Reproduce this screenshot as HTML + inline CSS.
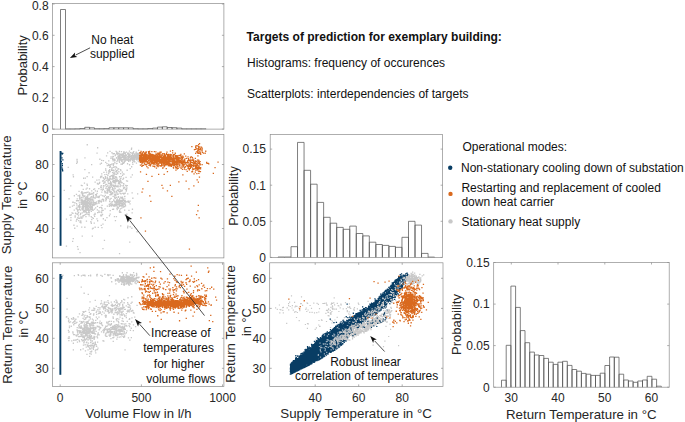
<!DOCTYPE html><html><head><meta charset="utf-8"><style>html,body{margin:0;padding:0;background:#fff;}svg{display:block;}</style></head><body><svg width="685" height="422" viewBox="0 0 685 422">
<rect width="685" height="422" fill="#fff"/>
<path d="M60.50 129.1V9.50H65.50V129.1M65.50 129.1V128.90H70.20V129.1M70.20 129.1V128.90H75.05V129.1M75.05 129.1V128.80H79.90V129.1M79.90 129.1V128.50H84.75V129.1M84.75 129.1V127.30H89.60V129.1M89.60 129.1V127.80H94.45V129.1M94.45 129.1V128.70H99.30V129.1M99.30 129.1V128.70H104.15V129.1M104.15 129.1V128.60H109.00V129.1M109.00 129.1V127.80H113.85V129.1M113.85 129.1V127.80H118.70V129.1M118.70 129.1V127.80H123.55V129.1M123.55 129.1V127.80H128.40V129.1M128.40 129.1V127.90H133.25V129.1M133.25 129.1V128.70H138.10V129.1M138.10 129.1V128.80H142.95V129.1M142.95 129.1V128.80H147.80V129.1M147.80 129.1V128.50H152.65V129.1M152.65 129.1V128.10H157.50V129.1M157.50 129.1V127.10H162.35V129.1M162.35 129.1V126.80H167.20V129.1M167.20 129.1V127.50H172.05V129.1M172.05 129.1V127.70H176.90V129.1M176.90 129.1V128.10H181.75V129.1M181.75 129.1V128.80H186.60V129.1M186.60 129.1V128.80H191.45V129.1M191.45 129.1V128.80H196.30V129.1M196.30 129.1V128.80H201.15V129.1M201.15 129.1V128.80H206.00V129.1" fill="#fff" stroke="#555555" stroke-width="0.75"/>
<rect x="52.6" y="3.6" width="171.30" height="125.50" fill="none" stroke="#8c8c8c" stroke-width="0.7"/>
<line x1="52.6" y1="129.1" x2="54.6" y2="129.1" stroke="#8c8c8c" stroke-width="0.7"/>
<line x1="223.9" y1="129.1" x2="221.9" y2="129.1" stroke="#8c8c8c" stroke-width="0.7"/>
<text x="48.6" y="133.40" text-anchor="end" font-size="12" font-family="Liberation Sans, sans-serif" fill="#262626">0</text>
<line x1="52.6" y1="97.8" x2="54.6" y2="97.8" stroke="#8c8c8c" stroke-width="0.7"/>
<line x1="223.9" y1="97.8" x2="221.9" y2="97.8" stroke="#8c8c8c" stroke-width="0.7"/>
<text x="48.6" y="102.10" text-anchor="end" font-size="12" font-family="Liberation Sans, sans-serif" fill="#262626">0.2</text>
<line x1="52.6" y1="66.6" x2="54.6" y2="66.6" stroke="#8c8c8c" stroke-width="0.7"/>
<line x1="223.9" y1="66.6" x2="221.9" y2="66.6" stroke="#8c8c8c" stroke-width="0.7"/>
<text x="48.6" y="70.90" text-anchor="end" font-size="12" font-family="Liberation Sans, sans-serif" fill="#262626">0.4</text>
<line x1="52.6" y1="35.3" x2="54.6" y2="35.3" stroke="#8c8c8c" stroke-width="0.7"/>
<line x1="223.9" y1="35.3" x2="221.9" y2="35.3" stroke="#8c8c8c" stroke-width="0.7"/>
<text x="48.6" y="39.60" text-anchor="end" font-size="12" font-family="Liberation Sans, sans-serif" fill="#262626">0.6</text>
<line x1="52.6" y1="4.0" x2="54.6" y2="4.0" stroke="#8c8c8c" stroke-width="0.7"/>
<line x1="223.9" y1="4.0" x2="221.9" y2="4.0" stroke="#8c8c8c" stroke-width="0.7"/>
<text x="48.6" y="9.60" text-anchor="end" font-size="12" font-family="Liberation Sans, sans-serif" fill="#262626">0.8</text>
<text transform="translate(27.4,65.4) rotate(-90)" text-anchor="middle" font-size="13" font-family="Liberation Sans, sans-serif" fill="#262626" textLength="60.2" lengthAdjust="spacingAndGlyphs">Probability</text>
<text x="112.3" y="43.9" text-anchor="middle" font-size="12" font-family="Liberation Sans, sans-serif" fill="#111">No heat</text>
<text x="112.3" y="58.0" text-anchor="middle" font-size="12" font-family="Liberation Sans, sans-serif" fill="#111">supplied</text>
<line x1="90.1" y1="47.8" x2="75.71" y2="54.99" stroke="#222" stroke-width="0.8"/>
<path d="M69.90 57.90L75.04 52.53L74.82 55.44L77.28 57.01Z" fill="#111"/>
<path d="M101.4 204.7h1.3v1.3h-1.3zM97.2 183.3h1.3v1.3h-1.3zM94.5 181.5h1.3v1.3h-1.3zM102.3 223.5h1.3v1.3h-1.3zM94.0 188.2h1.3v1.3h-1.3zM108.7 205.8h1.3v1.3h-1.3zM102.9 182.6h1.3v1.3h-1.3zM100.9 211.9h1.3v1.3h-1.3zM81.2 191.1h1.3v1.3h-1.3zM72.8 176.1h1.3v1.3h-1.3zM73.7 195.1h1.3v1.3h-1.3zM82.3 204.2h1.3v1.3h-1.3zM103.7 196.0h1.3v1.3h-1.3zM63.6 189.7h1.3v1.3h-1.3zM100.6 201.4h1.3v1.3h-1.3zM78.4 190.8h1.3v1.3h-1.3zM86.7 184.8h1.3v1.3h-1.3zM117.3 184.8h1.3v1.3h-1.3zM100.9 215.3h1.3v1.3h-1.3zM92.6 197.3h1.3v1.3h-1.3zM103.0 200.5h1.3v1.3h-1.3zM83.0 200.7h1.3v1.3h-1.3zM121.7 171.5h1.3v1.3h-1.3zM114.2 201.5h1.3v1.3h-1.3zM91.7 235.4h1.3v1.3h-1.3zM112.8 177.8h1.3v1.3h-1.3zM102.5 209.7h1.3v1.3h-1.3zM98.5 211.6h1.3v1.3h-1.3zM100.4 211.4h1.3v1.3h-1.3zM122.9 187.2h1.3v1.3h-1.3zM104.4 191.0h1.3v1.3h-1.3zM103.3 178.0h1.3v1.3h-1.3zM92.7 195.8h1.3v1.3h-1.3zM114.8 220.0h1.3v1.3h-1.3zM81.5 185.0h1.3v1.3h-1.3zM111.1 163.5h1.3v1.3h-1.3zM94.4 197.6h1.3v1.3h-1.3zM120.2 211.8h1.3v1.3h-1.3zM96.4 192.7h1.3v1.3h-1.3zM97.6 226.8h1.3v1.3h-1.3zM94.9 193.9h1.3v1.3h-1.3zM106.6 197.2h1.3v1.3h-1.3zM98.4 179.3h1.3v1.3h-1.3zM101.2 191.4h1.3v1.3h-1.3zM118.8 211.1h1.3v1.3h-1.3zM101.0 211.4h1.3v1.3h-1.3zM96.3 218.3h1.3v1.3h-1.3zM101.3 209.9h1.3v1.3h-1.3zM82.0 205.6h1.3v1.3h-1.3zM76.0 162.7h1.3v1.3h-1.3zM96.8 183.2h1.3v1.3h-1.3zM103.8 239.8h1.3v1.3h-1.3zM88.9 188.1h1.3v1.3h-1.3zM104.4 208.2h1.3v1.3h-1.3zM98.7 195.6h1.3v1.3h-1.3zM111.9 208.7h1.3v1.3h-1.3zM85.8 197.9h1.3v1.3h-1.3zM101.9 180.4h1.3v1.3h-1.3zM105.2 183.9h1.3v1.3h-1.3zM115.9 202.8h1.3v1.3h-1.3zM102.7 188.7h1.3v1.3h-1.3zM99.6 163.4h1.3v1.3h-1.3zM84.4 205.9h1.3v1.3h-1.3zM69.4 214.6h1.3v1.3h-1.3zM75.2 213.0h1.3v1.3h-1.3zM88.7 213.4h1.3v1.3h-1.3zM103.3 171.7h1.3v1.3h-1.3zM120.1 225.3h1.3v1.3h-1.3zM100.4 194.4h1.3v1.3h-1.3zM99.0 181.8h1.3v1.3h-1.3zM117.8 189.6h1.3v1.3h-1.3zM100.6 185.1h1.3v1.3h-1.3zM92.0 176.4h1.3v1.3h-1.3zM120.2 196.6h1.3v1.3h-1.3zM115.8 199.6h1.3v1.3h-1.3zM90.9 193.5h1.3v1.3h-1.3zM92.9 199.5h1.3v1.3h-1.3zM95.7 194.0h1.3v1.3h-1.3zM80.7 184.8h1.3v1.3h-1.3zM126.2 187.3h1.3v1.3h-1.3zM85.5 205.4h1.3v1.3h-1.3zM122.5 173.2h1.3v1.3h-1.3zM98.2 188.0h1.3v1.3h-1.3zM74.9 212.6h1.3v1.3h-1.3zM101.0 200.6h1.3v1.3h-1.3zM90.1 207.5h1.3v1.3h-1.3zM93.3 196.8h1.3v1.3h-1.3zM84.7 177.5h1.3v1.3h-1.3zM121.4 190.2h1.3v1.3h-1.3zM105.7 198.7h1.3v1.3h-1.3zM94.7 190.2h1.3v1.3h-1.3zM110.8 193.9h1.3v1.3h-1.3zM99.1 199.7h1.3v1.3h-1.3zM119.0 211.6h1.3v1.3h-1.3zM107.1 189.2h1.3v1.3h-1.3zM80.6 216.4h1.3v1.3h-1.3zM115.8 196.8h1.3v1.3h-1.3zM109.5 213.4h1.3v1.3h-1.3zM113.8 215.9h1.3v1.3h-1.3zM94.5 226.6h1.3v1.3h-1.3zM82.7 214.9h1.3v1.3h-1.3zM108.8 215.1h1.3v1.3h-1.3zM129.5 226.1h1.3v1.3h-1.3zM84.2 169.0h1.3v1.3h-1.3zM113.6 181.1h1.3v1.3h-1.3zM101.2 214.5h1.3v1.3h-1.3zM76.7 161.4h1.3v1.3h-1.3zM105.2 200.1h1.3v1.3h-1.3zM97.7 200.0h1.3v1.3h-1.3zM88.4 172.1h1.3v1.3h-1.3zM98.9 181.9h1.3v1.3h-1.3zM76.7 208.5h1.3v1.3h-1.3zM100.4 206.7h1.3v1.3h-1.3zM86.5 187.5h1.3v1.3h-1.3zM86.4 183.4h1.3v1.3h-1.3zM104.3 185.3h1.3v1.3h-1.3zM106.7 205.5h1.3v1.3h-1.3zM131.7 174.3h1.3v1.3h-1.3zM114.7 197.7h1.3v1.3h-1.3zM101.1 173.3h1.3v1.3h-1.3zM94.4 212.7h1.3v1.3h-1.3zM100.1 200.8h1.3v1.3h-1.3zM97.0 220.1h1.3v1.3h-1.3zM101.0 159.7h1.3v1.3h-1.3zM91.0 163.9h1.3v1.3h-1.3zM121.4 200.2h1.3v1.3h-1.3zM83.8 182.4h1.3v1.3h-1.3zM118.3 202.2h1.3v1.3h-1.3zM102.1 198.4h1.3v1.3h-1.3zM101.9 213.8h1.3v1.3h-1.3zM109.6 203.2h1.3v1.3h-1.3zM85.7 208.5h1.3v1.3h-1.3zM91.1 219.0h1.3v1.3h-1.3zM82.3 196.9h1.3v1.3h-1.3zM101.2 175.5h1.3v1.3h-1.3zM127.2 225.6h1.3v1.3h-1.3zM94.4 213.2h1.3v1.3h-1.3zM107.0 152.3h1.3v1.3h-1.3zM105.1 198.2h1.3v1.3h-1.3zM102.6 180.0h1.3v1.3h-1.3zM97.3 196.1h1.3v1.3h-1.3zM119.2 205.4h1.3v1.3h-1.3zM101.3 226.9h1.3v1.3h-1.3zM93.0 192.3h1.3v1.3h-1.3zM74.1 227.6h1.3v1.3h-1.3zM115.8 215.9h1.3v1.3h-1.3zM111.4 201.3h1.3v1.3h-1.3zM104.6 194.8h1.3v1.3h-1.3zM98.3 200.3h1.3v1.3h-1.3zM124.0 209.4h1.3v1.3h-1.3zM100.5 188.9h1.3v1.3h-1.3zM91.8 228.2h1.3v1.3h-1.3zM109.0 200.6h1.3v1.3h-1.3zM96.2 179.4h1.3v1.3h-1.3zM100.3 215.1h1.3v1.3h-1.3zM95.5 195.3h1.3v1.3h-1.3zM98.0 201.3h1.3v1.3h-1.3zM77.5 195.1h1.3v1.3h-1.3zM88.5 215.3h1.3v1.3h-1.3zM131.5 212.3h1.3v1.3h-1.3zM72.5 201.6h1.3v1.3h-1.3zM70.1 185.2h1.3v1.3h-1.3zM136.5 231.1h1.3v1.3h-1.3zM72.0 240.7h1.3v1.3h-1.3zM76.4 160.2h1.3v1.3h-1.3zM105.9 155.2h1.3v1.3h-1.3zM96.4 152.5h1.3v1.3h-1.3zM118.9 253.0h1.3v1.3h-1.3zM77.5 248.6h1.3v1.3h-1.3zM131.0 166.1h1.3v1.3h-1.3zM79.4 251.9h1.3v1.3h-1.3zM120.3 163.5h1.3v1.3h-1.3zM68.4 198.1h1.3v1.3h-1.3zM98.4 197.0h1.3v1.3h-1.3zM65.8 245.5h1.3v1.3h-1.3zM86.6 144.1h1.3v1.3h-1.3zM86.5 175.9h1.3v1.3h-1.3zM116.6 208.9h1.3v1.3h-1.3zM97.0 147.1h1.3v1.3h-1.3zM67.6 166.8h1.3v1.3h-1.3zM137.0 193.3h1.3v1.3h-1.3zM129.1 241.5h1.3v1.3h-1.3zM131.2 227.6h1.3v1.3h-1.3zM81.6 235.5h1.3v1.3h-1.3zM92.5 227.6h1.3v1.3h-1.3zM80.2 221.4h1.3v1.3h-1.3zM72.6 237.9h1.3v1.3h-1.3zM65.8 218.4h1.3v1.3h-1.3zM100.6 224.7h1.3v1.3h-1.3zM72.5 174.3h1.3v1.3h-1.3zM76.4 158.8h1.3v1.3h-1.3zM127.0 227.1h1.3v1.3h-1.3zM99.2 158.6h1.3v1.3h-1.3zM76.9 246.0h1.3v1.3h-1.3zM112.9 208.6h1.3v1.3h-1.3zM83.0 177.6h1.3v1.3h-1.3zM102.3 248.0h1.3v1.3h-1.3zM84.3 157.3h1.3v1.3h-1.3zM101.5 199.0h1.3v1.3h-1.3zM92.9 192.0h1.3v1.3h-1.3zM83.0 203.4h1.3v1.3h-1.3zM89.5 200.1h1.3v1.3h-1.3zM93.0 203.6h1.3v1.3h-1.3zM80.7 196.8h1.3v1.3h-1.3zM91.8 205.1h1.3v1.3h-1.3zM76.9 210.4h1.3v1.3h-1.3zM90.6 210.4h1.3v1.3h-1.3zM85.2 200.6h1.3v1.3h-1.3zM81.2 217.6h1.3v1.3h-1.3zM86.4 211.9h1.3v1.3h-1.3zM83.8 203.3h1.3v1.3h-1.3zM78.2 200.1h1.3v1.3h-1.3zM92.8 194.8h1.3v1.3h-1.3zM93.2 204.4h1.3v1.3h-1.3zM81.6 199.3h1.3v1.3h-1.3zM84.8 202.1h1.3v1.3h-1.3zM84.4 197.4h1.3v1.3h-1.3zM85.7 196.2h1.3v1.3h-1.3zM80.3 202.1h1.3v1.3h-1.3zM92.2 193.2h1.3v1.3h-1.3zM87.4 198.5h1.3v1.3h-1.3zM82.0 207.5h1.3v1.3h-1.3zM84.5 211.3h1.3v1.3h-1.3zM83.1 204.7h1.3v1.3h-1.3zM86.1 197.8h1.3v1.3h-1.3zM90.6 201.4h1.3v1.3h-1.3zM90.7 202.1h1.3v1.3h-1.3zM81.4 201.7h1.3v1.3h-1.3zM87.6 208.1h1.3v1.3h-1.3zM82.4 202.1h1.3v1.3h-1.3zM77.9 206.3h1.3v1.3h-1.3zM81.4 191.5h1.3v1.3h-1.3zM87.0 209.0h1.3v1.3h-1.3zM79.0 195.8h1.3v1.3h-1.3zM83.3 195.6h1.3v1.3h-1.3zM89.4 197.5h1.3v1.3h-1.3zM83.4 205.8h1.3v1.3h-1.3zM83.2 204.9h1.3v1.3h-1.3zM82.0 195.1h1.3v1.3h-1.3zM77.3 213.5h1.3v1.3h-1.3zM85.6 203.8h1.3v1.3h-1.3zM87.2 203.3h1.3v1.3h-1.3zM87.6 213.8h1.3v1.3h-1.3zM81.6 193.0h1.3v1.3h-1.3zM81.8 194.3h1.3v1.3h-1.3zM91.5 207.3h1.3v1.3h-1.3zM82.1 194.0h1.3v1.3h-1.3zM85.4 210.7h1.3v1.3h-1.3zM71.8 205.5h1.3v1.3h-1.3zM81.4 208.6h1.3v1.3h-1.3zM81.4 200.6h1.3v1.3h-1.3zM79.1 196.5h1.3v1.3h-1.3zM95.0 207.3h1.3v1.3h-1.3zM85.1 197.1h1.3v1.3h-1.3zM76.9 200.0h1.3v1.3h-1.3zM87.2 201.8h1.3v1.3h-1.3zM86.8 195.6h1.3v1.3h-1.3zM87.0 202.1h1.3v1.3h-1.3zM94.4 213.6h1.3v1.3h-1.3zM86.6 197.8h1.3v1.3h-1.3zM87.0 198.7h1.3v1.3h-1.3zM83.3 202.0h1.3v1.3h-1.3zM81.6 206.0h1.3v1.3h-1.3zM86.8 203.9h1.3v1.3h-1.3zM86.3 198.0h1.3v1.3h-1.3zM82.1 200.9h1.3v1.3h-1.3zM84.3 203.8h1.3v1.3h-1.3zM87.3 194.2h1.3v1.3h-1.3zM87.7 194.3h1.3v1.3h-1.3zM84.0 200.6h1.3v1.3h-1.3zM75.9 202.9h1.3v1.3h-1.3zM88.2 201.4h1.3v1.3h-1.3zM85.0 200.1h1.3v1.3h-1.3zM82.0 200.7h1.3v1.3h-1.3zM84.3 202.9h1.3v1.3h-1.3zM80.7 203.8h1.3v1.3h-1.3zM88.1 201.5h1.3v1.3h-1.3zM84.9 205.7h1.3v1.3h-1.3zM78.2 205.1h1.3v1.3h-1.3zM88.7 204.1h1.3v1.3h-1.3zM89.5 198.4h1.3v1.3h-1.3zM85.9 206.2h1.3v1.3h-1.3zM89.7 203.6h1.3v1.3h-1.3zM79.0 205.6h1.3v1.3h-1.3zM93.8 208.4h1.3v1.3h-1.3zM88.6 193.0h1.3v1.3h-1.3zM92.5 201.5h1.3v1.3h-1.3zM73.4 204.6h1.3v1.3h-1.3zM79.1 194.6h1.3v1.3h-1.3zM83.9 210.0h1.3v1.3h-1.3zM85.3 204.0h1.3v1.3h-1.3zM97.0 211.9h1.3v1.3h-1.3zM86.8 200.9h1.3v1.3h-1.3zM80.4 198.2h1.3v1.3h-1.3zM89.7 204.7h1.3v1.3h-1.3zM88.0 208.3h1.3v1.3h-1.3zM83.1 202.0h1.3v1.3h-1.3zM91.4 205.9h1.3v1.3h-1.3zM93.2 204.7h1.3v1.3h-1.3zM85.6 204.5h1.3v1.3h-1.3zM81.8 192.5h1.3v1.3h-1.3zM90.5 202.0h1.3v1.3h-1.3zM89.0 192.2h1.3v1.3h-1.3zM85.3 198.8h1.3v1.3h-1.3zM82.6 188.8h1.3v1.3h-1.3zM85.5 207.7h1.3v1.3h-1.3zM89.4 198.7h1.3v1.3h-1.3zM87.3 206.9h1.3v1.3h-1.3zM72.2 201.6h1.3v1.3h-1.3zM90.3 206.4h1.3v1.3h-1.3zM96.7 209.2h1.3v1.3h-1.3zM89.1 204.2h1.3v1.3h-1.3zM91.7 199.1h1.3v1.3h-1.3zM87.1 207.8h1.3v1.3h-1.3zM98.1 201.4h1.3v1.3h-1.3zM87.1 203.5h1.3v1.3h-1.3zM94.7 202.2h1.3v1.3h-1.3zM95.4 196.6h1.3v1.3h-1.3zM86.3 201.2h1.3v1.3h-1.3zM91.7 208.6h1.3v1.3h-1.3zM79.0 196.9h1.3v1.3h-1.3zM89.2 198.4h1.3v1.3h-1.3zM79.0 208.6h1.3v1.3h-1.3zM90.1 205.3h1.3v1.3h-1.3zM84.7 208.5h1.3v1.3h-1.3zM86.0 208.9h1.3v1.3h-1.3zM82.3 197.2h1.3v1.3h-1.3zM88.5 198.1h1.3v1.3h-1.3zM91.1 203.9h1.3v1.3h-1.3zM82.3 202.8h1.3v1.3h-1.3zM85.4 207.8h1.3v1.3h-1.3zM83.9 199.7h1.3v1.3h-1.3zM94.0 215.8h1.3v1.3h-1.3zM98.3 202.7h1.3v1.3h-1.3zM88.6 211.6h1.3v1.3h-1.3zM86.7 196.5h1.3v1.3h-1.3zM88.0 205.1h1.3v1.3h-1.3zM82.8 192.5h1.3v1.3h-1.3zM79.4 206.3h1.3v1.3h-1.3zM83.2 201.5h1.3v1.3h-1.3zM88.5 206.1h1.3v1.3h-1.3zM85.5 205.3h1.3v1.3h-1.3zM82.5 200.2h1.3v1.3h-1.3zM81.7 209.1h1.3v1.3h-1.3zM87.2 197.9h1.3v1.3h-1.3zM85.4 201.0h1.3v1.3h-1.3zM91.2 192.8h1.3v1.3h-1.3zM81.6 200.1h1.3v1.3h-1.3zM101.3 208.1h1.3v1.3h-1.3zM86.7 206.6h1.3v1.3h-1.3zM98.7 200.9h1.3v1.3h-1.3zM85.3 209.6h1.3v1.3h-1.3zM90.1 206.4h1.3v1.3h-1.3zM84.6 213.9h1.3v1.3h-1.3zM96.8 205.7h1.3v1.3h-1.3zM91.1 190.2h1.3v1.3h-1.3zM90.9 201.2h1.3v1.3h-1.3zM89.7 206.4h1.3v1.3h-1.3zM85.5 192.2h1.3v1.3h-1.3zM89.4 197.9h1.3v1.3h-1.3zM85.5 198.7h1.3v1.3h-1.3zM85.5 188.5h1.3v1.3h-1.3zM94.0 203.9h1.3v1.3h-1.3zM93.5 214.2h1.3v1.3h-1.3zM87.5 191.5h1.3v1.3h-1.3zM82.4 195.1h1.3v1.3h-1.3zM84.6 202.8h1.3v1.3h-1.3zM76.3 204.4h1.3v1.3h-1.3zM79.0 204.1h1.3v1.3h-1.3zM86.7 200.5h1.3v1.3h-1.3zM86.9 199.1h1.3v1.3h-1.3zM84.0 192.3h1.3v1.3h-1.3zM87.2 213.4h1.3v1.3h-1.3zM98.2 210.3h1.3v1.3h-1.3zM91.2 198.3h1.3v1.3h-1.3zM95.3 202.0h1.3v1.3h-1.3zM87.0 200.6h1.3v1.3h-1.3zM87.9 199.7h1.3v1.3h-1.3zM86.9 195.8h1.3v1.3h-1.3zM85.3 216.0h1.3v1.3h-1.3zM87.0 200.9h1.3v1.3h-1.3zM90.3 206.6h1.3v1.3h-1.3zM81.2 201.1h1.3v1.3h-1.3zM92.4 204.0h1.3v1.3h-1.3zM88.0 211.7h1.3v1.3h-1.3zM83.6 202.8h1.3v1.3h-1.3zM84.5 211.3h1.3v1.3h-1.3zM76.6 198.3h1.3v1.3h-1.3zM84.4 206.3h1.3v1.3h-1.3zM90.7 210.7h1.3v1.3h-1.3zM78.7 206.9h1.3v1.3h-1.3zM85.7 198.4h1.3v1.3h-1.3zM90.3 196.8h1.3v1.3h-1.3zM75.9 200.1h1.3v1.3h-1.3zM79.1 198.5h1.3v1.3h-1.3zM89.4 204.2h1.3v1.3h-1.3zM96.1 201.2h1.3v1.3h-1.3zM78.9 197.8h1.3v1.3h-1.3zM82.3 195.0h1.3v1.3h-1.3zM89.7 198.5h1.3v1.3h-1.3zM76.5 206.5h1.3v1.3h-1.3zM86.7 204.5h1.3v1.3h-1.3zM87.9 206.1h1.3v1.3h-1.3zM87.6 209.8h1.3v1.3h-1.3zM89.7 204.7h1.3v1.3h-1.3zM89.6 193.6h1.3v1.3h-1.3zM86.4 200.8h1.3v1.3h-1.3zM88.5 194.2h1.3v1.3h-1.3zM96.3 203.0h1.3v1.3h-1.3zM80.7 192.1h1.3v1.3h-1.3zM85.8 201.8h1.3v1.3h-1.3zM83.4 202.9h1.3v1.3h-1.3zM83.8 205.7h1.3v1.3h-1.3zM83.4 202.1h1.3v1.3h-1.3zM92.7 217.8h1.3v1.3h-1.3zM81.8 199.6h1.3v1.3h-1.3zM82.7 207.1h1.3v1.3h-1.3zM81.0 199.4h1.3v1.3h-1.3zM87.2 196.5h1.3v1.3h-1.3zM82.1 199.5h1.3v1.3h-1.3zM75.8 193.7h1.3v1.3h-1.3zM85.1 203.2h1.3v1.3h-1.3zM86.3 191.7h1.3v1.3h-1.3zM84.8 207.1h1.3v1.3h-1.3zM90.4 201.9h1.3v1.3h-1.3zM82.5 206.1h1.3v1.3h-1.3zM84.2 195.3h1.3v1.3h-1.3zM82.9 211.0h1.3v1.3h-1.3zM88.6 209.3h1.3v1.3h-1.3zM84.7 208.0h1.3v1.3h-1.3zM84.0 201.4h1.3v1.3h-1.3zM101.0 207.0h1.3v1.3h-1.3zM84.6 201.8h1.3v1.3h-1.3zM89.1 209.6h1.3v1.3h-1.3zM84.7 191.9h1.3v1.3h-1.3zM85.8 202.4h1.3v1.3h-1.3zM88.0 210.3h1.3v1.3h-1.3zM89.1 207.2h1.3v1.3h-1.3zM81.3 207.6h1.3v1.3h-1.3zM98.9 207.0h1.3v1.3h-1.3zM88.7 203.3h1.3v1.3h-1.3zM97.2 196.8h1.3v1.3h-1.3zM86.7 205.1h1.3v1.3h-1.3zM91.4 199.7h1.3v1.3h-1.3zM89.0 200.7h1.3v1.3h-1.3zM88.0 201.6h1.3v1.3h-1.3zM81.1 202.2h1.3v1.3h-1.3zM92.2 196.5h1.3v1.3h-1.3zM86.0 206.3h1.3v1.3h-1.3zM81.5 203.4h1.3v1.3h-1.3zM81.5 209.2h1.3v1.3h-1.3zM100.1 214.5h1.3v1.3h-1.3zM86.1 206.8h1.3v1.3h-1.3zM88.0 203.0h1.3v1.3h-1.3zM95.9 194.4h1.3v1.3h-1.3zM93.2 202.1h1.3v1.3h-1.3zM95.1 203.5h1.3v1.3h-1.3zM83.7 204.0h1.3v1.3h-1.3zM91.4 202.6h1.3v1.3h-1.3zM90.0 199.2h1.3v1.3h-1.3zM75.6 207.8h1.3v1.3h-1.3zM91.2 203.2h1.3v1.3h-1.3zM87.7 208.6h1.3v1.3h-1.3zM84.8 198.1h1.3v1.3h-1.3zM86.3 209.5h1.3v1.3h-1.3zM79.7 209.5h1.3v1.3h-1.3zM83.8 195.7h1.3v1.3h-1.3zM94.3 201.8h1.3v1.3h-1.3zM80.2 200.2h1.3v1.3h-1.3zM92.5 209.5h1.3v1.3h-1.3zM85.0 204.8h1.3v1.3h-1.3zM91.3 198.5h1.3v1.3h-1.3zM89.3 202.2h1.3v1.3h-1.3zM84.4 199.4h1.3v1.3h-1.3zM87.7 202.5h1.3v1.3h-1.3zM84.2 199.8h1.3v1.3h-1.3zM93.5 203.6h1.3v1.3h-1.3zM92.2 209.6h1.3v1.3h-1.3zM90.6 216.0h1.3v1.3h-1.3zM82.8 207.2h1.3v1.3h-1.3zM85.6 213.5h1.3v1.3h-1.3zM96.7 190.6h1.3v1.3h-1.3zM82.0 206.3h1.3v1.3h-1.3zM91.7 206.8h1.3v1.3h-1.3zM87.0 205.1h1.3v1.3h-1.3zM90.9 201.9h1.3v1.3h-1.3zM93.0 188.8h1.3v1.3h-1.3zM90.8 196.1h1.3v1.3h-1.3zM92.6 201.0h1.3v1.3h-1.3zM82.5 204.6h1.3v1.3h-1.3zM82.3 196.9h1.3v1.3h-1.3zM78.7 202.2h1.3v1.3h-1.3zM90.1 208.5h1.3v1.3h-1.3zM86.6 208.6h1.3v1.3h-1.3zM87.4 201.8h1.3v1.3h-1.3zM90.5 208.7h1.3v1.3h-1.3zM85.5 200.9h1.3v1.3h-1.3zM86.5 202.8h1.3v1.3h-1.3zM82.4 208.5h1.3v1.3h-1.3zM79.3 217.6h1.3v1.3h-1.3zM77.2 216.9h1.3v1.3h-1.3zM83.3 211.4h1.3v1.3h-1.3zM91.5 216.9h1.3v1.3h-1.3zM90.2 221.1h1.3v1.3h-1.3zM78.0 211.7h1.3v1.3h-1.3zM83.5 214.8h1.3v1.3h-1.3zM81.6 212.3h1.3v1.3h-1.3zM72.3 212.8h1.3v1.3h-1.3zM70.3 217.0h1.3v1.3h-1.3zM77.7 209.3h1.3v1.3h-1.3zM80.3 216.3h1.3v1.3h-1.3zM74.2 202.1h1.3v1.3h-1.3zM76.0 200.1h1.3v1.3h-1.3zM76.5 225.5h1.3v1.3h-1.3zM76.1 218.9h1.3v1.3h-1.3zM74.5 216.4h1.3v1.3h-1.3zM79.8 213.9h1.3v1.3h-1.3zM84.2 226.6h1.3v1.3h-1.3zM82.3 215.2h1.3v1.3h-1.3zM76.5 218.4h1.3v1.3h-1.3zM80.1 220.2h1.3v1.3h-1.3zM81.1 226.5h1.3v1.3h-1.3zM71.4 212.3h1.3v1.3h-1.3zM85.8 211.9h1.3v1.3h-1.3zM77.4 212.5h1.3v1.3h-1.3zM74.5 215.2h1.3v1.3h-1.3zM93.6 222.4h1.3v1.3h-1.3zM75.8 208.2h1.3v1.3h-1.3zM79.3 221.4h1.3v1.3h-1.3zM77.2 209.5h1.3v1.3h-1.3zM85.8 220.4h1.3v1.3h-1.3zM79.5 206.5h1.3v1.3h-1.3zM73.6 209.5h1.3v1.3h-1.3zM70.2 219.6h1.3v1.3h-1.3zM78.2 217.7h1.3v1.3h-1.3zM90.7 222.6h1.3v1.3h-1.3zM75.6 220.4h1.3v1.3h-1.3zM87.1 209.1h1.3v1.3h-1.3zM76.6 213.6h1.3v1.3h-1.3zM73.3 224.6h1.3v1.3h-1.3zM69.3 206.6h1.3v1.3h-1.3zM80.0 212.8h1.3v1.3h-1.3zM82.2 216.3h1.3v1.3h-1.3zM80.3 222.3h1.3v1.3h-1.3zM70.7 214.3h1.3v1.3h-1.3zM77.8 215.3h1.3v1.3h-1.3zM82.5 208.0h1.3v1.3h-1.3zM78.1 219.9h1.3v1.3h-1.3zM83.1 209.6h1.3v1.3h-1.3zM131.8 208.6h1.3v1.3h-1.3zM105.9 192.3h1.3v1.3h-1.3zM131.5 192.3h1.3v1.3h-1.3zM115.3 184.9h1.3v1.3h-1.3zM110.6 185.8h1.3v1.3h-1.3zM112.5 195.7h1.3v1.3h-1.3zM111.0 183.3h1.3v1.3h-1.3zM106.8 188.3h1.3v1.3h-1.3zM108.5 186.6h1.3v1.3h-1.3zM121.5 189.8h1.3v1.3h-1.3zM118.2 190.4h1.3v1.3h-1.3zM114.4 186.0h1.3v1.3h-1.3zM114.0 195.5h1.3v1.3h-1.3zM110.5 202.5h1.3v1.3h-1.3zM113.0 179.6h1.3v1.3h-1.3zM109.9 181.0h1.3v1.3h-1.3zM113.8 179.8h1.3v1.3h-1.3zM119.8 177.9h1.3v1.3h-1.3zM98.8 182.7h1.3v1.3h-1.3zM101.9 189.5h1.3v1.3h-1.3zM122.2 192.7h1.3v1.3h-1.3zM104.5 181.2h1.3v1.3h-1.3zM126.0 188.4h1.3v1.3h-1.3zM116.6 198.2h1.3v1.3h-1.3zM132.2 197.6h1.3v1.3h-1.3zM116.0 190.8h1.3v1.3h-1.3zM116.9 180.3h1.3v1.3h-1.3zM107.9 189.2h1.3v1.3h-1.3zM108.4 187.9h1.3v1.3h-1.3zM119.8 211.3h1.3v1.3h-1.3zM108.8 187.2h1.3v1.3h-1.3zM114.2 192.1h1.3v1.3h-1.3zM119.8 181.0h1.3v1.3h-1.3zM105.9 171.5h1.3v1.3h-1.3zM109.8 194.0h1.3v1.3h-1.3zM112.5 176.8h1.3v1.3h-1.3zM112.1 188.1h1.3v1.3h-1.3zM116.2 180.6h1.3v1.3h-1.3zM109.0 169.0h1.3v1.3h-1.3zM110.6 205.4h1.3v1.3h-1.3zM100.1 186.6h1.3v1.3h-1.3zM114.9 183.2h1.3v1.3h-1.3zM109.2 187.7h1.3v1.3h-1.3zM114.1 186.5h1.3v1.3h-1.3zM102.4 188.2h1.3v1.3h-1.3zM107.9 182.8h1.3v1.3h-1.3zM117.1 193.7h1.3v1.3h-1.3zM118.9 181.1h1.3v1.3h-1.3zM122.5 198.3h1.3v1.3h-1.3zM124.3 200.2h1.3v1.3h-1.3zM113.1 185.7h1.3v1.3h-1.3zM116.6 172.3h1.3v1.3h-1.3zM114.5 181.6h1.3v1.3h-1.3zM108.4 169.9h1.3v1.3h-1.3zM108.8 188.3h1.3v1.3h-1.3zM121.9 196.4h1.3v1.3h-1.3zM113.5 185.5h1.3v1.3h-1.3zM110.1 192.5h1.3v1.3h-1.3zM114.1 193.9h1.3v1.3h-1.3zM125.1 184.8h1.3v1.3h-1.3zM103.3 180.4h1.3v1.3h-1.3zM102.8 176.9h1.3v1.3h-1.3zM122.9 188.0h1.3v1.3h-1.3zM106.3 196.0h1.3v1.3h-1.3zM121.4 182.1h1.3v1.3h-1.3zM109.5 184.7h1.3v1.3h-1.3zM117.4 193.6h1.3v1.3h-1.3zM124.2 198.3h1.3v1.3h-1.3zM124.5 199.9h1.3v1.3h-1.3zM115.2 170.8h1.3v1.3h-1.3zM114.2 190.7h1.3v1.3h-1.3zM113.9 197.2h1.3v1.3h-1.3zM110.2 178.3h1.3v1.3h-1.3zM124.7 192.4h1.3v1.3h-1.3zM117.6 196.6h1.3v1.3h-1.3zM121.6 189.5h1.3v1.3h-1.3zM97.8 183.5h1.3v1.3h-1.3zM109.5 177.8h1.3v1.3h-1.3zM118.1 199.4h1.3v1.3h-1.3zM109.0 176.3h1.3v1.3h-1.3zM125.9 180.2h1.3v1.3h-1.3zM107.2 191.3h1.3v1.3h-1.3zM115.5 179.6h1.3v1.3h-1.3zM118.2 181.3h1.3v1.3h-1.3zM109.0 190.3h1.3v1.3h-1.3zM117.8 179.9h1.3v1.3h-1.3zM116.2 186.0h1.3v1.3h-1.3zM130.3 176.5h1.3v1.3h-1.3zM122.8 185.1h1.3v1.3h-1.3zM115.1 194.9h1.3v1.3h-1.3zM122.5 199.3h1.3v1.3h-1.3zM115.1 180.8h1.3v1.3h-1.3zM112.1 193.3h1.3v1.3h-1.3zM120.9 201.0h1.3v1.3h-1.3zM119.1 197.7h1.3v1.3h-1.3zM124.1 187.1h1.3v1.3h-1.3zM102.7 177.1h1.3v1.3h-1.3zM108.8 205.5h1.3v1.3h-1.3zM111.7 201.1h1.3v1.3h-1.3zM121.5 204.3h1.3v1.3h-1.3zM120.3 185.0h1.3v1.3h-1.3zM113.3 188.5h1.3v1.3h-1.3zM114.3 181.7h1.3v1.3h-1.3zM117.5 204.0h1.3v1.3h-1.3zM104.4 192.1h1.3v1.3h-1.3zM109.1 190.4h1.3v1.3h-1.3zM119.4 185.7h1.3v1.3h-1.3zM115.8 170.0h1.3v1.3h-1.3zM119.9 179.8h1.3v1.3h-1.3zM118.6 188.4h1.3v1.3h-1.3zM96.8 182.8h1.3v1.3h-1.3zM119.0 203.1h1.3v1.3h-1.3zM116.7 189.6h1.3v1.3h-1.3zM108.6 203.8h1.3v1.3h-1.3zM125.6 185.4h1.3v1.3h-1.3zM109.6 171.0h1.3v1.3h-1.3zM125.4 214.1h1.3v1.3h-1.3zM121.4 199.5h1.3v1.3h-1.3zM115.6 176.5h1.3v1.3h-1.3zM120.0 173.0h1.3v1.3h-1.3zM113.6 190.5h1.3v1.3h-1.3zM120.7 190.5h1.3v1.3h-1.3zM115.1 179.0h1.3v1.3h-1.3zM106.5 189.6h1.3v1.3h-1.3zM107.2 174.8h1.3v1.3h-1.3zM105.5 183.9h1.3v1.3h-1.3zM100.1 175.8h1.3v1.3h-1.3zM104.6 191.3h1.3v1.3h-1.3zM121.1 207.5h1.3v1.3h-1.3zM103.7 182.2h1.3v1.3h-1.3zM119.5 184.0h1.3v1.3h-1.3zM115.9 205.3h1.3v1.3h-1.3zM109.8 175.9h1.3v1.3h-1.3zM106.9 192.5h1.3v1.3h-1.3zM113.4 172.9h1.3v1.3h-1.3zM109.4 194.1h1.3v1.3h-1.3zM116.6 180.0h1.3v1.3h-1.3zM119.4 192.5h1.3v1.3h-1.3zM102.7 186.4h1.3v1.3h-1.3zM115.7 180.9h1.3v1.3h-1.3zM100.6 187.1h1.3v1.3h-1.3zM122.3 202.7h1.3v1.3h-1.3zM106.3 217.0h1.3v1.3h-1.3zM109.4 198.6h1.3v1.3h-1.3zM124.0 195.9h1.3v1.3h-1.3zM112.9 175.2h1.3v1.3h-1.3zM116.7 179.2h1.3v1.3h-1.3zM104.7 219.6h1.3v1.3h-1.3zM122.5 205.2h1.3v1.3h-1.3zM111.8 203.6h1.3v1.3h-1.3zM127.4 201.4h1.3v1.3h-1.3zM111.7 175.0h1.3v1.3h-1.3zM108.7 164.9h1.3v1.3h-1.3zM104.0 190.4h1.3v1.3h-1.3zM107.9 186.9h1.3v1.3h-1.3zM117.7 207.4h1.3v1.3h-1.3zM122.3 185.3h1.3v1.3h-1.3zM120.2 177.8h1.3v1.3h-1.3zM114.2 197.1h1.3v1.3h-1.3zM106.1 186.0h1.3v1.3h-1.3zM106.4 190.2h1.3v1.3h-1.3zM122.9 177.6h1.3v1.3h-1.3zM113.9 177.8h1.3v1.3h-1.3zM104.7 176.1h1.3v1.3h-1.3zM128.3 209.8h1.3v1.3h-1.3zM115.8 179.4h1.3v1.3h-1.3zM118.0 183.0h1.3v1.3h-1.3zM119.9 189.3h1.3v1.3h-1.3zM117.3 193.2h1.3v1.3h-1.3zM109.9 183.9h1.3v1.3h-1.3zM102.8 185.0h1.3v1.3h-1.3zM105.3 187.6h1.3v1.3h-1.3zM108.6 189.6h1.3v1.3h-1.3zM114.2 172.2h1.3v1.3h-1.3zM107.4 178.7h1.3v1.3h-1.3zM122.5 204.0h1.3v1.3h-1.3zM118.9 182.7h1.3v1.3h-1.3zM120.2 169.9h1.3v1.3h-1.3zM122.2 178.7h1.3v1.3h-1.3zM102.7 218.1h1.3v1.3h-1.3zM121.9 174.8h1.3v1.3h-1.3zM114.9 184.9h1.3v1.3h-1.3zM111.9 172.0h1.3v1.3h-1.3zM111.1 193.0h1.3v1.3h-1.3zM118.2 199.4h1.3v1.3h-1.3zM119.7 211.4h1.3v1.3h-1.3zM110.5 190.9h1.3v1.3h-1.3zM99.9 176.9h1.3v1.3h-1.3zM120.6 176.0h1.3v1.3h-1.3zM117.5 186.1h1.3v1.3h-1.3zM107.2 185.1h1.3v1.3h-1.3zM110.2 183.0h1.3v1.3h-1.3zM120.4 193.1h1.3v1.3h-1.3zM108.9 178.7h1.3v1.3h-1.3zM115.9 186.0h1.3v1.3h-1.3zM126.2 213.4h1.3v1.3h-1.3zM119.5 185.9h1.3v1.3h-1.3zM111.5 178.7h1.3v1.3h-1.3zM106.7 178.2h1.3v1.3h-1.3zM111.0 183.4h1.3v1.3h-1.3zM118.1 182.3h1.3v1.3h-1.3zM110.6 175.1h1.3v1.3h-1.3zM125.6 190.5h1.3v1.3h-1.3zM127.1 193.3h1.3v1.3h-1.3zM123.0 182.9h1.3v1.3h-1.3zM124.4 214.3h1.3v1.3h-1.3zM109.2 201.0h1.3v1.3h-1.3zM125.7 189.6h1.3v1.3h-1.3zM121.7 199.6h1.3v1.3h-1.3zM111.1 192.5h1.3v1.3h-1.3zM107.4 181.3h1.3v1.3h-1.3zM110.1 186.6h1.3v1.3h-1.3zM116.2 191.9h1.3v1.3h-1.3zM109.6 210.0h1.3v1.3h-1.3zM123.2 193.5h1.3v1.3h-1.3zM111.9 186.9h1.3v1.3h-1.3zM118.7 191.0h1.3v1.3h-1.3zM105.3 197.3h1.3v1.3h-1.3zM128.9 164.1h1.3v1.3h-1.3zM121.4 190.0h1.3v1.3h-1.3zM116.6 202.0h1.3v1.3h-1.3zM107.2 190.6h1.3v1.3h-1.3zM123.2 183.4h1.3v1.3h-1.3zM111.9 189.1h1.3v1.3h-1.3zM114.8 204.3h1.3v1.3h-1.3zM110.5 197.7h1.3v1.3h-1.3zM107.8 196.0h1.3v1.3h-1.3zM108.1 160.2h1.3v1.3h-1.3zM112.0 176.1h1.3v1.3h-1.3zM114.8 204.2h1.3v1.3h-1.3zM105.0 177.6h1.3v1.3h-1.3zM123.7 186.7h1.3v1.3h-1.3zM124.8 188.8h1.3v1.3h-1.3zM108.6 187.8h1.3v1.3h-1.3zM124.2 195.7h1.3v1.3h-1.3zM114.5 187.9h1.3v1.3h-1.3zM112.4 181.4h1.3v1.3h-1.3zM126.6 184.9h1.3v1.3h-1.3zM106.1 183.8h1.3v1.3h-1.3zM120.3 193.2h1.3v1.3h-1.3zM112.0 180.5h1.3v1.3h-1.3zM110.9 169.6h1.3v1.3h-1.3zM107.8 197.5h1.3v1.3h-1.3zM112.1 191.9h1.3v1.3h-1.3zM123.5 192.7h1.3v1.3h-1.3zM119.0 209.8h1.3v1.3h-1.3zM117.8 182.7h1.3v1.3h-1.3zM119.9 190.7h1.3v1.3h-1.3zM109.1 189.2h1.3v1.3h-1.3zM109.1 166.8h1.3v1.3h-1.3zM112.6 184.6h1.3v1.3h-1.3zM108.0 170.5h1.3v1.3h-1.3zM112.0 187.4h1.3v1.3h-1.3zM112.6 175.2h1.3v1.3h-1.3zM115.8 173.7h1.3v1.3h-1.3zM115.7 201.4h1.3v1.3h-1.3zM108.9 182.8h1.3v1.3h-1.3zM120.3 181.9h1.3v1.3h-1.3zM112.9 190.1h1.3v1.3h-1.3zM116.3 162.7h1.3v1.3h-1.3zM106.9 177.8h1.3v1.3h-1.3zM105.6 179.7h1.3v1.3h-1.3zM109.7 191.6h1.3v1.3h-1.3zM109.0 189.8h1.3v1.3h-1.3zM115.3 179.1h1.3v1.3h-1.3zM118.7 204.4h1.3v1.3h-1.3zM115.0 180.2h1.3v1.3h-1.3zM112.0 177.8h1.3v1.3h-1.3zM117.9 196.1h1.3v1.3h-1.3zM108.7 186.2h1.3v1.3h-1.3zM120.3 180.7h1.3v1.3h-1.3zM113.4 176.3h1.3v1.3h-1.3zM108.1 183.0h1.3v1.3h-1.3zM126.9 180.4h1.3v1.3h-1.3zM109.9 182.2h1.3v1.3h-1.3zM114.7 194.3h1.3v1.3h-1.3zM119.8 208.3h1.3v1.3h-1.3zM118.7 202.0h1.3v1.3h-1.3zM117.3 193.2h1.3v1.3h-1.3zM105.2 187.8h1.3v1.3h-1.3zM113.4 184.9h1.3v1.3h-1.3zM102.9 199.1h1.3v1.3h-1.3zM111.0 183.3h1.3v1.3h-1.3zM112.3 185.3h1.3v1.3h-1.3zM114.2 173.8h1.3v1.3h-1.3zM109.2 191.5h1.3v1.3h-1.3zM114.5 183.3h1.3v1.3h-1.3zM109.1 179.5h1.3v1.3h-1.3zM116.5 199.6h1.3v1.3h-1.3zM111.0 204.4h1.3v1.3h-1.3zM118.6 181.6h1.3v1.3h-1.3zM116.1 171.3h1.3v1.3h-1.3zM101.0 176.2h1.3v1.3h-1.3zM111.1 184.5h1.3v1.3h-1.3zM111.4 189.0h1.3v1.3h-1.3zM102.2 195.1h1.3v1.3h-1.3zM104.2 182.3h1.3v1.3h-1.3zM109.4 176.0h1.3v1.3h-1.3zM103.8 178.7h1.3v1.3h-1.3zM115.5 193.4h1.3v1.3h-1.3zM121.9 200.1h1.3v1.3h-1.3zM115.8 200.2h1.3v1.3h-1.3zM121.4 197.7h1.3v1.3h-1.3zM124.9 201.2h1.3v1.3h-1.3zM115.8 203.1h1.3v1.3h-1.3zM124.0 203.1h1.3v1.3h-1.3zM124.1 202.7h1.3v1.3h-1.3zM124.9 205.2h1.3v1.3h-1.3zM118.9 205.7h1.3v1.3h-1.3zM120.1 202.5h1.3v1.3h-1.3zM115.2 201.7h1.3v1.3h-1.3zM122.8 199.3h1.3v1.3h-1.3zM122.3 203.2h1.3v1.3h-1.3zM120.6 197.3h1.3v1.3h-1.3zM118.9 203.8h1.3v1.3h-1.3zM115.9 202.6h1.3v1.3h-1.3zM108.6 203.9h1.3v1.3h-1.3zM116.4 204.4h1.3v1.3h-1.3zM111.1 203.9h1.3v1.3h-1.3zM118.3 204.2h1.3v1.3h-1.3zM115.2 200.9h1.3v1.3h-1.3zM129.4 200.4h1.3v1.3h-1.3zM116.2 201.7h1.3v1.3h-1.3zM114.7 205.1h1.3v1.3h-1.3zM127.1 200.7h1.3v1.3h-1.3zM111.6 205.0h1.3v1.3h-1.3zM124.3 204.2h1.3v1.3h-1.3zM124.6 200.4h1.3v1.3h-1.3zM118.6 199.2h1.3v1.3h-1.3zM113.0 204.6h1.3v1.3h-1.3zM116.3 207.6h1.3v1.3h-1.3zM119.7 200.9h1.3v1.3h-1.3zM122.9 206.5h1.3v1.3h-1.3zM121.5 199.6h1.3v1.3h-1.3zM121.0 205.5h1.3v1.3h-1.3zM117.1 200.6h1.3v1.3h-1.3zM123.9 202.7h1.3v1.3h-1.3zM114.4 201.5h1.3v1.3h-1.3zM115.9 203.0h1.3v1.3h-1.3zM119.8 205.0h1.3v1.3h-1.3zM122.5 198.8h1.3v1.3h-1.3zM121.2 204.4h1.3v1.3h-1.3zM121.4 204.7h1.3v1.3h-1.3zM116.9 200.2h1.3v1.3h-1.3zM123.5 199.9h1.3v1.3h-1.3zM109.6 204.7h1.3v1.3h-1.3zM116.1 201.6h1.3v1.3h-1.3zM113.1 199.3h1.3v1.3h-1.3zM114.1 201.5h1.3v1.3h-1.3zM121.0 197.1h1.3v1.3h-1.3zM122.7 199.6h1.3v1.3h-1.3zM114.6 203.9h1.3v1.3h-1.3zM119.0 198.8h1.3v1.3h-1.3zM127.7 200.4h1.3v1.3h-1.3zM120.5 202.8h1.3v1.3h-1.3zM125.7 201.3h1.3v1.3h-1.3zM123.9 200.6h1.3v1.3h-1.3zM124.4 200.6h1.3v1.3h-1.3zM117.7 206.7h1.3v1.3h-1.3zM120.8 202.6h1.3v1.3h-1.3zM129.4 203.2h1.3v1.3h-1.3zM115.7 204.0h1.3v1.3h-1.3zM114.0 204.9h1.3v1.3h-1.3zM124.8 201.0h1.3v1.3h-1.3zM116.5 202.8h1.3v1.3h-1.3zM119.4 200.1h1.3v1.3h-1.3zM121.9 197.7h1.3v1.3h-1.3zM117.4 201.4h1.3v1.3h-1.3zM118.1 203.1h1.3v1.3h-1.3zM113.8 203.7h1.3v1.3h-1.3zM118.5 200.9h1.3v1.3h-1.3zM113.2 199.6h1.3v1.3h-1.3zM121.0 200.1h1.3v1.3h-1.3zM119.6 204.8h1.3v1.3h-1.3zM124.0 205.9h1.3v1.3h-1.3zM118.0 199.9h1.3v1.3h-1.3zM123.9 203.1h1.3v1.3h-1.3zM124.4 202.4h1.3v1.3h-1.3zM124.7 204.3h1.3v1.3h-1.3zM122.6 203.5h1.3v1.3h-1.3zM121.1 202.9h1.3v1.3h-1.3zM120.4 204.6h1.3v1.3h-1.3zM117.0 206.3h1.3v1.3h-1.3zM118.9 204.6h1.3v1.3h-1.3zM118.9 201.8h1.3v1.3h-1.3zM128.5 201.6h1.3v1.3h-1.3zM113.6 200.7h1.3v1.3h-1.3zM117.9 207.3h1.3v1.3h-1.3zM120.3 204.5h1.3v1.3h-1.3zM114.8 203.2h1.3v1.3h-1.3zM122.4 206.5h1.3v1.3h-1.3zM116.2 203.7h1.3v1.3h-1.3zM120.7 200.0h1.3v1.3h-1.3zM119.3 201.7h1.3v1.3h-1.3zM108.9 203.7h1.3v1.3h-1.3zM121.8 201.3h1.3v1.3h-1.3zM113.3 205.8h1.3v1.3h-1.3zM120.5 204.7h1.3v1.3h-1.3zM125.7 201.2h1.3v1.3h-1.3zM123.0 201.8h1.3v1.3h-1.3zM113.0 166.8h1.3v1.3h-1.3zM113.3 175.1h1.3v1.3h-1.3zM114.1 166.3h1.3v1.3h-1.3zM111.7 169.7h1.3v1.3h-1.3zM108.0 163.8h1.3v1.3h-1.3zM113.0 163.4h1.3v1.3h-1.3zM112.6 163.1h1.3v1.3h-1.3zM125.4 176.7h1.3v1.3h-1.3zM116.0 167.0h1.3v1.3h-1.3zM126.5 169.6h1.3v1.3h-1.3zM112.8 169.5h1.3v1.3h-1.3zM115.2 177.2h1.3v1.3h-1.3zM113.2 182.0h1.3v1.3h-1.3zM108.1 172.2h1.3v1.3h-1.3zM107.3 180.1h1.3v1.3h-1.3zM111.4 166.9h1.3v1.3h-1.3zM118.9 176.1h1.3v1.3h-1.3zM106.7 164.9h1.3v1.3h-1.3zM105.0 168.3h1.3v1.3h-1.3zM112.7 164.9h1.3v1.3h-1.3zM109.2 164.6h1.3v1.3h-1.3zM108.9 171.1h1.3v1.3h-1.3zM122.4 153.8h1.3v1.3h-1.3zM112.7 164.4h1.3v1.3h-1.3zM116.3 160.7h1.3v1.3h-1.3zM112.5 160.1h1.3v1.3h-1.3zM117.5 168.0h1.3v1.3h-1.3zM112.4 169.9h1.3v1.3h-1.3zM111.9 156.5h1.3v1.3h-1.3zM116.9 169.4h1.3v1.3h-1.3zM112.4 174.2h1.3v1.3h-1.3zM120.7 159.7h1.3v1.3h-1.3zM108.7 178.2h1.3v1.3h-1.3zM121.9 162.2h1.3v1.3h-1.3zM106.3 162.9h1.3v1.3h-1.3zM110.4 156.3h1.3v1.3h-1.3zM113.5 158.4h1.3v1.3h-1.3zM106.1 173.8h1.3v1.3h-1.3zM109.3 166.8h1.3v1.3h-1.3zM117.1 173.0h1.3v1.3h-1.3zM111.3 167.7h1.3v1.3h-1.3zM108.4 179.6h1.3v1.3h-1.3zM117.2 159.6h1.3v1.3h-1.3zM113.4 172.3h1.3v1.3h-1.3zM116.2 180.2h1.3v1.3h-1.3zM121.6 163.6h1.3v1.3h-1.3zM112.8 158.4h1.3v1.3h-1.3zM114.8 168.4h1.3v1.3h-1.3zM129.6 168.0h1.3v1.3h-1.3zM100.8 162.6h1.3v1.3h-1.3zM114.0 158.6h1.3v1.3h-1.3zM108.1 164.8h1.3v1.3h-1.3zM115.4 166.2h1.3v1.3h-1.3zM108.0 172.9h1.3v1.3h-1.3zM110.1 163.9h1.3v1.3h-1.3zM105.1 161.8h1.3v1.3h-1.3zM117.3 156.0h1.3v1.3h-1.3zM112.9 172.4h1.3v1.3h-1.3zM111.1 169.0h1.3v1.3h-1.3zM106.6 176.5h1.3v1.3h-1.3zM120.0 169.0h1.3v1.3h-1.3zM102.8 160.0h1.3v1.3h-1.3zM119.2 179.3h1.3v1.3h-1.3zM115.1 176.1h1.3v1.3h-1.3zM109.7 166.0h1.3v1.3h-1.3zM113.4 170.3h1.3v1.3h-1.3zM104.2 173.9h1.3v1.3h-1.3zM121.3 159.3h1.3v1.3h-1.3zM105.2 169.8h1.3v1.3h-1.3zM109.4 150.8h1.3v1.3h-1.3zM118.2 168.4h1.3v1.3h-1.3zM110.5 182.1h1.3v1.3h-1.3zM114.2 162.1h1.3v1.3h-1.3zM114.0 160.1h1.3v1.3h-1.3zM108.8 170.1h1.3v1.3h-1.3zM110.0 164.2h1.3v1.3h-1.3zM123.4 173.4h1.3v1.3h-1.3zM118.2 171.1h1.3v1.3h-1.3zM116.3 177.5h1.3v1.3h-1.3zM113.2 180.3h1.3v1.3h-1.3zM127.7 157.4h1.3v1.3h-1.3zM117.8 157.4h1.3v1.3h-1.3zM135.5 155.7h1.3v1.3h-1.3zM134.1 153.3h1.3v1.3h-1.3zM118.3 152.6h1.3v1.3h-1.3zM133.4 155.5h1.3v1.3h-1.3zM132.2 152.6h1.3v1.3h-1.3zM120.1 158.7h1.3v1.3h-1.3zM128.6 159.3h1.3v1.3h-1.3zM132.2 163.7h1.3v1.3h-1.3zM124.6 158.6h1.3v1.3h-1.3zM128.2 154.8h1.3v1.3h-1.3zM138.3 154.1h1.3v1.3h-1.3zM131.0 147.4h1.3v1.3h-1.3zM128.1 154.8h1.3v1.3h-1.3zM118.8 155.9h1.3v1.3h-1.3zM120.0 158.9h1.3v1.3h-1.3zM135.6 157.9h1.3v1.3h-1.3zM133.3 157.9h1.3v1.3h-1.3zM135.3 156.9h1.3v1.3h-1.3zM129.8 158.1h1.3v1.3h-1.3zM129.7 160.1h1.3v1.3h-1.3zM128.8 153.6h1.3v1.3h-1.3zM133.2 155.2h1.3v1.3h-1.3zM124.4 152.7h1.3v1.3h-1.3zM128.0 160.6h1.3v1.3h-1.3zM127.5 159.7h1.3v1.3h-1.3zM131.6 158.3h1.3v1.3h-1.3zM122.0 153.2h1.3v1.3h-1.3zM117.9 156.8h1.3v1.3h-1.3zM119.3 155.7h1.3v1.3h-1.3zM121.2 156.6h1.3v1.3h-1.3zM135.8 155.9h1.3v1.3h-1.3zM132.8 157.7h1.3v1.3h-1.3zM133.5 155.3h1.3v1.3h-1.3zM126.9 158.6h1.3v1.3h-1.3zM119.6 157.0h1.3v1.3h-1.3zM127.4 155.6h1.3v1.3h-1.3zM135.9 156.1h1.3v1.3h-1.3zM128.3 155.2h1.3v1.3h-1.3zM130.9 158.5h1.3v1.3h-1.3zM125.4 155.6h1.3v1.3h-1.3zM120.6 157.1h1.3v1.3h-1.3zM130.8 155.3h1.3v1.3h-1.3zM127.8 152.5h1.3v1.3h-1.3zM124.8 158.7h1.3v1.3h-1.3zM122.9 153.6h1.3v1.3h-1.3zM132.3 158.1h1.3v1.3h-1.3zM124.2 157.4h1.3v1.3h-1.3zM129.7 152.0h1.3v1.3h-1.3zM122.9 153.9h1.3v1.3h-1.3zM133.5 155.0h1.3v1.3h-1.3zM125.4 154.2h1.3v1.3h-1.3zM127.6 153.3h1.3v1.3h-1.3zM137.3 158.3h1.3v1.3h-1.3zM132.8 155.7h1.3v1.3h-1.3zM133.2 157.4h1.3v1.3h-1.3zM124.6 155.2h1.3v1.3h-1.3zM135.4 157.1h1.3v1.3h-1.3zM125.6 154.4h1.3v1.3h-1.3zM138.6 156.3h1.3v1.3h-1.3zM136.6 157.9h1.3v1.3h-1.3zM131.5 156.5h1.3v1.3h-1.3zM135.2 155.2h1.3v1.3h-1.3zM129.0 153.5h1.3v1.3h-1.3zM133.1 156.8h1.3v1.3h-1.3zM120.0 157.2h1.3v1.3h-1.3zM138.6 155.7h1.3v1.3h-1.3zM134.6 154.3h1.3v1.3h-1.3zM120.4 157.8h1.3v1.3h-1.3zM122.6 162.8h1.3v1.3h-1.3zM129.7 155.6h1.3v1.3h-1.3zM133.7 157.2h1.3v1.3h-1.3zM120.6 157.3h1.3v1.3h-1.3zM138.0 149.7h1.3v1.3h-1.3zM124.8 156.7h1.3v1.3h-1.3zM138.7 154.5h1.3v1.3h-1.3zM133.5 160.0h1.3v1.3h-1.3zM127.8 155.7h1.3v1.3h-1.3zM125.1 154.3h1.3v1.3h-1.3zM119.4 155.8h1.3v1.3h-1.3zM119.2 156.8h1.3v1.3h-1.3zM130.9 154.9h1.3v1.3h-1.3zM134.0 156.2h1.3v1.3h-1.3zM136.9 152.8h1.3v1.3h-1.3zM125.2 155.8h1.3v1.3h-1.3zM137.5 158.4h1.3v1.3h-1.3zM123.7 161.5h1.3v1.3h-1.3zM137.6 158.2h1.3v1.3h-1.3zM137.1 157.1h1.3v1.3h-1.3zM120.7 159.4h1.3v1.3h-1.3zM135.9 159.0h1.3v1.3h-1.3zM132.5 160.7h1.3v1.3h-1.3zM132.5 159.2h1.3v1.3h-1.3zM135.4 156.0h1.3v1.3h-1.3zM128.9 157.0h1.3v1.3h-1.3zM128.2 156.8h1.3v1.3h-1.3zM125.2 157.1h1.3v1.3h-1.3zM136.0 156.9h1.3v1.3h-1.3zM136.7 154.3h1.3v1.3h-1.3zM120.8 150.9h1.3v1.3h-1.3zM134.0 154.6h1.3v1.3h-1.3zM123.3 151.1h1.3v1.3h-1.3zM121.3 156.5h1.3v1.3h-1.3zM121.6 156.4h1.3v1.3h-1.3zM129.7 152.0h1.3v1.3h-1.3zM123.4 158.1h1.3v1.3h-1.3zM122.6 158.6h1.3v1.3h-1.3zM119.5 156.6h1.3v1.3h-1.3zM124.3 160.7h1.3v1.3h-1.3zM134.0 161.2h1.3v1.3h-1.3zM117.8 153.2h1.3v1.3h-1.3zM127.7 159.0h1.3v1.3h-1.3zM130.3 157.5h1.3v1.3h-1.3zM118.4 157.4h1.3v1.3h-1.3zM123.7 158.8h1.3v1.3h-1.3zM136.8 154.5h1.3v1.3h-1.3zM138.7 154.8h1.3v1.3h-1.3zM135.6 154.2h1.3v1.3h-1.3zM121.0 154.4h1.3v1.3h-1.3zM133.8 156.1h1.3v1.3h-1.3zM127.0 152.6h1.3v1.3h-1.3zM121.0 153.6h1.3v1.3h-1.3zM127.7 157.9h1.3v1.3h-1.3zM137.2 156.2h1.3v1.3h-1.3zM136.2 157.3h1.3v1.3h-1.3zM125.8 151.4h1.3v1.3h-1.3zM118.7 154.3h1.3v1.3h-1.3zM136.7 154.9h1.3v1.3h-1.3zM138.6 156.4h1.3v1.3h-1.3zM128.3 154.8h1.3v1.3h-1.3zM122.2 158.8h1.3v1.3h-1.3zM129.0 156.2h1.3v1.3h-1.3zM132.3 156.4h1.3v1.3h-1.3zM127.7 156.4h1.3v1.3h-1.3zM124.9 158.2h1.3v1.3h-1.3zM122.7 155.1h1.3v1.3h-1.3zM123.7 159.3h1.3v1.3h-1.3zM118.4 157.5h1.3v1.3h-1.3zM122.8 156.8h1.3v1.3h-1.3zM137.8 156.5h1.3v1.3h-1.3zM117.5 157.7h1.3v1.3h-1.3zM133.0 159.0h1.3v1.3h-1.3zM134.3 158.8h1.3v1.3h-1.3zM126.1 157.3h1.3v1.3h-1.3zM130.1 158.6h1.3v1.3h-1.3zM122.1 156.7h1.3v1.3h-1.3zM131.7 159.6h1.3v1.3h-1.3zM132.6 156.3h1.3v1.3h-1.3zM133.1 151.0h1.3v1.3h-1.3zM127.9 159.8h1.3v1.3h-1.3zM138.2 156.6h1.3v1.3h-1.3zM136.0 153.3h1.3v1.3h-1.3zM129.7 155.8h1.3v1.3h-1.3zM132.0 154.1h1.3v1.3h-1.3zM123.3 161.8h1.3v1.3h-1.3zM137.6 157.6h1.3v1.3h-1.3zM131.2 152.3h1.3v1.3h-1.3zM136.6 157.8h1.3v1.3h-1.3zM123.6 155.3h1.3v1.3h-1.3zM138.5 161.3h1.3v1.3h-1.3zM119.6 153.6h1.3v1.3h-1.3zM128.8 150.5h1.3v1.3h-1.3zM119.7 156.5h1.3v1.3h-1.3zM121.4 155.4h1.3v1.3h-1.3zM133.8 155.3h1.3v1.3h-1.3zM118.8 150.8h1.3v1.3h-1.3zM125.6 157.5h1.3v1.3h-1.3zM121.5 160.7h1.3v1.3h-1.3zM135.6 151.4h1.3v1.3h-1.3zM119.1 159.4h1.3v1.3h-1.3zM124.6 154.9h1.3v1.3h-1.3zM135.8 162.5h1.3v1.3h-1.3zM132.1 157.5h1.3v1.3h-1.3zM132.5 155.9h1.3v1.3h-1.3zM138.7 159.2h1.3v1.3h-1.3zM117.9 157.7h1.3v1.3h-1.3zM131.6 154.8h1.3v1.3h-1.3zM133.4 158.2h1.3v1.3h-1.3zM133.4 155.0h1.3v1.3h-1.3zM132.7 151.7h1.3v1.3h-1.3zM118.9 161.6h1.3v1.3h-1.3zM119.2 155.4h1.3v1.3h-1.3zM134.0 154.8h1.3v1.3h-1.3zM130.5 157.2h1.3v1.3h-1.3zM123.0 152.3h1.3v1.3h-1.3zM117.5 152.8h1.3v1.3h-1.3zM128.8 155.1h1.3v1.3h-1.3zM119.3 155.0h1.3v1.3h-1.3zM133.4 156.5h1.3v1.3h-1.3zM124.7 159.3h1.3v1.3h-1.3zM134.7 155.1h1.3v1.3h-1.3zM119.4 157.6h1.3v1.3h-1.3zM128.0 157.9h1.3v1.3h-1.3zM119.5 153.5h1.3v1.3h-1.3zM134.1 156.9h1.3v1.3h-1.3zM129.4 153.9h1.3v1.3h-1.3zM122.4 159.1h1.3v1.3h-1.3zM138.1 157.5h1.3v1.3h-1.3zM132.0 156.4h1.3v1.3h-1.3zM124.6 152.9h1.3v1.3h-1.3zM135.7 156.7h1.3v1.3h-1.3zM125.5 154.4h1.3v1.3h-1.3zM137.6 158.2h1.3v1.3h-1.3zM123.7 156.0h1.3v1.3h-1.3zM138.5 154.2h1.3v1.3h-1.3zM118.7 158.8h1.3v1.3h-1.3zM133.1 158.2h1.3v1.3h-1.3zM123.6 154.8h1.3v1.3h-1.3zM126.5 159.4h1.3v1.3h-1.3zM131.0 155.6h1.3v1.3h-1.3zM118.3 155.5h1.3v1.3h-1.3zM122.2 156.7h1.3v1.3h-1.3zM119.6 154.4h1.3v1.3h-1.3zM133.3 155.2h1.3v1.3h-1.3zM122.1 155.9h1.3v1.3h-1.3zM128.1 160.3h1.3v1.3h-1.3zM124.4 160.2h1.3v1.3h-1.3zM122.4 155.7h1.3v1.3h-1.3zM137.5 160.5h1.3v1.3h-1.3zM128.3 156.2h1.3v1.3h-1.3zM131.3 157.3h1.3v1.3h-1.3zM132.5 158.6h1.3v1.3h-1.3zM135.0 157.1h1.3v1.3h-1.3zM123.0 162.6h1.3v1.3h-1.3zM119.0 157.0h1.3v1.3h-1.3zM127.4 153.2h1.3v1.3h-1.3zM121.0 159.7h1.3v1.3h-1.3zM117.8 155.3h1.3v1.3h-1.3zM137.1 155.6h1.3v1.3h-1.3zM130.8 148.6h1.3v1.3h-1.3zM126.3 159.0h1.3v1.3h-1.3zM120.3 158.5h1.3v1.3h-1.3zM133.7 158.4h1.3v1.3h-1.3zM128.8 158.9h1.3v1.3h-1.3zM121.1 160.7h1.3v1.3h-1.3zM138.5 156.2h1.3v1.3h-1.3zM137.8 158.8h1.3v1.3h-1.3zM137.3 154.4h1.3v1.3h-1.3zM135.1 155.4h1.3v1.3h-1.3zM128.8 159.1h1.3v1.3h-1.3zM123.8 157.4h1.3v1.3h-1.3zM131.4 152.9h1.3v1.3h-1.3zM120.6 157.3h1.3v1.3h-1.3zM130.6 155.9h1.3v1.3h-1.3zM118.8 154.2h1.3v1.3h-1.3zM117.6 157.5h1.3v1.3h-1.3zM132.7 155.3h1.3v1.3h-1.3zM124.7 152.3h1.3v1.3h-1.3zM132.3 153.5h1.3v1.3h-1.3zM134.1 160.9h1.3v1.3h-1.3zM135.3 152.4h1.3v1.3h-1.3zM130.6 156.9h1.3v1.3h-1.3zM135.6 157.9h1.3v1.3h-1.3zM131.5 158.0h1.3v1.3h-1.3zM137.3 153.2h1.3v1.3h-1.3zM136.6 155.5h1.3v1.3h-1.3zM118.3 156.7h1.3v1.3h-1.3zM123.1 158.4h1.3v1.3h-1.3zM125.7 154.7h1.3v1.3h-1.3zM122.8 153.3h1.3v1.3h-1.3zM121.2 159.0h1.3v1.3h-1.3zM136.1 159.2h1.3v1.3h-1.3zM117.9 157.3h1.3v1.3h-1.3zM121.3 154.8h1.3v1.3h-1.3zM133.7 157.4h1.3v1.3h-1.3zM122.2 156.6h1.3v1.3h-1.3zM122.9 158.5h1.3v1.3h-1.3zM138.2 153.1h1.3v1.3h-1.3zM133.7 156.7h1.3v1.3h-1.3zM127.0 155.9h1.3v1.3h-1.3zM120.3 153.5h1.3v1.3h-1.3zM123.1 156.9h1.3v1.3h-1.3zM138.4 156.4h1.3v1.3h-1.3zM134.4 155.3h1.3v1.3h-1.3zM118.9 157.4h1.3v1.3h-1.3zM132.5 152.7h1.3v1.3h-1.3zM125.4 156.2h1.3v1.3h-1.3zM132.8 157.5h1.3v1.3h-1.3zM123.7 157.1h1.3v1.3h-1.3zM120.1 159.1h1.3v1.3h-1.3zM117.8 153.2h1.3v1.3h-1.3zM123.7 152.4h1.3v1.3h-1.3zM135.8 157.0h1.3v1.3h-1.3zM136.5 157.5h1.3v1.3h-1.3zM132.0 161.9h1.3v1.3h-1.3zM133.4 158.0h1.3v1.3h-1.3zM121.5 154.1h1.3v1.3h-1.3zM125.0 158.4h1.3v1.3h-1.3zM136.7 154.2h1.3v1.3h-1.3zM138.6 152.5h1.3v1.3h-1.3zM126.9 163.1h1.3v1.3h-1.3zM134.0 157.2h1.3v1.3h-1.3zM137.4 158.2h1.3v1.3h-1.3zM138.8 157.8h1.3v1.3h-1.3zM123.7 161.1h1.3v1.3h-1.3zM131.4 157.1h1.3v1.3h-1.3zM125.7 159.5h1.3v1.3h-1.3zM127.3 153.7h1.3v1.3h-1.3zM127.3 152.7h1.3v1.3h-1.3zM118.6 160.8h1.3v1.3h-1.3zM115.9 157.0h1.3v1.3h-1.3zM114.8 154.3h1.3v1.3h-1.3zM119.0 158.3h1.3v1.3h-1.3zM115.9 157.5h1.3v1.3h-1.3zM117.5 157.9h1.3v1.3h-1.3zM116.6 152.8h1.3v1.3h-1.3zM115.9 162.9h1.3v1.3h-1.3zM112.8 156.0h1.3v1.3h-1.3zM117.0 159.2h1.3v1.3h-1.3zM116.2 151.5h1.3v1.3h-1.3zM115.9 152.8h1.3v1.3h-1.3zM111.9 158.0h1.3v1.3h-1.3zM113.5 158.8h1.3v1.3h-1.3zM123.8 158.7h1.3v1.3h-1.3zM116.5 153.7h1.3v1.3h-1.3zM112.4 153.2h1.3v1.3h-1.3zM112.8 153.1h1.3v1.3h-1.3zM112.4 155.7h1.3v1.3h-1.3zM111.3 152.1h1.3v1.3h-1.3zM110.3 157.7h1.3v1.3h-1.3zM114.5 159.4h1.3v1.3h-1.3zM117.5 155.3h1.3v1.3h-1.3zM116.4 152.0h1.3v1.3h-1.3zM121.2 159.9h1.3v1.3h-1.3zM113.7 152.9h1.3v1.3h-1.3zM115.5 150.7h1.3v1.3h-1.3zM112.0 158.6h1.3v1.3h-1.3zM114.6 154.9h1.3v1.3h-1.3zM117.2 153.2h1.3v1.3h-1.3z" fill="#c8c8c8"/>
<rect x="59.6" y="151.0" width="1.9" height="94.8" fill="#083d64"/>
<path d="M62.2 159.3h1.3v1.3h-1.3zM61.4 168.2h1.3v1.3h-1.3zM62.0 170.1h1.3v1.3h-1.3zM61.6 162.9h1.3v1.3h-1.3zM61.5 153.4h1.3v1.3h-1.3zM61.3 166.5h1.3v1.3h-1.3zM61.7 164.7h1.3v1.3h-1.3zM61.3 157.2h1.3v1.3h-1.3zM61.8 168.6h1.3v1.3h-1.3zM60.7 161.0h1.3v1.3h-1.3zM61.0 152.5h1.3v1.3h-1.3zM62.1 152.7h1.3v1.3h-1.3z" fill="#083d64"/>
<path d="M152.9 159.2h1.3v1.3h-1.3zM176.4 161.3h1.3v1.3h-1.3zM144.9 154.5h1.3v1.3h-1.3zM140.2 155.1h1.3v1.3h-1.3zM177.1 158.2h1.3v1.3h-1.3zM164.0 162.3h1.3v1.3h-1.3zM166.0 160.8h1.3v1.3h-1.3zM189.3 164.4h1.3v1.3h-1.3zM198.3 167.3h1.3v1.3h-1.3zM186.8 161.3h1.3v1.3h-1.3zM139.1 159.1h1.3v1.3h-1.3zM148.1 156.3h1.3v1.3h-1.3zM175.0 155.9h1.3v1.3h-1.3zM143.9 155.8h1.3v1.3h-1.3zM170.5 160.2h1.3v1.3h-1.3zM163.2 159.4h1.3v1.3h-1.3zM163.9 162.6h1.3v1.3h-1.3zM155.4 153.3h1.3v1.3h-1.3zM155.5 157.9h1.3v1.3h-1.3zM153.5 159.8h1.3v1.3h-1.3zM145.2 155.1h1.3v1.3h-1.3zM172.9 160.8h1.3v1.3h-1.3zM166.3 157.9h1.3v1.3h-1.3zM178.2 157.3h1.3v1.3h-1.3zM159.7 162.5h1.3v1.3h-1.3zM193.1 159.5h1.3v1.3h-1.3zM162.5 162.3h1.3v1.3h-1.3zM179.5 160.0h1.3v1.3h-1.3zM188.4 160.1h1.3v1.3h-1.3zM163.3 156.2h1.3v1.3h-1.3zM166.3 156.9h1.3v1.3h-1.3zM145.7 155.5h1.3v1.3h-1.3zM171.6 160.5h1.3v1.3h-1.3zM144.7 152.3h1.3v1.3h-1.3zM152.7 162.4h1.3v1.3h-1.3zM177.2 163.7h1.3v1.3h-1.3zM198.6 170.6h1.3v1.3h-1.3zM154.9 155.5h1.3v1.3h-1.3zM147.8 151.0h1.3v1.3h-1.3zM170.7 157.5h1.3v1.3h-1.3zM166.0 158.7h1.3v1.3h-1.3zM162.2 160.0h1.3v1.3h-1.3zM182.5 160.3h1.3v1.3h-1.3zM173.4 159.8h1.3v1.3h-1.3zM177.1 161.4h1.3v1.3h-1.3zM174.6 155.1h1.3v1.3h-1.3zM180.5 167.8h1.3v1.3h-1.3zM195.9 161.0h1.3v1.3h-1.3zM145.3 158.8h1.3v1.3h-1.3zM166.6 162.8h1.3v1.3h-1.3zM186.9 160.3h1.3v1.3h-1.3zM157.0 158.7h1.3v1.3h-1.3zM176.2 166.2h1.3v1.3h-1.3zM142.2 157.0h1.3v1.3h-1.3zM151.4 161.7h1.3v1.3h-1.3zM163.5 160.1h1.3v1.3h-1.3zM143.2 158.6h1.3v1.3h-1.3zM164.9 161.6h1.3v1.3h-1.3zM153.0 157.8h1.3v1.3h-1.3zM158.5 158.2h1.3v1.3h-1.3zM162.3 162.2h1.3v1.3h-1.3zM188.2 164.2h1.3v1.3h-1.3zM173.3 161.7h1.3v1.3h-1.3zM141.9 154.2h1.3v1.3h-1.3zM152.2 158.5h1.3v1.3h-1.3zM176.4 164.8h1.3v1.3h-1.3zM151.1 161.2h1.3v1.3h-1.3zM154.1 159.7h1.3v1.3h-1.3zM177.2 159.1h1.3v1.3h-1.3zM169.3 157.5h1.3v1.3h-1.3zM155.4 160.0h1.3v1.3h-1.3zM173.2 164.8h1.3v1.3h-1.3zM141.3 157.9h1.3v1.3h-1.3zM155.7 162.8h1.3v1.3h-1.3zM157.8 157.8h1.3v1.3h-1.3zM192.9 168.6h1.3v1.3h-1.3zM142.0 154.8h1.3v1.3h-1.3zM160.2 159.5h1.3v1.3h-1.3zM150.8 155.1h1.3v1.3h-1.3zM142.4 159.9h1.3v1.3h-1.3zM181.7 163.8h1.3v1.3h-1.3zM152.2 155.5h1.3v1.3h-1.3zM156.9 156.4h1.3v1.3h-1.3zM143.5 156.6h1.3v1.3h-1.3zM166.9 154.5h1.3v1.3h-1.3zM170.0 156.5h1.3v1.3h-1.3zM194.0 161.5h1.3v1.3h-1.3zM172.5 162.5h1.3v1.3h-1.3zM142.0 162.0h1.3v1.3h-1.3zM165.3 157.8h1.3v1.3h-1.3zM161.9 158.1h1.3v1.3h-1.3zM163.8 159.9h1.3v1.3h-1.3zM161.3 157.3h1.3v1.3h-1.3zM186.1 161.9h1.3v1.3h-1.3zM144.7 160.6h1.3v1.3h-1.3zM180.1 162.3h1.3v1.3h-1.3zM165.6 159.0h1.3v1.3h-1.3zM163.3 157.3h1.3v1.3h-1.3zM147.7 162.7h1.3v1.3h-1.3zM164.5 157.2h1.3v1.3h-1.3zM142.0 158.2h1.3v1.3h-1.3zM144.2 154.8h1.3v1.3h-1.3zM165.8 157.4h1.3v1.3h-1.3zM151.4 158.7h1.3v1.3h-1.3zM169.7 158.2h1.3v1.3h-1.3zM199.1 167.6h1.3v1.3h-1.3zM189.7 163.9h1.3v1.3h-1.3zM180.4 156.9h1.3v1.3h-1.3zM174.6 152.6h1.3v1.3h-1.3zM175.8 164.0h1.3v1.3h-1.3zM167.4 157.5h1.3v1.3h-1.3zM161.0 163.8h1.3v1.3h-1.3zM153.5 158.6h1.3v1.3h-1.3zM142.9 155.6h1.3v1.3h-1.3zM161.6 160.8h1.3v1.3h-1.3zM186.2 161.9h1.3v1.3h-1.3zM172.8 160.0h1.3v1.3h-1.3zM148.9 155.4h1.3v1.3h-1.3zM141.4 159.7h1.3v1.3h-1.3zM178.9 165.0h1.3v1.3h-1.3zM173.1 158.2h1.3v1.3h-1.3zM164.2 165.0h1.3v1.3h-1.3zM139.3 156.0h1.3v1.3h-1.3zM139.8 158.5h1.3v1.3h-1.3zM170.8 154.2h1.3v1.3h-1.3zM157.1 152.7h1.3v1.3h-1.3zM163.5 166.0h1.3v1.3h-1.3zM171.9 164.5h1.3v1.3h-1.3zM141.5 161.3h1.3v1.3h-1.3zM144.9 152.8h1.3v1.3h-1.3zM184.3 163.2h1.3v1.3h-1.3zM171.6 161.1h1.3v1.3h-1.3zM181.1 162.0h1.3v1.3h-1.3zM184.2 163.5h1.3v1.3h-1.3zM146.1 155.3h1.3v1.3h-1.3zM168.2 158.9h1.3v1.3h-1.3zM151.2 154.9h1.3v1.3h-1.3zM161.8 157.9h1.3v1.3h-1.3zM161.3 160.2h1.3v1.3h-1.3zM171.1 157.0h1.3v1.3h-1.3zM143.0 157.1h1.3v1.3h-1.3zM169.5 158.1h1.3v1.3h-1.3zM141.7 157.9h1.3v1.3h-1.3zM192.0 167.4h1.3v1.3h-1.3zM139.4 158.4h1.3v1.3h-1.3zM168.2 160.7h1.3v1.3h-1.3zM146.3 153.7h1.3v1.3h-1.3zM171.4 158.4h1.3v1.3h-1.3zM144.3 160.5h1.3v1.3h-1.3zM150.1 155.7h1.3v1.3h-1.3zM179.0 159.8h1.3v1.3h-1.3zM158.6 155.7h1.3v1.3h-1.3zM152.0 162.6h1.3v1.3h-1.3zM195.1 163.2h1.3v1.3h-1.3zM141.3 155.6h1.3v1.3h-1.3zM154.5 160.5h1.3v1.3h-1.3zM158.9 162.4h1.3v1.3h-1.3zM174.8 162.0h1.3v1.3h-1.3zM161.6 162.2h1.3v1.3h-1.3zM145.7 158.7h1.3v1.3h-1.3zM173.9 159.7h1.3v1.3h-1.3zM183.4 160.7h1.3v1.3h-1.3zM169.0 157.8h1.3v1.3h-1.3zM157.7 156.9h1.3v1.3h-1.3zM139.5 158.8h1.3v1.3h-1.3zM171.6 159.3h1.3v1.3h-1.3zM177.5 161.2h1.3v1.3h-1.3zM166.0 161.3h1.3v1.3h-1.3zM197.8 165.2h1.3v1.3h-1.3zM151.3 154.1h1.3v1.3h-1.3zM194.2 161.8h1.3v1.3h-1.3zM153.4 155.0h1.3v1.3h-1.3zM163.6 153.0h1.3v1.3h-1.3zM180.6 162.0h1.3v1.3h-1.3zM175.5 156.5h1.3v1.3h-1.3zM174.7 156.0h1.3v1.3h-1.3zM143.2 154.6h1.3v1.3h-1.3zM175.5 163.4h1.3v1.3h-1.3zM153.7 157.6h1.3v1.3h-1.3zM162.7 162.3h1.3v1.3h-1.3zM162.1 158.7h1.3v1.3h-1.3zM178.1 159.6h1.3v1.3h-1.3zM183.4 164.2h1.3v1.3h-1.3zM149.5 160.1h1.3v1.3h-1.3zM157.6 159.1h1.3v1.3h-1.3zM192.8 160.7h1.3v1.3h-1.3zM146.2 156.7h1.3v1.3h-1.3zM197.5 161.1h1.3v1.3h-1.3zM165.1 158.4h1.3v1.3h-1.3zM162.8 159.4h1.3v1.3h-1.3zM170.5 164.4h1.3v1.3h-1.3zM166.1 163.9h1.3v1.3h-1.3zM167.8 161.6h1.3v1.3h-1.3zM164.9 162.3h1.3v1.3h-1.3zM182.0 162.7h1.3v1.3h-1.3zM155.8 167.4h1.3v1.3h-1.3zM149.1 163.0h1.3v1.3h-1.3zM165.6 167.9h1.3v1.3h-1.3zM144.3 159.1h1.3v1.3h-1.3zM166.4 160.6h1.3v1.3h-1.3zM169.3 162.9h1.3v1.3h-1.3zM145.6 158.6h1.3v1.3h-1.3zM163.3 160.1h1.3v1.3h-1.3zM159.7 155.7h1.3v1.3h-1.3zM183.0 165.4h1.3v1.3h-1.3zM141.4 158.2h1.3v1.3h-1.3zM162.5 161.7h1.3v1.3h-1.3zM171.2 158.8h1.3v1.3h-1.3zM180.2 155.5h1.3v1.3h-1.3zM199.7 167.6h1.3v1.3h-1.3zM172.4 163.7h1.3v1.3h-1.3zM190.9 159.4h1.3v1.3h-1.3zM165.3 156.1h1.3v1.3h-1.3zM139.5 156.8h1.3v1.3h-1.3zM155.6 157.8h1.3v1.3h-1.3zM176.2 154.9h1.3v1.3h-1.3zM156.3 164.2h1.3v1.3h-1.3zM163.5 162.4h1.3v1.3h-1.3zM152.9 156.5h1.3v1.3h-1.3zM172.9 153.9h1.3v1.3h-1.3zM160.0 160.1h1.3v1.3h-1.3zM145.7 164.1h1.3v1.3h-1.3zM182.7 164.9h1.3v1.3h-1.3zM147.3 161.7h1.3v1.3h-1.3zM187.9 159.9h1.3v1.3h-1.3zM154.4 159.3h1.3v1.3h-1.3zM168.3 154.5h1.3v1.3h-1.3zM177.6 167.6h1.3v1.3h-1.3zM158.2 160.6h1.3v1.3h-1.3zM145.5 151.6h1.3v1.3h-1.3zM149.0 152.5h1.3v1.3h-1.3zM169.0 161.0h1.3v1.3h-1.3zM165.8 159.7h1.3v1.3h-1.3zM173.2 158.9h1.3v1.3h-1.3zM165.0 161.2h1.3v1.3h-1.3zM160.5 165.4h1.3v1.3h-1.3zM153.2 159.6h1.3v1.3h-1.3zM189.8 157.3h1.3v1.3h-1.3zM168.7 158.9h1.3v1.3h-1.3zM152.5 154.3h1.3v1.3h-1.3zM177.7 158.2h1.3v1.3h-1.3zM157.9 159.8h1.3v1.3h-1.3zM140.1 157.2h1.3v1.3h-1.3zM150.2 155.0h1.3v1.3h-1.3zM196.2 164.9h1.3v1.3h-1.3zM139.2 155.2h1.3v1.3h-1.3zM142.2 159.4h1.3v1.3h-1.3zM144.9 157.2h1.3v1.3h-1.3zM162.4 160.3h1.3v1.3h-1.3zM181.4 160.8h1.3v1.3h-1.3zM165.5 161.6h1.3v1.3h-1.3zM183.9 161.8h1.3v1.3h-1.3zM167.2 159.3h1.3v1.3h-1.3zM172.2 157.8h1.3v1.3h-1.3zM157.7 159.2h1.3v1.3h-1.3zM139.0 152.3h1.3v1.3h-1.3zM175.3 169.4h1.3v1.3h-1.3zM155.2 156.4h1.3v1.3h-1.3zM155.8 158.9h1.3v1.3h-1.3zM192.9 162.6h1.3v1.3h-1.3zM161.1 157.4h1.3v1.3h-1.3zM145.1 159.2h1.3v1.3h-1.3zM177.6 159.2h1.3v1.3h-1.3zM172.0 158.2h1.3v1.3h-1.3zM142.4 153.6h1.3v1.3h-1.3zM160.3 155.9h1.3v1.3h-1.3zM176.4 156.7h1.3v1.3h-1.3zM156.1 164.3h1.3v1.3h-1.3zM199.5 160.9h1.3v1.3h-1.3zM169.9 155.9h1.3v1.3h-1.3zM141.0 158.3h1.3v1.3h-1.3zM152.7 162.9h1.3v1.3h-1.3zM170.1 153.9h1.3v1.3h-1.3zM149.3 153.4h1.3v1.3h-1.3zM173.9 160.5h1.3v1.3h-1.3zM183.8 163.4h1.3v1.3h-1.3zM176.0 155.8h1.3v1.3h-1.3zM141.7 152.3h1.3v1.3h-1.3zM141.1 154.8h1.3v1.3h-1.3zM163.9 161.5h1.3v1.3h-1.3zM139.9 157.5h1.3v1.3h-1.3zM144.0 160.2h1.3v1.3h-1.3zM178.4 160.7h1.3v1.3h-1.3zM165.8 159.1h1.3v1.3h-1.3zM144.1 159.8h1.3v1.3h-1.3zM161.5 158.5h1.3v1.3h-1.3zM176.3 161.4h1.3v1.3h-1.3zM164.9 156.2h1.3v1.3h-1.3zM153.8 156.6h1.3v1.3h-1.3zM154.7 160.0h1.3v1.3h-1.3zM192.7 163.3h1.3v1.3h-1.3zM151.4 156.0h1.3v1.3h-1.3zM162.6 161.1h1.3v1.3h-1.3zM159.1 160.5h1.3v1.3h-1.3zM161.4 158.9h1.3v1.3h-1.3zM151.5 156.0h1.3v1.3h-1.3zM153.7 161.3h1.3v1.3h-1.3zM193.4 173.2h1.3v1.3h-1.3zM155.8 156.0h1.3v1.3h-1.3zM159.2 153.8h1.3v1.3h-1.3zM158.6 156.2h1.3v1.3h-1.3zM189.4 160.2h1.3v1.3h-1.3zM190.9 159.4h1.3v1.3h-1.3zM152.7 154.7h1.3v1.3h-1.3zM152.2 161.0h1.3v1.3h-1.3zM189.7 166.5h1.3v1.3h-1.3zM152.7 163.0h1.3v1.3h-1.3zM151.5 160.6h1.3v1.3h-1.3zM153.8 156.9h1.3v1.3h-1.3zM147.3 161.4h1.3v1.3h-1.3zM164.8 157.1h1.3v1.3h-1.3zM169.8 158.3h1.3v1.3h-1.3zM142.3 154.2h1.3v1.3h-1.3zM150.7 162.1h1.3v1.3h-1.3zM146.0 161.1h1.3v1.3h-1.3zM155.5 157.1h1.3v1.3h-1.3zM150.3 157.3h1.3v1.3h-1.3zM196.4 165.1h1.3v1.3h-1.3zM161.8 159.6h1.3v1.3h-1.3zM147.4 160.7h1.3v1.3h-1.3zM179.8 161.6h1.3v1.3h-1.3zM198.7 166.9h1.3v1.3h-1.3zM187.7 157.9h1.3v1.3h-1.3zM178.7 160.1h1.3v1.3h-1.3zM162.1 153.1h1.3v1.3h-1.3zM163.7 164.8h1.3v1.3h-1.3zM157.4 163.1h1.3v1.3h-1.3zM188.4 165.7h1.3v1.3h-1.3zM168.9 163.0h1.3v1.3h-1.3zM191.9 171.0h1.3v1.3h-1.3zM179.0 164.3h1.3v1.3h-1.3zM181.0 156.2h1.3v1.3h-1.3zM155.4 157.9h1.3v1.3h-1.3zM153.7 151.0h1.3v1.3h-1.3zM152.9 155.8h1.3v1.3h-1.3zM195.0 160.2h1.3v1.3h-1.3zM194.2 164.5h1.3v1.3h-1.3zM189.4 164.8h1.3v1.3h-1.3zM188.4 160.0h1.3v1.3h-1.3zM165.7 158.2h1.3v1.3h-1.3zM149.1 159.0h1.3v1.3h-1.3zM179.2 160.7h1.3v1.3h-1.3zM141.5 157.1h1.3v1.3h-1.3zM149.0 150.7h1.3v1.3h-1.3zM141.4 156.3h1.3v1.3h-1.3zM173.7 162.6h1.3v1.3h-1.3zM164.7 159.9h1.3v1.3h-1.3zM176.9 155.7h1.3v1.3h-1.3zM183.3 161.1h1.3v1.3h-1.3zM151.8 159.1h1.3v1.3h-1.3zM173.0 156.6h1.3v1.3h-1.3zM173.4 162.2h1.3v1.3h-1.3zM139.6 155.2h1.3v1.3h-1.3zM147.0 157.0h1.3v1.3h-1.3zM161.0 158.5h1.3v1.3h-1.3zM149.8 165.1h1.3v1.3h-1.3zM153.4 157.4h1.3v1.3h-1.3zM180.4 159.5h1.3v1.3h-1.3zM198.0 167.9h1.3v1.3h-1.3zM167.0 157.6h1.3v1.3h-1.3zM178.6 161.7h1.3v1.3h-1.3zM180.2 153.7h1.3v1.3h-1.3zM179.3 162.2h1.3v1.3h-1.3zM138.9 157.5h1.3v1.3h-1.3zM192.3 159.5h1.3v1.3h-1.3zM148.8 162.3h1.3v1.3h-1.3zM150.0 157.4h1.3v1.3h-1.3zM170.2 158.7h1.3v1.3h-1.3zM156.9 154.4h1.3v1.3h-1.3zM177.5 155.3h1.3v1.3h-1.3zM190.8 161.7h1.3v1.3h-1.3zM168.2 154.3h1.3v1.3h-1.3zM143.2 159.3h1.3v1.3h-1.3zM139.6 160.2h1.3v1.3h-1.3zM165.1 157.0h1.3v1.3h-1.3zM165.9 153.9h1.3v1.3h-1.3zM158.9 157.4h1.3v1.3h-1.3zM149.8 154.9h1.3v1.3h-1.3zM168.0 159.8h1.3v1.3h-1.3zM154.5 159.0h1.3v1.3h-1.3zM149.8 156.8h1.3v1.3h-1.3zM198.4 165.6h1.3v1.3h-1.3zM162.4 162.3h1.3v1.3h-1.3zM174.6 165.9h1.3v1.3h-1.3zM167.5 157.5h1.3v1.3h-1.3zM189.9 166.1h1.3v1.3h-1.3zM151.2 157.5h1.3v1.3h-1.3zM194.6 160.8h1.3v1.3h-1.3zM140.8 161.5h1.3v1.3h-1.3zM139.2 158.7h1.3v1.3h-1.3zM168.6 159.7h1.3v1.3h-1.3zM157.4 159.7h1.3v1.3h-1.3zM164.8 158.5h1.3v1.3h-1.3zM168.3 155.8h1.3v1.3h-1.3zM167.7 165.0h1.3v1.3h-1.3zM160.1 161.7h1.3v1.3h-1.3zM156.5 159.4h1.3v1.3h-1.3zM179.1 164.4h1.3v1.3h-1.3zM151.1 162.2h1.3v1.3h-1.3zM163.5 158.3h1.3v1.3h-1.3zM183.0 164.0h1.3v1.3h-1.3zM139.2 156.5h1.3v1.3h-1.3zM186.3 165.0h1.3v1.3h-1.3zM162.7 158.1h1.3v1.3h-1.3zM154.1 166.1h1.3v1.3h-1.3zM172.1 158.4h1.3v1.3h-1.3zM157.0 160.2h1.3v1.3h-1.3zM175.2 161.8h1.3v1.3h-1.3zM157.7 157.6h1.3v1.3h-1.3zM176.2 163.7h1.3v1.3h-1.3zM147.0 157.7h1.3v1.3h-1.3zM164.3 157.7h1.3v1.3h-1.3zM169.0 159.3h1.3v1.3h-1.3zM197.0 162.4h1.3v1.3h-1.3zM158.6 162.5h1.3v1.3h-1.3zM166.4 161.2h1.3v1.3h-1.3zM165.1 162.3h1.3v1.3h-1.3zM144.8 153.7h1.3v1.3h-1.3zM163.1 159.8h1.3v1.3h-1.3zM150.2 155.8h1.3v1.3h-1.3zM172.8 160.0h1.3v1.3h-1.3zM152.3 162.3h1.3v1.3h-1.3zM144.5 158.6h1.3v1.3h-1.3zM164.7 158.5h1.3v1.3h-1.3zM144.8 161.3h1.3v1.3h-1.3zM168.7 162.6h1.3v1.3h-1.3zM183.7 168.5h1.3v1.3h-1.3zM157.9 152.7h1.3v1.3h-1.3zM149.2 159.1h1.3v1.3h-1.3zM161.1 157.5h1.3v1.3h-1.3zM149.1 155.4h1.3v1.3h-1.3zM144.8 158.2h1.3v1.3h-1.3zM184.4 158.3h1.3v1.3h-1.3zM159.4 151.6h1.3v1.3h-1.3zM183.6 159.0h1.3v1.3h-1.3zM147.2 157.2h1.3v1.3h-1.3zM185.4 169.0h1.3v1.3h-1.3zM173.7 157.5h1.3v1.3h-1.3zM178.5 157.0h1.3v1.3h-1.3zM158.7 152.4h1.3v1.3h-1.3zM149.6 157.0h1.3v1.3h-1.3zM184.6 161.5h1.3v1.3h-1.3zM189.3 163.9h1.3v1.3h-1.3zM151.5 153.7h1.3v1.3h-1.3zM145.8 155.6h1.3v1.3h-1.3zM160.5 151.5h1.3v1.3h-1.3zM177.4 161.3h1.3v1.3h-1.3zM161.3 153.8h1.3v1.3h-1.3zM197.3 155.3h1.3v1.3h-1.3zM141.0 161.1h1.3v1.3h-1.3zM174.2 161.8h1.3v1.3h-1.3zM150.4 159.3h1.3v1.3h-1.3zM187.7 164.3h1.3v1.3h-1.3zM153.2 155.1h1.3v1.3h-1.3zM159.3 162.2h1.3v1.3h-1.3zM178.9 157.5h1.3v1.3h-1.3zM194.7 171.4h1.3v1.3h-1.3zM192.5 164.9h1.3v1.3h-1.3zM165.8 153.1h1.3v1.3h-1.3zM150.1 160.9h1.3v1.3h-1.3zM144.9 163.9h1.3v1.3h-1.3zM182.8 161.1h1.3v1.3h-1.3zM184.8 166.1h1.3v1.3h-1.3zM170.6 158.7h1.3v1.3h-1.3zM177.6 158.7h1.3v1.3h-1.3zM183.7 153.3h1.3v1.3h-1.3zM173.9 164.1h1.3v1.3h-1.3zM161.2 157.4h1.3v1.3h-1.3zM191.2 165.1h1.3v1.3h-1.3zM161.6 155.2h1.3v1.3h-1.3zM188.0 159.9h1.3v1.3h-1.3zM187.6 166.9h1.3v1.3h-1.3zM190.1 162.2h1.3v1.3h-1.3zM199.5 164.2h1.3v1.3h-1.3zM169.7 155.2h1.3v1.3h-1.3zM162.1 159.6h1.3v1.3h-1.3zM198.4 168.2h1.3v1.3h-1.3zM177.6 159.3h1.3v1.3h-1.3zM140.4 157.0h1.3v1.3h-1.3zM141.2 154.0h1.3v1.3h-1.3zM167.4 163.8h1.3v1.3h-1.3zM193.4 162.1h1.3v1.3h-1.3zM161.9 158.4h1.3v1.3h-1.3zM170.7 165.0h1.3v1.3h-1.3zM170.4 158.6h1.3v1.3h-1.3zM144.7 153.1h1.3v1.3h-1.3zM138.9 154.7h1.3v1.3h-1.3zM171.1 158.2h1.3v1.3h-1.3zM169.9 165.3h1.3v1.3h-1.3zM150.0 158.9h1.3v1.3h-1.3zM155.5 157.8h1.3v1.3h-1.3zM172.0 162.4h1.3v1.3h-1.3zM182.3 166.4h1.3v1.3h-1.3zM147.8 155.7h1.3v1.3h-1.3zM197.8 170.4h1.3v1.3h-1.3zM139.0 160.1h1.3v1.3h-1.3zM193.0 165.8h1.3v1.3h-1.3zM151.2 150.9h1.3v1.3h-1.3zM146.5 158.6h1.3v1.3h-1.3zM188.6 168.1h1.3v1.3h-1.3zM154.9 157.6h1.3v1.3h-1.3zM142.9 164.8h1.3v1.3h-1.3zM144.5 158.1h1.3v1.3h-1.3zM178.5 157.6h1.3v1.3h-1.3zM171.8 161.6h1.3v1.3h-1.3zM139.0 158.4h1.3v1.3h-1.3zM196.2 167.9h1.3v1.3h-1.3zM196.2 164.1h1.3v1.3h-1.3zM162.5 163.2h1.3v1.3h-1.3zM154.1 156.7h1.3v1.3h-1.3zM195.0 165.1h1.3v1.3h-1.3zM164.7 155.0h1.3v1.3h-1.3zM168.9 156.7h1.3v1.3h-1.3zM181.5 162.4h1.3v1.3h-1.3zM170.1 157.2h1.3v1.3h-1.3zM163.2 157.5h1.3v1.3h-1.3zM155.0 157.8h1.3v1.3h-1.3zM194.8 165.5h1.3v1.3h-1.3zM190.9 166.5h1.3v1.3h-1.3zM183.0 164.7h1.3v1.3h-1.3zM149.2 161.4h1.3v1.3h-1.3zM141.7 158.3h1.3v1.3h-1.3zM195.6 162.9h1.3v1.3h-1.3zM196.8 159.4h1.3v1.3h-1.3zM155.6 157.4h1.3v1.3h-1.3zM177.6 158.1h1.3v1.3h-1.3zM140.0 152.1h1.3v1.3h-1.3zM163.1 164.4h1.3v1.3h-1.3zM182.1 155.5h1.3v1.3h-1.3zM161.1 160.0h1.3v1.3h-1.3zM195.0 166.7h1.3v1.3h-1.3zM147.3 157.3h1.3v1.3h-1.3zM162.0 167.4h1.3v1.3h-1.3zM149.6 158.3h1.3v1.3h-1.3zM160.3 156.3h1.3v1.3h-1.3zM168.5 165.2h1.3v1.3h-1.3zM139.2 155.1h1.3v1.3h-1.3zM142.3 153.4h1.3v1.3h-1.3zM173.1 156.5h1.3v1.3h-1.3zM176.4 158.4h1.3v1.3h-1.3zM160.5 159.0h1.3v1.3h-1.3zM173.1 161.0h1.3v1.3h-1.3zM175.3 155.2h1.3v1.3h-1.3zM154.2 159.6h1.3v1.3h-1.3zM186.6 170.7h1.3v1.3h-1.3zM152.0 156.1h1.3v1.3h-1.3zM147.3 157.6h1.3v1.3h-1.3zM175.6 162.8h1.3v1.3h-1.3zM156.9 162.5h1.3v1.3h-1.3zM157.4 156.5h1.3v1.3h-1.3zM148.0 155.1h1.3v1.3h-1.3zM175.9 157.1h1.3v1.3h-1.3zM146.6 161.4h1.3v1.3h-1.3zM171.8 162.6h1.3v1.3h-1.3zM172.0 152.3h1.3v1.3h-1.3zM145.4 151.3h1.3v1.3h-1.3zM171.5 155.4h1.3v1.3h-1.3zM155.6 153.7h1.3v1.3h-1.3zM151.1 159.6h1.3v1.3h-1.3zM144.4 158.6h1.3v1.3h-1.3zM160.0 165.2h1.3v1.3h-1.3zM163.7 161.7h1.3v1.3h-1.3zM140.0 158.0h1.3v1.3h-1.3zM153.6 162.2h1.3v1.3h-1.3zM164.2 156.1h1.3v1.3h-1.3zM198.5 160.4h1.3v1.3h-1.3zM164.1 159.2h1.3v1.3h-1.3zM151.0 161.2h1.3v1.3h-1.3zM145.1 152.9h1.3v1.3h-1.3zM179.3 164.3h1.3v1.3h-1.3zM153.6 161.2h1.3v1.3h-1.3zM152.1 156.8h1.3v1.3h-1.3zM147.3 158.6h1.3v1.3h-1.3zM196.8 164.1h1.3v1.3h-1.3zM146.7 158.3h1.3v1.3h-1.3zM195.0 167.6h1.3v1.3h-1.3zM149.0 155.6h1.3v1.3h-1.3zM159.1 162.1h1.3v1.3h-1.3zM151.9 161.1h1.3v1.3h-1.3zM144.6 160.7h1.3v1.3h-1.3zM191.8 156.9h1.3v1.3h-1.3zM157.3 152.6h1.3v1.3h-1.3zM197.4 167.7h1.3v1.3h-1.3zM155.1 156.6h1.3v1.3h-1.3zM170.2 157.1h1.3v1.3h-1.3zM148.8 155.7h1.3v1.3h-1.3zM163.9 154.6h1.3v1.3h-1.3zM140.5 156.8h1.3v1.3h-1.3zM180.8 159.1h1.3v1.3h-1.3zM155.6 156.4h1.3v1.3h-1.3zM139.7 159.1h1.3v1.3h-1.3zM146.5 154.3h1.3v1.3h-1.3zM159.0 162.4h1.3v1.3h-1.3zM140.4 150.8h1.3v1.3h-1.3zM162.4 167.2h1.3v1.3h-1.3zM163.6 154.5h1.3v1.3h-1.3zM171.7 161.5h1.3v1.3h-1.3zM158.8 161.7h1.3v1.3h-1.3zM154.2 158.5h1.3v1.3h-1.3zM187.2 165.6h1.3v1.3h-1.3zM156.0 158.2h1.3v1.3h-1.3zM159.3 153.0h1.3v1.3h-1.3zM169.1 160.5h1.3v1.3h-1.3zM155.7 162.2h1.3v1.3h-1.3zM183.5 160.2h1.3v1.3h-1.3zM144.0 152.6h1.3v1.3h-1.3zM158.7 156.8h1.3v1.3h-1.3zM164.7 160.2h1.3v1.3h-1.3zM154.7 159.5h1.3v1.3h-1.3zM160.6 162.5h1.3v1.3h-1.3zM164.7 160.9h1.3v1.3h-1.3zM167.7 161.0h1.3v1.3h-1.3zM189.9 156.4h1.3v1.3h-1.3zM152.3 165.5h1.3v1.3h-1.3zM189.8 163.7h1.3v1.3h-1.3zM155.2 161.3h1.3v1.3h-1.3zM149.3 157.1h1.3v1.3h-1.3zM187.4 162.5h1.3v1.3h-1.3zM158.1 158.9h1.3v1.3h-1.3zM152.8 163.4h1.3v1.3h-1.3zM143.7 162.5h1.3v1.3h-1.3zM176.6 162.8h1.3v1.3h-1.3zM175.1 167.1h1.3v1.3h-1.3zM165.8 157.9h1.3v1.3h-1.3zM198.9 167.5h1.3v1.3h-1.3zM179.5 159.7h1.3v1.3h-1.3zM181.2 166.2h1.3v1.3h-1.3zM181.7 161.9h1.3v1.3h-1.3zM146.6 161.1h1.3v1.3h-1.3zM154.4 164.0h1.3v1.3h-1.3zM142.9 151.4h1.3v1.3h-1.3zM196.2 172.9h1.3v1.3h-1.3zM200.0 167.0h1.3v1.3h-1.3zM176.1 159.5h1.3v1.3h-1.3zM148.4 152.1h1.3v1.3h-1.3zM146.5 157.1h1.3v1.3h-1.3zM166.3 151.5h1.3v1.3h-1.3zM162.9 159.3h1.3v1.3h-1.3zM150.9 157.8h1.3v1.3h-1.3zM144.3 163.6h1.3v1.3h-1.3zM187.6 161.9h1.3v1.3h-1.3zM142.7 161.1h1.3v1.3h-1.3zM157.9 162.5h1.3v1.3h-1.3zM157.3 165.4h1.3v1.3h-1.3zM172.2 158.9h1.3v1.3h-1.3zM176.0 163.2h1.3v1.3h-1.3zM164.1 154.0h1.3v1.3h-1.3zM162.9 155.4h1.3v1.3h-1.3zM157.5 157.8h1.3v1.3h-1.3zM149.3 158.1h1.3v1.3h-1.3zM151.0 154.4h1.3v1.3h-1.3zM167.3 157.9h1.3v1.3h-1.3zM198.4 168.0h1.3v1.3h-1.3zM177.0 159.2h1.3v1.3h-1.3zM177.2 160.3h1.3v1.3h-1.3zM158.9 155.9h1.3v1.3h-1.3zM199.8 170.9h1.3v1.3h-1.3zM150.1 163.9h1.3v1.3h-1.3zM173.2 160.7h1.3v1.3h-1.3zM180.4 161.1h1.3v1.3h-1.3zM188.7 169.3h1.3v1.3h-1.3zM188.9 165.1h1.3v1.3h-1.3zM162.6 156.8h1.3v1.3h-1.3zM155.5 154.2h1.3v1.3h-1.3zM199.1 163.5h1.3v1.3h-1.3zM172.9 167.4h1.3v1.3h-1.3zM156.2 156.7h1.3v1.3h-1.3zM147.4 167.2h1.3v1.3h-1.3zM191.0 163.9h1.3v1.3h-1.3zM173.9 159.4h1.3v1.3h-1.3zM162.5 163.4h1.3v1.3h-1.3zM179.4 160.5h1.3v1.3h-1.3zM174.4 161.5h1.3v1.3h-1.3zM168.8 155.9h1.3v1.3h-1.3zM149.8 154.3h1.3v1.3h-1.3zM181.7 159.2h1.3v1.3h-1.3zM190.0 164.5h1.3v1.3h-1.3zM198.1 163.0h1.3v1.3h-1.3zM148.2 151.9h1.3v1.3h-1.3zM145.8 159.5h1.3v1.3h-1.3zM189.7 163.0h1.3v1.3h-1.3zM143.5 157.0h1.3v1.3h-1.3zM176.6 158.6h1.3v1.3h-1.3zM155.2 151.3h1.3v1.3h-1.3zM161.1 164.2h1.3v1.3h-1.3zM143.9 156.4h1.3v1.3h-1.3zM157.3 160.4h1.3v1.3h-1.3zM164.6 163.8h1.3v1.3h-1.3zM146.9 161.7h1.3v1.3h-1.3zM159.2 159.5h1.3v1.3h-1.3zM147.0 158.1h1.3v1.3h-1.3zM154.7 159.6h1.3v1.3h-1.3zM174.4 163.4h1.3v1.3h-1.3zM157.2 160.6h1.3v1.3h-1.3zM194.3 163.0h1.3v1.3h-1.3zM174.3 161.8h1.3v1.3h-1.3zM140.6 158.9h1.3v1.3h-1.3zM151.0 160.6h1.3v1.3h-1.3zM160.1 159.6h1.3v1.3h-1.3zM171.2 164.2h1.3v1.3h-1.3zM176.9 161.5h1.3v1.3h-1.3zM159.9 161.8h1.3v1.3h-1.3zM165.9 159.4h1.3v1.3h-1.3zM177.4 158.9h1.3v1.3h-1.3zM167.0 156.1h1.3v1.3h-1.3zM156.3 158.1h1.3v1.3h-1.3zM164.1 160.9h1.3v1.3h-1.3zM162.5 163.2h1.3v1.3h-1.3zM156.8 158.4h1.3v1.3h-1.3zM175.8 158.7h1.3v1.3h-1.3zM170.4 157.8h1.3v1.3h-1.3zM164.2 163.4h1.3v1.3h-1.3zM182.5 162.4h1.3v1.3h-1.3zM178.8 159.5h1.3v1.3h-1.3zM159.8 161.3h1.3v1.3h-1.3zM145.3 153.9h1.3v1.3h-1.3zM164.8 159.6h1.3v1.3h-1.3zM163.2 158.9h1.3v1.3h-1.3zM179.2 160.8h1.3v1.3h-1.3zM192.8 160.1h1.3v1.3h-1.3zM146.0 161.1h1.3v1.3h-1.3zM169.8 165.2h1.3v1.3h-1.3zM143.9 153.8h1.3v1.3h-1.3zM172.2 160.2h1.3v1.3h-1.3zM199.9 168.2h1.3v1.3h-1.3zM153.5 165.8h1.3v1.3h-1.3zM146.0 156.7h1.3v1.3h-1.3zM156.6 155.6h1.3v1.3h-1.3zM160.0 158.9h1.3v1.3h-1.3zM156.4 165.2h1.3v1.3h-1.3zM165.4 159.4h1.3v1.3h-1.3zM190.1 164.6h1.3v1.3h-1.3zM170.7 165.6h1.3v1.3h-1.3zM145.6 151.3h1.3v1.3h-1.3zM142.8 151.1h1.3v1.3h-1.3zM197.3 168.6h1.3v1.3h-1.3zM160.2 161.4h1.3v1.3h-1.3zM159.5 154.3h1.3v1.3h-1.3zM178.2 162.9h1.3v1.3h-1.3zM179.5 161.5h1.3v1.3h-1.3zM144.4 158.6h1.3v1.3h-1.3zM143.2 155.4h1.3v1.3h-1.3zM166.0 157.7h1.3v1.3h-1.3zM146.7 155.3h1.3v1.3h-1.3zM157.0 158.9h1.3v1.3h-1.3zM150.9 157.6h1.3v1.3h-1.3zM158.1 164.3h1.3v1.3h-1.3zM166.9 161.4h1.3v1.3h-1.3zM158.0 153.6h1.3v1.3h-1.3zM159.5 160.2h1.3v1.3h-1.3zM168.7 164.2h1.3v1.3h-1.3zM180.8 162.6h1.3v1.3h-1.3zM141.4 161.1h1.3v1.3h-1.3zM165.3 159.1h1.3v1.3h-1.3zM195.6 167.5h1.3v1.3h-1.3zM139.3 154.8h1.3v1.3h-1.3zM142.4 160.3h1.3v1.3h-1.3zM144.9 153.7h1.3v1.3h-1.3zM195.0 169.5h1.3v1.3h-1.3zM164.2 154.1h1.3v1.3h-1.3zM190.9 156.2h1.3v1.3h-1.3zM144.3 159.6h1.3v1.3h-1.3zM161.1 158.4h1.3v1.3h-1.3zM159.2 159.2h1.3v1.3h-1.3zM166.7 160.7h1.3v1.3h-1.3zM185.2 162.5h1.3v1.3h-1.3zM144.0 155.2h1.3v1.3h-1.3zM195.8 165.7h1.3v1.3h-1.3zM168.2 160.5h1.3v1.3h-1.3zM161.3 160.6h1.3v1.3h-1.3zM181.8 168.8h1.3v1.3h-1.3zM155.9 156.3h1.3v1.3h-1.3zM164.4 159.4h1.3v1.3h-1.3zM168.3 161.3h1.3v1.3h-1.3zM150.5 156.9h1.3v1.3h-1.3zM151.3 154.5h1.3v1.3h-1.3zM191.8 162.0h1.3v1.3h-1.3zM174.3 163.9h1.3v1.3h-1.3zM164.8 158.3h1.3v1.3h-1.3zM186.5 165.1h1.3v1.3h-1.3zM148.6 155.9h1.3v1.3h-1.3zM139.7 159.0h1.3v1.3h-1.3zM155.1 156.4h1.3v1.3h-1.3zM154.4 155.8h1.3v1.3h-1.3zM169.3 159.8h1.3v1.3h-1.3zM176.0 160.8h1.3v1.3h-1.3zM165.7 164.2h1.3v1.3h-1.3zM182.8 156.4h1.3v1.3h-1.3zM197.3 167.1h1.3v1.3h-1.3zM149.2 163.4h1.3v1.3h-1.3zM153.5 162.9h1.3v1.3h-1.3zM176.3 159.3h1.3v1.3h-1.3zM164.1 156.9h1.3v1.3h-1.3zM158.2 157.2h1.3v1.3h-1.3zM169.9 160.5h1.3v1.3h-1.3zM181.7 162.5h1.3v1.3h-1.3zM194.7 166.0h1.3v1.3h-1.3zM196.7 167.3h1.3v1.3h-1.3zM160.2 155.4h1.3v1.3h-1.3zM149.6 154.7h1.3v1.3h-1.3zM154.1 154.6h1.3v1.3h-1.3zM181.6 157.1h1.3v1.3h-1.3zM179.8 161.1h1.3v1.3h-1.3zM142.5 158.8h1.3v1.3h-1.3zM141.2 165.6h1.3v1.3h-1.3zM150.9 160.0h1.3v1.3h-1.3zM174.2 160.3h1.3v1.3h-1.3zM164.9 163.9h1.3v1.3h-1.3zM143.9 155.6h1.3v1.3h-1.3zM151.3 159.5h1.3v1.3h-1.3zM174.5 163.6h1.3v1.3h-1.3zM163.6 161.7h1.3v1.3h-1.3zM185.8 164.2h1.3v1.3h-1.3zM167.6 158.2h1.3v1.3h-1.3zM169.3 155.2h1.3v1.3h-1.3zM160.9 158.4h1.3v1.3h-1.3zM152.0 156.5h1.3v1.3h-1.3zM156.8 160.9h1.3v1.3h-1.3zM160.7 158.5h1.3v1.3h-1.3zM161.1 160.8h1.3v1.3h-1.3zM149.9 153.2h1.3v1.3h-1.3zM168.0 162.6h1.3v1.3h-1.3zM145.7 155.4h1.3v1.3h-1.3zM192.3 158.5h1.3v1.3h-1.3zM172.7 155.2h1.3v1.3h-1.3zM144.7 156.0h1.3v1.3h-1.3zM159.0 162.5h1.3v1.3h-1.3zM154.5 160.9h1.3v1.3h-1.3zM148.5 154.5h1.3v1.3h-1.3zM168.4 159.7h1.3v1.3h-1.3zM150.1 158.0h1.3v1.3h-1.3zM148.2 153.2h1.3v1.3h-1.3zM165.3 155.9h1.3v1.3h-1.3zM180.2 154.4h1.3v1.3h-1.3zM167.8 156.4h1.3v1.3h-1.3zM169.8 150.5h1.3v1.3h-1.3zM158.0 156.2h1.3v1.3h-1.3zM165.1 156.1h1.3v1.3h-1.3zM168.4 156.7h1.3v1.3h-1.3zM159.9 156.2h1.3v1.3h-1.3zM189.7 167.8h1.3v1.3h-1.3zM154.0 157.4h1.3v1.3h-1.3zM152.4 159.2h1.3v1.3h-1.3zM160.0 161.4h1.3v1.3h-1.3zM173.6 163.1h1.3v1.3h-1.3zM161.0 161.2h1.3v1.3h-1.3zM178.8 159.3h1.3v1.3h-1.3zM189.7 159.7h1.3v1.3h-1.3zM153.8 156.0h1.3v1.3h-1.3zM179.9 159.8h1.3v1.3h-1.3zM162.9 159.1h1.3v1.3h-1.3zM147.8 157.9h1.3v1.3h-1.3zM176.2 164.4h1.3v1.3h-1.3zM151.8 158.1h1.3v1.3h-1.3zM161.5 164.9h1.3v1.3h-1.3zM172.3 163.3h1.3v1.3h-1.3zM147.9 156.6h1.3v1.3h-1.3zM143.4 160.6h1.3v1.3h-1.3zM172.0 149.9h1.3v1.3h-1.3zM141.7 162.1h1.3v1.3h-1.3zM178.3 162.5h1.3v1.3h-1.3zM140.5 158.9h1.3v1.3h-1.3zM172.7 154.1h1.3v1.3h-1.3zM146.2 166.0h1.3v1.3h-1.3zM161.1 158.1h1.3v1.3h-1.3zM179.1 160.8h1.3v1.3h-1.3zM154.7 162.2h1.3v1.3h-1.3zM143.5 157.3h1.3v1.3h-1.3zM150.0 155.6h1.3v1.3h-1.3zM155.7 160.8h1.3v1.3h-1.3zM149.0 155.0h1.3v1.3h-1.3zM151.1 160.7h1.3v1.3h-1.3zM172.3 160.3h1.3v1.3h-1.3zM165.8 163.0h1.3v1.3h-1.3zM189.6 159.2h1.3v1.3h-1.3zM169.5 163.7h1.3v1.3h-1.3zM172.0 160.7h1.3v1.3h-1.3zM191.3 171.1h1.3v1.3h-1.3zM174.8 158.1h1.3v1.3h-1.3zM141.1 163.5h1.3v1.3h-1.3zM167.1 161.7h1.3v1.3h-1.3zM140.8 160.2h1.3v1.3h-1.3zM176.1 158.1h1.3v1.3h-1.3zM142.9 159.6h1.3v1.3h-1.3zM172.0 162.0h1.3v1.3h-1.3zM148.1 155.5h1.3v1.3h-1.3zM191.5 159.8h1.3v1.3h-1.3zM144.6 155.6h1.3v1.3h-1.3zM179.4 166.4h1.3v1.3h-1.3zM182.1 162.5h1.3v1.3h-1.3zM155.8 161.7h1.3v1.3h-1.3zM175.3 161.4h1.3v1.3h-1.3zM159.1 159.2h1.3v1.3h-1.3zM154.8 159.3h1.3v1.3h-1.3zM154.8 157.3h1.3v1.3h-1.3zM139.8 161.4h1.3v1.3h-1.3zM180.2 162.1h1.3v1.3h-1.3zM143.3 158.6h1.3v1.3h-1.3zM151.0 153.9h1.3v1.3h-1.3zM144.2 158.9h1.3v1.3h-1.3zM171.4 157.3h1.3v1.3h-1.3zM167.6 157.7h1.3v1.3h-1.3zM174.7 163.9h1.3v1.3h-1.3zM177.2 157.1h1.3v1.3h-1.3zM170.4 158.8h1.3v1.3h-1.3zM158.1 160.8h1.3v1.3h-1.3zM170.6 163.4h1.3v1.3h-1.3zM199.6 163.9h1.3v1.3h-1.3zM173.9 161.2h1.3v1.3h-1.3zM168.2 160.3h1.3v1.3h-1.3zM142.2 154.3h1.3v1.3h-1.3zM142.7 151.2h1.3v1.3h-1.3zM187.4 156.2h1.3v1.3h-1.3zM196.8 167.4h1.3v1.3h-1.3zM142.0 158.1h1.3v1.3h-1.3zM140.3 153.6h1.3v1.3h-1.3zM139.4 155.7h1.3v1.3h-1.3zM147.3 156.9h1.3v1.3h-1.3zM173.4 158.8h1.3v1.3h-1.3zM179.7 161.3h1.3v1.3h-1.3zM139.8 164.5h1.3v1.3h-1.3zM154.4 156.0h1.3v1.3h-1.3zM172.9 160.4h1.3v1.3h-1.3zM160.6 156.4h1.3v1.3h-1.3zM160.0 156.8h1.3v1.3h-1.3zM163.7 156.2h1.3v1.3h-1.3zM139.1 156.9h1.3v1.3h-1.3zM165.2 157.4h1.3v1.3h-1.3zM155.1 159.7h1.3v1.3h-1.3zM160.8 159.6h1.3v1.3h-1.3zM148.9 155.4h1.3v1.3h-1.3zM159.4 165.1h1.3v1.3h-1.3zM181.9 157.8h1.3v1.3h-1.3zM151.0 159.5h1.3v1.3h-1.3zM176.7 168.2h1.3v1.3h-1.3zM145.1 155.8h1.3v1.3h-1.3zM139.8 161.7h1.3v1.3h-1.3zM153.2 163.0h1.3v1.3h-1.3zM145.4 159.1h1.3v1.3h-1.3zM179.2 154.9h1.3v1.3h-1.3zM169.6 164.3h1.3v1.3h-1.3zM158.0 159.1h1.3v1.3h-1.3zM158.4 157.0h1.3v1.3h-1.3zM151.4 162.4h1.3v1.3h-1.3zM177.9 158.5h1.3v1.3h-1.3zM196.8 169.1h1.3v1.3h-1.3zM144.1 156.2h1.3v1.3h-1.3zM162.6 160.8h1.3v1.3h-1.3zM160.5 155.4h1.3v1.3h-1.3zM143.8 156.7h1.3v1.3h-1.3zM175.4 157.3h1.3v1.3h-1.3zM199.3 163.1h1.3v1.3h-1.3zM155.9 159.2h1.3v1.3h-1.3zM183.6 161.7h1.3v1.3h-1.3zM155.5 159.2h1.3v1.3h-1.3zM195.4 169.5h1.3v1.3h-1.3zM184.9 162.1h1.3v1.3h-1.3zM178.6 154.7h1.3v1.3h-1.3zM150.8 157.4h1.3v1.3h-1.3zM155.9 158.9h1.3v1.3h-1.3zM145.1 161.2h1.3v1.3h-1.3zM193.9 168.3h1.3v1.3h-1.3zM144.2 160.9h1.3v1.3h-1.3zM171.5 158.8h1.3v1.3h-1.3zM152.0 160.5h1.3v1.3h-1.3zM185.9 157.7h1.3v1.3h-1.3zM174.1 164.6h1.3v1.3h-1.3zM197.0 166.8h1.3v1.3h-1.3zM145.0 159.6h1.3v1.3h-1.3zM161.8 157.7h1.3v1.3h-1.3zM174.3 160.4h1.3v1.3h-1.3zM194.9 162.3h1.3v1.3h-1.3zM161.7 160.9h1.3v1.3h-1.3zM150.4 154.1h1.3v1.3h-1.3zM156.3 161.8h1.3v1.3h-1.3zM154.1 160.3h1.3v1.3h-1.3zM148.4 164.6h1.3v1.3h-1.3zM160.0 158.8h1.3v1.3h-1.3zM154.2 158.2h1.3v1.3h-1.3zM170.2 160.2h1.3v1.3h-1.3zM148.7 158.3h1.3v1.3h-1.3zM173.9 159.8h1.3v1.3h-1.3zM180.3 157.7h1.3v1.3h-1.3zM148.2 154.7h1.3v1.3h-1.3zM171.6 157.7h1.3v1.3h-1.3zM151.2 157.4h1.3v1.3h-1.3zM161.2 155.1h1.3v1.3h-1.3zM158.8 155.0h1.3v1.3h-1.3zM153.2 157.6h1.3v1.3h-1.3zM172.1 162.2h1.3v1.3h-1.3zM159.1 158.2h1.3v1.3h-1.3zM159.3 161.1h1.3v1.3h-1.3zM158.9 162.0h1.3v1.3h-1.3zM181.4 164.5h1.3v1.3h-1.3zM168.8 158.0h1.3v1.3h-1.3zM148.3 156.9h1.3v1.3h-1.3zM148.0 152.3h1.3v1.3h-1.3zM184.1 160.0h1.3v1.3h-1.3zM162.7 160.6h1.3v1.3h-1.3zM153.2 155.0h1.3v1.3h-1.3zM153.6 162.9h1.3v1.3h-1.3zM191.9 169.3h1.3v1.3h-1.3zM161.1 157.7h1.3v1.3h-1.3zM145.6 160.9h1.3v1.3h-1.3zM152.4 153.9h1.3v1.3h-1.3zM155.2 155.2h1.3v1.3h-1.3zM173.0 158.7h1.3v1.3h-1.3zM176.4 160.7h1.3v1.3h-1.3zM185.1 161.9h1.3v1.3h-1.3zM157.3 155.9h1.3v1.3h-1.3zM172.7 166.6h1.3v1.3h-1.3zM151.2 159.3h1.3v1.3h-1.3zM147.0 159.0h1.3v1.3h-1.3zM159.0 161.1h1.3v1.3h-1.3zM147.3 158.7h1.3v1.3h-1.3zM186.3 162.0h1.3v1.3h-1.3zM173.1 158.1h1.3v1.3h-1.3zM141.6 152.7h1.3v1.3h-1.3zM166.1 164.2h1.3v1.3h-1.3zM147.5 155.2h1.3v1.3h-1.3zM167.7 153.8h1.3v1.3h-1.3zM174.8 157.6h1.3v1.3h-1.3zM167.1 154.0h1.3v1.3h-1.3zM176.2 167.5h1.3v1.3h-1.3zM172.7 161.1h1.3v1.3h-1.3zM177.2 165.7h1.3v1.3h-1.3zM151.1 163.0h1.3v1.3h-1.3zM148.0 160.0h1.3v1.3h-1.3zM139.6 159.4h1.3v1.3h-1.3zM190.0 161.1h1.3v1.3h-1.3zM139.0 157.4h1.3v1.3h-1.3zM154.6 156.6h1.3v1.3h-1.3zM174.8 160.5h1.3v1.3h-1.3zM169.6 157.1h1.3v1.3h-1.3zM152.0 162.4h1.3v1.3h-1.3zM145.9 160.4h1.3v1.3h-1.3zM148.7 157.9h1.3v1.3h-1.3zM169.5 153.8h1.3v1.3h-1.3zM156.8 160.9h1.3v1.3h-1.3zM166.9 162.3h1.3v1.3h-1.3zM181.2 161.5h1.3v1.3h-1.3zM158.6 154.7h1.3v1.3h-1.3zM140.1 159.0h1.3v1.3h-1.3zM172.4 163.4h1.3v1.3h-1.3zM194.7 157.7h1.3v1.3h-1.3zM196.3 167.1h1.3v1.3h-1.3zM174.0 154.0h1.3v1.3h-1.3zM153.3 158.7h1.3v1.3h-1.3zM157.2 164.4h1.3v1.3h-1.3zM166.4 159.6h1.3v1.3h-1.3zM170.1 161.1h1.3v1.3h-1.3zM189.2 162.4h1.3v1.3h-1.3zM166.4 159.2h1.3v1.3h-1.3zM141.8 165.0h1.3v1.3h-1.3zM152.5 162.7h1.3v1.3h-1.3zM151.9 157.4h1.3v1.3h-1.3zM157.0 157.5h1.3v1.3h-1.3zM147.3 158.2h1.3v1.3h-1.3zM157.5 165.9h1.3v1.3h-1.3zM175.8 161.3h1.3v1.3h-1.3zM155.3 162.2h1.3v1.3h-1.3zM141.8 156.7h1.3v1.3h-1.3zM174.9 156.0h1.3v1.3h-1.3zM184.0 167.0h1.3v1.3h-1.3zM145.5 157.8h1.3v1.3h-1.3zM164.9 156.6h1.3v1.3h-1.3zM143.0 155.7h1.3v1.3h-1.3zM139.9 155.6h1.3v1.3h-1.3zM161.9 157.0h1.3v1.3h-1.3zM156.5 153.7h1.3v1.3h-1.3zM192.7 168.6h1.3v1.3h-1.3zM139.7 158.8h1.3v1.3h-1.3zM178.6 164.5h1.3v1.3h-1.3zM164.5 158.0h1.3v1.3h-1.3zM169.6 160.6h1.3v1.3h-1.3zM154.0 159.1h1.3v1.3h-1.3zM154.4 162.3h1.3v1.3h-1.3zM142.1 160.3h1.3v1.3h-1.3zM140.6 158.8h1.3v1.3h-1.3zM147.3 156.1h1.3v1.3h-1.3zM167.0 155.3h1.3v1.3h-1.3zM170.3 156.8h1.3v1.3h-1.3zM157.0 156.7h1.3v1.3h-1.3zM148.8 156.5h1.3v1.3h-1.3zM188.0 158.8h1.3v1.3h-1.3zM146.5 163.3h1.3v1.3h-1.3zM157.0 159.6h1.3v1.3h-1.3zM185.1 155.5h1.3v1.3h-1.3zM157.2 155.2h1.3v1.3h-1.3zM149.6 154.0h1.3v1.3h-1.3zM171.3 160.4h1.3v1.3h-1.3zM171.9 163.3h1.3v1.3h-1.3zM169.6 156.2h1.3v1.3h-1.3zM186.5 165.1h1.3v1.3h-1.3zM141.7 156.9h1.3v1.3h-1.3zM172.4 163.7h1.3v1.3h-1.3zM187.4 167.9h1.3v1.3h-1.3zM142.0 158.8h1.3v1.3h-1.3zM172.4 162.2h1.3v1.3h-1.3zM166.0 159.2h1.3v1.3h-1.3zM197.7 145.8h1.3v1.3h-1.3zM199.8 148.7h1.3v1.3h-1.3zM197.7 148.6h1.3v1.3h-1.3zM198.3 146.1h1.3v1.3h-1.3zM197.2 151.9h1.3v1.3h-1.3zM198.1 152.5h1.3v1.3h-1.3zM195.3 145.3h1.3v1.3h-1.3zM199.2 150.9h1.3v1.3h-1.3zM196.9 150.5h1.3v1.3h-1.3zM201.7 151.7h1.3v1.3h-1.3zM198.5 148.7h1.3v1.3h-1.3zM193.8 148.9h1.3v1.3h-1.3zM199.7 152.6h1.3v1.3h-1.3zM195.0 146.6h1.3v1.3h-1.3zM195.8 151.2h1.3v1.3h-1.3zM191.2 146.0h1.3v1.3h-1.3zM205.1 150.6h1.3v1.3h-1.3zM194.8 148.7h1.3v1.3h-1.3zM201.4 150.3h1.3v1.3h-1.3zM198.2 146.8h1.3v1.3h-1.3zM201.4 148.8h1.3v1.3h-1.3zM201.3 149.9h1.3v1.3h-1.3zM197.4 152.6h1.3v1.3h-1.3zM197.3 150.0h1.3v1.3h-1.3zM196.9 148.2h1.3v1.3h-1.3zM198.1 147.1h1.3v1.3h-1.3zM199.6 152.3h1.3v1.3h-1.3zM204.5 152.6h1.3v1.3h-1.3zM198.3 152.7h1.3v1.3h-1.3zM200.1 153.6h1.3v1.3h-1.3zM195.0 152.7h1.3v1.3h-1.3zM197.0 151.9h1.3v1.3h-1.3zM197.4 151.2h1.3v1.3h-1.3zM198.0 143.9h1.3v1.3h-1.3zM195.9 148.2h1.3v1.3h-1.3zM198.9 143.0h1.3v1.3h-1.3zM195.2 146.9h1.3v1.3h-1.3zM198.2 149.4h1.3v1.3h-1.3zM196.4 144.9h1.3v1.3h-1.3zM199.8 148.0h1.3v1.3h-1.3zM201.5 147.5h1.3v1.3h-1.3zM200.8 146.5h1.3v1.3h-1.3zM199.7 149.1h1.3v1.3h-1.3zM200.2 146.4h1.3v1.3h-1.3zM198.5 146.6h1.3v1.3h-1.3zM201.5 163.9h1.3v1.3h-1.3zM217.4 161.5h1.3v1.3h-1.3zM206.0 161.8h1.3v1.3h-1.3zM208.1 163.2h1.3v1.3h-1.3zM207.6 162.8h1.3v1.3h-1.3zM214.4 166.9h1.3v1.3h-1.3zM193.8 162.6h1.3v1.3h-1.3zM202.8 152.5h1.3v1.3h-1.3zM198.0 159.5h1.3v1.3h-1.3zM198.7 161.9h1.3v1.3h-1.3zM193.3 164.4h1.3v1.3h-1.3zM206.3 162.8h1.3v1.3h-1.3zM139.9 171.3h1.3v1.3h-1.3zM145.8 173.7h1.3v1.3h-1.3zM151.3 175.8h1.3v1.3h-1.3zM158.0 173.7h1.3v1.3h-1.3zM163.5 173.7h1.3v1.3h-1.3zM166.8 170.9h1.3v1.3h-1.3zM182.2 174.2h1.3v1.3h-1.3zM198.2 172.8h1.3v1.3h-1.3zM212.7 172.8h1.3v1.3h-1.3zM147.3 180.8h1.3v1.3h-1.3zM161.3 184.7h1.3v1.3h-1.3zM162.3 187.4h1.3v1.3h-1.3zM169.7 184.8h1.3v1.3h-1.3zM178.2 181.3h1.3v1.3h-1.3zM185.5 180.4h1.3v1.3h-1.3zM193.2 185.2h1.3v1.3h-1.3zM196.5 179.3h1.3v1.3h-1.3zM197.7 181.5h1.3v1.3h-1.3zM198.8 176.4h1.3v1.3h-1.3zM188.3 188.2h1.3v1.3h-1.3zM142.2 188.2h1.3v1.3h-1.3zM141.4 191.4h1.3v1.3h-1.3zM166.8 190.3h1.3v1.3h-1.3zM149.2 195.2h1.3v1.3h-1.3zM171.2 195.8h1.3v1.3h-1.3zM150.2 200.8h1.3v1.3h-1.3zM197.7 204.7h1.3v1.3h-1.3zM197.2 210.2h1.3v1.3h-1.3zM195.9 213.9h1.3v1.3h-1.3zM198.5 217.2h1.3v1.3h-1.3zM140.3 217.2h1.3v1.3h-1.3zM144.8 230.4h1.3v1.3h-1.3zM188.8 248.5h1.3v1.3h-1.3z" fill="#d9691e"/>
<rect x="52.6" y="134.4" width="171.30" height="123.50" fill="none" stroke="#8c8c8c" stroke-width="0.7"/>
<line x1="52.6" y1="228.5" x2="54.6" y2="228.5" stroke="#8c8c8c" stroke-width="0.7"/>
<line x1="223.9" y1="228.5" x2="221.9" y2="228.5" stroke="#8c8c8c" stroke-width="0.7"/>
<text x="48.6" y="232.80" text-anchor="end" font-size="12" font-family="Liberation Sans, sans-serif" fill="#262626">40</text>
<line x1="52.6" y1="196.4" x2="54.6" y2="196.4" stroke="#8c8c8c" stroke-width="0.7"/>
<line x1="223.9" y1="196.4" x2="221.9" y2="196.4" stroke="#8c8c8c" stroke-width="0.7"/>
<text x="48.6" y="200.70" text-anchor="end" font-size="12" font-family="Liberation Sans, sans-serif" fill="#262626">60</text>
<line x1="52.6" y1="164.5" x2="54.6" y2="164.5" stroke="#8c8c8c" stroke-width="0.7"/>
<line x1="223.9" y1="164.5" x2="221.9" y2="164.5" stroke="#8c8c8c" stroke-width="0.7"/>
<text x="48.6" y="168.80" text-anchor="end" font-size="12" font-family="Liberation Sans, sans-serif" fill="#262626">80</text>
<text transform="translate(10.6,194.8) rotate(-90)" text-anchor="middle" font-size="13" font-family="Liberation Sans, sans-serif" fill="#262626" textLength="119" lengthAdjust="spacingAndGlyphs">Supply Temperature</text>
<text transform="translate(26.5,195.0) rotate(-90)" text-anchor="middle" font-size="13" font-family="Liberation Sans, sans-serif" fill="#262626" textLength="27.4" lengthAdjust="spacingAndGlyphs">in °C</text>
<path d="M128.5 323.0h1.3v1.3h-1.3zM73.1 324.1h1.3v1.3h-1.3zM120.7 312.3h1.3v1.3h-1.3zM107.8 307.0h1.3v1.3h-1.3zM87.5 320.7h1.3v1.3h-1.3zM87.4 335.2h1.3v1.3h-1.3zM74.6 339.5h1.3v1.3h-1.3zM95.6 311.7h1.3v1.3h-1.3zM79.2 330.2h1.3v1.3h-1.3zM111.4 305.5h1.3v1.3h-1.3zM130.5 310.7h1.3v1.3h-1.3zM85.2 332.6h1.3v1.3h-1.3zM82.4 317.7h1.3v1.3h-1.3zM100.9 322.1h1.3v1.3h-1.3zM72.4 318.8h1.3v1.3h-1.3zM74.3 320.8h1.3v1.3h-1.3zM76.8 330.8h1.3v1.3h-1.3zM122.4 308.1h1.3v1.3h-1.3zM99.6 311.3h1.3v1.3h-1.3zM119.4 308.5h1.3v1.3h-1.3zM122.7 320.7h1.3v1.3h-1.3zM85.5 321.5h1.3v1.3h-1.3zM76.6 329.7h1.3v1.3h-1.3zM68.6 321.9h1.3v1.3h-1.3zM115.7 318.6h1.3v1.3h-1.3zM102.0 305.3h1.3v1.3h-1.3zM124.0 299.2h1.3v1.3h-1.3zM110.2 308.1h1.3v1.3h-1.3zM76.2 335.5h1.3v1.3h-1.3zM98.3 310.4h1.3v1.3h-1.3zM92.7 319.4h1.3v1.3h-1.3zM72.7 342.6h1.3v1.3h-1.3zM74.2 319.4h1.3v1.3h-1.3zM113.7 304.9h1.3v1.3h-1.3zM110.6 309.7h1.3v1.3h-1.3zM93.8 322.5h1.3v1.3h-1.3zM73.1 339.6h1.3v1.3h-1.3zM82.4 310.9h1.3v1.3h-1.3zM95.1 322.1h1.3v1.3h-1.3zM116.1 300.4h1.3v1.3h-1.3zM93.4 336.4h1.3v1.3h-1.3zM117.2 313.2h1.3v1.3h-1.3zM89.9 328.0h1.3v1.3h-1.3zM106.5 310.4h1.3v1.3h-1.3zM116.7 313.9h1.3v1.3h-1.3zM93.7 331.3h1.3v1.3h-1.3zM97.2 309.0h1.3v1.3h-1.3zM68.1 320.7h1.3v1.3h-1.3zM72.2 322.1h1.3v1.3h-1.3zM112.0 325.7h1.3v1.3h-1.3zM71.1 340.3h1.3v1.3h-1.3zM77.5 333.9h1.3v1.3h-1.3zM98.3 312.5h1.3v1.3h-1.3zM129.3 305.3h1.3v1.3h-1.3zM134.1 316.5h1.3v1.3h-1.3zM118.6 312.4h1.3v1.3h-1.3zM89.7 318.2h1.3v1.3h-1.3zM76.8 341.5h1.3v1.3h-1.3zM92.9 314.5h1.3v1.3h-1.3zM68.8 337.4h1.3v1.3h-1.3zM84.3 314.7h1.3v1.3h-1.3zM113.9 327.8h1.3v1.3h-1.3zM107.7 310.9h1.3v1.3h-1.3zM129.4 323.5h1.3v1.3h-1.3zM86.3 330.1h1.3v1.3h-1.3zM93.6 332.8h1.3v1.3h-1.3zM115.8 319.0h1.3v1.3h-1.3zM82.0 313.2h1.3v1.3h-1.3zM81.1 322.2h1.3v1.3h-1.3zM132.8 324.2h1.3v1.3h-1.3zM88.7 311.8h1.3v1.3h-1.3zM125.7 312.9h1.3v1.3h-1.3zM92.5 322.5h1.3v1.3h-1.3zM127.3 309.6h1.3v1.3h-1.3zM122.4 306.4h1.3v1.3h-1.3zM84.9 318.4h1.3v1.3h-1.3zM67.9 320.4h1.3v1.3h-1.3zM110.9 309.3h1.3v1.3h-1.3zM88.2 309.3h1.3v1.3h-1.3zM87.5 330.9h1.3v1.3h-1.3zM114.4 327.1h1.3v1.3h-1.3zM93.2 313.3h1.3v1.3h-1.3zM83.7 311.3h1.3v1.3h-1.3zM124.6 308.8h1.3v1.3h-1.3zM120.1 301.9h1.3v1.3h-1.3zM120.8 311.2h1.3v1.3h-1.3zM87.2 316.1h1.3v1.3h-1.3zM132.8 312.1h1.3v1.3h-1.3zM100.1 326.9h1.3v1.3h-1.3zM86.4 335.0h1.3v1.3h-1.3zM74.1 333.9h1.3v1.3h-1.3zM121.0 323.2h1.3v1.3h-1.3zM113.7 330.4h1.3v1.3h-1.3zM129.9 307.7h1.3v1.3h-1.3zM70.9 318.1h1.3v1.3h-1.3zM68.2 319.3h1.3v1.3h-1.3zM126.6 310.6h1.3v1.3h-1.3zM82.0 330.9h1.3v1.3h-1.3zM87.5 333.3h1.3v1.3h-1.3zM73.2 317.7h1.3v1.3h-1.3zM99.4 320.5h1.3v1.3h-1.3zM78.8 313.3h1.3v1.3h-1.3zM68.5 331.3h1.3v1.3h-1.3zM131.1 321.3h1.3v1.3h-1.3zM74.0 322.8h1.3v1.3h-1.3zM90.0 328.0h1.3v1.3h-1.3zM78.4 330.1h1.3v1.3h-1.3zM122.0 318.0h1.3v1.3h-1.3zM119.0 304.4h1.3v1.3h-1.3zM128.7 311.3h1.3v1.3h-1.3zM97.6 307.0h1.3v1.3h-1.3zM119.4 311.2h1.3v1.3h-1.3zM121.1 299.9h1.3v1.3h-1.3zM123.1 326.7h1.3v1.3h-1.3zM75.3 322.4h1.3v1.3h-1.3zM98.7 312.5h1.3v1.3h-1.3zM110.2 328.7h1.3v1.3h-1.3zM85.8 321.9h1.3v1.3h-1.3zM119.3 314.2h1.3v1.3h-1.3zM108.9 328.0h1.3v1.3h-1.3zM120.6 314.2h1.3v1.3h-1.3zM116.5 311.5h1.3v1.3h-1.3zM94.9 328.3h1.3v1.3h-1.3zM72.5 321.9h1.3v1.3h-1.3zM81.3 314.8h1.3v1.3h-1.3zM99.0 326.5h1.3v1.3h-1.3zM131.0 310.3h1.3v1.3h-1.3zM78.9 340.9h1.3v1.3h-1.3zM121.5 314.6h1.3v1.3h-1.3zM82.3 336.9h1.3v1.3h-1.3zM105.5 304.3h1.3v1.3h-1.3zM127.4 297.1h1.3v1.3h-1.3zM95.7 316.5h1.3v1.3h-1.3zM79.8 335.8h1.3v1.3h-1.3zM86.0 323.1h1.3v1.3h-1.3zM116.6 318.0h1.3v1.3h-1.3zM111.2 312.2h1.3v1.3h-1.3zM108.2 312.5h1.3v1.3h-1.3zM79.3 320.8h1.3v1.3h-1.3zM117.2 308.0h1.3v1.3h-1.3zM123.0 298.8h1.3v1.3h-1.3zM96.7 325.9h1.3v1.3h-1.3zM83.6 318.8h1.3v1.3h-1.3zM106.9 330.1h1.3v1.3h-1.3zM119.4 316.5h1.3v1.3h-1.3zM96.2 310.5h1.3v1.3h-1.3zM103.6 312.4h1.3v1.3h-1.3zM116.7 305.1h1.3v1.3h-1.3zM128.6 318.7h1.3v1.3h-1.3zM69.9 321.3h1.3v1.3h-1.3zM112.6 317.6h1.3v1.3h-1.3zM68.8 327.0h1.3v1.3h-1.3zM83.2 320.7h1.3v1.3h-1.3zM112.0 327.0h1.3v1.3h-1.3zM76.6 327.0h1.3v1.3h-1.3zM110.9 310.7h1.3v1.3h-1.3zM119.1 304.0h1.3v1.3h-1.3zM112.0 310.0h1.3v1.3h-1.3zM122.0 303.7h1.3v1.3h-1.3zM107.1 322.5h1.3v1.3h-1.3zM99.6 327.1h1.3v1.3h-1.3zM133.4 312.5h1.3v1.3h-1.3zM88.2 329.5h1.3v1.3h-1.3zM76.4 334.2h1.3v1.3h-1.3zM99.0 322.2h1.3v1.3h-1.3zM105.4 308.7h1.3v1.3h-1.3zM89.7 327.0h1.3v1.3h-1.3zM131.1 296.1h1.3v1.3h-1.3zM87.6 322.7h1.3v1.3h-1.3zM77.4 316.3h1.3v1.3h-1.3zM101.9 325.0h1.3v1.3h-1.3zM79.9 330.7h1.3v1.3h-1.3zM108.3 312.1h1.3v1.3h-1.3zM84.8 326.8h1.3v1.3h-1.3zM90.0 329.0h1.3v1.3h-1.3zM112.4 316.3h1.3v1.3h-1.3zM111.9 308.7h1.3v1.3h-1.3zM67.7 317.7h1.3v1.3h-1.3zM103.9 329.6h1.3v1.3h-1.3zM104.0 306.1h1.3v1.3h-1.3zM89.5 313.8h1.3v1.3h-1.3zM90.3 331.0h1.3v1.3h-1.3zM106.8 304.1h1.3v1.3h-1.3zM119.1 303.2h1.3v1.3h-1.3zM119.0 310.1h1.3v1.3h-1.3zM123.5 302.1h1.3v1.3h-1.3zM101.6 305.4h1.3v1.3h-1.3zM82.4 333.2h1.3v1.3h-1.3zM115.6 305.1h1.3v1.3h-1.3zM75.8 339.3h1.3v1.3h-1.3zM65.7 316.4h1.3v1.3h-1.3zM74.1 320.6h1.3v1.3h-1.3zM68.1 331.4h1.3v1.3h-1.3zM93.9 309.5h1.3v1.3h-1.3zM92.1 321.4h1.3v1.3h-1.3zM131.9 309.7h1.3v1.3h-1.3zM124.0 315.4h1.3v1.3h-1.3zM122.2 325.8h1.3v1.3h-1.3zM115.9 312.1h1.3v1.3h-1.3zM77.0 338.8h1.3v1.3h-1.3zM75.2 318.6h1.3v1.3h-1.3zM121.7 317.7h1.3v1.3h-1.3zM117.7 312.2h1.3v1.3h-1.3zM67.7 337.6h1.3v1.3h-1.3zM93.4 322.3h1.3v1.3h-1.3zM83.3 335.3h1.3v1.3h-1.3zM103.1 308.4h1.3v1.3h-1.3zM96.0 313.8h1.3v1.3h-1.3zM97.0 321.9h1.3v1.3h-1.3zM107.8 321.3h1.3v1.3h-1.3zM118.5 310.5h1.3v1.3h-1.3zM126.6 320.8h1.3v1.3h-1.3zM98.3 316.5h1.3v1.3h-1.3zM90.8 335.4h1.3v1.3h-1.3zM124.2 325.3h1.3v1.3h-1.3zM66.1 316.1h1.3v1.3h-1.3zM118.2 318.4h1.3v1.3h-1.3zM68.2 340.0h1.3v1.3h-1.3zM85.0 310.7h1.3v1.3h-1.3zM129.0 318.1h1.3v1.3h-1.3zM86.1 326.3h1.3v1.3h-1.3zM67.8 329.8h1.3v1.3h-1.3zM73.2 320.9h1.3v1.3h-1.3zM131.3 317.3h1.3v1.3h-1.3zM93.1 313.3h1.3v1.3h-1.3zM90.1 313.1h1.3v1.3h-1.3zM127.7 306.8h1.3v1.3h-1.3zM123.7 327.3h1.3v1.3h-1.3zM81.6 322.3h1.3v1.3h-1.3zM72.7 317.1h1.3v1.3h-1.3zM83.7 274.8h1.3v1.3h-1.3zM104.2 273.7h1.3v1.3h-1.3zM96.3 275.2h1.3v1.3h-1.3zM101.6 275.6h1.3v1.3h-1.3zM107.6 275.0h1.3v1.3h-1.3zM77.6 274.0h1.3v1.3h-1.3zM80.8 275.3h1.3v1.3h-1.3zM109.4 274.2h1.3v1.3h-1.3zM82.8 274.8h1.3v1.3h-1.3zM90.0 275.1h1.3v1.3h-1.3zM108.0 274.4h1.3v1.3h-1.3zM96.6 273.8h1.3v1.3h-1.3zM112.5 274.7h1.3v1.3h-1.3zM62.2 274.8h1.3v1.3h-1.3zM96.1 274.3h1.3v1.3h-1.3zM89.9 274.4h1.3v1.3h-1.3zM84.4 275.3h1.3v1.3h-1.3zM77.9 274.8h1.3v1.3h-1.3zM82.4 274.6h1.3v1.3h-1.3zM107.1 274.5h1.3v1.3h-1.3zM88.0 274.9h1.3v1.3h-1.3zM73.7 274.9h1.3v1.3h-1.3zM100.2 274.7h1.3v1.3h-1.3zM107.2 274.0h1.3v1.3h-1.3zM84.1 274.6h1.3v1.3h-1.3zM105.4 335.6h1.3v1.3h-1.3zM91.3 309.7h1.3v1.3h-1.3zM124.4 349.3h1.3v1.3h-1.3zM108.8 294.9h1.3v1.3h-1.3zM68.8 325.4h1.3v1.3h-1.3zM128.8 309.5h1.3v1.3h-1.3zM105.2 316.6h1.3v1.3h-1.3zM83.5 292.6h1.3v1.3h-1.3zM66.4 308.4h1.3v1.3h-1.3zM66.4 297.7h1.3v1.3h-1.3zM72.4 332.4h1.3v1.3h-1.3zM82.4 339.4h1.3v1.3h-1.3zM102.4 340.1h1.3v1.3h-1.3zM80.0 349.1h1.3v1.3h-1.3zM121.7 311.5h1.3v1.3h-1.3zM102.3 329.8h1.3v1.3h-1.3zM95.1 352.2h1.3v1.3h-1.3zM95.1 319.8h1.3v1.3h-1.3zM81.2 321.3h1.3v1.3h-1.3zM103.2 330.9h1.3v1.3h-1.3zM80.6 286.5h1.3v1.3h-1.3zM87.3 344.6h1.3v1.3h-1.3zM101.1 313.9h1.3v1.3h-1.3zM110.3 338.0h1.3v1.3h-1.3zM87.6 293.8h1.3v1.3h-1.3zM83.8 339.0h1.3v1.3h-1.3zM87.8 328.0h1.3v1.3h-1.3zM92.9 326.7h1.3v1.3h-1.3zM86.2 329.5h1.3v1.3h-1.3zM83.1 327.7h1.3v1.3h-1.3zM86.6 321.2h1.3v1.3h-1.3zM84.1 331.7h1.3v1.3h-1.3zM87.6 332.0h1.3v1.3h-1.3zM98.5 334.3h1.3v1.3h-1.3zM85.4 329.4h1.3v1.3h-1.3zM86.1 332.8h1.3v1.3h-1.3zM84.6 339.5h1.3v1.3h-1.3zM80.3 334.0h1.3v1.3h-1.3zM88.8 323.0h1.3v1.3h-1.3zM89.5 333.6h1.3v1.3h-1.3zM82.8 344.5h1.3v1.3h-1.3zM89.9 328.1h1.3v1.3h-1.3zM83.6 325.5h1.3v1.3h-1.3zM87.5 330.5h1.3v1.3h-1.3zM78.8 323.7h1.3v1.3h-1.3zM82.4 327.6h1.3v1.3h-1.3zM84.3 326.0h1.3v1.3h-1.3zM89.5 336.0h1.3v1.3h-1.3zM86.5 316.5h1.3v1.3h-1.3zM85.3 333.6h1.3v1.3h-1.3zM85.7 331.8h1.3v1.3h-1.3zM86.7 320.9h1.3v1.3h-1.3zM72.9 333.9h1.3v1.3h-1.3zM83.4 332.7h1.3v1.3h-1.3zM84.6 329.1h1.3v1.3h-1.3zM93.3 322.7h1.3v1.3h-1.3zM86.1 323.3h1.3v1.3h-1.3zM86.5 333.0h1.3v1.3h-1.3zM89.5 331.0h1.3v1.3h-1.3zM78.9 331.6h1.3v1.3h-1.3zM90.8 336.2h1.3v1.3h-1.3zM97.3 333.6h1.3v1.3h-1.3zM80.8 326.9h1.3v1.3h-1.3zM86.6 336.6h1.3v1.3h-1.3zM80.2 335.7h1.3v1.3h-1.3zM89.5 324.7h1.3v1.3h-1.3zM89.3 325.4h1.3v1.3h-1.3zM86.1 328.2h1.3v1.3h-1.3zM87.4 322.8h1.3v1.3h-1.3zM88.9 316.7h1.3v1.3h-1.3zM84.0 326.6h1.3v1.3h-1.3zM94.4 333.4h1.3v1.3h-1.3zM83.6 324.6h1.3v1.3h-1.3zM86.3 326.2h1.3v1.3h-1.3zM97.8 313.0h1.3v1.3h-1.3zM86.5 314.9h1.3v1.3h-1.3zM91.6 325.1h1.3v1.3h-1.3zM94.5 326.7h1.3v1.3h-1.3zM91.8 331.4h1.3v1.3h-1.3zM92.3 330.2h1.3v1.3h-1.3zM70.6 325.6h1.3v1.3h-1.3zM78.0 335.9h1.3v1.3h-1.3zM88.9 330.1h1.3v1.3h-1.3zM88.5 331.3h1.3v1.3h-1.3zM83.2 342.2h1.3v1.3h-1.3zM87.4 328.9h1.3v1.3h-1.3zM78.5 326.3h1.3v1.3h-1.3zM86.2 329.0h1.3v1.3h-1.3zM83.7 329.8h1.3v1.3h-1.3zM80.3 330.2h1.3v1.3h-1.3zM78.1 324.8h1.3v1.3h-1.3zM82.3 335.5h1.3v1.3h-1.3zM88.7 330.6h1.3v1.3h-1.3zM80.1 327.6h1.3v1.3h-1.3zM90.3 337.8h1.3v1.3h-1.3zM78.4 327.4h1.3v1.3h-1.3zM86.7 332.3h1.3v1.3h-1.3zM86.2 334.2h1.3v1.3h-1.3zM78.6 339.7h1.3v1.3h-1.3zM80.2 330.5h1.3v1.3h-1.3zM88.9 337.3h1.3v1.3h-1.3zM90.9 335.5h1.3v1.3h-1.3zM92.9 329.2h1.3v1.3h-1.3zM90.1 339.7h1.3v1.3h-1.3zM82.2 321.5h1.3v1.3h-1.3zM80.9 338.9h1.3v1.3h-1.3zM92.7 328.0h1.3v1.3h-1.3zM87.5 333.1h1.3v1.3h-1.3zM91.7 318.5h1.3v1.3h-1.3zM83.3 328.6h1.3v1.3h-1.3zM87.9 330.7h1.3v1.3h-1.3zM84.6 332.0h1.3v1.3h-1.3zM72.7 349.3h1.3v1.3h-1.3zM90.5 335.7h1.3v1.3h-1.3zM82.8 332.8h1.3v1.3h-1.3zM97.0 341.5h1.3v1.3h-1.3zM86.6 322.5h1.3v1.3h-1.3zM87.1 328.4h1.3v1.3h-1.3zM90.7 322.3h1.3v1.3h-1.3zM85.3 331.9h1.3v1.3h-1.3zM83.8 336.8h1.3v1.3h-1.3zM80.3 322.6h1.3v1.3h-1.3zM84.4 335.4h1.3v1.3h-1.3zM84.7 326.6h1.3v1.3h-1.3zM90.5 331.6h1.3v1.3h-1.3zM83.5 331.0h1.3v1.3h-1.3zM85.0 334.0h1.3v1.3h-1.3zM87.0 325.3h1.3v1.3h-1.3zM83.7 327.7h1.3v1.3h-1.3zM88.2 332.6h1.3v1.3h-1.3zM81.9 329.1h1.3v1.3h-1.3zM87.9 337.1h1.3v1.3h-1.3zM87.6 342.4h1.3v1.3h-1.3zM86.4 334.8h1.3v1.3h-1.3zM84.5 324.0h1.3v1.3h-1.3zM86.8 333.2h1.3v1.3h-1.3zM88.0 331.1h1.3v1.3h-1.3zM84.5 325.1h1.3v1.3h-1.3zM84.7 333.1h1.3v1.3h-1.3zM91.3 309.8h1.3v1.3h-1.3zM89.5 337.0h1.3v1.3h-1.3zM92.9 332.6h1.3v1.3h-1.3zM89.8 327.5h1.3v1.3h-1.3zM85.8 333.5h1.3v1.3h-1.3zM80.5 325.3h1.3v1.3h-1.3zM87.3 321.9h1.3v1.3h-1.3zM86.5 321.0h1.3v1.3h-1.3zM87.3 330.4h1.3v1.3h-1.3zM83.3 324.4h1.3v1.3h-1.3zM83.6 316.3h1.3v1.3h-1.3zM84.2 331.0h1.3v1.3h-1.3zM92.6 327.1h1.3v1.3h-1.3zM85.3 338.9h1.3v1.3h-1.3zM95.4 327.2h1.3v1.3h-1.3zM91.8 337.6h1.3v1.3h-1.3zM89.0 324.1h1.3v1.3h-1.3zM81.3 333.8h1.3v1.3h-1.3zM98.5 329.1h1.3v1.3h-1.3zM94.5 342.0h1.3v1.3h-1.3zM79.7 326.5h1.3v1.3h-1.3zM94.2 336.3h1.3v1.3h-1.3zM89.1 330.2h1.3v1.3h-1.3zM89.6 326.3h1.3v1.3h-1.3zM99.5 323.0h1.3v1.3h-1.3zM76.8 331.2h1.3v1.3h-1.3zM93.9 327.2h1.3v1.3h-1.3zM86.0 323.9h1.3v1.3h-1.3zM85.9 323.9h1.3v1.3h-1.3zM81.0 321.0h1.3v1.3h-1.3zM83.4 341.8h1.3v1.3h-1.3zM85.9 331.4h1.3v1.3h-1.3zM98.0 326.3h1.3v1.3h-1.3zM81.0 333.5h1.3v1.3h-1.3zM79.7 332.3h1.3v1.3h-1.3zM92.4 323.5h1.3v1.3h-1.3zM83.5 340.8h1.3v1.3h-1.3zM80.6 326.0h1.3v1.3h-1.3zM87.5 328.2h1.3v1.3h-1.3zM81.7 340.2h1.3v1.3h-1.3zM83.2 332.3h1.3v1.3h-1.3zM84.1 328.8h1.3v1.3h-1.3zM79.0 336.0h1.3v1.3h-1.3zM84.0 338.2h1.3v1.3h-1.3zM80.1 327.2h1.3v1.3h-1.3zM88.8 330.9h1.3v1.3h-1.3zM82.8 329.4h1.3v1.3h-1.3zM79.4 330.6h1.3v1.3h-1.3zM72.2 331.3h1.3v1.3h-1.3zM93.4 335.8h1.3v1.3h-1.3zM90.7 327.6h1.3v1.3h-1.3zM88.8 327.7h1.3v1.3h-1.3zM85.8 329.6h1.3v1.3h-1.3zM68.4 336.0h1.3v1.3h-1.3zM88.7 335.5h1.3v1.3h-1.3zM81.2 334.6h1.3v1.3h-1.3zM88.8 316.3h1.3v1.3h-1.3zM76.9 330.5h1.3v1.3h-1.3zM82.7 330.1h1.3v1.3h-1.3zM82.9 339.6h1.3v1.3h-1.3zM76.2 321.7h1.3v1.3h-1.3zM81.1 321.7h1.3v1.3h-1.3zM83.2 330.0h1.3v1.3h-1.3zM79.1 332.5h1.3v1.3h-1.3zM93.2 337.1h1.3v1.3h-1.3zM96.9 337.3h1.3v1.3h-1.3zM86.1 341.4h1.3v1.3h-1.3zM90.0 342.0h1.3v1.3h-1.3zM85.2 317.1h1.3v1.3h-1.3zM80.1 331.4h1.3v1.3h-1.3zM89.2 329.0h1.3v1.3h-1.3zM91.6 323.1h1.3v1.3h-1.3zM82.6 336.5h1.3v1.3h-1.3zM86.6 330.9h1.3v1.3h-1.3zM93.8 337.1h1.3v1.3h-1.3zM82.1 331.6h1.3v1.3h-1.3zM77.3 330.2h1.3v1.3h-1.3zM88.4 319.5h1.3v1.3h-1.3zM94.6 342.8h1.3v1.3h-1.3zM88.9 336.1h1.3v1.3h-1.3zM94.3 329.2h1.3v1.3h-1.3zM91.8 332.7h1.3v1.3h-1.3zM78.2 324.7h1.3v1.3h-1.3zM83.3 337.0h1.3v1.3h-1.3zM86.9 336.5h1.3v1.3h-1.3zM83.8 322.4h1.3v1.3h-1.3zM97.3 347.4h1.3v1.3h-1.3zM88.4 329.1h1.3v1.3h-1.3zM92.6 323.4h1.3v1.3h-1.3zM85.3 321.4h1.3v1.3h-1.3zM88.9 331.9h1.3v1.3h-1.3zM84.2 326.3h1.3v1.3h-1.3zM78.3 325.2h1.3v1.3h-1.3zM92.9 328.2h1.3v1.3h-1.3zM93.0 324.9h1.3v1.3h-1.3zM85.9 327.5h1.3v1.3h-1.3zM85.0 335.2h1.3v1.3h-1.3zM75.5 335.0h1.3v1.3h-1.3zM90.0 330.4h1.3v1.3h-1.3zM86.8 329.0h1.3v1.3h-1.3zM90.0 330.7h1.3v1.3h-1.3zM81.9 331.3h1.3v1.3h-1.3zM91.4 332.7h1.3v1.3h-1.3zM86.5 331.6h1.3v1.3h-1.3zM83.7 327.5h1.3v1.3h-1.3zM76.4 329.2h1.3v1.3h-1.3zM91.6 327.9h1.3v1.3h-1.3zM81.6 336.0h1.3v1.3h-1.3zM87.2 331.3h1.3v1.3h-1.3zM88.9 334.7h1.3v1.3h-1.3zM86.1 325.2h1.3v1.3h-1.3zM95.5 330.7h1.3v1.3h-1.3zM82.3 331.5h1.3v1.3h-1.3zM92.7 321.5h1.3v1.3h-1.3zM93.3 329.5h1.3v1.3h-1.3zM96.9 334.5h1.3v1.3h-1.3zM85.8 338.2h1.3v1.3h-1.3zM93.1 328.2h1.3v1.3h-1.3zM87.6 327.2h1.3v1.3h-1.3zM91.2 321.6h1.3v1.3h-1.3zM85.4 317.1h1.3v1.3h-1.3zM89.5 316.5h1.3v1.3h-1.3zM80.8 332.0h1.3v1.3h-1.3zM84.5 327.6h1.3v1.3h-1.3zM81.3 327.5h1.3v1.3h-1.3zM77.2 332.4h1.3v1.3h-1.3zM90.6 335.1h1.3v1.3h-1.3zM86.2 338.0h1.3v1.3h-1.3zM88.8 336.3h1.3v1.3h-1.3zM88.4 330.6h1.3v1.3h-1.3zM82.4 314.1h1.3v1.3h-1.3zM89.8 329.7h1.3v1.3h-1.3zM96.8 318.1h1.3v1.3h-1.3zM90.8 324.5h1.3v1.3h-1.3zM86.4 324.9h1.3v1.3h-1.3zM88.2 330.2h1.3v1.3h-1.3zM91.0 331.3h1.3v1.3h-1.3zM88.9 338.3h1.3v1.3h-1.3zM89.1 329.6h1.3v1.3h-1.3zM92.9 329.7h1.3v1.3h-1.3zM88.5 328.4h1.3v1.3h-1.3zM82.9 311.8h1.3v1.3h-1.3zM90.0 323.3h1.3v1.3h-1.3zM90.2 341.6h1.3v1.3h-1.3zM79.5 335.8h1.3v1.3h-1.3zM85.9 333.2h1.3v1.3h-1.3zM80.1 330.6h1.3v1.3h-1.3zM87.2 339.2h1.3v1.3h-1.3zM97.6 332.3h1.3v1.3h-1.3zM84.5 344.1h1.3v1.3h-1.3zM85.8 330.1h1.3v1.3h-1.3zM86.9 333.3h1.3v1.3h-1.3zM90.1 326.9h1.3v1.3h-1.3zM85.8 342.0h1.3v1.3h-1.3zM94.8 333.2h1.3v1.3h-1.3zM87.8 329.0h1.3v1.3h-1.3zM91.8 327.2h1.3v1.3h-1.3zM87.1 327.6h1.3v1.3h-1.3zM83.2 330.7h1.3v1.3h-1.3zM86.5 326.9h1.3v1.3h-1.3zM86.1 330.9h1.3v1.3h-1.3zM84.0 326.4h1.3v1.3h-1.3zM85.7 334.8h1.3v1.3h-1.3zM92.2 331.6h1.3v1.3h-1.3zM85.0 330.3h1.3v1.3h-1.3zM96.4 336.1h1.3v1.3h-1.3zM87.7 346.2h1.3v1.3h-1.3zM88.9 345.0h1.3v1.3h-1.3zM85.6 346.5h1.3v1.3h-1.3zM86.5 344.2h1.3v1.3h-1.3zM94.7 350.2h1.3v1.3h-1.3zM87.9 342.5h1.3v1.3h-1.3zM87.8 339.2h1.3v1.3h-1.3zM87.6 345.4h1.3v1.3h-1.3zM87.4 349.3h1.3v1.3h-1.3zM90.3 344.4h1.3v1.3h-1.3zM95.4 349.1h1.3v1.3h-1.3zM90.6 353.5h1.3v1.3h-1.3zM94.2 343.7h1.3v1.3h-1.3zM91.3 344.8h1.3v1.3h-1.3zM86.3 353.7h1.3v1.3h-1.3zM94.7 341.6h1.3v1.3h-1.3zM91.8 340.2h1.3v1.3h-1.3zM93.5 346.2h1.3v1.3h-1.3zM89.6 351.2h1.3v1.3h-1.3zM90.4 345.4h1.3v1.3h-1.3zM93.0 345.3h1.3v1.3h-1.3zM92.9 346.4h1.3v1.3h-1.3zM92.8 348.8h1.3v1.3h-1.3zM92.7 342.6h1.3v1.3h-1.3zM95.8 345.8h1.3v1.3h-1.3zM95.5 344.1h1.3v1.3h-1.3zM89.6 345.4h1.3v1.3h-1.3zM93.7 344.8h1.3v1.3h-1.3zM91.6 340.4h1.3v1.3h-1.3zM89.0 347.3h1.3v1.3h-1.3zM90.1 339.2h1.3v1.3h-1.3zM91.8 342.7h1.3v1.3h-1.3zM96.0 345.7h1.3v1.3h-1.3zM96.9 349.0h1.3v1.3h-1.3zM91.7 344.6h1.3v1.3h-1.3zM90.1 348.2h1.3v1.3h-1.3zM84.8 350.3h1.3v1.3h-1.3zM87.0 345.4h1.3v1.3h-1.3zM82.5 348.2h1.3v1.3h-1.3zM92.6 347.5h1.3v1.3h-1.3zM91.3 345.0h1.3v1.3h-1.3zM90.8 351.1h1.3v1.3h-1.3zM89.2 348.4h1.3v1.3h-1.3zM92.5 345.5h1.3v1.3h-1.3zM91.1 347.3h1.3v1.3h-1.3zM89.0 355.8h1.3v1.3h-1.3zM89.2 353.0h1.3v1.3h-1.3zM93.5 338.6h1.3v1.3h-1.3zM91.1 350.4h1.3v1.3h-1.3zM92.8 342.9h1.3v1.3h-1.3zM117.2 324.2h1.3v1.3h-1.3zM108.4 328.4h1.3v1.3h-1.3zM116.8 336.4h1.3v1.3h-1.3zM117.9 334.0h1.3v1.3h-1.3zM107.3 324.4h1.3v1.3h-1.3zM112.2 337.1h1.3v1.3h-1.3zM106.4 322.5h1.3v1.3h-1.3zM115.0 334.6h1.3v1.3h-1.3zM104.4 328.3h1.3v1.3h-1.3zM106.3 335.7h1.3v1.3h-1.3zM120.2 330.6h1.3v1.3h-1.3zM115.1 328.4h1.3v1.3h-1.3zM116.4 326.6h1.3v1.3h-1.3zM109.5 324.6h1.3v1.3h-1.3zM115.5 325.9h1.3v1.3h-1.3zM121.4 320.2h1.3v1.3h-1.3zM119.3 331.7h1.3v1.3h-1.3zM123.7 328.3h1.3v1.3h-1.3zM105.2 325.4h1.3v1.3h-1.3zM123.1 328.1h1.3v1.3h-1.3zM112.6 326.8h1.3v1.3h-1.3zM115.0 328.4h1.3v1.3h-1.3zM104.8 326.8h1.3v1.3h-1.3zM122.3 335.7h1.3v1.3h-1.3zM114.6 327.1h1.3v1.3h-1.3zM124.7 328.6h1.3v1.3h-1.3zM107.4 328.8h1.3v1.3h-1.3zM120.2 336.2h1.3v1.3h-1.3zM112.1 331.8h1.3v1.3h-1.3zM113.2 334.4h1.3v1.3h-1.3zM117.2 330.5h1.3v1.3h-1.3zM108.7 328.0h1.3v1.3h-1.3zM113.2 313.6h1.3v1.3h-1.3zM121.2 329.3h1.3v1.3h-1.3zM114.0 327.8h1.3v1.3h-1.3zM115.6 330.4h1.3v1.3h-1.3zM106.5 329.9h1.3v1.3h-1.3zM116.2 329.5h1.3v1.3h-1.3zM105.3 328.8h1.3v1.3h-1.3zM106.7 330.9h1.3v1.3h-1.3zM124.4 333.2h1.3v1.3h-1.3zM113.1 327.0h1.3v1.3h-1.3zM111.6 330.9h1.3v1.3h-1.3zM110.9 327.0h1.3v1.3h-1.3zM98.3 325.7h1.3v1.3h-1.3zM110.1 327.0h1.3v1.3h-1.3zM123.7 323.4h1.3v1.3h-1.3zM106.3 332.0h1.3v1.3h-1.3zM108.7 328.7h1.3v1.3h-1.3zM116.6 329.4h1.3v1.3h-1.3zM110.1 333.4h1.3v1.3h-1.3zM125.6 325.0h1.3v1.3h-1.3zM113.5 333.5h1.3v1.3h-1.3zM114.0 325.0h1.3v1.3h-1.3zM112.5 333.0h1.3v1.3h-1.3zM108.6 330.5h1.3v1.3h-1.3zM118.0 326.5h1.3v1.3h-1.3zM119.2 332.3h1.3v1.3h-1.3zM122.2 333.5h1.3v1.3h-1.3zM105.3 333.3h1.3v1.3h-1.3zM119.4 333.7h1.3v1.3h-1.3zM109.6 333.3h1.3v1.3h-1.3zM117.9 324.3h1.3v1.3h-1.3zM124.0 326.0h1.3v1.3h-1.3zM108.5 331.1h1.3v1.3h-1.3zM111.3 331.0h1.3v1.3h-1.3zM113.7 330.6h1.3v1.3h-1.3zM120.9 329.2h1.3v1.3h-1.3zM121.3 333.1h1.3v1.3h-1.3zM109.7 333.1h1.3v1.3h-1.3zM119.6 330.0h1.3v1.3h-1.3zM123.0 336.6h1.3v1.3h-1.3zM120.6 323.0h1.3v1.3h-1.3zM118.4 328.8h1.3v1.3h-1.3zM113.6 330.9h1.3v1.3h-1.3zM113.2 336.5h1.3v1.3h-1.3zM117.3 329.5h1.3v1.3h-1.3zM120.8 332.9h1.3v1.3h-1.3zM123.5 332.2h1.3v1.3h-1.3zM115.2 330.0h1.3v1.3h-1.3zM100.8 323.0h1.3v1.3h-1.3zM122.5 328.0h1.3v1.3h-1.3zM127.8 337.3h1.3v1.3h-1.3zM107.0 330.8h1.3v1.3h-1.3zM135.0 326.0h1.3v1.3h-1.3zM118.1 328.4h1.3v1.3h-1.3zM113.8 328.2h1.3v1.3h-1.3zM115.3 332.7h1.3v1.3h-1.3zM110.0 331.6h1.3v1.3h-1.3zM110.7 331.7h1.3v1.3h-1.3zM117.6 326.0h1.3v1.3h-1.3zM116.4 326.2h1.3v1.3h-1.3zM109.7 334.5h1.3v1.3h-1.3zM103.1 331.9h1.3v1.3h-1.3zM120.3 326.8h1.3v1.3h-1.3zM122.9 333.4h1.3v1.3h-1.3zM106.7 331.7h1.3v1.3h-1.3zM118.6 326.2h1.3v1.3h-1.3zM119.4 332.7h1.3v1.3h-1.3zM110.6 320.7h1.3v1.3h-1.3zM118.2 326.2h1.3v1.3h-1.3zM103.8 327.8h1.3v1.3h-1.3zM99.3 327.9h1.3v1.3h-1.3zM125.7 317.0h1.3v1.3h-1.3zM118.6 325.4h1.3v1.3h-1.3zM112.7 325.4h1.3v1.3h-1.3zM119.8 329.4h1.3v1.3h-1.3zM110.2 323.7h1.3v1.3h-1.3zM112.6 334.5h1.3v1.3h-1.3zM107.2 331.2h1.3v1.3h-1.3zM117.8 320.7h1.3v1.3h-1.3zM123.0 329.3h1.3v1.3h-1.3zM130.7 337.0h1.3v1.3h-1.3zM113.8 328.8h1.3v1.3h-1.3zM108.6 323.4h1.3v1.3h-1.3zM120.9 328.3h1.3v1.3h-1.3zM112.7 328.7h1.3v1.3h-1.3zM120.1 333.6h1.3v1.3h-1.3zM115.5 328.6h1.3v1.3h-1.3zM116.2 338.5h1.3v1.3h-1.3zM101.3 324.3h1.3v1.3h-1.3zM118.7 330.1h1.3v1.3h-1.3zM123.9 335.2h1.3v1.3h-1.3zM129.0 325.9h1.3v1.3h-1.3zM119.7 328.4h1.3v1.3h-1.3zM122.1 330.3h1.3v1.3h-1.3zM121.6 326.2h1.3v1.3h-1.3zM116.6 327.2h1.3v1.3h-1.3zM113.7 327.4h1.3v1.3h-1.3zM108.4 334.4h1.3v1.3h-1.3zM117.5 334.3h1.3v1.3h-1.3zM108.7 320.8h1.3v1.3h-1.3zM111.1 328.8h1.3v1.3h-1.3zM120.9 334.1h1.3v1.3h-1.3zM123.9 336.2h1.3v1.3h-1.3zM120.5 330.0h1.3v1.3h-1.3zM110.3 332.5h1.3v1.3h-1.3zM112.1 325.9h1.3v1.3h-1.3zM119.6 330.4h1.3v1.3h-1.3zM121.4 326.3h1.3v1.3h-1.3zM123.6 331.1h1.3v1.3h-1.3zM114.4 326.1h1.3v1.3h-1.3zM108.1 323.4h1.3v1.3h-1.3zM125.1 323.2h1.3v1.3h-1.3zM119.9 328.4h1.3v1.3h-1.3zM111.6 327.4h1.3v1.3h-1.3zM114.9 333.5h1.3v1.3h-1.3zM119.4 329.5h1.3v1.3h-1.3zM106.1 321.6h1.3v1.3h-1.3zM128.4 325.0h1.3v1.3h-1.3zM104.7 334.4h1.3v1.3h-1.3zM105.2 332.7h1.3v1.3h-1.3zM121.9 330.6h1.3v1.3h-1.3zM122.1 323.3h1.3v1.3h-1.3zM107.1 328.6h1.3v1.3h-1.3zM115.5 329.1h1.3v1.3h-1.3zM118.7 326.2h1.3v1.3h-1.3zM100.9 331.2h1.3v1.3h-1.3zM113.9 333.0h1.3v1.3h-1.3zM129.8 329.8h1.3v1.3h-1.3zM119.5 325.5h1.3v1.3h-1.3zM121.7 331.0h1.3v1.3h-1.3zM117.2 333.5h1.3v1.3h-1.3zM107.7 331.9h1.3v1.3h-1.3zM118.6 336.5h1.3v1.3h-1.3zM103.1 329.1h1.3v1.3h-1.3zM130.6 327.6h1.3v1.3h-1.3zM112.5 337.3h1.3v1.3h-1.3zM132.7 330.0h1.3v1.3h-1.3zM110.6 326.8h1.3v1.3h-1.3zM112.8 325.7h1.3v1.3h-1.3zM109.9 330.2h1.3v1.3h-1.3zM115.8 331.6h1.3v1.3h-1.3zM115.7 324.1h1.3v1.3h-1.3zM120.6 330.5h1.3v1.3h-1.3zM111.5 328.2h1.3v1.3h-1.3zM117.7 329.8h1.3v1.3h-1.3zM114.6 332.8h1.3v1.3h-1.3zM122.8 328.0h1.3v1.3h-1.3zM115.3 324.5h1.3v1.3h-1.3zM114.3 331.5h1.3v1.3h-1.3zM121.4 330.2h1.3v1.3h-1.3zM114.9 326.3h1.3v1.3h-1.3zM117.0 324.6h1.3v1.3h-1.3zM116.4 329.5h1.3v1.3h-1.3zM109.3 330.9h1.3v1.3h-1.3zM114.0 332.1h1.3v1.3h-1.3zM112.2 331.6h1.3v1.3h-1.3zM126.2 330.2h1.3v1.3h-1.3zM120.9 326.6h1.3v1.3h-1.3zM113.1 321.1h1.3v1.3h-1.3zM114.4 324.4h1.3v1.3h-1.3zM116.3 320.3h1.3v1.3h-1.3zM109.6 329.8h1.3v1.3h-1.3zM118.1 322.1h1.3v1.3h-1.3zM112.6 340.7h1.3v1.3h-1.3zM120.9 330.1h1.3v1.3h-1.3zM96.6 325.4h1.3v1.3h-1.3zM119.0 330.5h1.3v1.3h-1.3zM118.6 333.6h1.3v1.3h-1.3zM116.1 333.2h1.3v1.3h-1.3zM103.2 340.4h1.3v1.3h-1.3zM113.4 326.6h1.3v1.3h-1.3zM125.7 332.1h1.3v1.3h-1.3zM122.1 326.7h1.3v1.3h-1.3zM117.4 332.5h1.3v1.3h-1.3zM107.6 328.4h1.3v1.3h-1.3zM113.8 328.1h1.3v1.3h-1.3zM110.6 323.9h1.3v1.3h-1.3zM118.4 330.5h1.3v1.3h-1.3zM123.3 329.1h1.3v1.3h-1.3zM110.8 323.0h1.3v1.3h-1.3zM116.0 328.0h1.3v1.3h-1.3zM129.2 339.5h1.3v1.3h-1.3zM126.2 325.4h1.3v1.3h-1.3zM105.9 328.4h1.3v1.3h-1.3zM109.3 335.7h1.3v1.3h-1.3zM116.2 327.6h1.3v1.3h-1.3zM115.3 334.9h1.3v1.3h-1.3zM109.0 331.5h1.3v1.3h-1.3zM106.4 328.5h1.3v1.3h-1.3zM110.9 330.8h1.3v1.3h-1.3zM116.5 334.7h1.3v1.3h-1.3zM120.1 326.7h1.3v1.3h-1.3zM106.3 325.8h1.3v1.3h-1.3zM112.5 328.4h1.3v1.3h-1.3zM110.2 334.1h1.3v1.3h-1.3zM121.8 328.2h1.3v1.3h-1.3zM112.0 328.3h1.3v1.3h-1.3zM115.1 329.3h1.3v1.3h-1.3zM95.6 305.7h1.3v1.3h-1.3zM93.1 307.5h1.3v1.3h-1.3zM118.0 303.2h1.3v1.3h-1.3zM113.0 305.0h1.3v1.3h-1.3zM104.6 315.1h1.3v1.3h-1.3zM120.1 309.3h1.3v1.3h-1.3zM107.2 309.0h1.3v1.3h-1.3zM109.5 309.2h1.3v1.3h-1.3zM102.6 307.1h1.3v1.3h-1.3zM107.5 301.8h1.3v1.3h-1.3zM128.0 310.6h1.3v1.3h-1.3zM103.7 301.6h1.3v1.3h-1.3zM104.3 304.1h1.3v1.3h-1.3zM105.4 301.4h1.3v1.3h-1.3zM103.3 307.6h1.3v1.3h-1.3zM115.4 299.6h1.3v1.3h-1.3zM111.4 303.5h1.3v1.3h-1.3zM101.2 306.1h1.3v1.3h-1.3zM104.7 310.1h1.3v1.3h-1.3zM118.3 306.2h1.3v1.3h-1.3zM105.1 314.4h1.3v1.3h-1.3zM129.7 308.9h1.3v1.3h-1.3zM109.9 311.3h1.3v1.3h-1.3zM125.6 305.3h1.3v1.3h-1.3zM129.1 306.7h1.3v1.3h-1.3zM122.1 305.3h1.3v1.3h-1.3zM112.0 305.6h1.3v1.3h-1.3zM111.6 311.4h1.3v1.3h-1.3zM102.5 306.2h1.3v1.3h-1.3zM116.7 305.5h1.3v1.3h-1.3zM131.4 301.6h1.3v1.3h-1.3zM136.4 304.8h1.3v1.3h-1.3zM121.0 313.7h1.3v1.3h-1.3zM116.6 301.8h1.3v1.3h-1.3zM108.1 307.6h1.3v1.3h-1.3zM117.0 311.2h1.3v1.3h-1.3zM122.5 313.2h1.3v1.3h-1.3zM102.0 311.3h1.3v1.3h-1.3zM94.1 307.9h1.3v1.3h-1.3zM100.8 300.3h1.3v1.3h-1.3zM120.5 307.2h1.3v1.3h-1.3zM121.2 301.1h1.3v1.3h-1.3zM99.3 307.0h1.3v1.3h-1.3zM104.8 307.6h1.3v1.3h-1.3zM105.2 306.0h1.3v1.3h-1.3zM100.0 312.4h1.3v1.3h-1.3zM108.2 302.7h1.3v1.3h-1.3zM118.1 309.3h1.3v1.3h-1.3zM113.5 308.2h1.3v1.3h-1.3zM107.5 306.8h1.3v1.3h-1.3zM89.4 301.2h1.3v1.3h-1.3zM99.2 308.5h1.3v1.3h-1.3zM123.5 306.7h1.3v1.3h-1.3zM108.7 311.8h1.3v1.3h-1.3zM107.8 310.0h1.3v1.3h-1.3zM115.6 302.1h1.3v1.3h-1.3zM114.5 308.2h1.3v1.3h-1.3zM100.0 303.2h1.3v1.3h-1.3zM98.7 312.8h1.3v1.3h-1.3zM132.3 310.2h1.3v1.3h-1.3zM127.0 302.0h1.3v1.3h-1.3zM125.4 315.2h1.3v1.3h-1.3zM127.4 303.6h1.3v1.3h-1.3zM122.2 306.9h1.3v1.3h-1.3zM122.1 304.8h1.3v1.3h-1.3zM111.5 305.1h1.3v1.3h-1.3zM116.1 307.0h1.3v1.3h-1.3zM122.4 310.6h1.3v1.3h-1.3zM115.5 307.2h1.3v1.3h-1.3zM108.4 307.4h1.3v1.3h-1.3zM118.8 307.9h1.3v1.3h-1.3zM114.3 307.2h1.3v1.3h-1.3zM110.6 304.7h1.3v1.3h-1.3zM92.7 309.6h1.3v1.3h-1.3zM117.0 303.5h1.3v1.3h-1.3zM130.4 302.7h1.3v1.3h-1.3zM121.3 308.4h1.3v1.3h-1.3zM114.5 311.9h1.3v1.3h-1.3zM120.6 307.5h1.3v1.3h-1.3zM100.8 302.5h1.3v1.3h-1.3zM113.3 313.7h1.3v1.3h-1.3zM120.1 307.2h1.3v1.3h-1.3zM114.7 310.1h1.3v1.3h-1.3zM128.5 304.3h1.3v1.3h-1.3zM118.6 308.5h1.3v1.3h-1.3zM103.8 303.3h1.3v1.3h-1.3zM124.0 308.7h1.3v1.3h-1.3zM109.3 307.8h1.3v1.3h-1.3zM121.2 307.7h1.3v1.3h-1.3zM127.4 306.3h1.3v1.3h-1.3zM103.6 306.9h1.3v1.3h-1.3zM102.0 306.0h1.3v1.3h-1.3zM123.6 314.2h1.3v1.3h-1.3zM117.7 308.2h1.3v1.3h-1.3zM102.3 303.4h1.3v1.3h-1.3zM115.1 308.0h1.3v1.3h-1.3zM105.6 305.6h1.3v1.3h-1.3zM127.0 311.3h1.3v1.3h-1.3zM111.9 308.3h1.3v1.3h-1.3zM124.1 308.8h1.3v1.3h-1.3zM113.8 301.1h1.3v1.3h-1.3zM94.6 299.7h1.3v1.3h-1.3zM88.9 307.3h1.3v1.3h-1.3zM114.7 303.9h1.3v1.3h-1.3zM115.8 309.1h1.3v1.3h-1.3zM110.6 301.5h1.3v1.3h-1.3zM125.8 312.9h1.3v1.3h-1.3zM105.6 315.1h1.3v1.3h-1.3zM111.9 304.2h1.3v1.3h-1.3zM107.3 300.0h1.3v1.3h-1.3zM125.5 275.0h1.3v1.3h-1.3zM133.6 279.6h1.3v1.3h-1.3zM119.7 280.2h1.3v1.3h-1.3zM117.9 279.2h1.3v1.3h-1.3zM130.0 279.0h1.3v1.3h-1.3zM121.2 278.6h1.3v1.3h-1.3zM126.4 279.0h1.3v1.3h-1.3zM135.5 282.9h1.3v1.3h-1.3zM136.1 277.3h1.3v1.3h-1.3zM123.3 278.9h1.3v1.3h-1.3zM129.8 273.9h1.3v1.3h-1.3zM124.0 283.2h1.3v1.3h-1.3zM120.5 277.1h1.3v1.3h-1.3zM123.5 280.0h1.3v1.3h-1.3zM127.0 278.1h1.3v1.3h-1.3zM119.0 280.3h1.3v1.3h-1.3zM127.4 277.3h1.3v1.3h-1.3zM127.5 280.7h1.3v1.3h-1.3zM119.2 275.1h1.3v1.3h-1.3zM121.7 276.8h1.3v1.3h-1.3zM110.6 277.4h1.3v1.3h-1.3zM133.5 278.1h1.3v1.3h-1.3zM133.0 271.9h1.3v1.3h-1.3zM126.7 282.2h1.3v1.3h-1.3zM136.0 277.7h1.3v1.3h-1.3zM122.8 279.8h1.3v1.3h-1.3zM120.7 278.0h1.3v1.3h-1.3zM118.2 279.0h1.3v1.3h-1.3zM127.4 282.8h1.3v1.3h-1.3zM129.3 277.3h1.3v1.3h-1.3zM126.8 275.8h1.3v1.3h-1.3zM127.5 278.3h1.3v1.3h-1.3zM129.7 281.1h1.3v1.3h-1.3zM116.3 279.6h1.3v1.3h-1.3zM131.4 276.0h1.3v1.3h-1.3zM137.8 277.1h1.3v1.3h-1.3zM132.7 279.5h1.3v1.3h-1.3zM132.9 276.4h1.3v1.3h-1.3zM122.9 274.1h1.3v1.3h-1.3zM130.3 277.1h1.3v1.3h-1.3zM131.5 280.3h1.3v1.3h-1.3zM120.0 280.5h1.3v1.3h-1.3zM128.8 279.3h1.3v1.3h-1.3zM129.9 278.8h1.3v1.3h-1.3zM127.4 281.4h1.3v1.3h-1.3zM121.9 276.0h1.3v1.3h-1.3zM123.2 281.3h1.3v1.3h-1.3zM125.6 283.5h1.3v1.3h-1.3zM110.4 277.1h1.3v1.3h-1.3zM124.9 279.5h1.3v1.3h-1.3zM134.7 278.4h1.3v1.3h-1.3zM121.7 280.9h1.3v1.3h-1.3zM135.9 272.7h1.3v1.3h-1.3zM130.5 279.6h1.3v1.3h-1.3zM122.8 277.7h1.3v1.3h-1.3zM128.9 278.9h1.3v1.3h-1.3zM126.0 276.0h1.3v1.3h-1.3zM128.9 277.3h1.3v1.3h-1.3zM127.8 277.4h1.3v1.3h-1.3zM128.4 280.6h1.3v1.3h-1.3zM128.6 280.4h1.3v1.3h-1.3zM119.7 280.0h1.3v1.3h-1.3zM128.9 277.3h1.3v1.3h-1.3zM126.4 272.1h1.3v1.3h-1.3zM127.8 277.9h1.3v1.3h-1.3zM114.8 280.1h1.3v1.3h-1.3zM123.8 279.5h1.3v1.3h-1.3zM126.0 280.0h1.3v1.3h-1.3zM127.8 278.1h1.3v1.3h-1.3zM130.0 280.8h1.3v1.3h-1.3zM114.8 278.9h1.3v1.3h-1.3zM124.0 276.2h1.3v1.3h-1.3zM134.5 281.1h1.3v1.3h-1.3zM121.6 276.2h1.3v1.3h-1.3zM131.8 277.3h1.3v1.3h-1.3zM125.5 274.1h1.3v1.3h-1.3zM126.6 281.6h1.3v1.3h-1.3zM124.8 278.6h1.3v1.3h-1.3zM136.9 280.9h1.3v1.3h-1.3zM135.2 280.3h1.3v1.3h-1.3zM133.9 274.8h1.3v1.3h-1.3zM122.8 274.9h1.3v1.3h-1.3zM126.6 277.0h1.3v1.3h-1.3zM121.7 272.1h1.3v1.3h-1.3zM127.7 275.5h1.3v1.3h-1.3zM127.0 279.7h1.3v1.3h-1.3zM126.9 280.3h1.3v1.3h-1.3zM122.7 279.6h1.3v1.3h-1.3zM132.2 280.2h1.3v1.3h-1.3zM129.4 278.6h1.3v1.3h-1.3zM121.9 280.2h1.3v1.3h-1.3zM125.2 276.6h1.3v1.3h-1.3zM131.5 275.0h1.3v1.3h-1.3zM124.2 280.7h1.3v1.3h-1.3zM132.5 277.9h1.3v1.3h-1.3zM127.7 280.1h1.3v1.3h-1.3zM126.9 277.0h1.3v1.3h-1.3zM129.7 279.2h1.3v1.3h-1.3zM127.9 281.5h1.3v1.3h-1.3zM129.0 277.7h1.3v1.3h-1.3zM128.2 283.5h1.3v1.3h-1.3zM123.4 278.2h1.3v1.3h-1.3zM122.9 279.7h1.3v1.3h-1.3zM120.4 279.9h1.3v1.3h-1.3zM131.5 277.0h1.3v1.3h-1.3zM122.6 275.3h1.3v1.3h-1.3zM127.5 276.1h1.3v1.3h-1.3zM123.9 277.8h1.3v1.3h-1.3zM123.5 280.8h1.3v1.3h-1.3zM136.1 273.7h1.3v1.3h-1.3zM122.8 279.4h1.3v1.3h-1.3zM121.5 277.5h1.3v1.3h-1.3zM128.5 282.2h1.3v1.3h-1.3zM133.8 278.1h1.3v1.3h-1.3zM128.0 278.0h1.3v1.3h-1.3zM126.4 276.0h1.3v1.3h-1.3zM117.6 278.0h1.3v1.3h-1.3zM132.7 280.7h1.3v1.3h-1.3zM117.1 278.4h1.3v1.3h-1.3zM123.9 279.5h1.3v1.3h-1.3zM121.3 281.0h1.3v1.3h-1.3zM126.2 280.2h1.3v1.3h-1.3zM132.1 274.2h1.3v1.3h-1.3zM126.1 282.5h1.3v1.3h-1.3zM127.4 281.3h1.3v1.3h-1.3zM129.6 277.6h1.3v1.3h-1.3zM128.9 281.4h1.3v1.3h-1.3zM134.4 282.3h1.3v1.3h-1.3zM121.2 280.8h1.3v1.3h-1.3zM119.8 278.5h1.3v1.3h-1.3zM126.2 280.3h1.3v1.3h-1.3zM129.1 281.8h1.3v1.3h-1.3zM124.0 280.9h1.3v1.3h-1.3zM129.5 278.8h1.3v1.3h-1.3zM120.7 280.2h1.3v1.3h-1.3zM129.1 280.7h1.3v1.3h-1.3zM127.1 278.2h1.3v1.3h-1.3zM129.5 279.9h1.3v1.3h-1.3zM131.1 283.4h1.3v1.3h-1.3zM123.9 283.6h1.3v1.3h-1.3zM111.1 281.1h1.3v1.3h-1.3zM122.8 283.6h1.3v1.3h-1.3zM122.5 281.4h1.3v1.3h-1.3zM121.9 276.1h1.3v1.3h-1.3zM131.7 280.9h1.3v1.3h-1.3zM123.5 284.6h1.3v1.3h-1.3zM125.6 282.6h1.3v1.3h-1.3zM121.8 276.5h1.3v1.3h-1.3zM127.8 276.4h1.3v1.3h-1.3zM129.8 273.7h1.3v1.3h-1.3zM128.3 277.5h1.3v1.3h-1.3zM122.1 279.3h1.3v1.3h-1.3zM126.1 277.8h1.3v1.3h-1.3zM131.8 279.6h1.3v1.3h-1.3zM129.4 282.0h1.3v1.3h-1.3zM126.9 280.8h1.3v1.3h-1.3zM125.0 280.3h1.3v1.3h-1.3zM130.2 277.5h1.3v1.3h-1.3zM119.0 275.8h1.3v1.3h-1.3zM122.2 280.2h1.3v1.3h-1.3zM126.6 278.1h1.3v1.3h-1.3zM129.9 280.6h1.3v1.3h-1.3zM135.0 277.4h1.3v1.3h-1.3zM130.3 280.5h1.3v1.3h-1.3zM122.1 279.1h1.3v1.3h-1.3zM122.3 278.3h1.3v1.3h-1.3zM129.6 274.8h1.3v1.3h-1.3zM122.6 276.9h1.3v1.3h-1.3zM127.8 277.1h1.3v1.3h-1.3zM129.4 276.8h1.3v1.3h-1.3zM124.5 280.3h1.3v1.3h-1.3zM129.1 279.2h1.3v1.3h-1.3zM127.1 281.2h1.3v1.3h-1.3zM134.9 278.0h1.3v1.3h-1.3zM123.4 276.4h1.3v1.3h-1.3zM136.8 276.7h1.3v1.3h-1.3zM120.1 279.5h1.3v1.3h-1.3zM133.1 275.9h1.3v1.3h-1.3zM126.7 275.4h1.3v1.3h-1.3zM123.5 282.7h1.3v1.3h-1.3zM128.3 278.2h1.3v1.3h-1.3zM127.7 279.5h1.3v1.3h-1.3zM126.8 276.0h1.3v1.3h-1.3zM120.9 283.6h1.3v1.3h-1.3zM123.2 281.7h1.3v1.3h-1.3zM123.4 281.9h1.3v1.3h-1.3zM131.1 278.3h1.3v1.3h-1.3zM138.3 276.6h1.3v1.3h-1.3zM126.1 276.8h1.3v1.3h-1.3zM123.1 278.0h1.3v1.3h-1.3zM122.1 278.1h1.3v1.3h-1.3zM136.0 274.7h1.3v1.3h-1.3zM120.5 276.6h1.3v1.3h-1.3zM124.8 281.3h1.3v1.3h-1.3zM131.3 280.0h1.3v1.3h-1.3zM128.5 284.6h1.3v1.3h-1.3zM121.2 276.1h1.3v1.3h-1.3zM127.2 279.3h1.3v1.3h-1.3zM126.0 276.8h1.3v1.3h-1.3zM120.2 278.2h1.3v1.3h-1.3zM123.5 277.7h1.3v1.3h-1.3zM121.4 282.0h1.3v1.3h-1.3zM129.8 283.3h1.3v1.3h-1.3zM124.5 279.0h1.3v1.3h-1.3zM126.0 278.9h1.3v1.3h-1.3zM125.9 278.5h1.3v1.3h-1.3zM116.6 278.2h1.3v1.3h-1.3zM131.1 274.2h1.3v1.3h-1.3zM125.4 280.2h1.3v1.3h-1.3zM134.3 278.6h1.3v1.3h-1.3zM129.8 283.0h1.3v1.3h-1.3zM134.4 277.8h1.3v1.3h-1.3zM124.0 281.3h1.3v1.3h-1.3zM128.6 277.6h1.3v1.3h-1.3zM126.1 279.6h1.3v1.3h-1.3zM126.3 278.2h1.3v1.3h-1.3zM126.1 275.3h1.3v1.3h-1.3zM136.8 281.8h1.3v1.3h-1.3zM135.6 278.5h1.3v1.3h-1.3zM128.0 280.2h1.3v1.3h-1.3zM131.8 274.5h1.3v1.3h-1.3zM129.3 276.5h1.3v1.3h-1.3zM127.0 277.3h1.3v1.3h-1.3zM136.7 280.1h1.3v1.3h-1.3zM127.2 282.2h1.3v1.3h-1.3zM127.0 277.1h1.3v1.3h-1.3zM126.3 278.0h1.3v1.3h-1.3zM127.6 280.9h1.3v1.3h-1.3zM126.7 278.7h1.3v1.3h-1.3zM132.9 279.5h1.3v1.3h-1.3zM132.5 279.2h1.3v1.3h-1.3zM120.2 276.2h1.3v1.3h-1.3zM118.3 281.6h1.3v1.3h-1.3zM129.6 277.7h1.3v1.3h-1.3zM121.9 279.7h1.3v1.3h-1.3zM126.6 279.6h1.3v1.3h-1.3zM122.7 276.2h1.3v1.3h-1.3zM135.9 276.6h1.3v1.3h-1.3zM127.2 282.0h1.3v1.3h-1.3zM117.3 280.5h1.3v1.3h-1.3zM127.7 278.5h1.3v1.3h-1.3zM128.8 276.0h1.3v1.3h-1.3zM115.2 283.3h1.3v1.3h-1.3zM125.8 281.0h1.3v1.3h-1.3zM133.4 279.5h1.3v1.3h-1.3zM129.8 280.5h1.3v1.3h-1.3zM135.9 280.0h1.3v1.3h-1.3zM134.2 278.2h1.3v1.3h-1.3zM125.0 279.1h1.3v1.3h-1.3zM129.5 280.1h1.3v1.3h-1.3zM138.0 280.8h1.3v1.3h-1.3zM127.7 283.6h1.3v1.3h-1.3zM129.1 279.7h1.3v1.3h-1.3zM130.0 278.1h1.3v1.3h-1.3zM121.4 279.2h1.3v1.3h-1.3zM125.7 276.8h1.3v1.3h-1.3zM128.0 278.4h1.3v1.3h-1.3z" fill="#c8c8c8"/>
<rect x="59.4" y="274.0" width="1.9" height="100.8" fill="#083d64"/>
<path d="M60.0 277.1h1.3v1.3h-1.3zM61.1 275.9h1.3v1.3h-1.3zM59.9 277.5h1.3v1.3h-1.3zM60.1 274.2h1.3v1.3h-1.3zM61.0 277.4h1.3v1.3h-1.3z" fill="#083d64"/>
<path d="M170.6 301.4h1.3v1.3h-1.3zM150.4 303.9h1.3v1.3h-1.3zM176.4 303.4h1.3v1.3h-1.3zM152.4 303.1h1.3v1.3h-1.3zM164.3 304.2h1.3v1.3h-1.3zM177.3 301.4h1.3v1.3h-1.3zM177.9 302.2h1.3v1.3h-1.3zM157.1 305.7h1.3v1.3h-1.3zM161.1 301.3h1.3v1.3h-1.3zM204.2 303.4h1.3v1.3h-1.3zM167.3 302.5h1.3v1.3h-1.3zM196.4 302.2h1.3v1.3h-1.3zM185.8 302.9h1.3v1.3h-1.3zM178.9 302.5h1.3v1.3h-1.3zM151.5 303.1h1.3v1.3h-1.3zM157.8 304.6h1.3v1.3h-1.3zM178.2 301.8h1.3v1.3h-1.3zM160.1 301.3h1.3v1.3h-1.3zM194.5 303.2h1.3v1.3h-1.3zM156.4 302.3h1.3v1.3h-1.3zM167.6 302.7h1.3v1.3h-1.3zM196.2 300.4h1.3v1.3h-1.3zM159.7 302.2h1.3v1.3h-1.3zM204.0 294.5h1.3v1.3h-1.3zM168.5 302.8h1.3v1.3h-1.3zM174.2 302.2h1.3v1.3h-1.3zM191.1 298.6h1.3v1.3h-1.3zM147.7 301.7h1.3v1.3h-1.3zM181.8 303.4h1.3v1.3h-1.3zM180.5 305.9h1.3v1.3h-1.3zM152.3 302.0h1.3v1.3h-1.3zM165.3 305.2h1.3v1.3h-1.3zM183.1 302.1h1.3v1.3h-1.3zM146.1 304.1h1.3v1.3h-1.3zM174.9 302.5h1.3v1.3h-1.3zM152.6 304.2h1.3v1.3h-1.3zM194.7 301.4h1.3v1.3h-1.3zM145.9 302.0h1.3v1.3h-1.3zM184.7 299.8h1.3v1.3h-1.3zM164.3 304.6h1.3v1.3h-1.3zM200.5 296.1h1.3v1.3h-1.3zM166.6 301.9h1.3v1.3h-1.3zM172.5 306.0h1.3v1.3h-1.3zM173.2 303.4h1.3v1.3h-1.3zM166.6 303.1h1.3v1.3h-1.3zM186.8 302.5h1.3v1.3h-1.3zM143.5 303.7h1.3v1.3h-1.3zM194.1 300.4h1.3v1.3h-1.3zM184.3 303.3h1.3v1.3h-1.3zM148.1 302.6h1.3v1.3h-1.3zM188.0 301.5h1.3v1.3h-1.3zM174.9 303.8h1.3v1.3h-1.3zM175.5 304.0h1.3v1.3h-1.3zM199.2 301.4h1.3v1.3h-1.3zM178.4 304.6h1.3v1.3h-1.3zM175.1 306.1h1.3v1.3h-1.3zM163.8 305.9h1.3v1.3h-1.3zM153.5 303.1h1.3v1.3h-1.3zM177.0 301.1h1.3v1.3h-1.3zM144.5 306.2h1.3v1.3h-1.3zM160.6 303.2h1.3v1.3h-1.3zM179.1 304.3h1.3v1.3h-1.3zM155.1 302.4h1.3v1.3h-1.3zM187.0 304.0h1.3v1.3h-1.3zM173.4 301.1h1.3v1.3h-1.3zM178.5 303.3h1.3v1.3h-1.3zM152.6 300.7h1.3v1.3h-1.3zM143.3 309.0h1.3v1.3h-1.3zM173.7 302.6h1.3v1.3h-1.3zM158.9 299.5h1.3v1.3h-1.3zM177.6 305.1h1.3v1.3h-1.3zM165.9 304.6h1.3v1.3h-1.3zM158.9 305.3h1.3v1.3h-1.3zM156.8 301.1h1.3v1.3h-1.3zM185.4 303.2h1.3v1.3h-1.3zM176.0 305.2h1.3v1.3h-1.3zM189.8 301.5h1.3v1.3h-1.3zM176.0 303.7h1.3v1.3h-1.3zM190.2 301.4h1.3v1.3h-1.3zM163.1 302.5h1.3v1.3h-1.3zM151.9 305.3h1.3v1.3h-1.3zM173.9 301.7h1.3v1.3h-1.3zM191.0 301.8h1.3v1.3h-1.3zM155.8 304.0h1.3v1.3h-1.3zM199.1 300.7h1.3v1.3h-1.3zM171.7 304.4h1.3v1.3h-1.3zM193.2 296.8h1.3v1.3h-1.3zM183.7 304.8h1.3v1.3h-1.3zM159.4 301.0h1.3v1.3h-1.3zM152.9 302.7h1.3v1.3h-1.3zM178.5 302.4h1.3v1.3h-1.3zM179.8 303.8h1.3v1.3h-1.3zM180.3 302.7h1.3v1.3h-1.3zM167.1 302.3h1.3v1.3h-1.3zM152.8 304.2h1.3v1.3h-1.3zM185.4 306.4h1.3v1.3h-1.3zM175.8 302.0h1.3v1.3h-1.3zM176.0 301.9h1.3v1.3h-1.3zM146.3 301.6h1.3v1.3h-1.3zM155.4 301.0h1.3v1.3h-1.3zM151.6 301.0h1.3v1.3h-1.3zM181.5 302.2h1.3v1.3h-1.3zM198.0 302.6h1.3v1.3h-1.3zM182.4 302.2h1.3v1.3h-1.3zM162.5 301.6h1.3v1.3h-1.3zM196.4 300.7h1.3v1.3h-1.3zM177.1 301.7h1.3v1.3h-1.3zM179.2 307.5h1.3v1.3h-1.3zM151.7 305.6h1.3v1.3h-1.3zM169.2 303.1h1.3v1.3h-1.3zM158.7 300.2h1.3v1.3h-1.3zM161.7 302.1h1.3v1.3h-1.3zM191.5 299.6h1.3v1.3h-1.3zM178.0 301.5h1.3v1.3h-1.3zM162.1 299.4h1.3v1.3h-1.3zM187.8 301.2h1.3v1.3h-1.3zM172.0 302.0h1.3v1.3h-1.3zM177.3 301.9h1.3v1.3h-1.3zM183.4 300.6h1.3v1.3h-1.3zM177.8 303.6h1.3v1.3h-1.3zM160.1 301.6h1.3v1.3h-1.3zM183.5 298.9h1.3v1.3h-1.3zM159.7 301.3h1.3v1.3h-1.3zM189.6 303.6h1.3v1.3h-1.3zM161.4 305.0h1.3v1.3h-1.3zM166.5 301.1h1.3v1.3h-1.3zM200.1 299.9h1.3v1.3h-1.3zM148.6 304.2h1.3v1.3h-1.3zM158.6 304.5h1.3v1.3h-1.3zM186.4 301.5h1.3v1.3h-1.3zM169.1 303.5h1.3v1.3h-1.3zM149.4 302.1h1.3v1.3h-1.3zM193.3 297.1h1.3v1.3h-1.3zM151.5 304.5h1.3v1.3h-1.3zM159.8 302.9h1.3v1.3h-1.3zM154.1 303.7h1.3v1.3h-1.3zM169.6 302.6h1.3v1.3h-1.3zM200.3 297.9h1.3v1.3h-1.3zM172.9 302.1h1.3v1.3h-1.3zM151.5 303.5h1.3v1.3h-1.3zM176.2 300.8h1.3v1.3h-1.3zM155.7 305.5h1.3v1.3h-1.3zM155.6 306.8h1.3v1.3h-1.3zM161.4 299.2h1.3v1.3h-1.3zM166.5 304.5h1.3v1.3h-1.3zM188.0 301.2h1.3v1.3h-1.3zM158.4 304.0h1.3v1.3h-1.3zM164.8 303.3h1.3v1.3h-1.3zM197.9 300.2h1.3v1.3h-1.3zM166.0 304.5h1.3v1.3h-1.3zM187.7 302.4h1.3v1.3h-1.3zM199.3 304.4h1.3v1.3h-1.3zM179.9 303.5h1.3v1.3h-1.3zM156.5 300.6h1.3v1.3h-1.3zM162.2 302.7h1.3v1.3h-1.3zM183.8 302.8h1.3v1.3h-1.3zM182.1 302.0h1.3v1.3h-1.3zM194.7 298.2h1.3v1.3h-1.3zM165.6 306.2h1.3v1.3h-1.3zM182.1 302.9h1.3v1.3h-1.3zM174.1 302.9h1.3v1.3h-1.3zM143.0 298.2h1.3v1.3h-1.3zM169.3 303.9h1.3v1.3h-1.3zM155.5 302.8h1.3v1.3h-1.3zM192.2 304.0h1.3v1.3h-1.3zM164.5 305.8h1.3v1.3h-1.3zM182.2 301.9h1.3v1.3h-1.3zM149.7 301.6h1.3v1.3h-1.3zM190.8 304.2h1.3v1.3h-1.3zM201.0 303.2h1.3v1.3h-1.3zM194.1 302.0h1.3v1.3h-1.3zM157.1 304.2h1.3v1.3h-1.3zM148.3 302.3h1.3v1.3h-1.3zM193.0 301.4h1.3v1.3h-1.3zM154.8 303.0h1.3v1.3h-1.3zM172.2 299.4h1.3v1.3h-1.3zM171.4 304.2h1.3v1.3h-1.3zM151.7 304.3h1.3v1.3h-1.3zM194.9 298.9h1.3v1.3h-1.3zM168.5 302.1h1.3v1.3h-1.3zM182.6 303.5h1.3v1.3h-1.3zM205.0 301.7h1.3v1.3h-1.3zM185.0 302.6h1.3v1.3h-1.3zM160.2 302.2h1.3v1.3h-1.3zM187.3 303.1h1.3v1.3h-1.3zM163.0 303.2h1.3v1.3h-1.3zM164.3 301.3h1.3v1.3h-1.3zM146.6 302.2h1.3v1.3h-1.3zM153.4 302.4h1.3v1.3h-1.3zM175.0 304.1h1.3v1.3h-1.3zM167.2 300.8h1.3v1.3h-1.3zM181.0 301.7h1.3v1.3h-1.3zM162.0 302.3h1.3v1.3h-1.3zM162.7 303.0h1.3v1.3h-1.3zM181.0 306.9h1.3v1.3h-1.3zM177.3 302.7h1.3v1.3h-1.3zM160.6 304.7h1.3v1.3h-1.3zM189.6 303.5h1.3v1.3h-1.3zM178.4 305.1h1.3v1.3h-1.3zM145.9 307.4h1.3v1.3h-1.3zM149.6 304.1h1.3v1.3h-1.3zM185.6 300.7h1.3v1.3h-1.3zM165.4 302.4h1.3v1.3h-1.3zM170.4 305.5h1.3v1.3h-1.3zM192.2 306.3h1.3v1.3h-1.3zM190.5 304.5h1.3v1.3h-1.3zM165.9 307.0h1.3v1.3h-1.3zM164.0 304.1h1.3v1.3h-1.3zM184.2 301.3h1.3v1.3h-1.3zM147.6 303.2h1.3v1.3h-1.3zM185.3 303.1h1.3v1.3h-1.3zM186.1 304.2h1.3v1.3h-1.3zM191.2 303.6h1.3v1.3h-1.3zM157.3 301.5h1.3v1.3h-1.3zM163.6 305.0h1.3v1.3h-1.3zM157.1 302.1h1.3v1.3h-1.3zM170.0 303.5h1.3v1.3h-1.3zM182.8 304.0h1.3v1.3h-1.3zM170.9 304.2h1.3v1.3h-1.3zM179.4 303.9h1.3v1.3h-1.3zM193.0 300.2h1.3v1.3h-1.3zM193.1 301.1h1.3v1.3h-1.3zM155.4 304.5h1.3v1.3h-1.3zM163.5 302.2h1.3v1.3h-1.3zM167.6 301.0h1.3v1.3h-1.3zM170.2 298.8h1.3v1.3h-1.3zM162.4 303.0h1.3v1.3h-1.3zM165.8 301.5h1.3v1.3h-1.3zM154.6 303.0h1.3v1.3h-1.3zM167.0 301.2h1.3v1.3h-1.3zM142.6 301.7h1.3v1.3h-1.3zM170.3 302.4h1.3v1.3h-1.3zM165.2 304.6h1.3v1.3h-1.3zM153.1 301.5h1.3v1.3h-1.3zM186.9 300.0h1.3v1.3h-1.3zM168.3 303.2h1.3v1.3h-1.3zM192.1 303.4h1.3v1.3h-1.3zM181.2 301.5h1.3v1.3h-1.3zM163.3 303.8h1.3v1.3h-1.3zM143.8 303.0h1.3v1.3h-1.3zM153.3 303.8h1.3v1.3h-1.3zM190.5 297.8h1.3v1.3h-1.3zM154.0 303.1h1.3v1.3h-1.3zM179.9 302.5h1.3v1.3h-1.3zM148.7 303.4h1.3v1.3h-1.3zM196.9 299.1h1.3v1.3h-1.3zM166.4 302.8h1.3v1.3h-1.3zM160.3 299.3h1.3v1.3h-1.3zM187.1 302.2h1.3v1.3h-1.3zM180.5 305.2h1.3v1.3h-1.3zM193.8 301.7h1.3v1.3h-1.3zM141.9 303.2h1.3v1.3h-1.3zM154.2 303.5h1.3v1.3h-1.3zM188.6 304.9h1.3v1.3h-1.3zM160.9 301.8h1.3v1.3h-1.3zM160.6 300.5h1.3v1.3h-1.3zM168.9 301.1h1.3v1.3h-1.3zM158.7 301.8h1.3v1.3h-1.3zM182.7 303.1h1.3v1.3h-1.3zM150.7 304.4h1.3v1.3h-1.3zM147.7 301.3h1.3v1.3h-1.3zM173.0 301.3h1.3v1.3h-1.3zM168.4 304.4h1.3v1.3h-1.3zM188.2 304.2h1.3v1.3h-1.3zM169.4 301.7h1.3v1.3h-1.3zM174.3 304.2h1.3v1.3h-1.3zM178.3 302.6h1.3v1.3h-1.3zM150.8 302.1h1.3v1.3h-1.3zM165.7 302.7h1.3v1.3h-1.3zM195.5 298.9h1.3v1.3h-1.3zM205.6 294.6h1.3v1.3h-1.3zM173.0 300.6h1.3v1.3h-1.3zM161.6 301.7h1.3v1.3h-1.3zM196.8 301.5h1.3v1.3h-1.3zM176.9 303.6h1.3v1.3h-1.3zM151.8 304.4h1.3v1.3h-1.3zM183.0 301.5h1.3v1.3h-1.3zM175.7 302.9h1.3v1.3h-1.3zM175.0 300.5h1.3v1.3h-1.3zM170.9 301.3h1.3v1.3h-1.3zM175.4 304.7h1.3v1.3h-1.3zM195.8 300.6h1.3v1.3h-1.3zM142.1 308.8h1.3v1.3h-1.3zM152.1 304.1h1.3v1.3h-1.3zM155.6 302.1h1.3v1.3h-1.3zM178.2 301.8h1.3v1.3h-1.3zM185.8 298.5h1.3v1.3h-1.3zM151.9 305.1h1.3v1.3h-1.3zM172.6 304.6h1.3v1.3h-1.3zM190.2 309.5h1.3v1.3h-1.3zM164.6 306.4h1.3v1.3h-1.3zM164.6 303.5h1.3v1.3h-1.3zM176.1 301.2h1.3v1.3h-1.3zM184.2 299.5h1.3v1.3h-1.3zM163.2 302.3h1.3v1.3h-1.3zM181.6 302.9h1.3v1.3h-1.3zM158.0 300.5h1.3v1.3h-1.3zM187.0 303.6h1.3v1.3h-1.3zM167.6 304.6h1.3v1.3h-1.3zM188.8 299.9h1.3v1.3h-1.3zM146.3 302.3h1.3v1.3h-1.3zM182.9 300.4h1.3v1.3h-1.3zM166.1 304.6h1.3v1.3h-1.3zM162.4 301.4h1.3v1.3h-1.3zM155.0 301.0h1.3v1.3h-1.3zM186.9 298.4h1.3v1.3h-1.3zM196.8 298.1h1.3v1.3h-1.3zM170.3 300.0h1.3v1.3h-1.3zM173.7 304.7h1.3v1.3h-1.3zM163.0 304.0h1.3v1.3h-1.3zM194.1 298.2h1.3v1.3h-1.3zM170.7 301.4h1.3v1.3h-1.3zM170.6 302.8h1.3v1.3h-1.3zM153.7 303.1h1.3v1.3h-1.3zM159.9 301.1h1.3v1.3h-1.3zM166.9 305.2h1.3v1.3h-1.3zM168.3 304.0h1.3v1.3h-1.3zM152.2 306.3h1.3v1.3h-1.3zM164.7 298.2h1.3v1.3h-1.3zM145.3 298.7h1.3v1.3h-1.3zM159.7 304.1h1.3v1.3h-1.3zM184.0 303.1h1.3v1.3h-1.3zM155.5 302.4h1.3v1.3h-1.3zM186.8 300.0h1.3v1.3h-1.3zM156.3 303.8h1.3v1.3h-1.3zM157.5 302.0h1.3v1.3h-1.3zM163.9 305.2h1.3v1.3h-1.3zM154.8 304.8h1.3v1.3h-1.3zM170.9 304.5h1.3v1.3h-1.3zM166.9 299.8h1.3v1.3h-1.3zM171.2 303.5h1.3v1.3h-1.3zM179.8 305.9h1.3v1.3h-1.3zM164.6 306.1h1.3v1.3h-1.3zM146.2 306.1h1.3v1.3h-1.3zM180.0 304.9h1.3v1.3h-1.3zM185.3 301.0h1.3v1.3h-1.3zM151.2 305.5h1.3v1.3h-1.3zM196.3 305.6h1.3v1.3h-1.3zM169.7 303.7h1.3v1.3h-1.3zM163.2 303.8h1.3v1.3h-1.3zM187.8 301.8h1.3v1.3h-1.3zM167.9 303.3h1.3v1.3h-1.3zM151.9 302.4h1.3v1.3h-1.3zM169.3 303.8h1.3v1.3h-1.3zM161.5 302.6h1.3v1.3h-1.3zM179.3 300.3h1.3v1.3h-1.3zM169.7 301.9h1.3v1.3h-1.3zM172.6 303.6h1.3v1.3h-1.3zM155.0 303.3h1.3v1.3h-1.3zM175.2 305.4h1.3v1.3h-1.3zM183.0 304.5h1.3v1.3h-1.3zM141.5 307.2h1.3v1.3h-1.3zM178.3 302.9h1.3v1.3h-1.3zM197.4 303.5h1.3v1.3h-1.3zM144.2 300.9h1.3v1.3h-1.3zM179.9 301.8h1.3v1.3h-1.3zM162.2 304.5h1.3v1.3h-1.3zM150.7 303.4h1.3v1.3h-1.3zM161.6 301.6h1.3v1.3h-1.3zM200.0 302.9h1.3v1.3h-1.3zM157.6 305.4h1.3v1.3h-1.3zM198.8 302.5h1.3v1.3h-1.3zM182.7 305.2h1.3v1.3h-1.3zM175.7 304.5h1.3v1.3h-1.3zM174.9 304.5h1.3v1.3h-1.3zM148.1 301.1h1.3v1.3h-1.3zM163.7 299.8h1.3v1.3h-1.3zM160.7 302.4h1.3v1.3h-1.3zM181.9 297.4h1.3v1.3h-1.3zM158.7 302.0h1.3v1.3h-1.3zM177.6 301.0h1.3v1.3h-1.3zM161.4 303.1h1.3v1.3h-1.3zM171.6 301.7h1.3v1.3h-1.3zM183.0 302.8h1.3v1.3h-1.3zM194.4 298.9h1.3v1.3h-1.3zM144.0 302.2h1.3v1.3h-1.3zM170.7 305.5h1.3v1.3h-1.3zM162.5 301.2h1.3v1.3h-1.3zM182.3 299.9h1.3v1.3h-1.3zM188.1 305.0h1.3v1.3h-1.3zM187.7 303.7h1.3v1.3h-1.3zM151.5 302.9h1.3v1.3h-1.3zM151.0 302.2h1.3v1.3h-1.3zM161.6 303.4h1.3v1.3h-1.3zM186.6 301.6h1.3v1.3h-1.3zM180.2 304.6h1.3v1.3h-1.3zM156.5 302.4h1.3v1.3h-1.3zM184.8 301.4h1.3v1.3h-1.3zM146.7 304.3h1.3v1.3h-1.3zM186.0 300.8h1.3v1.3h-1.3zM181.9 303.9h1.3v1.3h-1.3zM172.1 300.9h1.3v1.3h-1.3zM193.0 300.0h1.3v1.3h-1.3zM169.8 303.2h1.3v1.3h-1.3zM182.9 301.6h1.3v1.3h-1.3zM167.0 304.6h1.3v1.3h-1.3zM171.3 302.8h1.3v1.3h-1.3zM183.0 303.2h1.3v1.3h-1.3zM152.7 299.6h1.3v1.3h-1.3zM182.1 303.9h1.3v1.3h-1.3zM161.2 303.1h1.3v1.3h-1.3zM157.3 299.5h1.3v1.3h-1.3zM198.1 301.2h1.3v1.3h-1.3zM194.7 301.9h1.3v1.3h-1.3zM164.0 301.7h1.3v1.3h-1.3zM193.9 298.5h1.3v1.3h-1.3zM160.2 300.5h1.3v1.3h-1.3zM175.0 303.0h1.3v1.3h-1.3zM150.6 303.0h1.3v1.3h-1.3zM159.4 302.6h1.3v1.3h-1.3zM183.3 306.3h1.3v1.3h-1.3zM185.5 302.4h1.3v1.3h-1.3zM152.4 303.2h1.3v1.3h-1.3zM182.9 300.1h1.3v1.3h-1.3zM204.9 300.4h1.3v1.3h-1.3zM180.7 304.5h1.3v1.3h-1.3zM159.5 301.4h1.3v1.3h-1.3zM185.7 306.4h1.3v1.3h-1.3zM179.4 302.0h1.3v1.3h-1.3zM184.2 302.9h1.3v1.3h-1.3zM151.3 302.3h1.3v1.3h-1.3zM157.3 302.2h1.3v1.3h-1.3zM149.9 297.3h1.3v1.3h-1.3zM190.3 303.6h1.3v1.3h-1.3zM181.9 299.2h1.3v1.3h-1.3zM151.6 305.0h1.3v1.3h-1.3zM161.1 301.0h1.3v1.3h-1.3zM149.9 301.9h1.3v1.3h-1.3zM164.8 307.2h1.3v1.3h-1.3zM142.6 299.9h1.3v1.3h-1.3zM145.1 302.3h1.3v1.3h-1.3zM170.1 300.8h1.3v1.3h-1.3zM151.9 302.6h1.3v1.3h-1.3zM202.7 301.0h1.3v1.3h-1.3zM193.5 304.9h1.3v1.3h-1.3zM183.8 298.0h1.3v1.3h-1.3zM175.8 302.8h1.3v1.3h-1.3zM168.3 303.9h1.3v1.3h-1.3zM163.0 304.4h1.3v1.3h-1.3zM142.4 300.4h1.3v1.3h-1.3zM162.1 303.1h1.3v1.3h-1.3zM192.7 305.7h1.3v1.3h-1.3zM174.3 303.5h1.3v1.3h-1.3zM177.6 306.5h1.3v1.3h-1.3zM156.9 300.9h1.3v1.3h-1.3zM179.6 301.7h1.3v1.3h-1.3zM180.1 303.0h1.3v1.3h-1.3zM180.6 301.2h1.3v1.3h-1.3zM160.2 304.0h1.3v1.3h-1.3zM171.1 301.0h1.3v1.3h-1.3zM174.2 303.5h1.3v1.3h-1.3zM192.9 297.8h1.3v1.3h-1.3zM144.8 300.5h1.3v1.3h-1.3zM193.2 301.9h1.3v1.3h-1.3zM172.9 303.9h1.3v1.3h-1.3zM183.3 301.1h1.3v1.3h-1.3zM176.5 300.3h1.3v1.3h-1.3zM167.8 303.9h1.3v1.3h-1.3zM167.1 301.2h1.3v1.3h-1.3zM177.1 303.6h1.3v1.3h-1.3zM168.8 305.1h1.3v1.3h-1.3zM168.9 304.0h1.3v1.3h-1.3zM174.3 300.3h1.3v1.3h-1.3zM151.8 305.0h1.3v1.3h-1.3zM180.3 304.8h1.3v1.3h-1.3zM181.0 301.9h1.3v1.3h-1.3zM199.2 299.2h1.3v1.3h-1.3zM164.0 305.4h1.3v1.3h-1.3zM181.4 303.5h1.3v1.3h-1.3zM157.8 303.7h1.3v1.3h-1.3zM166.6 304.8h1.3v1.3h-1.3zM146.3 304.3h1.3v1.3h-1.3zM159.5 307.8h1.3v1.3h-1.3zM166.6 305.3h1.3v1.3h-1.3zM160.7 303.2h1.3v1.3h-1.3zM168.2 303.2h1.3v1.3h-1.3zM160.1 302.4h1.3v1.3h-1.3zM157.9 305.0h1.3v1.3h-1.3zM163.6 300.9h1.3v1.3h-1.3zM181.8 304.5h1.3v1.3h-1.3zM205.0 297.8h1.3v1.3h-1.3zM150.3 299.5h1.3v1.3h-1.3zM146.6 305.4h1.3v1.3h-1.3zM156.1 303.7h1.3v1.3h-1.3zM173.8 303.4h1.3v1.3h-1.3zM145.6 302.1h1.3v1.3h-1.3zM183.4 302.8h1.3v1.3h-1.3zM183.5 301.7h1.3v1.3h-1.3zM147.5 306.1h1.3v1.3h-1.3zM181.7 305.3h1.3v1.3h-1.3zM169.1 302.9h1.3v1.3h-1.3zM197.8 300.7h1.3v1.3h-1.3zM178.8 303.5h1.3v1.3h-1.3zM175.5 304.5h1.3v1.3h-1.3zM159.3 303.4h1.3v1.3h-1.3zM170.8 302.2h1.3v1.3h-1.3zM191.6 301.1h1.3v1.3h-1.3zM144.0 303.8h1.3v1.3h-1.3zM159.5 302.7h1.3v1.3h-1.3zM142.7 301.8h1.3v1.3h-1.3zM201.2 303.7h1.3v1.3h-1.3zM150.5 303.8h1.3v1.3h-1.3zM161.9 304.6h1.3v1.3h-1.3zM197.4 298.4h1.3v1.3h-1.3zM167.2 304.4h1.3v1.3h-1.3zM168.4 303.0h1.3v1.3h-1.3zM188.8 301.5h1.3v1.3h-1.3zM151.7 301.8h1.3v1.3h-1.3zM158.6 301.9h1.3v1.3h-1.3zM163.1 302.2h1.3v1.3h-1.3zM186.1 302.7h1.3v1.3h-1.3zM147.4 302.8h1.3v1.3h-1.3zM155.4 306.4h1.3v1.3h-1.3zM170.4 303.8h1.3v1.3h-1.3zM146.8 303.6h1.3v1.3h-1.3zM174.3 302.8h1.3v1.3h-1.3zM152.2 301.6h1.3v1.3h-1.3zM152.9 301.6h1.3v1.3h-1.3zM176.3 303.6h1.3v1.3h-1.3zM152.0 300.4h1.3v1.3h-1.3zM181.4 305.8h1.3v1.3h-1.3zM148.5 306.4h1.3v1.3h-1.3zM159.3 300.5h1.3v1.3h-1.3zM179.1 305.1h1.3v1.3h-1.3zM148.2 305.5h1.3v1.3h-1.3zM206.1 302.8h1.3v1.3h-1.3zM147.2 304.6h1.3v1.3h-1.3zM176.4 305.8h1.3v1.3h-1.3zM173.1 301.6h1.3v1.3h-1.3zM149.7 302.1h1.3v1.3h-1.3zM167.0 304.1h1.3v1.3h-1.3zM164.1 303.1h1.3v1.3h-1.3zM186.6 299.6h1.3v1.3h-1.3zM162.4 304.4h1.3v1.3h-1.3zM143.0 306.2h1.3v1.3h-1.3zM204.1 299.2h1.3v1.3h-1.3zM172.8 303.7h1.3v1.3h-1.3zM168.0 304.6h1.3v1.3h-1.3zM190.7 297.1h1.3v1.3h-1.3zM183.0 301.9h1.3v1.3h-1.3zM176.4 301.5h1.3v1.3h-1.3zM150.5 302.7h1.3v1.3h-1.3zM193.3 298.5h1.3v1.3h-1.3zM157.3 300.8h1.3v1.3h-1.3zM180.8 303.4h1.3v1.3h-1.3zM153.6 306.1h1.3v1.3h-1.3zM156.4 300.9h1.3v1.3h-1.3zM182.0 305.8h1.3v1.3h-1.3zM182.8 304.6h1.3v1.3h-1.3zM180.3 304.7h1.3v1.3h-1.3zM160.2 305.3h1.3v1.3h-1.3zM179.1 302.3h1.3v1.3h-1.3zM172.3 304.9h1.3v1.3h-1.3zM163.5 300.4h1.3v1.3h-1.3zM151.6 301.7h1.3v1.3h-1.3zM186.3 303.1h1.3v1.3h-1.3zM199.7 302.6h1.3v1.3h-1.3zM205.5 295.6h1.3v1.3h-1.3zM153.8 299.8h1.3v1.3h-1.3zM178.4 303.7h1.3v1.3h-1.3zM167.8 303.5h1.3v1.3h-1.3zM188.6 303.6h1.3v1.3h-1.3zM186.2 302.3h1.3v1.3h-1.3zM146.2 299.7h1.3v1.3h-1.3zM159.2 305.0h1.3v1.3h-1.3zM155.6 304.3h1.3v1.3h-1.3zM159.0 303.3h1.3v1.3h-1.3zM172.6 306.7h1.3v1.3h-1.3zM161.5 303.4h1.3v1.3h-1.3zM151.1 305.7h1.3v1.3h-1.3zM157.2 302.8h1.3v1.3h-1.3zM167.7 298.1h1.3v1.3h-1.3zM183.3 300.8h1.3v1.3h-1.3zM146.5 296.2h1.3v1.3h-1.3zM166.9 302.6h1.3v1.3h-1.3zM168.5 305.0h1.3v1.3h-1.3zM143.4 298.0h1.3v1.3h-1.3zM159.4 304.3h1.3v1.3h-1.3zM165.9 302.6h1.3v1.3h-1.3zM172.7 304.6h1.3v1.3h-1.3zM159.9 303.7h1.3v1.3h-1.3zM164.0 301.3h1.3v1.3h-1.3zM171.7 304.0h1.3v1.3h-1.3zM150.5 303.0h1.3v1.3h-1.3zM155.2 304.6h1.3v1.3h-1.3zM176.1 306.4h1.3v1.3h-1.3zM192.3 301.1h1.3v1.3h-1.3zM171.0 305.8h1.3v1.3h-1.3zM201.5 299.9h1.3v1.3h-1.3zM185.3 303.7h1.3v1.3h-1.3zM171.7 303.4h1.3v1.3h-1.3zM154.6 301.9h1.3v1.3h-1.3zM163.0 303.3h1.3v1.3h-1.3zM193.1 300.4h1.3v1.3h-1.3zM158.8 304.0h1.3v1.3h-1.3zM190.8 299.5h1.3v1.3h-1.3zM156.0 301.4h1.3v1.3h-1.3zM194.9 303.3h1.3v1.3h-1.3zM168.7 304.0h1.3v1.3h-1.3zM150.8 304.1h1.3v1.3h-1.3zM177.9 304.0h1.3v1.3h-1.3zM157.8 304.8h1.3v1.3h-1.3zM176.4 303.9h1.3v1.3h-1.3zM154.3 304.6h1.3v1.3h-1.3zM177.2 301.7h1.3v1.3h-1.3zM174.7 303.9h1.3v1.3h-1.3zM152.4 301.8h1.3v1.3h-1.3zM180.9 300.9h1.3v1.3h-1.3zM157.5 302.7h1.3v1.3h-1.3zM200.3 302.2h1.3v1.3h-1.3zM175.8 303.1h1.3v1.3h-1.3zM157.3 306.1h1.3v1.3h-1.3zM150.7 304.3h1.3v1.3h-1.3zM156.3 303.8h1.3v1.3h-1.3zM175.6 303.2h1.3v1.3h-1.3zM179.4 300.8h1.3v1.3h-1.3zM150.2 303.2h1.3v1.3h-1.3zM173.0 303.1h1.3v1.3h-1.3zM204.7 304.9h1.3v1.3h-1.3zM167.1 301.7h1.3v1.3h-1.3zM171.4 302.8h1.3v1.3h-1.3zM192.8 299.8h1.3v1.3h-1.3zM168.1 303.3h1.3v1.3h-1.3zM176.4 300.1h1.3v1.3h-1.3zM149.0 303.7h1.3v1.3h-1.3zM200.1 300.5h1.3v1.3h-1.3zM199.8 301.0h1.3v1.3h-1.3zM149.6 308.3h1.3v1.3h-1.3zM162.8 302.9h1.3v1.3h-1.3zM178.2 303.9h1.3v1.3h-1.3zM148.2 303.0h1.3v1.3h-1.3zM167.6 304.9h1.3v1.3h-1.3zM145.6 309.0h1.3v1.3h-1.3zM175.9 306.0h1.3v1.3h-1.3zM172.7 303.6h1.3v1.3h-1.3zM201.7 296.6h1.3v1.3h-1.3zM158.9 303.8h1.3v1.3h-1.3zM185.6 299.4h1.3v1.3h-1.3zM149.7 301.3h1.3v1.3h-1.3zM175.9 302.0h1.3v1.3h-1.3zM150.7 301.1h1.3v1.3h-1.3zM157.8 303.1h1.3v1.3h-1.3zM173.5 302.4h1.3v1.3h-1.3zM142.0 300.8h1.3v1.3h-1.3zM172.6 303.7h1.3v1.3h-1.3zM160.6 301.8h1.3v1.3h-1.3zM145.4 306.5h1.3v1.3h-1.3zM175.9 304.1h1.3v1.3h-1.3zM154.4 302.3h1.3v1.3h-1.3zM154.4 303.8h1.3v1.3h-1.3zM169.7 301.9h1.3v1.3h-1.3zM176.9 302.0h1.3v1.3h-1.3zM179.5 304.8h1.3v1.3h-1.3zM160.5 300.3h1.3v1.3h-1.3zM184.4 303.6h1.3v1.3h-1.3zM183.2 306.3h1.3v1.3h-1.3zM172.9 299.2h1.3v1.3h-1.3zM169.1 307.2h1.3v1.3h-1.3zM147.5 298.6h1.3v1.3h-1.3zM182.0 299.2h1.3v1.3h-1.3zM198.1 295.1h1.3v1.3h-1.3zM155.7 301.0h1.3v1.3h-1.3zM194.3 299.8h1.3v1.3h-1.3zM153.2 299.8h1.3v1.3h-1.3zM153.8 302.7h1.3v1.3h-1.3zM171.4 304.4h1.3v1.3h-1.3zM178.7 301.7h1.3v1.3h-1.3zM175.9 303.2h1.3v1.3h-1.3zM173.7 304.1h1.3v1.3h-1.3zM164.9 306.0h1.3v1.3h-1.3zM171.4 302.9h1.3v1.3h-1.3zM153.4 304.3h1.3v1.3h-1.3zM188.2 303.2h1.3v1.3h-1.3zM152.8 303.1h1.3v1.3h-1.3zM172.7 302.4h1.3v1.3h-1.3zM147.3 303.9h1.3v1.3h-1.3zM188.2 303.6h1.3v1.3h-1.3zM164.9 300.7h1.3v1.3h-1.3zM192.4 300.7h1.3v1.3h-1.3zM152.2 303.6h1.3v1.3h-1.3zM173.1 303.5h1.3v1.3h-1.3zM154.8 303.6h1.3v1.3h-1.3zM147.7 306.8h1.3v1.3h-1.3zM180.1 304.8h1.3v1.3h-1.3zM205.0 296.0h1.3v1.3h-1.3zM167.7 305.8h1.3v1.3h-1.3zM185.7 301.2h1.3v1.3h-1.3zM167.8 301.6h1.3v1.3h-1.3zM147.2 305.6h1.3v1.3h-1.3zM147.8 302.3h1.3v1.3h-1.3zM200.5 295.5h1.3v1.3h-1.3zM155.3 304.1h1.3v1.3h-1.3zM179.3 303.8h1.3v1.3h-1.3zM182.8 303.9h1.3v1.3h-1.3zM199.9 296.5h1.3v1.3h-1.3zM169.0 304.4h1.3v1.3h-1.3zM157.7 301.9h1.3v1.3h-1.3zM181.2 304.6h1.3v1.3h-1.3zM191.9 298.7h1.3v1.3h-1.3zM184.5 300.9h1.3v1.3h-1.3zM172.1 299.6h1.3v1.3h-1.3zM164.6 301.7h1.3v1.3h-1.3zM145.1 306.0h1.3v1.3h-1.3zM152.7 303.4h1.3v1.3h-1.3zM163.7 302.0h1.3v1.3h-1.3zM163.5 305.4h1.3v1.3h-1.3zM161.1 303.4h1.3v1.3h-1.3zM185.7 304.0h1.3v1.3h-1.3zM188.3 302.8h1.3v1.3h-1.3zM159.5 302.8h1.3v1.3h-1.3zM166.8 303.2h1.3v1.3h-1.3zM162.2 303.8h1.3v1.3h-1.3zM158.1 305.0h1.3v1.3h-1.3zM184.0 303.9h1.3v1.3h-1.3zM187.8 304.0h1.3v1.3h-1.3zM165.4 301.1h1.3v1.3h-1.3zM159.2 299.7h1.3v1.3h-1.3zM164.2 303.5h1.3v1.3h-1.3zM149.3 303.3h1.3v1.3h-1.3zM170.3 303.8h1.3v1.3h-1.3zM160.2 301.2h1.3v1.3h-1.3zM164.0 303.2h1.3v1.3h-1.3zM169.8 301.1h1.3v1.3h-1.3zM161.6 303.1h1.3v1.3h-1.3zM178.8 302.9h1.3v1.3h-1.3zM189.7 301.5h1.3v1.3h-1.3zM187.3 302.9h1.3v1.3h-1.3zM163.9 302.1h1.3v1.3h-1.3zM195.2 301.0h1.3v1.3h-1.3zM152.7 304.2h1.3v1.3h-1.3zM170.6 305.6h1.3v1.3h-1.3zM192.6 302.4h1.3v1.3h-1.3zM154.7 304.4h1.3v1.3h-1.3zM173.1 304.0h1.3v1.3h-1.3zM203.2 304.8h1.3v1.3h-1.3zM147.7 307.9h1.3v1.3h-1.3zM159.9 301.9h1.3v1.3h-1.3zM175.8 304.2h1.3v1.3h-1.3zM181.4 303.5h1.3v1.3h-1.3zM158.3 305.7h1.3v1.3h-1.3zM187.2 297.3h1.3v1.3h-1.3zM150.8 301.8h1.3v1.3h-1.3zM154.4 300.0h1.3v1.3h-1.3zM145.4 306.7h1.3v1.3h-1.3zM162.7 303.5h1.3v1.3h-1.3zM160.2 304.1h1.3v1.3h-1.3zM168.8 303.7h1.3v1.3h-1.3zM156.5 303.5h1.3v1.3h-1.3zM200.6 301.5h1.3v1.3h-1.3zM159.6 302.3h1.3v1.3h-1.3zM196.0 295.7h1.3v1.3h-1.3zM188.6 302.7h1.3v1.3h-1.3zM153.2 302.9h1.3v1.3h-1.3zM165.8 302.0h1.3v1.3h-1.3zM151.7 301.9h1.3v1.3h-1.3zM199.8 304.1h1.3v1.3h-1.3zM155.5 301.7h1.3v1.3h-1.3zM168.1 301.1h1.3v1.3h-1.3zM181.6 304.1h1.3v1.3h-1.3zM202.0 304.4h1.3v1.3h-1.3zM178.7 300.7h1.3v1.3h-1.3zM189.6 299.7h1.3v1.3h-1.3zM189.5 299.6h1.3v1.3h-1.3zM171.5 303.6h1.3v1.3h-1.3zM195.2 302.5h1.3v1.3h-1.3zM182.2 305.4h1.3v1.3h-1.3zM160.0 302.9h1.3v1.3h-1.3zM191.0 301.1h1.3v1.3h-1.3zM153.8 301.9h1.3v1.3h-1.3zM177.6 304.9h1.3v1.3h-1.3zM156.6 301.9h1.3v1.3h-1.3zM175.6 301.5h1.3v1.3h-1.3zM150.8 302.6h1.3v1.3h-1.3zM174.6 302.9h1.3v1.3h-1.3zM164.0 303.7h1.3v1.3h-1.3zM166.4 301.9h1.3v1.3h-1.3zM148.5 306.8h1.3v1.3h-1.3zM180.8 306.3h1.3v1.3h-1.3zM195.2 298.2h1.3v1.3h-1.3zM166.4 303.2h1.3v1.3h-1.3zM161.9 301.2h1.3v1.3h-1.3zM182.4 302.5h1.3v1.3h-1.3zM204.8 296.0h1.3v1.3h-1.3zM155.1 302.5h1.3v1.3h-1.3zM186.9 302.8h1.3v1.3h-1.3zM151.5 303.3h1.3v1.3h-1.3zM152.0 300.6h1.3v1.3h-1.3zM182.8 299.4h1.3v1.3h-1.3zM143.3 297.3h1.3v1.3h-1.3zM156.3 305.1h1.3v1.3h-1.3zM160.5 302.7h1.3v1.3h-1.3zM188.0 302.3h1.3v1.3h-1.3zM187.4 305.2h1.3v1.3h-1.3zM176.5 301.2h1.3v1.3h-1.3zM196.0 302.0h1.3v1.3h-1.3zM154.5 301.8h1.3v1.3h-1.3zM163.8 303.3h1.3v1.3h-1.3zM154.4 299.7h1.3v1.3h-1.3zM175.0 302.3h1.3v1.3h-1.3zM175.5 302.8h1.3v1.3h-1.3zM163.9 303.2h1.3v1.3h-1.3zM193.4 297.8h1.3v1.3h-1.3zM201.1 299.5h1.3v1.3h-1.3zM179.2 304.5h1.3v1.3h-1.3zM185.1 302.4h1.3v1.3h-1.3zM178.5 304.4h1.3v1.3h-1.3zM160.8 304.1h1.3v1.3h-1.3zM157.5 303.4h1.3v1.3h-1.3zM188.3 301.3h1.3v1.3h-1.3zM150.8 303.1h1.3v1.3h-1.3zM167.7 301.3h1.3v1.3h-1.3zM165.6 304.1h1.3v1.3h-1.3zM176.2 303.5h1.3v1.3h-1.3zM158.7 305.0h1.3v1.3h-1.3zM169.8 306.9h1.3v1.3h-1.3zM159.4 304.4h1.3v1.3h-1.3zM185.7 303.6h1.3v1.3h-1.3zM157.3 303.3h1.3v1.3h-1.3zM160.8 304.4h1.3v1.3h-1.3zM159.0 305.4h1.3v1.3h-1.3zM178.7 302.5h1.3v1.3h-1.3zM205.8 295.7h1.3v1.3h-1.3zM167.9 300.6h1.3v1.3h-1.3zM191.2 303.9h1.3v1.3h-1.3zM181.7 303.8h1.3v1.3h-1.3zM187.6 303.3h1.3v1.3h-1.3zM150.7 299.9h1.3v1.3h-1.3zM149.4 301.8h1.3v1.3h-1.3zM199.8 296.0h1.3v1.3h-1.3zM152.9 301.0h1.3v1.3h-1.3zM186.3 301.2h1.3v1.3h-1.3zM199.1 298.6h1.3v1.3h-1.3zM183.5 305.7h1.3v1.3h-1.3zM147.3 299.9h1.3v1.3h-1.3zM189.7 300.5h1.3v1.3h-1.3zM179.4 301.7h1.3v1.3h-1.3zM157.3 303.1h1.3v1.3h-1.3zM185.3 303.9h1.3v1.3h-1.3zM184.2 301.2h1.3v1.3h-1.3zM163.5 300.1h1.3v1.3h-1.3zM176.6 302.2h1.3v1.3h-1.3zM198.3 301.7h1.3v1.3h-1.3zM165.6 301.1h1.3v1.3h-1.3zM193.0 303.7h1.3v1.3h-1.3zM186.9 300.2h1.3v1.3h-1.3zM158.8 301.8h1.3v1.3h-1.3zM167.0 302.2h1.3v1.3h-1.3zM169.8 306.3h1.3v1.3h-1.3zM192.3 303.3h1.3v1.3h-1.3zM169.5 303.6h1.3v1.3h-1.3zM187.1 300.2h1.3v1.3h-1.3zM163.0 301.0h1.3v1.3h-1.3zM143.9 300.9h1.3v1.3h-1.3zM163.5 305.7h1.3v1.3h-1.3zM152.8 305.2h1.3v1.3h-1.3zM173.0 303.2h1.3v1.3h-1.3zM162.8 301.7h1.3v1.3h-1.3zM145.2 298.1h1.3v1.3h-1.3zM151.7 302.2h1.3v1.3h-1.3zM168.0 303.9h1.3v1.3h-1.3zM180.4 303.9h1.3v1.3h-1.3zM158.6 303.6h1.3v1.3h-1.3zM167.4 301.7h1.3v1.3h-1.3zM168.0 303.8h1.3v1.3h-1.3zM172.7 302.7h1.3v1.3h-1.3zM173.7 304.5h1.3v1.3h-1.3zM201.5 300.8h1.3v1.3h-1.3zM152.2 304.3h1.3v1.3h-1.3zM171.7 303.5h1.3v1.3h-1.3zM175.9 302.1h1.3v1.3h-1.3zM163.1 305.0h1.3v1.3h-1.3zM165.8 301.2h1.3v1.3h-1.3zM154.1 304.1h1.3v1.3h-1.3zM196.2 299.7h1.3v1.3h-1.3zM188.7 301.2h1.3v1.3h-1.3zM144.6 303.7h1.3v1.3h-1.3zM166.0 302.1h1.3v1.3h-1.3zM159.8 301.2h1.3v1.3h-1.3zM203.8 297.0h1.3v1.3h-1.3zM150.4 300.8h1.3v1.3h-1.3zM158.9 303.0h1.3v1.3h-1.3zM176.7 303.5h1.3v1.3h-1.3zM160.6 302.8h1.3v1.3h-1.3zM175.9 300.3h1.3v1.3h-1.3zM141.9 303.4h1.3v1.3h-1.3zM191.3 303.8h1.3v1.3h-1.3zM151.0 300.9h1.3v1.3h-1.3zM197.7 298.3h1.3v1.3h-1.3zM181.7 304.5h1.3v1.3h-1.3zM181.0 302.7h1.3v1.3h-1.3zM204.6 302.8h1.3v1.3h-1.3zM194.5 300.3h1.3v1.3h-1.3zM164.1 300.5h1.3v1.3h-1.3zM175.2 302.9h1.3v1.3h-1.3zM196.1 300.8h1.3v1.3h-1.3zM179.2 303.5h1.3v1.3h-1.3zM145.0 300.6h1.3v1.3h-1.3zM169.3 302.2h1.3v1.3h-1.3zM177.7 306.5h1.3v1.3h-1.3zM167.8 302.0h1.3v1.3h-1.3zM176.5 305.7h1.3v1.3h-1.3zM194.5 298.4h1.3v1.3h-1.3zM180.0 303.4h1.3v1.3h-1.3zM196.6 301.8h1.3v1.3h-1.3zM155.0 304.5h1.3v1.3h-1.3zM153.9 303.0h1.3v1.3h-1.3zM189.5 300.5h1.3v1.3h-1.3zM185.3 302.7h1.3v1.3h-1.3zM164.7 300.4h1.3v1.3h-1.3zM153.1 298.6h1.3v1.3h-1.3zM168.5 300.3h1.3v1.3h-1.3zM176.9 305.7h1.3v1.3h-1.3zM161.7 304.4h1.3v1.3h-1.3zM173.9 306.2h1.3v1.3h-1.3zM148.2 304.1h1.3v1.3h-1.3zM186.9 299.3h1.3v1.3h-1.3zM169.7 301.2h1.3v1.3h-1.3zM191.3 302.3h1.3v1.3h-1.3zM144.5 300.6h1.3v1.3h-1.3zM176.1 301.3h1.3v1.3h-1.3zM164.4 301.1h1.3v1.3h-1.3zM152.5 301.6h1.3v1.3h-1.3zM173.2 299.7h1.3v1.3h-1.3zM155.3 303.7h1.3v1.3h-1.3zM161.9 301.7h1.3v1.3h-1.3zM190.2 304.6h1.3v1.3h-1.3zM191.7 305.4h1.3v1.3h-1.3zM188.9 301.8h1.3v1.3h-1.3zM164.4 304.8h1.3v1.3h-1.3zM145.3 305.9h1.3v1.3h-1.3zM179.0 303.3h1.3v1.3h-1.3zM174.6 302.7h1.3v1.3h-1.3zM171.6 305.2h1.3v1.3h-1.3zM165.6 304.1h1.3v1.3h-1.3zM155.9 302.6h1.3v1.3h-1.3zM176.0 302.1h1.3v1.3h-1.3zM152.8 303.0h1.3v1.3h-1.3zM157.5 304.6h1.3v1.3h-1.3zM202.5 302.0h1.3v1.3h-1.3zM185.1 301.4h1.3v1.3h-1.3zM177.0 302.7h1.3v1.3h-1.3zM148.3 303.3h1.3v1.3h-1.3zM169.7 302.3h1.3v1.3h-1.3zM147.9 302.8h1.3v1.3h-1.3zM176.9 301.3h1.3v1.3h-1.3zM146.8 301.0h1.3v1.3h-1.3zM196.7 301.6h1.3v1.3h-1.3zM167.8 303.4h1.3v1.3h-1.3zM160.3 302.4h1.3v1.3h-1.3zM157.8 306.7h1.3v1.3h-1.3zM154.9 302.7h1.3v1.3h-1.3zM153.9 304.2h1.3v1.3h-1.3zM180.5 303.4h1.3v1.3h-1.3zM152.3 302.2h1.3v1.3h-1.3zM176.9 304.1h1.3v1.3h-1.3zM198.3 303.5h1.3v1.3h-1.3zM189.3 301.9h1.3v1.3h-1.3zM176.4 303.8h1.3v1.3h-1.3zM169.3 307.8h1.3v1.3h-1.3zM163.8 301.5h1.3v1.3h-1.3zM157.7 302.6h1.3v1.3h-1.3zM168.5 303.9h1.3v1.3h-1.3zM177.1 303.0h1.3v1.3h-1.3zM160.3 301.6h1.3v1.3h-1.3zM159.0 302.1h1.3v1.3h-1.3zM170.3 302.6h1.3v1.3h-1.3zM170.7 302.5h1.3v1.3h-1.3zM163.9 303.1h1.3v1.3h-1.3zM177.1 305.7h1.3v1.3h-1.3zM186.9 302.7h1.3v1.3h-1.3zM175.4 302.3h1.3v1.3h-1.3zM195.4 302.8h1.3v1.3h-1.3zM179.0 304.1h1.3v1.3h-1.3zM195.5 298.4h1.3v1.3h-1.3zM150.5 301.9h1.3v1.3h-1.3zM184.2 300.7h1.3v1.3h-1.3zM192.6 302.2h1.3v1.3h-1.3zM167.4 304.4h1.3v1.3h-1.3zM157.7 302.6h1.3v1.3h-1.3zM170.2 305.1h1.3v1.3h-1.3zM194.9 299.7h1.3v1.3h-1.3zM155.9 302.4h1.3v1.3h-1.3zM192.4 301.3h1.3v1.3h-1.3zM189.9 302.3h1.3v1.3h-1.3zM177.1 305.8h1.3v1.3h-1.3zM174.9 301.1h1.3v1.3h-1.3zM149.9 304.1h1.3v1.3h-1.3zM175.2 303.1h1.3v1.3h-1.3zM146.8 305.9h1.3v1.3h-1.3zM158.0 300.7h1.3v1.3h-1.3zM149.9 300.8h1.3v1.3h-1.3zM174.3 305.9h1.3v1.3h-1.3zM158.2 305.1h1.3v1.3h-1.3zM162.5 304.8h1.3v1.3h-1.3zM153.4 302.8h1.3v1.3h-1.3zM165.3 304.8h1.3v1.3h-1.3zM153.2 303.0h1.3v1.3h-1.3zM177.7 301.1h1.3v1.3h-1.3zM196.7 300.5h1.3v1.3h-1.3zM170.7 302.5h1.3v1.3h-1.3zM190.6 299.5h1.3v1.3h-1.3zM184.3 301.6h1.3v1.3h-1.3zM174.0 301.8h1.3v1.3h-1.3zM168.3 303.9h1.3v1.3h-1.3zM188.8 304.1h1.3v1.3h-1.3zM173.9 304.9h1.3v1.3h-1.3zM177.0 304.9h1.3v1.3h-1.3zM156.9 301.2h1.3v1.3h-1.3zM187.8 303.3h1.3v1.3h-1.3zM149.5 304.6h1.3v1.3h-1.3zM155.3 303.7h1.3v1.3h-1.3zM148.9 301.0h1.3v1.3h-1.3zM163.2 298.0h1.3v1.3h-1.3zM173.3 303.3h1.3v1.3h-1.3zM179.0 301.6h1.3v1.3h-1.3zM173.6 304.5h1.3v1.3h-1.3zM152.8 300.5h1.3v1.3h-1.3zM190.6 303.0h1.3v1.3h-1.3zM148.4 302.0h1.3v1.3h-1.3zM181.3 300.7h1.3v1.3h-1.3zM178.0 302.2h1.3v1.3h-1.3zM158.0 302.7h1.3v1.3h-1.3zM185.2 304.1h1.3v1.3h-1.3zM163.4 304.3h1.3v1.3h-1.3zM156.6 305.1h1.3v1.3h-1.3zM181.2 304.3h1.3v1.3h-1.3zM146.9 301.9h1.3v1.3h-1.3zM178.3 302.2h1.3v1.3h-1.3zM184.8 302.9h1.3v1.3h-1.3zM151.1 302.4h1.3v1.3h-1.3zM191.4 297.9h1.3v1.3h-1.3zM167.4 299.5h1.3v1.3h-1.3zM182.3 304.3h1.3v1.3h-1.3zM175.0 303.2h1.3v1.3h-1.3zM173.4 306.3h1.3v1.3h-1.3zM175.3 302.1h1.3v1.3h-1.3zM171.9 304.7h1.3v1.3h-1.3zM151.6 303.2h1.3v1.3h-1.3zM182.3 303.8h1.3v1.3h-1.3zM142.9 303.2h1.3v1.3h-1.3zM168.5 304.9h1.3v1.3h-1.3zM196.2 302.2h1.3v1.3h-1.3zM204.3 298.3h1.3v1.3h-1.3zM167.5 302.8h1.3v1.3h-1.3zM185.2 302.1h1.3v1.3h-1.3zM151.5 303.1h1.3v1.3h-1.3zM182.3 303.4h1.3v1.3h-1.3zM162.8 302.2h1.3v1.3h-1.3zM198.2 299.1h1.3v1.3h-1.3zM151.9 303.0h1.3v1.3h-1.3zM149.7 267.3h1.3v1.3h-1.3zM140.8 284.3h1.3v1.3h-1.3zM153.3 287.0h1.3v1.3h-1.3zM153.1 283.8h1.3v1.3h-1.3zM152.5 288.3h1.3v1.3h-1.3zM146.6 284.9h1.3v1.3h-1.3zM153.5 290.1h1.3v1.3h-1.3zM142.5 276.0h1.3v1.3h-1.3zM149.4 294.9h1.3v1.3h-1.3zM155.0 295.6h1.3v1.3h-1.3zM152.4 281.3h1.3v1.3h-1.3zM145.3 290.5h1.3v1.3h-1.3zM138.8 287.5h1.3v1.3h-1.3zM144.9 291.5h1.3v1.3h-1.3zM144.0 280.3h1.3v1.3h-1.3zM153.1 266.6h1.3v1.3h-1.3zM153.8 286.0h1.3v1.3h-1.3zM143.7 288.0h1.3v1.3h-1.3zM144.4 287.8h1.3v1.3h-1.3zM147.9 288.5h1.3v1.3h-1.3zM141.6 280.6h1.3v1.3h-1.3zM158.4 286.0h1.3v1.3h-1.3zM146.3 279.3h1.3v1.3h-1.3zM144.2 285.6h1.3v1.3h-1.3zM140.0 284.1h1.3v1.3h-1.3zM145.8 273.5h1.3v1.3h-1.3zM147.4 291.1h1.3v1.3h-1.3zM144.7 283.1h1.3v1.3h-1.3zM148.9 281.0h1.3v1.3h-1.3zM144.6 280.8h1.3v1.3h-1.3zM155.7 284.9h1.3v1.3h-1.3zM142.8 280.5h1.3v1.3h-1.3zM156.9 288.8h1.3v1.3h-1.3zM144.3 281.1h1.3v1.3h-1.3zM154.1 288.3h1.3v1.3h-1.3zM142.2 284.2h1.3v1.3h-1.3zM151.2 283.7h1.3v1.3h-1.3zM149.8 280.5h1.3v1.3h-1.3zM155.1 292.3h1.3v1.3h-1.3zM143.3 276.5h1.3v1.3h-1.3zM144.5 289.1h1.3v1.3h-1.3zM148.6 284.0h1.3v1.3h-1.3zM148.4 276.2h1.3v1.3h-1.3zM147.1 283.8h1.3v1.3h-1.3zM143.5 288.7h1.3v1.3h-1.3zM143.4 280.8h1.3v1.3h-1.3zM151.5 287.8h1.3v1.3h-1.3zM147.8 285.6h1.3v1.3h-1.3zM149.7 286.2h1.3v1.3h-1.3zM141.4 288.9h1.3v1.3h-1.3zM159.5 286.5h1.3v1.3h-1.3zM145.7 290.8h1.3v1.3h-1.3zM151.1 280.2h1.3v1.3h-1.3zM146.8 281.2h1.3v1.3h-1.3zM153.5 277.1h1.3v1.3h-1.3zM154.9 280.6h1.3v1.3h-1.3zM149.1 281.9h1.3v1.3h-1.3zM149.7 290.8h1.3v1.3h-1.3zM151.1 277.6h1.3v1.3h-1.3zM145.8 285.1h1.3v1.3h-1.3zM158.7 281.5h1.3v1.3h-1.3zM144.9 280.1h1.3v1.3h-1.3zM147.0 288.0h1.3v1.3h-1.3zM141.4 292.1h1.3v1.3h-1.3zM155.0 288.8h1.3v1.3h-1.3zM151.1 297.9h1.3v1.3h-1.3zM141.0 281.3h1.3v1.3h-1.3zM160.3 277.6h1.3v1.3h-1.3zM149.2 283.4h1.3v1.3h-1.3zM141.7 279.1h1.3v1.3h-1.3zM146.1 285.8h1.3v1.3h-1.3zM150.3 287.6h1.3v1.3h-1.3zM147.8 284.5h1.3v1.3h-1.3zM151.0 280.8h1.3v1.3h-1.3zM139.3 289.0h1.3v1.3h-1.3zM155.1 277.4h1.3v1.3h-1.3zM149.2 279.0h1.3v1.3h-1.3zM153.6 287.9h1.3v1.3h-1.3zM141.4 288.6h1.3v1.3h-1.3zM138.6 281.8h1.3v1.3h-1.3zM148.7 291.7h1.3v1.3h-1.3zM152.1 292.6h1.3v1.3h-1.3zM149.4 321.2h1.3v1.3h-1.3zM158.0 297.6h1.3v1.3h-1.3zM195.0 299.5h1.3v1.3h-1.3zM189.6 285.4h1.3v1.3h-1.3zM154.3 291.7h1.3v1.3h-1.3zM162.7 296.2h1.3v1.3h-1.3zM166.4 285.9h1.3v1.3h-1.3zM174.7 284.0h1.3v1.3h-1.3zM160.7 297.9h1.3v1.3h-1.3zM157.7 295.2h1.3v1.3h-1.3zM181.2 307.3h1.3v1.3h-1.3zM189.5 302.5h1.3v1.3h-1.3zM178.8 285.1h1.3v1.3h-1.3zM158.3 288.2h1.3v1.3h-1.3zM163.0 294.2h1.3v1.3h-1.3zM156.8 291.8h1.3v1.3h-1.3zM188.1 291.7h1.3v1.3h-1.3zM141.8 293.0h1.3v1.3h-1.3zM169.0 292.4h1.3v1.3h-1.3zM203.6 302.8h1.3v1.3h-1.3zM196.9 290.3h1.3v1.3h-1.3zM182.7 297.3h1.3v1.3h-1.3zM169.8 288.5h1.3v1.3h-1.3zM174.4 279.6h1.3v1.3h-1.3zM185.6 317.7h1.3v1.3h-1.3zM193.7 278.3h1.3v1.3h-1.3zM174.0 289.1h1.3v1.3h-1.3zM161.8 293.0h1.3v1.3h-1.3zM188.8 301.1h1.3v1.3h-1.3zM158.3 299.7h1.3v1.3h-1.3zM173.4 311.6h1.3v1.3h-1.3zM148.8 294.2h1.3v1.3h-1.3zM156.7 294.9h1.3v1.3h-1.3zM140.4 287.7h1.3v1.3h-1.3zM169.3 290.3h1.3v1.3h-1.3zM157.6 294.1h1.3v1.3h-1.3zM162.4 287.6h1.3v1.3h-1.3zM167.2 295.3h1.3v1.3h-1.3zM175.8 281.1h1.3v1.3h-1.3zM164.7 304.6h1.3v1.3h-1.3zM149.1 296.1h1.3v1.3h-1.3zM163.5 303.8h1.3v1.3h-1.3zM189.3 297.2h1.3v1.3h-1.3zM163.3 282.4h1.3v1.3h-1.3zM162.9 288.3h1.3v1.3h-1.3zM171.4 307.5h1.3v1.3h-1.3zM199.5 297.5h1.3v1.3h-1.3zM172.8 294.0h1.3v1.3h-1.3zM175.4 293.5h1.3v1.3h-1.3zM197.3 289.1h1.3v1.3h-1.3zM172.7 290.2h1.3v1.3h-1.3zM185.1 309.6h1.3v1.3h-1.3zM180.9 296.7h1.3v1.3h-1.3zM171.8 299.8h1.3v1.3h-1.3zM164.1 308.4h1.3v1.3h-1.3zM197.5 303.3h1.3v1.3h-1.3zM183.4 292.1h1.3v1.3h-1.3zM198.5 284.3h1.3v1.3h-1.3zM160.4 312.2h1.3v1.3h-1.3zM165.1 288.9h1.3v1.3h-1.3zM146.7 303.6h1.3v1.3h-1.3zM189.2 297.1h1.3v1.3h-1.3zM147.1 294.7h1.3v1.3h-1.3zM159.8 302.6h1.3v1.3h-1.3zM193.4 299.0h1.3v1.3h-1.3zM177.9 307.8h1.3v1.3h-1.3zM196.9 286.0h1.3v1.3h-1.3zM178.4 286.2h1.3v1.3h-1.3zM160.3 304.6h1.3v1.3h-1.3zM155.1 294.2h1.3v1.3h-1.3zM190.3 299.2h1.3v1.3h-1.3zM147.3 294.8h1.3v1.3h-1.3zM168.4 288.4h1.3v1.3h-1.3zM202.2 296.1h1.3v1.3h-1.3zM172.7 303.8h1.3v1.3h-1.3zM174.4 285.2h1.3v1.3h-1.3zM172.1 299.1h1.3v1.3h-1.3zM174.5 304.1h1.3v1.3h-1.3zM185.1 299.9h1.3v1.3h-1.3zM169.7 296.1h1.3v1.3h-1.3zM200.9 282.8h1.3v1.3h-1.3zM189.0 299.4h1.3v1.3h-1.3zM162.0 295.8h1.3v1.3h-1.3zM181.3 284.8h1.3v1.3h-1.3zM174.8 300.5h1.3v1.3h-1.3zM159.2 297.0h1.3v1.3h-1.3zM193.1 297.5h1.3v1.3h-1.3zM159.7 283.4h1.3v1.3h-1.3zM146.3 303.7h1.3v1.3h-1.3zM169.5 295.2h1.3v1.3h-1.3zM169.3 290.1h1.3v1.3h-1.3zM198.4 301.4h1.3v1.3h-1.3zM194.4 286.5h1.3v1.3h-1.3zM181.3 301.1h1.3v1.3h-1.3zM155.7 289.1h1.3v1.3h-1.3zM160.3 304.0h1.3v1.3h-1.3zM175.8 290.3h1.3v1.3h-1.3zM182.8 290.7h1.3v1.3h-1.3zM174.3 295.4h1.3v1.3h-1.3zM159.8 303.4h1.3v1.3h-1.3zM173.2 277.9h1.3v1.3h-1.3zM169.7 307.8h1.3v1.3h-1.3zM139.4 303.1h1.3v1.3h-1.3zM175.9 286.3h1.3v1.3h-1.3zM172.2 287.0h1.3v1.3h-1.3zM149.8 299.0h1.3v1.3h-1.3zM176.6 281.7h1.3v1.3h-1.3zM164.5 296.2h1.3v1.3h-1.3zM149.2 304.4h1.3v1.3h-1.3zM161.5 299.0h1.3v1.3h-1.3zM183.2 290.4h1.3v1.3h-1.3zM150.6 308.6h1.3v1.3h-1.3zM189.3 280.4h1.3v1.3h-1.3zM210.4 304.7h1.3v1.3h-1.3zM163.8 306.6h1.3v1.3h-1.3zM210.1 314.7h1.3v1.3h-1.3zM178.9 320.1h1.3v1.3h-1.3zM197.9 278.9h1.3v1.3h-1.3zM194.0 280.8h1.3v1.3h-1.3zM201.2 288.1h1.3v1.3h-1.3zM205.1 298.0h1.3v1.3h-1.3zM177.8 312.4h1.3v1.3h-1.3zM157.1 315.1h1.3v1.3h-1.3zM160.6 318.8h1.3v1.3h-1.3zM152.3 284.9h1.3v1.3h-1.3zM141.6 296.6h1.3v1.3h-1.3zM212.1 321.0h1.3v1.3h-1.3zM188.5 298.6h1.3v1.3h-1.3zM160.5 308.9h1.3v1.3h-1.3zM166.5 312.3h1.3v1.3h-1.3zM154.5 282.0h1.3v1.3h-1.3zM210.6 304.2h1.3v1.3h-1.3zM209.4 288.0h1.3v1.3h-1.3zM167.8 296.7h1.3v1.3h-1.3zM208.7 320.0h1.3v1.3h-1.3zM148.1 287.6h1.3v1.3h-1.3zM192.4 315.4h1.3v1.3h-1.3zM158.7 304.3h1.3v1.3h-1.3zM207.8 271.6h1.3v1.3h-1.3zM146.8 278.8h1.3v1.3h-1.3zM183.4 298.5h1.3v1.3h-1.3zM178.3 303.2h1.3v1.3h-1.3zM179.3 300.7h1.3v1.3h-1.3zM188.8 305.8h1.3v1.3h-1.3zM198.3 307.4h1.3v1.3h-1.3zM149.9 300.2h1.3v1.3h-1.3zM179.8 307.1h1.3v1.3h-1.3zM160.9 302.7h1.3v1.3h-1.3zM177.7 302.2h1.3v1.3h-1.3zM189.4 298.3h1.3v1.3h-1.3zM181.1 299.2h1.3v1.3h-1.3zM179.7 298.6h1.3v1.3h-1.3zM167.8 306.8h1.3v1.3h-1.3zM156.6 303.0h1.3v1.3h-1.3zM183.3 302.2h1.3v1.3h-1.3zM168.0 302.7h1.3v1.3h-1.3zM157.8 306.0h1.3v1.3h-1.3zM184.6 310.3h1.3v1.3h-1.3zM177.3 307.5h1.3v1.3h-1.3zM164.3 304.8h1.3v1.3h-1.3zM157.3 303.7h1.3v1.3h-1.3zM167.3 306.9h1.3v1.3h-1.3zM138.8 301.9h1.3v1.3h-1.3zM167.6 305.6h1.3v1.3h-1.3zM160.7 300.8h1.3v1.3h-1.3zM193.5 299.9h1.3v1.3h-1.3zM166.1 307.7h1.3v1.3h-1.3zM178.3 303.8h1.3v1.3h-1.3zM143.0 296.4h1.3v1.3h-1.3zM158.8 298.9h1.3v1.3h-1.3zM183.7 300.7h1.3v1.3h-1.3zM196.1 302.6h1.3v1.3h-1.3zM182.7 299.8h1.3v1.3h-1.3zM162.7 304.6h1.3v1.3h-1.3zM187.1 299.8h1.3v1.3h-1.3zM193.9 301.6h1.3v1.3h-1.3zM198.5 297.3h1.3v1.3h-1.3zM166.8 305.5h1.3v1.3h-1.3zM171.4 300.2h1.3v1.3h-1.3zM183.3 306.8h1.3v1.3h-1.3zM165.9 306.0h1.3v1.3h-1.3zM165.5 299.2h1.3v1.3h-1.3zM193.9 300.2h1.3v1.3h-1.3zM164.5 306.0h1.3v1.3h-1.3zM156.4 298.5h1.3v1.3h-1.3zM168.3 303.1h1.3v1.3h-1.3zM188.0 301.9h1.3v1.3h-1.3zM161.8 297.0h1.3v1.3h-1.3zM167.2 300.6h1.3v1.3h-1.3zM190.9 295.6h1.3v1.3h-1.3zM143.1 294.5h1.3v1.3h-1.3zM168.5 304.6h1.3v1.3h-1.3zM199.2 295.5h1.3v1.3h-1.3zM175.0 299.9h1.3v1.3h-1.3zM199.2 304.1h1.3v1.3h-1.3zM197.6 302.5h1.3v1.3h-1.3zM190.1 304.2h1.3v1.3h-1.3zM161.8 306.8h1.3v1.3h-1.3zM167.3 292.7h1.3v1.3h-1.3zM170.6 297.2h1.3v1.3h-1.3zM181.1 309.4h1.3v1.3h-1.3zM177.3 305.1h1.3v1.3h-1.3zM151.9 299.1h1.3v1.3h-1.3zM162.5 311.2h1.3v1.3h-1.3zM165.3 303.8h1.3v1.3h-1.3zM141.8 300.4h1.3v1.3h-1.3zM174.3 302.0h1.3v1.3h-1.3zM167.4 304.5h1.3v1.3h-1.3zM180.3 297.3h1.3v1.3h-1.3zM150.0 305.0h1.3v1.3h-1.3zM185.7 296.6h1.3v1.3h-1.3zM183.5 296.4h1.3v1.3h-1.3zM169.4 308.2h1.3v1.3h-1.3zM144.9 302.5h1.3v1.3h-1.3zM168.5 297.5h1.3v1.3h-1.3zM184.8 298.4h1.3v1.3h-1.3zM161.0 297.7h1.3v1.3h-1.3zM179.3 305.0h1.3v1.3h-1.3zM194.8 301.5h1.3v1.3h-1.3zM158.2 309.1h1.3v1.3h-1.3zM161.7 305.5h1.3v1.3h-1.3zM199.0 306.0h1.3v1.3h-1.3zM141.5 297.9h1.3v1.3h-1.3zM158.8 306.2h1.3v1.3h-1.3zM158.8 305.9h1.3v1.3h-1.3zM175.5 303.2h1.3v1.3h-1.3zM171.5 299.1h1.3v1.3h-1.3zM194.7 303.0h1.3v1.3h-1.3zM197.0 298.4h1.3v1.3h-1.3zM143.3 308.7h1.3v1.3h-1.3zM152.1 302.9h1.3v1.3h-1.3zM165.3 301.7h1.3v1.3h-1.3zM166.0 297.5h1.3v1.3h-1.3zM151.4 303.3h1.3v1.3h-1.3zM159.5 310.0h1.3v1.3h-1.3zM172.8 308.6h1.3v1.3h-1.3zM163.4 305.9h1.3v1.3h-1.3zM161.4 298.2h1.3v1.3h-1.3zM167.3 301.5h1.3v1.3h-1.3zM215.0 296.4h1.3v1.3h-1.3zM160.3 305.5h1.3v1.3h-1.3zM168.5 303.0h1.3v1.3h-1.3zM184.3 301.7h1.3v1.3h-1.3zM159.2 296.3h1.3v1.3h-1.3zM170.1 304.7h1.3v1.3h-1.3zM174.7 307.5h1.3v1.3h-1.3zM164.2 303.5h1.3v1.3h-1.3zM157.1 293.7h1.3v1.3h-1.3zM180.9 300.2h1.3v1.3h-1.3zM181.9 299.5h1.3v1.3h-1.3zM145.1 298.2h1.3v1.3h-1.3zM166.0 299.2h1.3v1.3h-1.3zM166.3 304.7h1.3v1.3h-1.3zM170.7 304.4h1.3v1.3h-1.3zM168.4 299.2h1.3v1.3h-1.3zM154.4 292.4h1.3v1.3h-1.3zM180.8 307.1h1.3v1.3h-1.3zM154.2 298.0h1.3v1.3h-1.3zM156.5 303.7h1.3v1.3h-1.3zM172.5 301.2h1.3v1.3h-1.3zM170.0 294.8h1.3v1.3h-1.3zM168.7 301.4h1.3v1.3h-1.3zM179.0 299.0h1.3v1.3h-1.3zM161.9 303.1h1.3v1.3h-1.3zM215.9 299.5h1.3v1.3h-1.3zM205.1 298.1h1.3v1.3h-1.3zM171.8 298.1h1.3v1.3h-1.3zM193.9 302.8h1.3v1.3h-1.3zM174.3 306.8h1.3v1.3h-1.3zM192.9 299.3h1.3v1.3h-1.3zM175.2 300.1h1.3v1.3h-1.3zM190.6 292.9h1.3v1.3h-1.3zM207.8 301.3h1.3v1.3h-1.3zM156.9 302.4h1.3v1.3h-1.3zM173.2 307.0h1.3v1.3h-1.3zM140.3 304.0h1.3v1.3h-1.3zM190.6 296.5h1.3v1.3h-1.3zM183.7 305.9h1.3v1.3h-1.3zM162.0 293.7h1.3v1.3h-1.3zM173.7 300.2h1.3v1.3h-1.3zM197.5 301.2h1.3v1.3h-1.3zM183.0 303.9h1.3v1.3h-1.3zM174.4 296.8h1.3v1.3h-1.3zM158.9 302.8h1.3v1.3h-1.3zM169.8 301.8h1.3v1.3h-1.3zM184.1 302.5h1.3v1.3h-1.3zM183.2 302.7h1.3v1.3h-1.3zM177.5 300.0h1.3v1.3h-1.3zM145.9 306.1h1.3v1.3h-1.3zM185.7 305.2h1.3v1.3h-1.3zM157.6 307.2h1.3v1.3h-1.3zM172.8 303.1h1.3v1.3h-1.3zM159.9 300.1h1.3v1.3h-1.3zM160.5 303.9h1.3v1.3h-1.3zM159.6 302.2h1.3v1.3h-1.3zM161.9 296.6h1.3v1.3h-1.3zM172.1 302.9h1.3v1.3h-1.3zM172.4 289.1h1.3v1.3h-1.3zM188.6 302.3h1.3v1.3h-1.3zM155.0 310.8h1.3v1.3h-1.3zM171.6 305.6h1.3v1.3h-1.3zM173.3 292.0h1.3v1.3h-1.3zM191.3 297.2h1.3v1.3h-1.3zM189.4 301.7h1.3v1.3h-1.3zM156.7 291.4h1.3v1.3h-1.3zM163.2 297.8h1.3v1.3h-1.3zM171.7 297.4h1.3v1.3h-1.3zM183.2 299.9h1.3v1.3h-1.3zM163.5 311.1h1.3v1.3h-1.3zM184.3 299.4h1.3v1.3h-1.3zM177.3 295.1h1.3v1.3h-1.3zM158.5 301.5h1.3v1.3h-1.3zM158.6 297.8h1.3v1.3h-1.3zM181.8 299.6h1.3v1.3h-1.3zM157.5 299.6h1.3v1.3h-1.3zM160.0 305.8h1.3v1.3h-1.3zM175.9 295.6h1.3v1.3h-1.3zM193.4 307.1h1.3v1.3h-1.3zM166.2 297.9h1.3v1.3h-1.3zM171.4 299.7h1.3v1.3h-1.3zM179.6 302.1h1.3v1.3h-1.3zM192.2 295.1h1.3v1.3h-1.3zM160.7 303.5h1.3v1.3h-1.3zM162.7 300.4h1.3v1.3h-1.3zM151.7 310.7h1.3v1.3h-1.3zM167.9 305.3h1.3v1.3h-1.3zM158.0 300.2h1.3v1.3h-1.3zM169.7 309.5h1.3v1.3h-1.3zM193.8 311.4h1.3v1.3h-1.3zM196.3 308.8h1.3v1.3h-1.3zM167.4 299.2h1.3v1.3h-1.3zM192.8 299.1h1.3v1.3h-1.3zM179.9 299.5h1.3v1.3h-1.3zM153.5 302.5h1.3v1.3h-1.3zM156.1 300.9h1.3v1.3h-1.3zM185.5 301.4h1.3v1.3h-1.3zM187.6 300.3h1.3v1.3h-1.3zM176.7 297.8h1.3v1.3h-1.3zM207.1 267.2h1.3v1.3h-1.3zM192.9 290.1h1.3v1.3h-1.3zM153.3 270.7h1.3v1.3h-1.3zM168.1 284.4h1.3v1.3h-1.3zM185.4 282.1h1.3v1.3h-1.3zM197.4 305.2h1.3v1.3h-1.3zM175.1 288.3h1.3v1.3h-1.3zM189.6 294.7h1.3v1.3h-1.3zM159.9 270.9h1.3v1.3h-1.3zM174.2 275.6h1.3v1.3h-1.3zM192.3 280.9h1.3v1.3h-1.3zM161.4 278.5h1.3v1.3h-1.3zM166.8 278.3h1.3v1.3h-1.3zM186.2 278.1h1.3v1.3h-1.3zM205.6 304.9h1.3v1.3h-1.3zM195.7 271.4h1.3v1.3h-1.3zM208.5 303.5h1.3v1.3h-1.3zM186.3 288.4h1.3v1.3h-1.3zM203.9 286.8h1.3v1.3h-1.3zM206.1 289.9h1.3v1.3h-1.3zM180.5 280.7h1.3v1.3h-1.3zM185.4 279.0h1.3v1.3h-1.3zM206.8 287.9h1.3v1.3h-1.3zM186.2 292.2h1.3v1.3h-1.3zM189.9 294.2h1.3v1.3h-1.3zM211.0 286.6h1.3v1.3h-1.3zM180.8 274.7h1.3v1.3h-1.3zM213.1 288.4h1.3v1.3h-1.3zM180.7 284.2h1.3v1.3h-1.3zM173.4 296.8h1.3v1.3h-1.3zM193.1 281.8h1.3v1.3h-1.3zM168.7 303.6h1.3v1.3h-1.3zM190.5 265.4h1.3v1.3h-1.3zM181.0 284.8h1.3v1.3h-1.3zM190.9 275.4h1.3v1.3h-1.3zM204.6 290.2h1.3v1.3h-1.3zM189.4 279.2h1.3v1.3h-1.3zM164.5 281.0h1.3v1.3h-1.3zM186.0 274.6h1.3v1.3h-1.3zM192.8 292.0h1.3v1.3h-1.3zM182.3 281.4h1.3v1.3h-1.3zM188.5 299.6h1.3v1.3h-1.3zM208.3 270.4h1.3v1.3h-1.3zM182.0 307.5h1.3v1.3h-1.3zM184.3 300.4h1.3v1.3h-1.3zM195.7 296.1h1.3v1.3h-1.3zM183.9 285.8h1.3v1.3h-1.3zM196.3 284.9h1.3v1.3h-1.3zM188.1 297.6h1.3v1.3h-1.3zM186.6 296.7h1.3v1.3h-1.3zM180.7 282.3h1.3v1.3h-1.3zM198.8 289.6h1.3v1.3h-1.3zM202.2 285.4h1.3v1.3h-1.3zM188.5 280.9h1.3v1.3h-1.3zM167.3 281.4h1.3v1.3h-1.3zM203.1 284.5h1.3v1.3h-1.3zM191.7 296.0h1.3v1.3h-1.3zM176.4 288.2h1.3v1.3h-1.3zM181.3 295.0h1.3v1.3h-1.3zM168.9 282.0h1.3v1.3h-1.3zM182.0 282.1h1.3v1.3h-1.3zM181.3 301.5h1.3v1.3h-1.3zM186.0 283.8h1.3v1.3h-1.3zM169.3 273.5h1.3v1.3h-1.3zM178.6 274.4h1.3v1.3h-1.3zM195.9 280.0h1.3v1.3h-1.3zM182.8 283.9h1.3v1.3h-1.3zM176.5 274.0h1.3v1.3h-1.3zM179.7 286.9h1.3v1.3h-1.3zM187.5 277.6h1.3v1.3h-1.3z" fill="#d9691e"/>
<rect x="52.6" y="262.8" width="171.30" height="123.60" fill="none" stroke="#8c8c8c" stroke-width="0.7"/>
<line x1="52.6" y1="368.3" x2="54.6" y2="368.3" stroke="#8c8c8c" stroke-width="0.7"/>
<line x1="223.9" y1="368.3" x2="221.9" y2="368.3" stroke="#8c8c8c" stroke-width="0.7"/>
<text x="48.6" y="372.60" text-anchor="end" font-size="12" font-family="Liberation Sans, sans-serif" fill="#262626">30</text>
<line x1="52.6" y1="338.3" x2="54.6" y2="338.3" stroke="#8c8c8c" stroke-width="0.7"/>
<line x1="223.9" y1="338.3" x2="221.9" y2="338.3" stroke="#8c8c8c" stroke-width="0.7"/>
<text x="48.6" y="342.60" text-anchor="end" font-size="12" font-family="Liberation Sans, sans-serif" fill="#262626">40</text>
<line x1="52.6" y1="308.4" x2="54.6" y2="308.4" stroke="#8c8c8c" stroke-width="0.7"/>
<line x1="223.9" y1="308.4" x2="221.9" y2="308.4" stroke="#8c8c8c" stroke-width="0.7"/>
<text x="48.6" y="312.70" text-anchor="end" font-size="12" font-family="Liberation Sans, sans-serif" fill="#262626">50</text>
<line x1="52.6" y1="278.3" x2="54.6" y2="278.3" stroke="#8c8c8c" stroke-width="0.7"/>
<line x1="223.9" y1="278.3" x2="221.9" y2="278.3" stroke="#8c8c8c" stroke-width="0.7"/>
<text x="48.6" y="282.60" text-anchor="end" font-size="12" font-family="Liberation Sans, sans-serif" fill="#262626">60</text>
<line x1="60.2" y1="386.4" x2="60.2" y2="384.4" stroke="#8c8c8c" stroke-width="0.7"/>
<line x1="60.2" y1="262.8" x2="60.2" y2="264.8" stroke="#8c8c8c" stroke-width="0.7"/>
<text x="60.2" y="402.3" text-anchor="middle" font-size="12" font-family="Liberation Sans, sans-serif" fill="#262626">0</text>
<line x1="141.4" y1="386.4" x2="141.4" y2="384.4" stroke="#8c8c8c" stroke-width="0.7"/>
<line x1="141.4" y1="262.8" x2="141.4" y2="264.8" stroke="#8c8c8c" stroke-width="0.7"/>
<text x="141.4" y="402.3" text-anchor="middle" font-size="12" font-family="Liberation Sans, sans-serif" fill="#262626">500</text>
<line x1="222.5" y1="386.4" x2="222.5" y2="384.4" stroke="#8c8c8c" stroke-width="0.7"/>
<line x1="222.5" y1="262.8" x2="222.5" y2="264.8" stroke="#8c8c8c" stroke-width="0.7"/>
<text x="222.5" y="402.3" text-anchor="middle" font-size="12" font-family="Liberation Sans, sans-serif" fill="#262626">1000</text>
<text transform="translate(12.0,324.7) rotate(-90)" text-anchor="middle" font-size="13" font-family="Liberation Sans, sans-serif" fill="#262626" textLength="118" lengthAdjust="spacingAndGlyphs">Return Temperature</text>
<text transform="translate(27.8,324.1) rotate(-90)" text-anchor="middle" font-size="13" font-family="Liberation Sans, sans-serif" fill="#262626" textLength="26.8" lengthAdjust="spacingAndGlyphs">in °C</text>
<text x="85.3" y="417.6" text-anchor="start" font-size="13" font-family="Liberation Sans, sans-serif" fill="#262626" textLength="106.2" lengthAdjust="spacingAndGlyphs">Volume Flow in l/h</text>
<path d="M277.95 257.4V257.00H284.47V257.4M284.47 257.4V257.00H291.00V257.4M291.00 257.4V246.70H297.53V257.4M297.53 257.4V142.40H304.05V257.4M304.05 257.4V170.30H310.58V257.4M310.58 257.4V184.20H317.11V257.4M317.11 257.4V202.40H323.63V257.4M323.63 257.4V217.30H330.16V257.4M330.16 257.4V223.20H336.69V257.4M336.69 257.4V227.40H343.22V257.4M343.22 257.4V229.30H349.74V257.4M349.74 257.4V226.10H356.27V257.4M356.27 257.4V233.50H362.80V257.4M362.80 257.4V235.90H369.32V257.4M369.32 257.4V242.20H375.85V257.4M375.85 257.4V244.50H382.38V257.4M382.38 257.4V245.40H388.90V257.4M388.90 257.4V246.40H395.43V257.4M395.43 257.4V247.30H401.96V257.4M401.96 257.4V237.30H408.49V257.4M408.49 257.4V221.30H415.01V257.4M415.01 257.4V225.10H421.54V257.4M421.54 257.4V253.40H428.07V257.4M428.07 257.4V257.10H434.59V257.4" fill="#fff" stroke="#555555" stroke-width="0.75"/>
<rect x="270.2" y="134.6" width="172.40" height="122.80" fill="none" stroke="#8c8c8c" stroke-width="0.7"/>
<line x1="270.2" y1="257.4" x2="272.2" y2="257.4" stroke="#8c8c8c" stroke-width="0.7"/>
<line x1="442.6" y1="257.4" x2="440.6" y2="257.4" stroke="#8c8c8c" stroke-width="0.7"/>
<text x="265.9" y="261.70" text-anchor="end" font-size="12" font-family="Liberation Sans, sans-serif" fill="#262626">0</text>
<line x1="270.2" y1="221.3" x2="272.2" y2="221.3" stroke="#8c8c8c" stroke-width="0.7"/>
<line x1="442.6" y1="221.3" x2="440.6" y2="221.3" stroke="#8c8c8c" stroke-width="0.7"/>
<text x="265.9" y="225.60" text-anchor="end" font-size="12" font-family="Liberation Sans, sans-serif" fill="#262626">0.05</text>
<line x1="270.2" y1="185.2" x2="272.2" y2="185.2" stroke="#8c8c8c" stroke-width="0.7"/>
<line x1="442.6" y1="185.2" x2="440.6" y2="185.2" stroke="#8c8c8c" stroke-width="0.7"/>
<text x="265.9" y="189.50" text-anchor="end" font-size="12" font-family="Liberation Sans, sans-serif" fill="#262626">0.1</text>
<line x1="270.2" y1="149.1" x2="272.2" y2="149.1" stroke="#8c8c8c" stroke-width="0.7"/>
<line x1="442.6" y1="149.1" x2="440.6" y2="149.1" stroke="#8c8c8c" stroke-width="0.7"/>
<text x="265.9" y="153.40" text-anchor="end" font-size="12" font-family="Liberation Sans, sans-serif" fill="#262626">0.15</text>
<text transform="translate(237.6,196.0) rotate(-90)" text-anchor="middle" font-size="13" font-family="Liberation Sans, sans-serif" fill="#262626" textLength="59.6" lengthAdjust="spacingAndGlyphs">Probability</text>
<path d="M316.5 302.7h1.2v1.2h-1.2zM332.2 308.8h1.2v1.2h-1.2zM348.5 306.9h1.2v1.2h-1.2zM307.0 302.9h1.2v1.2h-1.2zM310.9 307.8h1.2v1.2h-1.2zM353.6 309.8h1.2v1.2h-1.2zM282.8 306.7h1.2v1.2h-1.2zM322.3 302.9h1.2v1.2h-1.2zM340.3 303.6h1.2v1.2h-1.2zM299.2 310.0h1.2v1.2h-1.2zM348.8 303.2h1.2v1.2h-1.2zM330.5 312.2h1.2v1.2h-1.2zM294.0 311.5h1.2v1.2h-1.2zM334.0 304.2h1.2v1.2h-1.2zM326.6 304.5h1.2v1.2h-1.2zM279.2 312.2h1.2v1.2h-1.2zM295.3 311.0h1.2v1.2h-1.2zM282.7 312.3h1.2v1.2h-1.2zM288.1 309.3h1.2v1.2h-1.2zM339.6 307.2h1.2v1.2h-1.2zM309.5 304.9h1.2v1.2h-1.2zM288.0 303.1h1.2v1.2h-1.2zM328.0 309.0h1.2v1.2h-1.2zM282.2 309.8h1.2v1.2h-1.2zM292.7 309.5h1.2v1.2h-1.2zM337.6 305.1h1.2v1.2h-1.2zM307.5 309.4h1.2v1.2h-1.2zM280.3 309.3h1.2v1.2h-1.2zM289.6 305.9h1.2v1.2h-1.2zM313.2 302.5h1.2v1.2h-1.2zM313.9 312.3h1.2v1.2h-1.2zM335.8 308.5h1.2v1.2h-1.2zM332.6 308.3h1.2v1.2h-1.2zM306.5 302.2h1.2v1.2h-1.2zM356.8 308.2h1.2v1.2h-1.2zM305.7 307.4h1.2v1.2h-1.2zM296.3 305.8h1.2v1.2h-1.2zM279.5 308.9h1.2v1.2h-1.2zM318.2 311.4h1.2v1.2h-1.2zM327.2 311.5h1.2v1.2h-1.2zM336.7 302.7h1.2v1.2h-1.2zM331.8 302.7h1.2v1.2h-1.2zM338.3 305.4h1.2v1.2h-1.2zM353.4 309.3h1.2v1.2h-1.2zM323.1 302.9h1.2v1.2h-1.2zM358.2 303.7h1.2v1.2h-1.2zM340.4 304.3h1.2v1.2h-1.2zM286.6 307.2h1.2v1.2h-1.2zM309.2 311.7h1.2v1.2h-1.2zM334.2 308.5h1.2v1.2h-1.2zM291.4 307.4h1.2v1.2h-1.2zM349.4 307.3h1.2v1.2h-1.2zM342.6 308.3h1.2v1.2h-1.2zM326.8 309.8h1.2v1.2h-1.2zM294.3 306.4h1.2v1.2h-1.2zM328.0 308.3h1.2v1.2h-1.2zM346.7 310.1h1.2v1.2h-1.2zM331.8 305.3h1.2v1.2h-1.2zM295.0 305.6h1.2v1.2h-1.2zM357.7 302.6h1.2v1.2h-1.2zM317.8 303.8h1.2v1.2h-1.2zM345.8 308.0h1.2v1.2h-1.2zM338.3 310.9h1.2v1.2h-1.2zM349.0 306.1h1.2v1.2h-1.2zM298.3 307.4h1.2v1.2h-1.2zM276.7 308.7h1.2v1.2h-1.2zM347.1 306.5h1.2v1.2h-1.2zM329.7 309.7h1.2v1.2h-1.2zM300.7 303.1h1.2v1.2h-1.2zM300.0 303.1h1.2v1.2h-1.2zM316.2 312.0h1.2v1.2h-1.2zM353.2 308.6h1.2v1.2h-1.2zM289.0 301.6h1.2v1.2h-1.2zM353.9 307.1h1.2v1.2h-1.2zM306.2 310.9h1.2v1.2h-1.2zM346.7 311.0h1.2v1.2h-1.2zM296.8 311.9h1.2v1.2h-1.2zM332.1 306.4h1.2v1.2h-1.2zM325.8 302.5h1.2v1.2h-1.2zM348.6 311.2h1.2v1.2h-1.2zM358.1 312.1h1.2v1.2h-1.2zM331.0 302.6h1.2v1.2h-1.2zM340.6 304.4h1.2v1.2h-1.2zM302.0 304.8h1.2v1.2h-1.2zM291.8 305.1h1.2v1.2h-1.2zM331.3 310.9h1.2v1.2h-1.2zM288.0 305.1h1.2v1.2h-1.2zM294.0 301.8h1.2v1.2h-1.2zM325.9 309.7h1.2v1.2h-1.2zM282.1 307.0h1.2v1.2h-1.2zM356.6 315.1h1.2v1.2h-1.2zM351.4 324.4h1.2v1.2h-1.2zM329.9 326.9h1.2v1.2h-1.2zM336.6 316.8h1.2v1.2h-1.2zM395.1 300.1h1.2v1.2h-1.2zM305.2 308.7h1.2v1.2h-1.2zM320.9 319.2h1.2v1.2h-1.2zM325.2 337.6h1.2v1.2h-1.2zM318.9 308.1h1.2v1.2h-1.2zM330.3 313.8h1.2v1.2h-1.2zM319.4 325.7h1.2v1.2h-1.2zM336.7 327.5h1.2v1.2h-1.2zM306.9 323.0h1.2v1.2h-1.2zM330.2 312.1h1.2v1.2h-1.2zM295.9 316.9h1.2v1.2h-1.2zM304.8 323.9h1.2v1.2h-1.2zM339.7 321.8h1.2v1.2h-1.2zM390.0 328.8h1.2v1.2h-1.2zM286.1 322.8h1.2v1.2h-1.2zM334.3 319.4h1.2v1.2h-1.2zM319.0 325.7h1.2v1.2h-1.2zM343.0 319.2h1.2v1.2h-1.2zM349.5 314.2h1.2v1.2h-1.2zM318.1 324.4h1.2v1.2h-1.2zM333.2 302.2h1.2v1.2h-1.2zM350.1 307.9h1.2v1.2h-1.2zM348.8 319.2h1.2v1.2h-1.2zM342.2 326.5h1.2v1.2h-1.2zM307.7 323.3h1.2v1.2h-1.2zM328.4 315.2h1.2v1.2h-1.2zM329.8 313.0h1.2v1.2h-1.2zM330.5 319.7h1.2v1.2h-1.2zM315.8 327.2h1.2v1.2h-1.2zM331.7 307.7h1.2v1.2h-1.2zM339.5 322.1h1.2v1.2h-1.2zM298.6 320.1h1.2v1.2h-1.2zM321.4 319.8h1.2v1.2h-1.2zM325.9 320.9h1.2v1.2h-1.2zM333.6 297.3h1.2v1.2h-1.2zM331.3 322.4h1.2v1.2h-1.2zM345.2 328.5h1.2v1.2h-1.2zM337.0 329.1h1.2v1.2h-1.2zM348.2 313.3h1.2v1.2h-1.2zM314.6 328.8h1.2v1.2h-1.2zM344.9 302.0h1.2v1.2h-1.2zM306.8 327.8h1.2v1.2h-1.2zM333.1 302.2h1.2v1.2h-1.2zM339.2 326.3h1.2v1.2h-1.2zM343.8 317.1h1.2v1.2h-1.2zM325.3 312.8h1.2v1.2h-1.2zM318.4 319.9h1.2v1.2h-1.2zM384.3 340.5h1.2v1.2h-1.2zM326.0 304.3h1.2v1.2h-1.2zM327.6 315.0h1.2v1.2h-1.2zM324.2 302.7h1.2v1.2h-1.2zM328.0 311.7h1.2v1.2h-1.2zM330.6 303.7h1.2v1.2h-1.2zM330.3 306.7h1.2v1.2h-1.2zM311.5 311.7h1.2v1.2h-1.2zM398.0 345.1h1.2v1.2h-1.2zM316.9 339.6h1.2v1.2h-1.2zM275.0 307.2h1.2v1.2h-1.2zM371.2 308.7h1.2v1.2h-1.2zM372.5 344.6h1.2v1.2h-1.2zM388.1 335.9h1.2v1.2h-1.2zM338.9 335.8h1.2v1.2h-1.2zM380.4 315.9h1.2v1.2h-1.2zM313.0 344.1h1.2v1.2h-1.2zM278.8 304.4h1.2v1.2h-1.2zM300.9 296.2h1.2v1.2h-1.2zM382.9 346.0h1.2v1.2h-1.2zM367.5 300.8h1.2v1.2h-1.2zM290.9 295.2h1.2v1.2h-1.2zM315.3 339.3h1.2v1.2h-1.2zM331.9 320.5h1.2v1.2h-1.2z" fill="#c8c8c8"/>
<path d="M292.0 365.5L293.5 364.0L295.0 362.5L296.5 361.0L298.0 359.6L299.5 358.2L301.0 356.8L302.5 355.4L304.0 354.0L305.5 352.8L307.0 351.6L308.5 350.3L310.0 349.1L311.5 347.9L313.0 346.5L314.5 345.0L316.0 343.5L317.5 342.1L319.0 340.9L320.5 339.8L322.0 338.6L323.5 337.5L325.0 336.5L326.5 335.4L328.0 334.3L329.5 333.3L331.0 332.2L332.5 331.1L334.0 330.1L335.5 329.0L337.0 328.2L338.5 327.4L340.0 326.5L341.5 325.7L341.5 343.2L340.0 344.6L338.5 345.8L337.0 346.8L335.5 347.8L334.0 348.8L332.5 349.8L331.0 350.7L329.5 351.7L328.0 352.6L326.5 353.5L325.0 354.4L323.5 355.3L322.0 356.3L320.5 357.2L319.0 358.0L317.5 358.8L316.0 359.6L314.5 360.4L313.0 361.2L311.5 362.1L310.0 362.9L308.5 363.7L307.0 364.5L305.5 365.2L304.0 366.0L302.5 366.7L301.0 367.4L299.5 368.1L298.0 368.9L296.5 369.6L295.0 370.3L293.5 371.0L292.0 371.8Z" fill="#083d64"/>
<path d="M345.1 329.6h1.3v1.3h-1.3zM342.6 335.9h1.3v1.3h-1.3zM319.7 352.8h1.3v1.3h-1.3zM300.1 366.5h1.3v1.3h-1.3zM346.8 325.8h1.3v1.3h-1.3zM344.9 326.8h1.3v1.3h-1.3zM301.6 358.4h1.3v1.3h-1.3zM321.7 337.7h1.3v1.3h-1.3zM302.0 360.4h1.3v1.3h-1.3zM290.9 367.0h1.3v1.3h-1.3zM320.2 352.1h1.3v1.3h-1.3zM303.2 360.2h1.3v1.3h-1.3zM312.8 359.9h1.3v1.3h-1.3zM352.3 320.6h1.3v1.3h-1.3zM323.0 341.1h1.3v1.3h-1.3zM292.5 368.0h1.3v1.3h-1.3zM399.5 287.6h1.3v1.3h-1.3zM330.0 335.2h1.3v1.3h-1.3zM306.1 356.6h1.3v1.3h-1.3zM312.6 356.8h1.3v1.3h-1.3zM351.1 322.4h1.3v1.3h-1.3zM379.2 310.1h1.3v1.3h-1.3zM323.1 336.3h1.3v1.3h-1.3zM324.0 347.4h1.3v1.3h-1.3zM318.3 359.0h1.3v1.3h-1.3zM305.5 356.3h1.3v1.3h-1.3zM314.4 347.6h1.3v1.3h-1.3zM365.4 314.5h1.3v1.3h-1.3zM294.4 367.3h1.3v1.3h-1.3zM377.1 300.3h1.3v1.3h-1.3zM328.3 346.3h1.3v1.3h-1.3zM389.2 302.9h1.3v1.3h-1.3zM322.9 346.1h1.3v1.3h-1.3zM350.9 328.7h1.3v1.3h-1.3zM323.1 340.1h1.3v1.3h-1.3zM293.2 365.3h1.3v1.3h-1.3zM397.1 285.7h1.3v1.3h-1.3zM321.8 335.0h1.3v1.3h-1.3zM329.5 345.1h1.3v1.3h-1.3zM327.4 353.5h1.3v1.3h-1.3zM321.9 348.9h1.3v1.3h-1.3zM308.4 362.3h1.3v1.3h-1.3zM369.8 309.9h1.3v1.3h-1.3zM346.2 327.3h1.3v1.3h-1.3zM290.8 371.2h1.3v1.3h-1.3zM319.5 346.6h1.3v1.3h-1.3zM290.9 367.4h1.3v1.3h-1.3zM359.7 321.8h1.3v1.3h-1.3zM358.0 322.9h1.3v1.3h-1.3zM336.5 335.2h1.3v1.3h-1.3zM402.4 282.7h1.3v1.3h-1.3zM312.9 359.5h1.3v1.3h-1.3zM329.3 341.2h1.3v1.3h-1.3zM345.8 336.0h1.3v1.3h-1.3zM304.6 352.9h1.3v1.3h-1.3zM319.1 356.4h1.3v1.3h-1.3zM329.1 332.6h1.3v1.3h-1.3zM325.3 333.8h1.3v1.3h-1.3zM292.9 369.6h1.3v1.3h-1.3zM393.2 293.2h1.3v1.3h-1.3zM322.2 334.7h1.3v1.3h-1.3zM291.2 372.8h1.3v1.3h-1.3zM302.8 358.3h1.3v1.3h-1.3zM361.3 311.3h1.3v1.3h-1.3zM302.3 365.2h1.3v1.3h-1.3zM339.1 332.7h1.3v1.3h-1.3zM338.7 344.0h1.3v1.3h-1.3zM386.5 293.2h1.3v1.3h-1.3zM381.2 303.1h1.3v1.3h-1.3zM332.6 342.9h1.3v1.3h-1.3zM336.2 335.3h1.3v1.3h-1.3zM305.3 353.9h1.3v1.3h-1.3zM377.5 297.9h1.3v1.3h-1.3zM298.9 366.2h1.3v1.3h-1.3zM379.0 297.5h1.3v1.3h-1.3zM307.2 349.3h1.3v1.3h-1.3zM373.4 307.5h1.3v1.3h-1.3zM314.8 351.0h1.3v1.3h-1.3zM340.7 324.4h1.3v1.3h-1.3zM335.8 321.7h1.3v1.3h-1.3zM397.2 287.6h1.3v1.3h-1.3zM303.2 363.4h1.3v1.3h-1.3zM305.0 364.5h1.3v1.3h-1.3zM332.6 334.9h1.3v1.3h-1.3zM294.9 362.5h1.3v1.3h-1.3zM298.6 361.0h1.3v1.3h-1.3zM346.1 319.7h1.3v1.3h-1.3zM337.9 330.5h1.3v1.3h-1.3zM369.0 309.4h1.3v1.3h-1.3zM353.9 322.5h1.3v1.3h-1.3zM396.0 294.1h1.3v1.3h-1.3zM290.1 366.1h1.3v1.3h-1.3zM339.7 337.0h1.3v1.3h-1.3zM366.7 314.6h1.3v1.3h-1.3zM296.4 364.8h1.3v1.3h-1.3zM373.2 303.1h1.3v1.3h-1.3zM320.7 343.3h1.3v1.3h-1.3zM346.0 339.0h1.3v1.3h-1.3zM310.1 347.9h1.3v1.3h-1.3zM295.1 370.6h1.3v1.3h-1.3zM313.0 352.6h1.3v1.3h-1.3zM380.1 304.9h1.3v1.3h-1.3zM327.9 349.0h1.3v1.3h-1.3zM395.3 280.4h1.3v1.3h-1.3zM307.4 357.2h1.3v1.3h-1.3zM341.4 331.4h1.3v1.3h-1.3zM364.8 315.8h1.3v1.3h-1.3zM381.9 296.2h1.3v1.3h-1.3zM386.9 296.4h1.3v1.3h-1.3zM308.9 358.7h1.3v1.3h-1.3zM400.4 284.7h1.3v1.3h-1.3zM383.7 291.6h1.3v1.3h-1.3zM377.2 307.2h1.3v1.3h-1.3zM300.7 368.1h1.3v1.3h-1.3zM332.6 336.3h1.3v1.3h-1.3zM302.7 359.7h1.3v1.3h-1.3zM289.9 363.6h1.3v1.3h-1.3zM348.5 324.8h1.3v1.3h-1.3zM338.6 326.1h1.3v1.3h-1.3zM329.8 349.5h1.3v1.3h-1.3zM334.4 346.8h1.3v1.3h-1.3zM317.2 349.1h1.3v1.3h-1.3zM390.8 297.5h1.3v1.3h-1.3zM362.9 318.7h1.3v1.3h-1.3zM360.1 318.4h1.3v1.3h-1.3zM339.2 324.8h1.3v1.3h-1.3zM290.6 370.3h1.3v1.3h-1.3zM314.0 349.4h1.3v1.3h-1.3zM363.9 317.4h1.3v1.3h-1.3zM295.0 369.9h1.3v1.3h-1.3zM354.1 321.4h1.3v1.3h-1.3zM386.1 296.3h1.3v1.3h-1.3zM289.8 373.4h1.3v1.3h-1.3zM351.3 322.5h1.3v1.3h-1.3zM352.4 323.2h1.3v1.3h-1.3zM290.7 369.3h1.3v1.3h-1.3zM332.2 337.4h1.3v1.3h-1.3zM300.5 363.3h1.3v1.3h-1.3zM391.9 288.9h1.3v1.3h-1.3zM326.3 343.4h1.3v1.3h-1.3zM328.0 344.3h1.3v1.3h-1.3zM313.0 344.7h1.3v1.3h-1.3zM403.6 274.7h1.3v1.3h-1.3zM291.4 365.7h1.3v1.3h-1.3zM400.7 277.2h1.3v1.3h-1.3zM319.5 345.4h1.3v1.3h-1.3zM324.1 346.3h1.3v1.3h-1.3zM321.7 349.5h1.3v1.3h-1.3zM297.9 369.5h1.3v1.3h-1.3zM396.0 294.2h1.3v1.3h-1.3zM367.1 315.4h1.3v1.3h-1.3zM298.6 361.2h1.3v1.3h-1.3zM336.7 341.8h1.3v1.3h-1.3zM319.4 355.0h1.3v1.3h-1.3zM298.2 362.7h1.3v1.3h-1.3zM302.6 364.9h1.3v1.3h-1.3zM374.2 311.2h1.3v1.3h-1.3zM293.9 371.5h1.3v1.3h-1.3zM319.7 343.0h1.3v1.3h-1.3zM298.5 359.4h1.3v1.3h-1.3zM370.1 308.2h1.3v1.3h-1.3zM312.6 350.6h1.3v1.3h-1.3zM391.3 287.6h1.3v1.3h-1.3zM389.2 291.4h1.3v1.3h-1.3zM296.5 363.7h1.3v1.3h-1.3zM304.9 349.7h1.3v1.3h-1.3zM323.9 339.1h1.3v1.3h-1.3zM310.0 347.7h1.3v1.3h-1.3zM291.6 366.0h1.3v1.3h-1.3zM325.5 345.9h1.3v1.3h-1.3zM293.1 371.4h1.3v1.3h-1.3zM337.4 329.2h1.3v1.3h-1.3zM346.8 322.4h1.3v1.3h-1.3zM365.3 316.0h1.3v1.3h-1.3zM317.0 345.4h1.3v1.3h-1.3zM298.2 359.4h1.3v1.3h-1.3zM371.1 314.2h1.3v1.3h-1.3zM390.6 295.7h1.3v1.3h-1.3zM362.6 316.7h1.3v1.3h-1.3zM330.2 344.4h1.3v1.3h-1.3zM370.8 312.1h1.3v1.3h-1.3zM291.7 371.5h1.3v1.3h-1.3zM373.5 313.2h1.3v1.3h-1.3zM289.8 370.9h1.3v1.3h-1.3zM300.7 358.8h1.3v1.3h-1.3zM316.0 340.5h1.3v1.3h-1.3zM381.2 299.7h1.3v1.3h-1.3zM337.4 339.8h1.3v1.3h-1.3zM302.0 366.3h1.3v1.3h-1.3zM320.0 356.2h1.3v1.3h-1.3zM298.0 358.7h1.3v1.3h-1.3zM315.8 359.1h1.3v1.3h-1.3zM302.1 360.1h1.3v1.3h-1.3zM292.1 365.5h1.3v1.3h-1.3zM359.6 322.0h1.3v1.3h-1.3zM377.3 304.3h1.3v1.3h-1.3zM291.8 368.3h1.3v1.3h-1.3zM314.7 346.6h1.3v1.3h-1.3zM314.2 350.6h1.3v1.3h-1.3zM306.1 355.5h1.3v1.3h-1.3zM301.5 363.2h1.3v1.3h-1.3zM362.6 311.2h1.3v1.3h-1.3zM305.8 362.6h1.3v1.3h-1.3zM371.1 304.6h1.3v1.3h-1.3zM342.5 326.1h1.3v1.3h-1.3zM305.8 354.7h1.3v1.3h-1.3zM395.2 279.4h1.3v1.3h-1.3zM357.4 316.3h1.3v1.3h-1.3zM305.9 359.1h1.3v1.3h-1.3zM308.4 355.2h1.3v1.3h-1.3zM356.4 319.6h1.3v1.3h-1.3zM393.6 281.8h1.3v1.3h-1.3zM369.3 303.5h1.3v1.3h-1.3zM349.8 323.1h1.3v1.3h-1.3zM359.8 311.7h1.3v1.3h-1.3zM308.1 364.5h1.3v1.3h-1.3zM306.1 349.2h1.3v1.3h-1.3zM290.2 363.9h1.3v1.3h-1.3zM363.4 314.2h1.3v1.3h-1.3zM367.8 306.7h1.3v1.3h-1.3zM330.4 340.3h1.3v1.3h-1.3zM315.5 358.9h1.3v1.3h-1.3zM349.6 322.9h1.3v1.3h-1.3zM363.9 316.9h1.3v1.3h-1.3zM317.2 357.3h1.3v1.3h-1.3zM375.8 302.8h1.3v1.3h-1.3zM353.0 324.5h1.3v1.3h-1.3zM392.1 294.8h1.3v1.3h-1.3zM406.1 274.4h1.3v1.3h-1.3zM305.2 362.1h1.3v1.3h-1.3zM321.5 349.9h1.3v1.3h-1.3zM372.4 313.4h1.3v1.3h-1.3zM355.4 314.1h1.3v1.3h-1.3zM298.8 359.7h1.3v1.3h-1.3zM332.9 347.4h1.3v1.3h-1.3zM330.8 330.6h1.3v1.3h-1.3zM303.2 364.0h1.3v1.3h-1.3zM329.4 332.2h1.3v1.3h-1.3zM354.0 317.0h1.3v1.3h-1.3zM357.4 322.2h1.3v1.3h-1.3zM400.7 284.7h1.3v1.3h-1.3zM320.8 353.8h1.3v1.3h-1.3zM352.4 330.9h1.3v1.3h-1.3zM342.7 331.4h1.3v1.3h-1.3zM311.1 350.0h1.3v1.3h-1.3zM360.9 313.8h1.3v1.3h-1.3zM305.9 354.5h1.3v1.3h-1.3zM307.9 349.9h1.3v1.3h-1.3zM320.7 350.1h1.3v1.3h-1.3zM301.1 363.5h1.3v1.3h-1.3zM321.7 351.1h1.3v1.3h-1.3zM331.0 348.5h1.3v1.3h-1.3zM292.9 370.4h1.3v1.3h-1.3zM369.3 311.7h1.3v1.3h-1.3zM310.2 354.6h1.3v1.3h-1.3zM347.4 328.2h1.3v1.3h-1.3zM294.8 360.4h1.3v1.3h-1.3zM317.2 347.1h1.3v1.3h-1.3zM298.5 366.0h1.3v1.3h-1.3zM384.3 294.3h1.3v1.3h-1.3zM393.1 286.4h1.3v1.3h-1.3zM308.2 359.3h1.3v1.3h-1.3zM300.7 365.0h1.3v1.3h-1.3zM304.0 359.3h1.3v1.3h-1.3zM321.0 345.4h1.3v1.3h-1.3zM338.8 326.2h1.3v1.3h-1.3zM393.5 290.2h1.3v1.3h-1.3zM290.3 371.1h1.3v1.3h-1.3zM309.4 361.5h1.3v1.3h-1.3zM362.5 314.7h1.3v1.3h-1.3zM307.1 360.5h1.3v1.3h-1.3zM307.2 364.0h1.3v1.3h-1.3zM356.9 316.8h1.3v1.3h-1.3zM375.1 302.4h1.3v1.3h-1.3zM403.8 281.1h1.3v1.3h-1.3zM350.0 324.1h1.3v1.3h-1.3zM336.4 347.8h1.3v1.3h-1.3zM304.1 366.0h1.3v1.3h-1.3zM305.5 358.5h1.3v1.3h-1.3zM321.6 346.0h1.3v1.3h-1.3zM347.2 331.9h1.3v1.3h-1.3zM398.0 276.1h1.3v1.3h-1.3zM402.0 282.1h1.3v1.3h-1.3zM369.0 308.1h1.3v1.3h-1.3zM309.0 355.1h1.3v1.3h-1.3zM393.0 296.8h1.3v1.3h-1.3zM363.6 318.0h1.3v1.3h-1.3zM347.4 328.1h1.3v1.3h-1.3zM331.2 333.9h1.3v1.3h-1.3zM340.3 329.0h1.3v1.3h-1.3zM336.4 330.6h1.3v1.3h-1.3zM356.4 323.0h1.3v1.3h-1.3zM335.8 334.2h1.3v1.3h-1.3zM313.9 355.2h1.3v1.3h-1.3zM382.7 295.6h1.3v1.3h-1.3zM292.2 370.1h1.3v1.3h-1.3zM323.5 343.8h1.3v1.3h-1.3zM291.7 372.5h1.3v1.3h-1.3zM328.1 333.8h1.3v1.3h-1.3zM389.6 297.0h1.3v1.3h-1.3zM296.1 367.2h1.3v1.3h-1.3zM305.8 360.6h1.3v1.3h-1.3zM308.6 351.9h1.3v1.3h-1.3zM305.0 360.4h1.3v1.3h-1.3zM352.6 316.6h1.3v1.3h-1.3zM292.9 359.9h1.3v1.3h-1.3zM325.2 342.9h1.3v1.3h-1.3zM347.4 333.4h1.3v1.3h-1.3zM323.3 337.4h1.3v1.3h-1.3zM393.3 284.1h1.3v1.3h-1.3zM336.0 340.8h1.3v1.3h-1.3zM303.7 362.6h1.3v1.3h-1.3zM315.5 350.0h1.3v1.3h-1.3zM385.9 291.4h1.3v1.3h-1.3zM327.3 352.2h1.3v1.3h-1.3zM295.5 356.9h1.3v1.3h-1.3zM315.8 352.8h1.3v1.3h-1.3zM371.5 304.2h1.3v1.3h-1.3zM317.4 356.1h1.3v1.3h-1.3zM322.6 348.6h1.3v1.3h-1.3zM354.8 323.8h1.3v1.3h-1.3zM383.8 293.0h1.3v1.3h-1.3zM367.6 314.6h1.3v1.3h-1.3zM309.5 348.4h1.3v1.3h-1.3zM291.1 368.3h1.3v1.3h-1.3zM374.4 307.8h1.3v1.3h-1.3zM364.9 309.4h1.3v1.3h-1.3zM401.9 278.4h1.3v1.3h-1.3zM314.8 350.3h1.3v1.3h-1.3zM339.5 340.7h1.3v1.3h-1.3zM370.2 307.7h1.3v1.3h-1.3zM291.2 371.1h1.3v1.3h-1.3zM334.4 342.8h1.3v1.3h-1.3zM337.1 339.2h1.3v1.3h-1.3zM389.3 295.6h1.3v1.3h-1.3zM345.0 330.4h1.3v1.3h-1.3zM368.9 308.3h1.3v1.3h-1.3zM347.9 320.3h1.3v1.3h-1.3zM331.3 332.1h1.3v1.3h-1.3zM319.1 353.6h1.3v1.3h-1.3zM298.6 357.3h1.3v1.3h-1.3zM292.6 371.4h1.3v1.3h-1.3zM322.3 342.8h1.3v1.3h-1.3zM295.0 367.7h1.3v1.3h-1.3zM307.9 364.6h1.3v1.3h-1.3zM321.2 355.3h1.3v1.3h-1.3zM327.3 345.9h1.3v1.3h-1.3zM339.3 345.3h1.3v1.3h-1.3zM339.4 326.0h1.3v1.3h-1.3zM314.4 345.4h1.3v1.3h-1.3zM366.0 315.7h1.3v1.3h-1.3zM383.1 301.6h1.3v1.3h-1.3zM329.3 333.6h1.3v1.3h-1.3zM362.8 309.2h1.3v1.3h-1.3zM331.5 337.2h1.3v1.3h-1.3zM294.0 367.5h1.3v1.3h-1.3zM327.4 352.8h1.3v1.3h-1.3zM399.8 279.3h1.3v1.3h-1.3zM398.0 276.7h1.3v1.3h-1.3zM296.3 362.1h1.3v1.3h-1.3zM379.8 298.2h1.3v1.3h-1.3zM304.2 354.1h1.3v1.3h-1.3zM391.3 287.5h1.3v1.3h-1.3zM389.5 298.0h1.3v1.3h-1.3zM307.8 350.6h1.3v1.3h-1.3zM339.2 335.2h1.3v1.3h-1.3zM376.0 310.0h1.3v1.3h-1.3zM364.9 316.3h1.3v1.3h-1.3zM303.0 354.7h1.3v1.3h-1.3zM375.2 305.5h1.3v1.3h-1.3zM384.1 295.7h1.3v1.3h-1.3zM323.6 345.7h1.3v1.3h-1.3zM363.8 309.1h1.3v1.3h-1.3zM358.5 317.1h1.3v1.3h-1.3zM299.3 362.0h1.3v1.3h-1.3zM332.3 332.8h1.3v1.3h-1.3zM306.9 361.3h1.3v1.3h-1.3zM344.7 329.5h1.3v1.3h-1.3zM366.3 312.2h1.3v1.3h-1.3zM317.2 350.6h1.3v1.3h-1.3zM338.1 338.7h1.3v1.3h-1.3zM361.1 314.6h1.3v1.3h-1.3zM380.6 305.7h1.3v1.3h-1.3zM363.9 309.9h1.3v1.3h-1.3zM378.2 302.5h1.3v1.3h-1.3zM328.0 335.6h1.3v1.3h-1.3zM369.8 314.8h1.3v1.3h-1.3zM379.2 302.7h1.3v1.3h-1.3zM339.8 330.9h1.3v1.3h-1.3zM304.4 354.7h1.3v1.3h-1.3zM384.7 304.3h1.3v1.3h-1.3zM356.3 315.4h1.3v1.3h-1.3zM318.2 339.1h1.3v1.3h-1.3zM366.5 317.6h1.3v1.3h-1.3zM314.4 343.1h1.3v1.3h-1.3zM301.4 355.9h1.3v1.3h-1.3zM394.1 285.2h1.3v1.3h-1.3zM290.0 365.5h1.3v1.3h-1.3zM391.8 282.9h1.3v1.3h-1.3zM313.0 359.3h1.3v1.3h-1.3zM301.1 368.0h1.3v1.3h-1.3zM312.0 358.7h1.3v1.3h-1.3zM379.9 304.1h1.3v1.3h-1.3zM302.0 362.2h1.3v1.3h-1.3zM336.2 330.3h1.3v1.3h-1.3zM316.9 357.0h1.3v1.3h-1.3zM398.3 288.4h1.3v1.3h-1.3zM358.0 321.5h1.3v1.3h-1.3zM401.4 286.6h1.3v1.3h-1.3zM315.7 348.9h1.3v1.3h-1.3zM300.4 366.7h1.3v1.3h-1.3zM331.7 340.4h1.3v1.3h-1.3zM368.8 306.0h1.3v1.3h-1.3zM318.0 348.2h1.3v1.3h-1.3zM323.3 354.8h1.3v1.3h-1.3zM304.8 352.1h1.3v1.3h-1.3zM393.3 285.5h1.3v1.3h-1.3zM315.1 342.9h1.3v1.3h-1.3zM308.6 357.9h1.3v1.3h-1.3zM374.5 305.4h1.3v1.3h-1.3zM379.6 308.6h1.3v1.3h-1.3zM332.4 330.7h1.3v1.3h-1.3zM294.5 370.2h1.3v1.3h-1.3zM313.7 356.0h1.3v1.3h-1.3zM338.5 343.6h1.3v1.3h-1.3zM333.5 329.4h1.3v1.3h-1.3zM331.3 350.0h1.3v1.3h-1.3zM319.8 337.1h1.3v1.3h-1.3zM343.2 329.0h1.3v1.3h-1.3zM356.7 321.7h1.3v1.3h-1.3zM386.4 297.0h1.3v1.3h-1.3zM304.1 354.6h1.3v1.3h-1.3zM289.9 368.5h1.3v1.3h-1.3zM349.7 332.7h1.3v1.3h-1.3zM315.0 357.5h1.3v1.3h-1.3zM318.5 341.3h1.3v1.3h-1.3zM334.4 339.1h1.3v1.3h-1.3zM398.6 289.8h1.3v1.3h-1.3zM357.9 314.3h1.3v1.3h-1.3zM358.2 322.8h1.3v1.3h-1.3zM311.9 350.2h1.3v1.3h-1.3zM306.9 357.9h1.3v1.3h-1.3zM367.5 308.0h1.3v1.3h-1.3zM337.5 325.5h1.3v1.3h-1.3zM318.7 354.1h1.3v1.3h-1.3zM309.9 351.8h1.3v1.3h-1.3zM314.8 352.6h1.3v1.3h-1.3zM397.7 278.1h1.3v1.3h-1.3zM336.5 337.0h1.3v1.3h-1.3zM304.6 354.5h1.3v1.3h-1.3zM324.9 340.4h1.3v1.3h-1.3zM309.0 364.0h1.3v1.3h-1.3zM319.9 350.7h1.3v1.3h-1.3zM332.2 332.9h1.3v1.3h-1.3zM336.1 333.3h1.3v1.3h-1.3zM290.1 367.1h1.3v1.3h-1.3zM360.0 314.6h1.3v1.3h-1.3zM327.1 335.2h1.3v1.3h-1.3zM389.6 297.7h1.3v1.3h-1.3zM334.8 336.8h1.3v1.3h-1.3zM326.5 346.9h1.3v1.3h-1.3zM313.5 350.3h1.3v1.3h-1.3zM398.7 283.8h1.3v1.3h-1.3zM346.5 330.7h1.3v1.3h-1.3zM316.1 344.5h1.3v1.3h-1.3zM393.2 289.8h1.3v1.3h-1.3zM358.2 319.7h1.3v1.3h-1.3zM328.1 333.8h1.3v1.3h-1.3zM375.4 313.1h1.3v1.3h-1.3zM355.0 322.2h1.3v1.3h-1.3zM326.8 337.0h1.3v1.3h-1.3zM317.0 341.2h1.3v1.3h-1.3zM362.5 311.1h1.3v1.3h-1.3zM315.9 343.6h1.3v1.3h-1.3zM330.2 345.6h1.3v1.3h-1.3zM336.8 347.5h1.3v1.3h-1.3zM323.4 341.8h1.3v1.3h-1.3zM293.1 371.9h1.3v1.3h-1.3zM324.7 348.6h1.3v1.3h-1.3zM356.6 320.6h1.3v1.3h-1.3zM349.5 318.9h1.3v1.3h-1.3zM336.9 345.5h1.3v1.3h-1.3zM376.1 309.3h1.3v1.3h-1.3zM297.5 367.7h1.3v1.3h-1.3zM331.4 346.1h1.3v1.3h-1.3zM295.0 365.1h1.3v1.3h-1.3zM326.1 335.6h1.3v1.3h-1.3zM382.9 301.9h1.3v1.3h-1.3zM320.5 356.7h1.3v1.3h-1.3zM370.4 308.9h1.3v1.3h-1.3zM294.7 362.3h1.3v1.3h-1.3zM380.5 299.9h1.3v1.3h-1.3zM355.0 323.3h1.3v1.3h-1.3zM307.4 349.6h1.3v1.3h-1.3zM394.7 292.1h1.3v1.3h-1.3zM309.6 362.7h1.3v1.3h-1.3zM338.3 331.3h1.3v1.3h-1.3zM401.7 285.7h1.3v1.3h-1.3zM302.2 363.1h1.3v1.3h-1.3zM304.8 363.6h1.3v1.3h-1.3zM401.9 281.8h1.3v1.3h-1.3zM306.3 350.0h1.3v1.3h-1.3zM306.2 349.5h1.3v1.3h-1.3zM384.1 296.9h1.3v1.3h-1.3zM342.6 336.1h1.3v1.3h-1.3zM294.8 361.4h1.3v1.3h-1.3zM328.4 343.2h1.3v1.3h-1.3zM330.7 332.9h1.3v1.3h-1.3zM372.1 303.1h1.3v1.3h-1.3zM330.2 342.9h1.3v1.3h-1.3zM388.0 291.5h1.3v1.3h-1.3zM315.3 349.3h1.3v1.3h-1.3zM401.6 277.0h1.3v1.3h-1.3zM334.2 332.8h1.3v1.3h-1.3zM303.2 352.6h1.3v1.3h-1.3zM358.6 320.3h1.3v1.3h-1.3zM371.7 304.1h1.3v1.3h-1.3zM324.6 339.3h1.3v1.3h-1.3zM290.0 364.1h1.3v1.3h-1.3zM359.0 321.7h1.3v1.3h-1.3zM309.8 361.6h1.3v1.3h-1.3zM334.2 332.5h1.3v1.3h-1.3zM376.9 307.1h1.3v1.3h-1.3zM305.4 355.9h1.3v1.3h-1.3zM350.7 321.3h1.3v1.3h-1.3zM313.6 344.8h1.3v1.3h-1.3zM341.1 327.6h1.3v1.3h-1.3zM320.2 344.1h1.3v1.3h-1.3zM368.0 305.6h1.3v1.3h-1.3zM303.8 357.2h1.3v1.3h-1.3zM293.8 362.4h1.3v1.3h-1.3zM389.8 300.7h1.3v1.3h-1.3zM345.8 330.2h1.3v1.3h-1.3zM398.5 286.2h1.3v1.3h-1.3zM396.5 286.4h1.3v1.3h-1.3zM333.0 333.1h1.3v1.3h-1.3zM321.6 335.8h1.3v1.3h-1.3zM311.4 348.8h1.3v1.3h-1.3zM296.8 367.3h1.3v1.3h-1.3zM373.3 312.2h1.3v1.3h-1.3zM341.5 333.0h1.3v1.3h-1.3zM292.7 362.2h1.3v1.3h-1.3zM324.2 337.0h1.3v1.3h-1.3zM298.2 357.6h1.3v1.3h-1.3zM406.0 274.7h1.3v1.3h-1.3zM334.2 342.2h1.3v1.3h-1.3zM342.7 338.8h1.3v1.3h-1.3zM347.7 331.7h1.3v1.3h-1.3zM302.6 359.3h1.3v1.3h-1.3zM321.8 339.6h1.3v1.3h-1.3zM311.2 349.9h1.3v1.3h-1.3zM366.3 312.6h1.3v1.3h-1.3zM300.5 358.2h1.3v1.3h-1.3zM293.7 365.5h1.3v1.3h-1.3zM302.0 366.2h1.3v1.3h-1.3zM388.2 286.8h1.3v1.3h-1.3zM370.8 304.6h1.3v1.3h-1.3zM296.5 367.0h1.3v1.3h-1.3zM299.1 368.9h1.3v1.3h-1.3zM293.7 363.8h1.3v1.3h-1.3zM308.2 356.6h1.3v1.3h-1.3zM304.0 352.2h1.3v1.3h-1.3zM317.6 337.9h1.3v1.3h-1.3zM301.7 357.7h1.3v1.3h-1.3zM379.6 296.1h1.3v1.3h-1.3zM393.5 285.9h1.3v1.3h-1.3zM314.9 360.3h1.3v1.3h-1.3zM399.2 278.5h1.3v1.3h-1.3zM336.5 327.2h1.3v1.3h-1.3zM325.6 337.9h1.3v1.3h-1.3zM324.2 335.5h1.3v1.3h-1.3zM328.3 349.2h1.3v1.3h-1.3zM325.3 336.4h1.3v1.3h-1.3zM305.7 359.9h1.3v1.3h-1.3zM340.5 324.7h1.3v1.3h-1.3zM355.4 313.1h1.3v1.3h-1.3zM337.1 332.3h1.3v1.3h-1.3zM387.4 301.5h1.3v1.3h-1.3zM308.7 348.1h1.3v1.3h-1.3zM297.7 359.4h1.3v1.3h-1.3zM313.9 346.7h1.3v1.3h-1.3zM319.2 352.1h1.3v1.3h-1.3zM325.0 337.7h1.3v1.3h-1.3zM390.6 301.2h1.3v1.3h-1.3zM325.2 343.4h1.3v1.3h-1.3zM317.9 346.1h1.3v1.3h-1.3zM347.6 325.8h1.3v1.3h-1.3zM298.7 362.2h1.3v1.3h-1.3zM293.7 369.6h1.3v1.3h-1.3zM367.4 310.1h1.3v1.3h-1.3zM375.6 303.4h1.3v1.3h-1.3zM356.6 314.6h1.3v1.3h-1.3zM380.0 295.9h1.3v1.3h-1.3zM328.5 345.5h1.3v1.3h-1.3zM343.1 329.1h1.3v1.3h-1.3zM343.0 323.5h1.3v1.3h-1.3zM337.8 346.8h1.3v1.3h-1.3zM295.0 357.8h1.3v1.3h-1.3zM384.7 294.7h1.3v1.3h-1.3zM311.4 348.0h1.3v1.3h-1.3zM296.5 365.5h1.3v1.3h-1.3zM360.6 321.7h1.3v1.3h-1.3zM289.9 364.6h1.3v1.3h-1.3zM348.2 320.4h1.3v1.3h-1.3zM342.1 336.5h1.3v1.3h-1.3zM402.7 279.5h1.3v1.3h-1.3zM397.7 293.5h1.3v1.3h-1.3zM297.0 368.0h1.3v1.3h-1.3zM316.8 358.5h1.3v1.3h-1.3zM307.2 348.6h1.3v1.3h-1.3zM332.5 350.4h1.3v1.3h-1.3zM357.8 320.1h1.3v1.3h-1.3zM385.5 298.8h1.3v1.3h-1.3zM339.3 340.2h1.3v1.3h-1.3zM290.0 368.9h1.3v1.3h-1.3zM339.9 324.9h1.3v1.3h-1.3zM304.7 360.1h1.3v1.3h-1.3zM319.4 356.8h1.3v1.3h-1.3zM300.2 359.4h1.3v1.3h-1.3zM321.1 346.3h1.3v1.3h-1.3zM350.3 332.5h1.3v1.3h-1.3zM312.2 348.2h1.3v1.3h-1.3zM324.6 345.6h1.3v1.3h-1.3zM393.4 294.3h1.3v1.3h-1.3zM325.7 333.4h1.3v1.3h-1.3zM314.1 345.8h1.3v1.3h-1.3zM315.0 351.3h1.3v1.3h-1.3zM399.2 280.4h1.3v1.3h-1.3zM310.4 351.6h1.3v1.3h-1.3zM337.2 325.4h1.3v1.3h-1.3zM313.7 350.0h1.3v1.3h-1.3zM380.5 308.4h1.3v1.3h-1.3zM291.3 371.1h1.3v1.3h-1.3zM351.5 322.1h1.3v1.3h-1.3zM293.2 368.9h1.3v1.3h-1.3zM319.7 340.3h1.3v1.3h-1.3zM332.7 329.2h1.3v1.3h-1.3zM370.6 309.1h1.3v1.3h-1.3zM363.0 316.8h1.3v1.3h-1.3zM368.5 316.7h1.3v1.3h-1.3zM348.6 333.3h1.3v1.3h-1.3zM337.1 329.1h1.3v1.3h-1.3zM297.5 369.7h1.3v1.3h-1.3zM378.1 298.2h1.3v1.3h-1.3zM364.9 311.2h1.3v1.3h-1.3zM292.4 366.5h1.3v1.3h-1.3zM317.1 340.6h1.3v1.3h-1.3zM381.0 296.6h1.3v1.3h-1.3zM325.9 349.3h1.3v1.3h-1.3zM317.3 342.0h1.3v1.3h-1.3zM342.5 339.7h1.3v1.3h-1.3zM322.4 337.1h1.3v1.3h-1.3zM346.6 326.5h1.3v1.3h-1.3zM366.3 310.3h1.3v1.3h-1.3zM328.0 349.2h1.3v1.3h-1.3zM297.2 369.3h1.3v1.3h-1.3zM354.8 314.5h1.3v1.3h-1.3zM313.7 343.9h1.3v1.3h-1.3zM314.1 349.7h1.3v1.3h-1.3zM369.1 310.0h1.3v1.3h-1.3zM321.3 351.3h1.3v1.3h-1.3zM327.4 347.9h1.3v1.3h-1.3zM346.3 323.7h1.3v1.3h-1.3zM317.2 347.4h1.3v1.3h-1.3zM339.5 324.0h1.3v1.3h-1.3zM313.9 359.9h1.3v1.3h-1.3zM326.4 347.7h1.3v1.3h-1.3zM389.3 287.9h1.3v1.3h-1.3zM383.0 295.5h1.3v1.3h-1.3zM325.7 341.8h1.3v1.3h-1.3zM376.0 306.5h1.3v1.3h-1.3zM384.9 304.3h1.3v1.3h-1.3zM301.6 362.1h1.3v1.3h-1.3zM313.3 344.8h1.3v1.3h-1.3zM343.0 324.7h1.3v1.3h-1.3zM298.2 365.6h1.3v1.3h-1.3zM369.2 312.5h1.3v1.3h-1.3zM294.1 361.1h1.3v1.3h-1.3zM300.4 353.0h1.3v1.3h-1.3zM360.5 317.1h1.3v1.3h-1.3zM298.0 365.5h1.3v1.3h-1.3zM312.9 357.9h1.3v1.3h-1.3zM363.1 311.3h1.3v1.3h-1.3zM292.1 365.9h1.3v1.3h-1.3zM341.6 330.5h1.3v1.3h-1.3zM323.7 355.6h1.3v1.3h-1.3zM295.8 357.5h1.3v1.3h-1.3zM324.2 355.1h1.3v1.3h-1.3zM323.0 343.7h1.3v1.3h-1.3zM295.1 364.7h1.3v1.3h-1.3zM334.2 343.4h1.3v1.3h-1.3zM313.9 361.4h1.3v1.3h-1.3zM302.7 360.5h1.3v1.3h-1.3zM305.9 363.2h1.3v1.3h-1.3zM334.8 329.0h1.3v1.3h-1.3zM312.3 350.5h1.3v1.3h-1.3zM315.3 353.9h1.3v1.3h-1.3zM307.4 353.4h1.3v1.3h-1.3zM318.0 356.7h1.3v1.3h-1.3zM361.1 314.1h1.3v1.3h-1.3zM298.0 369.3h1.3v1.3h-1.3zM308.8 354.4h1.3v1.3h-1.3zM299.4 356.2h1.3v1.3h-1.3zM290.4 369.4h1.3v1.3h-1.3zM360.1 315.6h1.3v1.3h-1.3zM304.8 363.4h1.3v1.3h-1.3zM400.9 284.3h1.3v1.3h-1.3zM332.5 333.0h1.3v1.3h-1.3zM336.0 338.9h1.3v1.3h-1.3zM306.4 363.0h1.3v1.3h-1.3zM371.2 305.2h1.3v1.3h-1.3zM352.9 324.3h1.3v1.3h-1.3zM336.3 338.1h1.3v1.3h-1.3zM336.4 346.0h1.3v1.3h-1.3zM338.5 346.3h1.3v1.3h-1.3zM356.3 321.8h1.3v1.3h-1.3zM298.9 364.9h1.3v1.3h-1.3zM324.9 343.6h1.3v1.3h-1.3zM374.5 300.2h1.3v1.3h-1.3zM293.3 362.1h1.3v1.3h-1.3zM293.3 370.5h1.3v1.3h-1.3zM340.3 341.4h1.3v1.3h-1.3zM322.1 346.3h1.3v1.3h-1.3zM333.9 330.8h1.3v1.3h-1.3zM402.5 275.2h1.3v1.3h-1.3zM365.8 307.3h1.3v1.3h-1.3zM375.3 300.0h1.3v1.3h-1.3zM294.7 362.9h1.3v1.3h-1.3zM358.4 320.3h1.3v1.3h-1.3zM332.2 346.1h1.3v1.3h-1.3zM325.2 352.2h1.3v1.3h-1.3zM306.3 354.0h1.3v1.3h-1.3zM322.6 339.5h1.3v1.3h-1.3zM303.4 354.8h1.3v1.3h-1.3zM307.2 363.4h1.3v1.3h-1.3zM339.5 327.9h1.3v1.3h-1.3zM355.3 319.4h1.3v1.3h-1.3zM333.3 333.8h1.3v1.3h-1.3zM321.0 355.2h1.3v1.3h-1.3zM315.8 340.5h1.3v1.3h-1.3zM303.4 362.2h1.3v1.3h-1.3zM306.4 358.0h1.3v1.3h-1.3zM368.8 306.7h1.3v1.3h-1.3zM345.6 331.7h1.3v1.3h-1.3zM305.5 361.1h1.3v1.3h-1.3zM290.6 371.8h1.3v1.3h-1.3zM363.5 313.7h1.3v1.3h-1.3zM308.7 350.9h1.3v1.3h-1.3zM303.7 362.4h1.3v1.3h-1.3zM365.9 314.1h1.3v1.3h-1.3zM378.9 309.4h1.3v1.3h-1.3zM380.7 301.6h1.3v1.3h-1.3zM384.2 303.9h1.3v1.3h-1.3zM292.2 369.5h1.3v1.3h-1.3zM321.9 343.1h1.3v1.3h-1.3zM300.6 361.6h1.3v1.3h-1.3zM341.1 324.8h1.3v1.3h-1.3zM308.2 363.2h1.3v1.3h-1.3zM340.5 333.7h1.3v1.3h-1.3zM307.4 352.8h1.3v1.3h-1.3zM295.4 360.7h1.3v1.3h-1.3zM296.9 360.8h1.3v1.3h-1.3zM392.3 290.0h1.3v1.3h-1.3zM391.4 289.2h1.3v1.3h-1.3zM374.4 308.2h1.3v1.3h-1.3zM375.6 307.7h1.3v1.3h-1.3zM342.3 336.9h1.3v1.3h-1.3zM298.5 357.1h1.3v1.3h-1.3zM319.7 356.6h1.3v1.3h-1.3zM381.3 295.1h1.3v1.3h-1.3zM307.3 356.4h1.3v1.3h-1.3zM378.7 304.0h1.3v1.3h-1.3zM347.2 317.0h1.3v1.3h-1.3zM328.3 339.6h1.3v1.3h-1.3zM305.1 365.8h1.3v1.3h-1.3zM307.9 352.1h1.3v1.3h-1.3zM403.2 283.4h1.3v1.3h-1.3zM297.1 359.7h1.3v1.3h-1.3zM301.1 359.6h1.3v1.3h-1.3zM395.7 280.8h1.3v1.3h-1.3zM337.1 336.4h1.3v1.3h-1.3zM344.0 321.8h1.3v1.3h-1.3zM299.3 357.9h1.3v1.3h-1.3zM398.6 282.6h1.3v1.3h-1.3zM336.1 330.7h1.3v1.3h-1.3zM331.2 332.0h1.3v1.3h-1.3zM344.8 328.7h1.3v1.3h-1.3zM355.3 322.9h1.3v1.3h-1.3zM292.5 367.4h1.3v1.3h-1.3zM322.4 349.3h1.3v1.3h-1.3zM373.1 306.9h1.3v1.3h-1.3zM321.5 336.0h1.3v1.3h-1.3zM398.1 282.5h1.3v1.3h-1.3zM308.8 353.9h1.3v1.3h-1.3zM317.2 353.9h1.3v1.3h-1.3zM350.3 329.0h1.3v1.3h-1.3zM334.7 339.9h1.3v1.3h-1.3zM369.7 304.4h1.3v1.3h-1.3zM330.3 340.4h1.3v1.3h-1.3zM364.3 311.2h1.3v1.3h-1.3zM352.2 325.8h1.3v1.3h-1.3zM316.1 350.8h1.3v1.3h-1.3zM338.9 343.3h1.3v1.3h-1.3zM383.9 296.5h1.3v1.3h-1.3zM310.4 355.4h1.3v1.3h-1.3zM322.4 351.2h1.3v1.3h-1.3zM295.2 369.7h1.3v1.3h-1.3zM338.7 323.8h1.3v1.3h-1.3zM310.5 360.6h1.3v1.3h-1.3zM352.6 319.9h1.3v1.3h-1.3zM363.2 310.7h1.3v1.3h-1.3zM371.9 306.9h1.3v1.3h-1.3zM309.7 362.1h1.3v1.3h-1.3zM337.5 335.7h1.3v1.3h-1.3zM339.0 326.0h1.3v1.3h-1.3zM345.1 325.0h1.3v1.3h-1.3zM360.0 316.8h1.3v1.3h-1.3zM341.1 344.0h1.3v1.3h-1.3zM398.0 287.9h1.3v1.3h-1.3zM392.9 286.6h1.3v1.3h-1.3zM323.2 354.6h1.3v1.3h-1.3zM329.8 349.1h1.3v1.3h-1.3zM306.4 350.6h1.3v1.3h-1.3zM361.2 312.5h1.3v1.3h-1.3zM330.8 340.1h1.3v1.3h-1.3zM311.1 362.9h1.3v1.3h-1.3zM388.8 290.3h1.3v1.3h-1.3zM381.6 293.4h1.3v1.3h-1.3zM321.4 353.2h1.3v1.3h-1.3zM290.4 368.3h1.3v1.3h-1.3zM357.0 317.1h1.3v1.3h-1.3zM400.0 275.8h1.3v1.3h-1.3zM352.2 329.0h1.3v1.3h-1.3zM390.8 289.1h1.3v1.3h-1.3zM308.7 349.9h1.3v1.3h-1.3zM404.1 281.3h1.3v1.3h-1.3zM348.7 318.7h1.3v1.3h-1.3zM334.0 344.8h1.3v1.3h-1.3zM300.7 363.8h1.3v1.3h-1.3zM399.4 277.4h1.3v1.3h-1.3zM320.2 354.2h1.3v1.3h-1.3zM368.3 305.9h1.3v1.3h-1.3zM313.8 340.8h1.3v1.3h-1.3zM355.5 317.3h1.3v1.3h-1.3zM322.7 333.7h1.3v1.3h-1.3zM338.2 332.2h1.3v1.3h-1.3zM331.9 336.8h1.3v1.3h-1.3zM299.8 362.2h1.3v1.3h-1.3zM393.1 293.5h1.3v1.3h-1.3zM329.8 329.0h1.3v1.3h-1.3zM383.2 295.4h1.3v1.3h-1.3zM305.9 359.1h1.3v1.3h-1.3zM308.1 351.3h1.3v1.3h-1.3zM371.4 313.0h1.3v1.3h-1.3zM331.2 330.0h1.3v1.3h-1.3zM402.8 277.5h1.3v1.3h-1.3zM371.9 309.2h1.3v1.3h-1.3zM292.0 369.8h1.3v1.3h-1.3zM308.6 351.9h1.3v1.3h-1.3zM319.7 351.2h1.3v1.3h-1.3zM331.5 334.8h1.3v1.3h-1.3zM306.4 360.4h1.3v1.3h-1.3zM329.3 349.6h1.3v1.3h-1.3zM308.2 351.9h1.3v1.3h-1.3zM295.7 362.1h1.3v1.3h-1.3zM305.6 362.8h1.3v1.3h-1.3zM318.4 340.5h1.3v1.3h-1.3zM369.6 313.2h1.3v1.3h-1.3zM323.9 346.2h1.3v1.3h-1.3zM290.8 363.5h1.3v1.3h-1.3zM294.5 363.0h1.3v1.3h-1.3zM355.8 313.1h1.3v1.3h-1.3zM298.6 364.4h1.3v1.3h-1.3zM395.5 289.5h1.3v1.3h-1.3zM312.8 344.2h1.3v1.3h-1.3zM313.8 359.6h1.3v1.3h-1.3zM359.4 319.4h1.3v1.3h-1.3zM379.0 301.0h1.3v1.3h-1.3zM321.7 344.8h1.3v1.3h-1.3zM332.0 346.1h1.3v1.3h-1.3zM371.2 309.0h1.3v1.3h-1.3zM310.7 358.0h1.3v1.3h-1.3zM301.3 365.4h1.3v1.3h-1.3zM323.0 345.5h1.3v1.3h-1.3zM364.5 313.4h1.3v1.3h-1.3zM344.9 325.8h1.3v1.3h-1.3zM402.1 275.5h1.3v1.3h-1.3zM351.6 321.1h1.3v1.3h-1.3zM342.1 343.1h1.3v1.3h-1.3zM321.6 356.7h1.3v1.3h-1.3zM323.0 344.3h1.3v1.3h-1.3zM325.7 340.4h1.3v1.3h-1.3zM303.6 353.8h1.3v1.3h-1.3zM374.6 313.6h1.3v1.3h-1.3zM325.1 339.8h1.3v1.3h-1.3zM291.3 372.8h1.3v1.3h-1.3zM371.1 309.0h1.3v1.3h-1.3zM329.5 340.6h1.3v1.3h-1.3zM386.8 288.4h1.3v1.3h-1.3zM335.7 343.7h1.3v1.3h-1.3zM355.1 319.6h1.3v1.3h-1.3zM329.7 349.3h1.3v1.3h-1.3zM365.6 315.2h1.3v1.3h-1.3zM357.2 321.8h1.3v1.3h-1.3zM304.8 349.8h1.3v1.3h-1.3zM292.7 369.4h1.3v1.3h-1.3zM346.5 321.8h1.3v1.3h-1.3zM334.0 348.5h1.3v1.3h-1.3zM365.0 319.3h1.3v1.3h-1.3zM346.6 319.9h1.3v1.3h-1.3zM373.6 312.1h1.3v1.3h-1.3zM316.2 357.4h1.3v1.3h-1.3zM399.6 282.5h1.3v1.3h-1.3zM388.5 295.1h1.3v1.3h-1.3zM383.9 302.0h1.3v1.3h-1.3zM314.4 346.3h1.3v1.3h-1.3zM325.1 341.3h1.3v1.3h-1.3zM307.9 355.8h1.3v1.3h-1.3zM345.1 328.2h1.3v1.3h-1.3zM323.7 340.3h1.3v1.3h-1.3zM339.1 334.2h1.3v1.3h-1.3zM353.5 324.4h1.3v1.3h-1.3zM354.2 323.5h1.3v1.3h-1.3zM393.0 285.3h1.3v1.3h-1.3zM335.9 330.4h1.3v1.3h-1.3zM319.5 352.3h1.3v1.3h-1.3zM343.6 341.6h1.3v1.3h-1.3zM304.2 360.0h1.3v1.3h-1.3zM290.8 362.4h1.3v1.3h-1.3zM299.8 359.7h1.3v1.3h-1.3zM291.1 369.3h1.3v1.3h-1.3zM364.9 316.4h1.3v1.3h-1.3zM301.9 365.6h1.3v1.3h-1.3zM296.2 358.0h1.3v1.3h-1.3zM327.0 335.2h1.3v1.3h-1.3zM389.0 287.4h1.3v1.3h-1.3zM389.7 286.0h1.3v1.3h-1.3zM306.0 363.3h1.3v1.3h-1.3zM347.1 323.6h1.3v1.3h-1.3zM394.7 285.4h1.3v1.3h-1.3zM333.0 349.6h1.3v1.3h-1.3zM303.9 357.4h1.3v1.3h-1.3zM295.5 368.9h1.3v1.3h-1.3zM394.1 290.8h1.3v1.3h-1.3zM341.9 325.7h1.3v1.3h-1.3zM297.8 361.9h1.3v1.3h-1.3zM316.9 344.8h1.3v1.3h-1.3zM397.6 279.9h1.3v1.3h-1.3zM399.5 284.6h1.3v1.3h-1.3zM373.9 311.5h1.3v1.3h-1.3zM295.3 359.7h1.3v1.3h-1.3zM344.9 335.9h1.3v1.3h-1.3zM318.3 344.2h1.3v1.3h-1.3zM290.3 367.0h1.3v1.3h-1.3zM375.9 305.2h1.3v1.3h-1.3zM345.7 322.9h1.3v1.3h-1.3zM363.0 308.1h1.3v1.3h-1.3zM312.5 355.0h1.3v1.3h-1.3zM340.0 335.0h1.3v1.3h-1.3zM327.0 353.8h1.3v1.3h-1.3zM357.4 320.9h1.3v1.3h-1.3zM393.4 295.1h1.3v1.3h-1.3zM327.7 349.8h1.3v1.3h-1.3zM342.1 325.4h1.3v1.3h-1.3zM334.4 340.5h1.3v1.3h-1.3zM390.8 299.4h1.3v1.3h-1.3zM305.9 348.9h1.3v1.3h-1.3zM322.0 356.8h1.3v1.3h-1.3zM352.3 324.0h1.3v1.3h-1.3zM326.3 346.1h1.3v1.3h-1.3zM306.8 361.2h1.3v1.3h-1.3zM330.4 341.4h1.3v1.3h-1.3zM323.9 354.5h1.3v1.3h-1.3zM312.5 357.0h1.3v1.3h-1.3zM292.4 364.7h1.3v1.3h-1.3zM299.0 361.2h1.3v1.3h-1.3zM347.9 328.1h1.3v1.3h-1.3zM316.9 342.5h1.3v1.3h-1.3zM326.4 336.7h1.3v1.3h-1.3zM361.4 316.8h1.3v1.3h-1.3zM377.9 300.2h1.3v1.3h-1.3zM321.4 349.1h1.3v1.3h-1.3zM351.5 327.2h1.3v1.3h-1.3zM375.6 302.3h1.3v1.3h-1.3zM297.3 360.7h1.3v1.3h-1.3zM350.4 325.0h1.3v1.3h-1.3zM290.8 370.0h1.3v1.3h-1.3zM290.9 373.0h1.3v1.3h-1.3zM317.9 343.9h1.3v1.3h-1.3zM366.3 309.6h1.3v1.3h-1.3zM304.2 364.4h1.3v1.3h-1.3zM404.3 275.9h1.3v1.3h-1.3zM398.3 288.0h1.3v1.3h-1.3zM319.5 347.1h1.3v1.3h-1.3zM318.6 338.4h1.3v1.3h-1.3zM400.7 276.4h1.3v1.3h-1.3zM328.5 336.2h1.3v1.3h-1.3zM330.6 342.1h1.3v1.3h-1.3zM324.2 334.6h1.3v1.3h-1.3zM305.2 353.1h1.3v1.3h-1.3zM299.0 355.7h1.3v1.3h-1.3zM315.3 352.3h1.3v1.3h-1.3zM342.1 337.5h1.3v1.3h-1.3zM303.7 353.4h1.3v1.3h-1.3zM334.2 329.0h1.3v1.3h-1.3zM290.1 371.8h1.3v1.3h-1.3zM396.2 291.7h1.3v1.3h-1.3zM314.1 343.3h1.3v1.3h-1.3zM359.9 312.8h1.3v1.3h-1.3zM335.8 341.3h1.3v1.3h-1.3zM307.8 362.4h1.3v1.3h-1.3zM328.8 343.0h1.3v1.3h-1.3zM305.6 365.8h1.3v1.3h-1.3zM302.3 353.5h1.3v1.3h-1.3zM295.2 362.8h1.3v1.3h-1.3zM402.6 280.1h1.3v1.3h-1.3zM301.2 366.9h1.3v1.3h-1.3zM324.6 347.9h1.3v1.3h-1.3zM355.5 316.3h1.3v1.3h-1.3zM400.8 278.8h1.3v1.3h-1.3zM314.5 356.5h1.3v1.3h-1.3zM310.3 347.7h1.3v1.3h-1.3zM336.2 347.9h1.3v1.3h-1.3zM298.1 365.6h1.3v1.3h-1.3zM391.5 287.1h1.3v1.3h-1.3zM388.9 288.0h1.3v1.3h-1.3zM291.7 368.5h1.3v1.3h-1.3zM309.1 354.7h1.3v1.3h-1.3zM313.6 352.2h1.3v1.3h-1.3zM330.9 345.1h1.3v1.3h-1.3zM369.5 305.6h1.3v1.3h-1.3zM319.9 358.1h1.3v1.3h-1.3zM320.8 346.3h1.3v1.3h-1.3zM386.4 296.6h1.3v1.3h-1.3zM399.5 277.4h1.3v1.3h-1.3zM342.6 327.8h1.3v1.3h-1.3zM382.8 293.8h1.3v1.3h-1.3zM299.4 356.4h1.3v1.3h-1.3zM398.9 276.2h1.3v1.3h-1.3zM328.2 332.2h1.3v1.3h-1.3zM293.6 366.9h1.3v1.3h-1.3zM378.1 301.8h1.3v1.3h-1.3zM290.1 370.3h1.3v1.3h-1.3zM323.6 348.6h1.3v1.3h-1.3zM336.8 325.1h1.3v1.3h-1.3zM314.8 342.3h1.3v1.3h-1.3zM401.8 282.2h1.3v1.3h-1.3zM401.6 277.7h1.3v1.3h-1.3zM346.3 321.9h1.3v1.3h-1.3zM389.1 299.9h1.3v1.3h-1.3zM393.4 288.8h1.3v1.3h-1.3zM362.2 316.5h1.3v1.3h-1.3zM336.6 326.2h1.3v1.3h-1.3zM305.9 365.7h1.3v1.3h-1.3zM344.4 327.4h1.3v1.3h-1.3zM296.2 362.9h1.3v1.3h-1.3zM343.1 337.4h1.3v1.3h-1.3zM344.9 329.0h1.3v1.3h-1.3zM362.1 315.2h1.3v1.3h-1.3zM342.4 340.9h1.3v1.3h-1.3zM290.2 366.2h1.3v1.3h-1.3zM346.2 326.0h1.3v1.3h-1.3zM319.8 358.2h1.3v1.3h-1.3zM299.6 365.4h1.3v1.3h-1.3zM365.5 314.6h1.3v1.3h-1.3zM378.7 297.6h1.3v1.3h-1.3zM323.0 345.7h1.3v1.3h-1.3zM306.9 350.7h1.3v1.3h-1.3zM403.0 281.5h1.3v1.3h-1.3zM334.7 331.7h1.3v1.3h-1.3zM322.0 352.6h1.3v1.3h-1.3zM316.6 340.3h1.3v1.3h-1.3zM312.3 357.4h1.3v1.3h-1.3zM357.6 323.4h1.3v1.3h-1.3zM330.4 335.0h1.3v1.3h-1.3zM308.4 359.8h1.3v1.3h-1.3zM392.2 288.7h1.3v1.3h-1.3zM332.6 344.6h1.3v1.3h-1.3zM343.5 327.8h1.3v1.3h-1.3zM315.3 358.6h1.3v1.3h-1.3zM338.4 337.5h1.3v1.3h-1.3zM353.2 322.6h1.3v1.3h-1.3zM320.5 342.9h1.3v1.3h-1.3zM400.9 273.2h1.3v1.3h-1.3zM302.7 358.3h1.3v1.3h-1.3zM404.9 275.8h1.3v1.3h-1.3zM320.4 356.5h1.3v1.3h-1.3zM297.7 369.3h1.3v1.3h-1.3zM338.3 330.9h1.3v1.3h-1.3zM322.1 355.7h1.3v1.3h-1.3zM311.9 346.8h1.3v1.3h-1.3zM315.7 357.0h1.3v1.3h-1.3zM335.6 342.7h1.3v1.3h-1.3zM328.2 339.9h1.3v1.3h-1.3zM406.6 276.7h1.3v1.3h-1.3zM322.2 344.0h1.3v1.3h-1.3zM309.8 360.5h1.3v1.3h-1.3zM337.9 338.4h1.3v1.3h-1.3zM398.0 279.1h1.3v1.3h-1.3zM311.7 352.0h1.3v1.3h-1.3zM317.3 342.4h1.3v1.3h-1.3zM316.6 341.7h1.3v1.3h-1.3zM315.9 357.0h1.3v1.3h-1.3zM310.7 361.6h1.3v1.3h-1.3zM332.8 342.1h1.3v1.3h-1.3zM318.5 339.8h1.3v1.3h-1.3zM306.8 354.8h1.3v1.3h-1.3zM388.2 296.4h1.3v1.3h-1.3zM336.9 346.8h1.3v1.3h-1.3zM327.3 351.4h1.3v1.3h-1.3zM393.1 289.4h1.3v1.3h-1.3zM298.0 363.0h1.3v1.3h-1.3zM358.5 320.7h1.3v1.3h-1.3zM323.4 344.9h1.3v1.3h-1.3zM355.0 320.0h1.3v1.3h-1.3zM334.0 326.9h1.3v1.3h-1.3zM349.1 321.9h1.3v1.3h-1.3zM346.4 329.6h1.3v1.3h-1.3zM399.6 273.9h1.3v1.3h-1.3zM295.9 370.5h1.3v1.3h-1.3zM323.3 338.6h1.3v1.3h-1.3zM344.0 332.6h1.3v1.3h-1.3zM326.3 351.9h1.3v1.3h-1.3zM325.8 335.9h1.3v1.3h-1.3zM308.1 362.7h1.3v1.3h-1.3zM381.1 305.8h1.3v1.3h-1.3zM306.3 354.1h1.3v1.3h-1.3zM384.8 294.0h1.3v1.3h-1.3zM319.2 353.6h1.3v1.3h-1.3zM349.7 326.1h1.3v1.3h-1.3zM301.9 355.2h1.3v1.3h-1.3zM324.7 334.5h1.3v1.3h-1.3zM385.1 301.4h1.3v1.3h-1.3zM330.0 335.5h1.3v1.3h-1.3zM379.2 298.2h1.3v1.3h-1.3zM382.5 292.3h1.3v1.3h-1.3zM403.6 281.1h1.3v1.3h-1.3zM330.3 351.7h1.3v1.3h-1.3zM402.3 277.7h1.3v1.3h-1.3zM319.4 339.7h1.3v1.3h-1.3zM306.5 358.2h1.3v1.3h-1.3zM301.7 365.2h1.3v1.3h-1.3zM332.3 342.4h1.3v1.3h-1.3zM384.3 290.7h1.3v1.3h-1.3zM361.9 320.6h1.3v1.3h-1.3zM302.3 356.3h1.3v1.3h-1.3zM397.3 290.8h1.3v1.3h-1.3zM294.5 368.5h1.3v1.3h-1.3zM394.5 280.9h1.3v1.3h-1.3zM355.6 316.8h1.3v1.3h-1.3zM322.8 336.8h1.3v1.3h-1.3zM315.1 342.8h1.3v1.3h-1.3zM334.9 341.1h1.3v1.3h-1.3zM362.9 316.2h1.3v1.3h-1.3zM307.2 356.0h1.3v1.3h-1.3zM338.6 335.4h1.3v1.3h-1.3zM311.0 350.2h1.3v1.3h-1.3zM307.2 350.3h1.3v1.3h-1.3zM335.4 337.2h1.3v1.3h-1.3zM292.8 371.6h1.3v1.3h-1.3zM333.0 335.9h1.3v1.3h-1.3zM299.1 365.3h1.3v1.3h-1.3zM303.3 355.2h1.3v1.3h-1.3zM334.8 333.5h1.3v1.3h-1.3zM353.5 327.6h1.3v1.3h-1.3zM301.2 357.6h1.3v1.3h-1.3zM292.2 370.4h1.3v1.3h-1.3zM311.4 357.5h1.3v1.3h-1.3zM349.3 322.5h1.3v1.3h-1.3zM315.0 351.6h1.3v1.3h-1.3zM320.9 343.9h1.3v1.3h-1.3zM370.3 303.8h1.3v1.3h-1.3zM402.4 276.0h1.3v1.3h-1.3zM298.3 358.9h1.3v1.3h-1.3zM324.3 335.9h1.3v1.3h-1.3zM356.6 321.8h1.3v1.3h-1.3zM294.4 366.8h1.3v1.3h-1.3zM396.3 291.5h1.3v1.3h-1.3zM400.0 278.6h1.3v1.3h-1.3zM331.0 334.5h1.3v1.3h-1.3zM334.1 337.6h1.3v1.3h-1.3zM396.5 283.5h1.3v1.3h-1.3zM356.5 319.5h1.3v1.3h-1.3zM358.6 314.0h1.3v1.3h-1.3zM390.0 285.4h1.3v1.3h-1.3zM368.6 314.5h1.3v1.3h-1.3zM394.4 294.1h1.3v1.3h-1.3zM397.1 278.2h1.3v1.3h-1.3zM400.7 276.7h1.3v1.3h-1.3zM313.9 343.3h1.3v1.3h-1.3zM388.4 290.6h1.3v1.3h-1.3zM292.5 366.4h1.3v1.3h-1.3zM290.0 373.4h1.3v1.3h-1.3zM325.3 332.9h1.3v1.3h-1.3zM303.4 356.9h1.3v1.3h-1.3zM311.1 358.9h1.3v1.3h-1.3zM301.4 365.3h1.3v1.3h-1.3zM308.2 354.9h1.3v1.3h-1.3zM291.3 369.6h1.3v1.3h-1.3zM306.7 352.4h1.3v1.3h-1.3zM334.9 326.5h1.3v1.3h-1.3zM299.6 362.5h1.3v1.3h-1.3zM312.7 360.2h1.3v1.3h-1.3zM304.7 360.9h1.3v1.3h-1.3zM318.4 354.4h1.3v1.3h-1.3zM294.3 367.5h1.3v1.3h-1.3zM370.2 308.6h1.3v1.3h-1.3zM331.6 339.2h1.3v1.3h-1.3zM372.4 306.2h1.3v1.3h-1.3zM322.7 338.2h1.3v1.3h-1.3zM386.5 300.6h1.3v1.3h-1.3zM312.1 351.9h1.3v1.3h-1.3zM305.0 358.5h1.3v1.3h-1.3zM359.2 315.1h1.3v1.3h-1.3zM317.9 340.6h1.3v1.3h-1.3zM321.6 337.0h1.3v1.3h-1.3zM295.9 369.7h1.3v1.3h-1.3zM363.1 314.8h1.3v1.3h-1.3zM292.5 370.3h1.3v1.3h-1.3zM328.8 333.8h1.3v1.3h-1.3zM389.4 293.9h1.3v1.3h-1.3zM304.9 361.1h1.3v1.3h-1.3zM401.7 286.2h1.3v1.3h-1.3zM389.8 295.2h1.3v1.3h-1.3zM346.7 328.8h1.3v1.3h-1.3zM290.2 364.1h1.3v1.3h-1.3zM355.6 319.0h1.3v1.3h-1.3zM350.5 319.7h1.3v1.3h-1.3zM294.6 364.2h1.3v1.3h-1.3zM308.1 359.8h1.3v1.3h-1.3zM364.8 310.1h1.3v1.3h-1.3zM353.4 324.5h1.3v1.3h-1.3zM320.5 355.8h1.3v1.3h-1.3zM354.2 319.8h1.3v1.3h-1.3zM353.5 315.0h1.3v1.3h-1.3zM370.5 310.8h1.3v1.3h-1.3zM356.4 313.8h1.3v1.3h-1.3zM290.5 372.0h1.3v1.3h-1.3zM378.6 300.9h1.3v1.3h-1.3zM314.1 343.7h1.3v1.3h-1.3zM404.4 278.8h1.3v1.3h-1.3zM318.1 340.5h1.3v1.3h-1.3zM394.7 288.0h1.3v1.3h-1.3zM303.8 360.8h1.3v1.3h-1.3zM306.3 357.4h1.3v1.3h-1.3zM394.8 296.0h1.3v1.3h-1.3zM364.2 308.6h1.3v1.3h-1.3zM377.0 309.1h1.3v1.3h-1.3zM379.4 297.7h1.3v1.3h-1.3zM395.4 291.1h1.3v1.3h-1.3zM328.2 340.7h1.3v1.3h-1.3zM340.7 333.6h1.3v1.3h-1.3zM388.0 300.7h1.3v1.3h-1.3zM332.3 341.3h1.3v1.3h-1.3zM334.4 343.3h1.3v1.3h-1.3zM385.7 292.8h1.3v1.3h-1.3zM375.2 299.4h1.3v1.3h-1.3zM297.9 360.4h1.3v1.3h-1.3zM338.0 329.3h1.3v1.3h-1.3zM337.9 338.3h1.3v1.3h-1.3zM389.1 292.5h1.3v1.3h-1.3zM330.2 351.8h1.3v1.3h-1.3zM300.8 362.1h1.3v1.3h-1.3zM397.5 280.3h1.3v1.3h-1.3zM322.2 355.7h1.3v1.3h-1.3zM377.0 301.9h1.3v1.3h-1.3zM341.2 337.0h1.3v1.3h-1.3zM324.6 354.0h1.3v1.3h-1.3zM371.3 313.5h1.3v1.3h-1.3zM383.0 294.6h1.3v1.3h-1.3zM386.2 297.2h1.3v1.3h-1.3zM301.6 365.6h1.3v1.3h-1.3zM307.9 352.5h1.3v1.3h-1.3zM310.8 356.6h1.3v1.3h-1.3zM333.5 336.5h1.3v1.3h-1.3zM308.1 348.0h1.3v1.3h-1.3zM320.1 347.8h1.3v1.3h-1.3zM339.7 336.6h1.3v1.3h-1.3zM378.0 307.5h1.3v1.3h-1.3zM380.5 302.6h1.3v1.3h-1.3zM403.4 280.4h1.3v1.3h-1.3zM312.1 358.3h1.3v1.3h-1.3zM321.3 349.0h1.3v1.3h-1.3zM338.1 342.3h1.3v1.3h-1.3zM398.4 285.7h1.3v1.3h-1.3zM343.1 335.3h1.3v1.3h-1.3zM330.9 336.2h1.3v1.3h-1.3zM331.1 348.5h1.3v1.3h-1.3zM344.7 331.9h1.3v1.3h-1.3zM328.5 338.4h1.3v1.3h-1.3zM333.6 348.6h1.3v1.3h-1.3zM348.6 333.4h1.3v1.3h-1.3zM311.8 359.8h1.3v1.3h-1.3zM405.1 273.3h1.3v1.3h-1.3zM312.1 348.2h1.3v1.3h-1.3zM330.4 351.0h1.3v1.3h-1.3zM308.4 348.2h1.3v1.3h-1.3zM387.9 300.6h1.3v1.3h-1.3zM331.3 348.1h1.3v1.3h-1.3zM300.2 362.9h1.3v1.3h-1.3zM316.0 342.5h1.3v1.3h-1.3zM373.9 303.6h1.3v1.3h-1.3zM347.8 330.2h1.3v1.3h-1.3zM337.6 342.5h1.3v1.3h-1.3zM312.5 348.4h1.3v1.3h-1.3zM308.2 352.3h1.3v1.3h-1.3zM341.9 336.1h1.3v1.3h-1.3zM330.2 351.8h1.3v1.3h-1.3zM328.8 348.1h1.3v1.3h-1.3zM304.8 354.9h1.3v1.3h-1.3zM331.8 349.1h1.3v1.3h-1.3zM313.8 352.3h1.3v1.3h-1.3zM296.9 369.7h1.3v1.3h-1.3zM357.5 325.3h1.3v1.3h-1.3zM313.0 349.0h1.3v1.3h-1.3zM376.0 303.0h1.3v1.3h-1.3zM330.1 337.9h1.3v1.3h-1.3zM302.0 361.1h1.3v1.3h-1.3zM391.3 297.8h1.3v1.3h-1.3zM367.6 314.3h1.3v1.3h-1.3zM301.7 359.2h1.3v1.3h-1.3zM330.4 340.6h1.3v1.3h-1.3zM295.0 363.0h1.3v1.3h-1.3zM367.6 313.5h1.3v1.3h-1.3zM316.7 344.7h1.3v1.3h-1.3zM353.4 316.0h1.3v1.3h-1.3zM302.3 364.6h1.3v1.3h-1.3zM325.5 346.8h1.3v1.3h-1.3zM344.8 328.5h1.3v1.3h-1.3zM304.3 353.1h1.3v1.3h-1.3zM324.9 337.3h1.3v1.3h-1.3zM320.6 355.6h1.3v1.3h-1.3zM296.6 369.0h1.3v1.3h-1.3zM339.6 329.3h1.3v1.3h-1.3zM328.9 348.9h1.3v1.3h-1.3zM325.1 344.3h1.3v1.3h-1.3zM383.1 295.9h1.3v1.3h-1.3zM347.7 331.4h1.3v1.3h-1.3zM323.6 354.1h1.3v1.3h-1.3zM329.9 342.8h1.3v1.3h-1.3zM296.8 367.8h1.3v1.3h-1.3zM326.9 346.7h1.3v1.3h-1.3zM308.3 360.9h1.3v1.3h-1.3zM318.0 352.1h1.3v1.3h-1.3zM308.9 357.6h1.3v1.3h-1.3zM329.8 347.2h1.3v1.3h-1.3zM294.7 360.6h1.3v1.3h-1.3zM374.7 306.2h1.3v1.3h-1.3zM364.6 315.8h1.3v1.3h-1.3zM388.1 295.1h1.3v1.3h-1.3zM380.2 302.0h1.3v1.3h-1.3zM356.9 321.0h1.3v1.3h-1.3zM304.1 363.7h1.3v1.3h-1.3zM352.2 318.2h1.3v1.3h-1.3zM375.6 309.7h1.3v1.3h-1.3zM347.1 328.2h1.3v1.3h-1.3zM297.2 362.3h1.3v1.3h-1.3zM323.1 338.6h1.3v1.3h-1.3zM346.3 325.5h1.3v1.3h-1.3zM301.0 363.4h1.3v1.3h-1.3zM346.1 325.3h1.3v1.3h-1.3zM386.1 292.2h1.3v1.3h-1.3zM373.7 304.5h1.3v1.3h-1.3zM294.5 366.1h1.3v1.3h-1.3zM362.1 313.7h1.3v1.3h-1.3zM305.1 366.0h1.3v1.3h-1.3zM333.7 327.2h1.3v1.3h-1.3zM307.1 361.1h1.3v1.3h-1.3zM396.2 287.2h1.3v1.3h-1.3zM303.2 360.8h1.3v1.3h-1.3zM376.6 307.3h1.3v1.3h-1.3zM316.4 354.6h1.3v1.3h-1.3zM298.9 360.9h1.3v1.3h-1.3zM369.0 307.6h1.3v1.3h-1.3zM369.0 311.9h1.3v1.3h-1.3zM393.4 296.2h1.3v1.3h-1.3zM390.1 289.6h1.3v1.3h-1.3zM324.1 346.4h1.3v1.3h-1.3zM360.6 322.4h1.3v1.3h-1.3zM299.6 362.7h1.3v1.3h-1.3zM326.8 343.8h1.3v1.3h-1.3zM292.5 367.3h1.3v1.3h-1.3zM331.4 350.4h1.3v1.3h-1.3zM323.2 346.0h1.3v1.3h-1.3zM381.5 302.1h1.3v1.3h-1.3zM354.0 325.3h1.3v1.3h-1.3zM305.3 348.8h1.3v1.3h-1.3zM344.6 322.5h1.3v1.3h-1.3zM359.9 316.2h1.3v1.3h-1.3zM329.4 346.7h1.3v1.3h-1.3zM323.5 349.9h1.3v1.3h-1.3zM313.9 351.9h1.3v1.3h-1.3zM346.1 336.7h1.3v1.3h-1.3zM357.1 317.2h1.3v1.3h-1.3zM297.1 355.3h1.3v1.3h-1.3zM298.6 366.8h1.3v1.3h-1.3zM342.1 330.3h1.3v1.3h-1.3zM364.9 307.0h1.3v1.3h-1.3zM375.2 312.9h1.3v1.3h-1.3zM301.0 357.2h1.3v1.3h-1.3zM355.0 317.9h1.3v1.3h-1.3zM351.3 321.3h1.3v1.3h-1.3zM333.4 332.4h1.3v1.3h-1.3zM295.2 363.8h1.3v1.3h-1.3zM353.2 322.0h1.3v1.3h-1.3zM400.0 278.1h1.3v1.3h-1.3zM329.5 351.1h1.3v1.3h-1.3zM290.4 370.3h1.3v1.3h-1.3zM317.7 343.8h1.3v1.3h-1.3zM319.1 341.7h1.3v1.3h-1.3zM356.7 313.1h1.3v1.3h-1.3zM323.1 334.4h1.3v1.3h-1.3zM386.0 293.6h1.3v1.3h-1.3zM292.0 367.2h1.3v1.3h-1.3zM329.0 347.4h1.3v1.3h-1.3zM344.9 328.8h1.3v1.3h-1.3zM339.5 327.4h1.3v1.3h-1.3zM297.4 366.9h1.3v1.3h-1.3zM341.6 325.5h1.3v1.3h-1.3zM311.1 350.6h1.3v1.3h-1.3zM303.6 359.4h1.3v1.3h-1.3zM304.9 364.0h1.3v1.3h-1.3zM320.6 355.0h1.3v1.3h-1.3zM321.1 351.0h1.3v1.3h-1.3zM360.7 319.9h1.3v1.3h-1.3zM317.5 359.4h1.3v1.3h-1.3zM319.0 357.9h1.3v1.3h-1.3zM320.9 357.5h1.3v1.3h-1.3zM348.7 327.1h1.3v1.3h-1.3zM390.9 284.6h1.3v1.3h-1.3zM398.5 287.6h1.3v1.3h-1.3zM317.4 349.5h1.3v1.3h-1.3zM310.4 355.2h1.3v1.3h-1.3zM338.0 328.9h1.3v1.3h-1.3zM389.4 297.8h1.3v1.3h-1.3zM331.0 341.7h1.3v1.3h-1.3zM297.2 366.2h1.3v1.3h-1.3zM338.4 324.2h1.3v1.3h-1.3zM340.8 333.2h1.3v1.3h-1.3zM304.8 354.7h1.3v1.3h-1.3zM327.3 334.7h1.3v1.3h-1.3zM336.7 331.1h1.3v1.3h-1.3zM298.4 360.4h1.3v1.3h-1.3zM316.9 343.6h1.3v1.3h-1.3zM312.8 356.5h1.3v1.3h-1.3zM326.1 341.2h1.3v1.3h-1.3zM385.3 292.8h1.3v1.3h-1.3zM341.1 324.1h1.3v1.3h-1.3zM404.7 274.5h1.3v1.3h-1.3zM311.0 352.4h1.3v1.3h-1.3zM360.3 312.7h1.3v1.3h-1.3zM312.5 360.5h1.3v1.3h-1.3zM293.5 367.0h1.3v1.3h-1.3zM389.2 298.2h1.3v1.3h-1.3zM349.2 318.9h1.3v1.3h-1.3zM329.4 341.6h1.3v1.3h-1.3zM294.5 368.4h1.3v1.3h-1.3zM330.1 329.2h1.3v1.3h-1.3zM313.4 345.2h1.3v1.3h-1.3zM295.9 362.7h1.3v1.3h-1.3zM381.4 295.5h1.3v1.3h-1.3zM360.8 317.1h1.3v1.3h-1.3zM363.6 316.3h1.3v1.3h-1.3zM341.8 325.1h1.3v1.3h-1.3zM311.3 356.3h1.3v1.3h-1.3zM301.1 368.0h1.3v1.3h-1.3zM396.1 290.7h1.3v1.3h-1.3zM339.6 329.0h1.3v1.3h-1.3zM297.1 369.9h1.3v1.3h-1.3zM372.1 311.4h1.3v1.3h-1.3zM342.8 332.9h1.3v1.3h-1.3zM381.5 293.7h1.3v1.3h-1.3zM374.9 303.9h1.3v1.3h-1.3zM338.3 330.0h1.3v1.3h-1.3zM330.2 347.8h1.3v1.3h-1.3zM304.7 360.1h1.3v1.3h-1.3zM301.6 361.8h1.3v1.3h-1.3zM376.4 301.7h1.3v1.3h-1.3zM337.9 339.5h1.3v1.3h-1.3zM354.2 321.7h1.3v1.3h-1.3zM295.0 362.7h1.3v1.3h-1.3zM292.3 371.1h1.3v1.3h-1.3zM315.3 350.8h1.3v1.3h-1.3zM348.3 330.2h1.3v1.3h-1.3zM333.9 333.1h1.3v1.3h-1.3zM370.3 311.5h1.3v1.3h-1.3zM332.4 331.9h1.3v1.3h-1.3zM340.3 333.6h1.3v1.3h-1.3zM296.4 361.8h1.3v1.3h-1.3zM371.0 302.6h1.3v1.3h-1.3zM303.9 352.4h1.3v1.3h-1.3zM312.0 353.5h1.3v1.3h-1.3zM315.2 352.4h1.3v1.3h-1.3zM345.1 328.2h1.3v1.3h-1.3zM373.2 305.6h1.3v1.3h-1.3zM344.4 331.4h1.3v1.3h-1.3zM398.0 288.7h1.3v1.3h-1.3zM392.5 293.9h1.3v1.3h-1.3zM299.4 363.7h1.3v1.3h-1.3zM371.7 303.6h1.3v1.3h-1.3zM318.5 350.2h1.3v1.3h-1.3zM325.6 335.5h1.3v1.3h-1.3zM342.2 343.0h1.3v1.3h-1.3zM304.2 351.2h1.3v1.3h-1.3zM339.5 336.1h1.3v1.3h-1.3zM297.4 369.8h1.3v1.3h-1.3zM381.4 307.2h1.3v1.3h-1.3zM332.6 333.2h1.3v1.3h-1.3zM331.0 344.2h1.3v1.3h-1.3zM302.7 354.6h1.3v1.3h-1.3zM335.0 326.0h1.3v1.3h-1.3zM299.1 355.8h1.3v1.3h-1.3zM398.5 277.6h1.3v1.3h-1.3zM314.8 357.5h1.3v1.3h-1.3zM293.4 368.6h1.3v1.3h-1.3zM325.1 345.5h1.3v1.3h-1.3zM368.2 307.6h1.3v1.3h-1.3zM330.8 334.3h1.3v1.3h-1.3zM292.9 367.6h1.3v1.3h-1.3zM351.3 322.2h1.3v1.3h-1.3zM386.2 289.5h1.3v1.3h-1.3zM319.4 349.2h1.3v1.3h-1.3zM323.3 356.0h1.3v1.3h-1.3zM332.5 339.0h1.3v1.3h-1.3zM332.0 344.7h1.3v1.3h-1.3zM324.8 338.3h1.3v1.3h-1.3zM301.3 364.1h1.3v1.3h-1.3zM343.4 333.5h1.3v1.3h-1.3zM289.9 373.4h1.3v1.3h-1.3zM294.3 361.7h1.3v1.3h-1.3zM370.8 311.7h1.3v1.3h-1.3zM359.5 309.8h1.3v1.3h-1.3zM319.4 344.7h1.3v1.3h-1.3zM338.6 330.9h1.3v1.3h-1.3zM320.7 346.5h1.3v1.3h-1.3zM298.4 369.3h1.3v1.3h-1.3zM339.0 324.8h1.3v1.3h-1.3zM329.5 346.0h1.3v1.3h-1.3zM345.5 334.5h1.3v1.3h-1.3zM296.3 359.0h1.3v1.3h-1.3zM292.0 369.9h1.3v1.3h-1.3zM341.7 327.7h1.3v1.3h-1.3zM339.7 326.0h1.3v1.3h-1.3zM393.7 291.7h1.3v1.3h-1.3zM381.7 296.3h1.3v1.3h-1.3zM320.3 353.0h1.3v1.3h-1.3zM386.0 296.8h1.3v1.3h-1.3zM344.1 328.6h1.3v1.3h-1.3zM312.9 360.5h1.3v1.3h-1.3zM324.8 339.0h1.3v1.3h-1.3zM308.7 356.7h1.3v1.3h-1.3zM294.1 364.1h1.3v1.3h-1.3zM298.4 359.7h1.3v1.3h-1.3zM362.8 311.6h1.3v1.3h-1.3zM330.3 334.6h1.3v1.3h-1.3zM302.3 365.7h1.3v1.3h-1.3zM311.7 354.7h1.3v1.3h-1.3zM404.0 279.2h1.3v1.3h-1.3zM300.6 356.0h1.3v1.3h-1.3zM329.1 344.5h1.3v1.3h-1.3zM387.4 291.2h1.3v1.3h-1.3zM375.0 301.8h1.3v1.3h-1.3zM390.0 299.9h1.3v1.3h-1.3zM348.3 327.0h1.3v1.3h-1.3zM310.5 355.5h1.3v1.3h-1.3zM355.0 315.7h1.3v1.3h-1.3zM374.6 304.2h1.3v1.3h-1.3zM382.5 303.8h1.3v1.3h-1.3zM299.6 359.7h1.3v1.3h-1.3zM311.5 357.0h1.3v1.3h-1.3zM325.9 333.3h1.3v1.3h-1.3zM298.5 369.2h1.3v1.3h-1.3zM361.9 317.0h1.3v1.3h-1.3zM299.4 357.6h1.3v1.3h-1.3zM318.9 345.2h1.3v1.3h-1.3zM331.2 334.4h1.3v1.3h-1.3zM297.1 369.9h1.3v1.3h-1.3zM311.3 362.8h1.3v1.3h-1.3zM330.2 349.3h1.3v1.3h-1.3zM316.6 350.6h1.3v1.3h-1.3zM291.1 372.5h1.3v1.3h-1.3zM304.9 350.6h1.3v1.3h-1.3zM333.7 328.3h1.3v1.3h-1.3zM325.0 343.4h1.3v1.3h-1.3zM326.8 349.4h1.3v1.3h-1.3zM340.2 332.9h1.3v1.3h-1.3zM385.0 291.0h1.3v1.3h-1.3zM400.0 285.8h1.3v1.3h-1.3zM315.1 346.0h1.3v1.3h-1.3zM364.9 320.1h1.3v1.3h-1.3zM356.4 316.4h1.3v1.3h-1.3zM293.1 370.2h1.3v1.3h-1.3zM311.5 351.7h1.3v1.3h-1.3zM360.0 320.4h1.3v1.3h-1.3zM298.0 362.3h1.3v1.3h-1.3zM327.5 349.1h1.3v1.3h-1.3zM291.1 362.3h1.3v1.3h-1.3zM333.2 333.5h1.3v1.3h-1.3zM345.9 328.9h1.3v1.3h-1.3zM361.6 313.5h1.3v1.3h-1.3zM317.7 356.8h1.3v1.3h-1.3zM370.1 310.3h1.3v1.3h-1.3zM329.8 345.9h1.3v1.3h-1.3zM345.9 326.0h1.3v1.3h-1.3zM308.7 346.5h1.3v1.3h-1.3zM360.3 310.5h1.3v1.3h-1.3zM371.5 305.3h1.3v1.3h-1.3zM339.6 342.9h1.3v1.3h-1.3zM331.3 346.0h1.3v1.3h-1.3zM328.5 349.3h1.3v1.3h-1.3zM337.8 328.8h1.3v1.3h-1.3zM348.7 333.9h1.3v1.3h-1.3zM400.3 277.3h1.3v1.3h-1.3zM335.3 343.5h1.3v1.3h-1.3zM371.9 305.0h1.3v1.3h-1.3zM297.0 369.9h1.3v1.3h-1.3zM357.7 320.1h1.3v1.3h-1.3zM293.2 371.0h1.3v1.3h-1.3zM302.9 362.7h1.3v1.3h-1.3zM298.8 360.4h1.3v1.3h-1.3zM320.9 338.5h1.3v1.3h-1.3zM394.8 294.2h1.3v1.3h-1.3zM358.3 318.9h1.3v1.3h-1.3zM324.0 334.8h1.3v1.3h-1.3zM312.3 347.7h1.3v1.3h-1.3zM308.4 363.3h1.3v1.3h-1.3zM364.8 313.6h1.3v1.3h-1.3zM307.9 351.1h1.3v1.3h-1.3zM359.5 313.5h1.3v1.3h-1.3zM304.8 362.6h1.3v1.3h-1.3zM322.3 346.7h1.3v1.3h-1.3zM366.6 308.4h1.3v1.3h-1.3zM388.6 299.5h1.3v1.3h-1.3zM332.6 337.3h1.3v1.3h-1.3zM375.4 303.0h1.3v1.3h-1.3zM295.1 358.2h1.3v1.3h-1.3zM341.2 343.9h1.3v1.3h-1.3zM335.3 340.3h1.3v1.3h-1.3zM323.7 339.1h1.3v1.3h-1.3zM302.3 364.8h1.3v1.3h-1.3zM392.0 299.4h1.3v1.3h-1.3zM376.7 307.9h1.3v1.3h-1.3zM307.4 353.9h1.3v1.3h-1.3zM330.4 348.9h1.3v1.3h-1.3zM376.4 312.7h1.3v1.3h-1.3zM313.4 358.0h1.3v1.3h-1.3zM399.9 284.9h1.3v1.3h-1.3zM392.0 288.4h1.3v1.3h-1.3zM389.5 292.9h1.3v1.3h-1.3zM326.6 349.0h1.3v1.3h-1.3zM383.0 298.7h1.3v1.3h-1.3zM352.3 317.1h1.3v1.3h-1.3zM338.2 340.3h1.3v1.3h-1.3zM304.7 357.8h1.3v1.3h-1.3zM318.9 350.7h1.3v1.3h-1.3zM309.6 359.0h1.3v1.3h-1.3zM306.9 348.6h1.3v1.3h-1.3zM387.0 298.6h1.3v1.3h-1.3zM302.5 365.8h1.3v1.3h-1.3zM332.5 331.1h1.3v1.3h-1.3zM342.1 330.6h1.3v1.3h-1.3zM319.6 353.7h1.3v1.3h-1.3zM379.8 305.5h1.3v1.3h-1.3zM376.7 311.2h1.3v1.3h-1.3zM407.3 274.1h1.3v1.3h-1.3zM311.0 362.9h1.3v1.3h-1.3zM308.2 364.1h1.3v1.3h-1.3zM353.7 325.8h1.3v1.3h-1.3zM318.2 358.3h1.3v1.3h-1.3zM294.0 368.8h1.3v1.3h-1.3zM383.6 295.1h1.3v1.3h-1.3zM325.6 340.7h1.3v1.3h-1.3zM290.5 364.5h1.3v1.3h-1.3zM304.2 357.8h1.3v1.3h-1.3zM351.5 322.8h1.3v1.3h-1.3zM373.2 302.3h1.3v1.3h-1.3zM333.7 335.9h1.3v1.3h-1.3zM333.1 333.6h1.3v1.3h-1.3zM313.0 351.2h1.3v1.3h-1.3zM320.6 338.9h1.3v1.3h-1.3zM301.2 366.1h1.3v1.3h-1.3zM304.9 357.9h1.3v1.3h-1.3zM356.8 315.3h1.3v1.3h-1.3zM360.7 314.8h1.3v1.3h-1.3zM384.3 303.1h1.3v1.3h-1.3zM338.4 338.4h1.3v1.3h-1.3zM313.6 347.6h1.3v1.3h-1.3zM331.9 348.4h1.3v1.3h-1.3zM336.4 328.2h1.3v1.3h-1.3zM290.1 365.3h1.3v1.3h-1.3zM402.1 279.6h1.3v1.3h-1.3zM306.8 359.1h1.3v1.3h-1.3zM322.9 339.0h1.3v1.3h-1.3zM355.6 316.1h1.3v1.3h-1.3zM380.4 309.5h1.3v1.3h-1.3zM344.8 326.8h1.3v1.3h-1.3zM317.5 353.0h1.3v1.3h-1.3zM294.4 363.8h1.3v1.3h-1.3zM303.2 355.8h1.3v1.3h-1.3zM308.0 358.2h1.3v1.3h-1.3zM335.2 343.8h1.3v1.3h-1.3zM317.8 348.1h1.3v1.3h-1.3zM307.1 358.4h1.3v1.3h-1.3zM301.5 355.4h1.3v1.3h-1.3zM358.6 313.0h1.3v1.3h-1.3zM343.8 336.1h1.3v1.3h-1.3zM355.4 325.2h1.3v1.3h-1.3zM302.8 367.2h1.3v1.3h-1.3zM292.0 368.0h1.3v1.3h-1.3zM307.1 348.0h1.3v1.3h-1.3zM329.5 335.8h1.3v1.3h-1.3zM400.1 277.6h1.3v1.3h-1.3zM323.8 355.1h1.3v1.3h-1.3zM290.0 367.3h1.3v1.3h-1.3zM313.4 354.8h1.3v1.3h-1.3zM314.5 344.2h1.3v1.3h-1.3zM333.3 335.7h1.3v1.3h-1.3zM322.3 343.1h1.3v1.3h-1.3zM344.2 323.8h1.3v1.3h-1.3zM328.6 340.2h1.3v1.3h-1.3zM344.0 337.1h1.3v1.3h-1.3zM295.6 369.5h1.3v1.3h-1.3zM335.5 331.0h1.3v1.3h-1.3zM317.4 350.1h1.3v1.3h-1.3zM307.0 360.6h1.3v1.3h-1.3zM326.5 346.4h1.3v1.3h-1.3zM315.5 341.3h1.3v1.3h-1.3zM383.0 303.7h1.3v1.3h-1.3zM326.1 344.1h1.3v1.3h-1.3zM355.0 315.7h1.3v1.3h-1.3zM361.8 314.1h1.3v1.3h-1.3zM316.7 337.3h1.3v1.3h-1.3zM299.2 361.2h1.3v1.3h-1.3zM355.0 323.6h1.3v1.3h-1.3zM300.1 364.8h1.3v1.3h-1.3zM309.7 355.1h1.3v1.3h-1.3zM339.7 322.7h1.3v1.3h-1.3zM318.5 338.9h1.3v1.3h-1.3zM313.3 359.8h1.3v1.3h-1.3zM299.6 359.7h1.3v1.3h-1.3zM290.2 366.8h1.3v1.3h-1.3zM302.0 357.2h1.3v1.3h-1.3zM321.0 344.5h1.3v1.3h-1.3zM294.5 362.1h1.3v1.3h-1.3zM366.2 316.1h1.3v1.3h-1.3zM327.3 334.7h1.3v1.3h-1.3zM329.4 335.5h1.3v1.3h-1.3zM356.3 322.0h1.3v1.3h-1.3zM332.8 330.8h1.3v1.3h-1.3zM307.0 353.8h1.3v1.3h-1.3zM345.0 329.2h1.3v1.3h-1.3zM330.5 340.1h1.3v1.3h-1.3zM313.3 347.2h1.3v1.3h-1.3zM315.9 345.0h1.3v1.3h-1.3zM305.5 349.1h1.3v1.3h-1.3zM388.2 297.0h1.3v1.3h-1.3zM307.6 362.4h1.3v1.3h-1.3zM298.8 366.5h1.3v1.3h-1.3zM370.5 306.1h1.3v1.3h-1.3zM352.0 327.3h1.3v1.3h-1.3zM323.0 337.9h1.3v1.3h-1.3zM310.1 352.0h1.3v1.3h-1.3zM385.7 297.0h1.3v1.3h-1.3zM334.6 344.9h1.3v1.3h-1.3zM323.8 345.6h1.3v1.3h-1.3zM326.7 333.1h1.3v1.3h-1.3zM297.9 360.0h1.3v1.3h-1.3zM295.8 370.5h1.3v1.3h-1.3zM320.2 345.8h1.3v1.3h-1.3zM313.2 361.8h1.3v1.3h-1.3zM379.2 308.3h1.3v1.3h-1.3zM292.5 371.0h1.3v1.3h-1.3zM362.2 317.1h1.3v1.3h-1.3zM333.6 342.6h1.3v1.3h-1.3zM323.9 346.2h1.3v1.3h-1.3zM373.4 306.6h1.3v1.3h-1.3zM319.9 343.8h1.3v1.3h-1.3zM293.3 368.7h1.3v1.3h-1.3zM321.3 349.9h1.3v1.3h-1.3zM313.4 349.7h1.3v1.3h-1.3zM327.4 344.7h1.3v1.3h-1.3zM362.4 320.8h1.3v1.3h-1.3zM311.3 361.9h1.3v1.3h-1.3zM351.9 324.5h1.3v1.3h-1.3zM402.3 278.5h1.3v1.3h-1.3zM335.9 342.5h1.3v1.3h-1.3zM340.8 326.1h1.3v1.3h-1.3zM294.7 362.2h1.3v1.3h-1.3zM322.1 337.0h1.3v1.3h-1.3zM346.5 333.4h1.3v1.3h-1.3zM363.7 308.1h1.3v1.3h-1.3zM323.0 344.1h1.3v1.3h-1.3zM389.3 299.5h1.3v1.3h-1.3zM385.7 306.3h1.3v1.3h-1.3zM316.0 351.8h1.3v1.3h-1.3zM404.5 280.5h1.3v1.3h-1.3zM336.4 331.6h1.3v1.3h-1.3zM295.2 355.1h1.3v1.3h-1.3zM319.2 340.2h1.3v1.3h-1.3zM330.1 340.5h1.3v1.3h-1.3zM327.2 340.5h1.3v1.3h-1.3zM341.8 332.2h1.3v1.3h-1.3zM358.0 318.4h1.3v1.3h-1.3zM300.6 363.3h1.3v1.3h-1.3zM305.0 352.7h1.3v1.3h-1.3zM350.9 318.6h1.3v1.3h-1.3zM295.2 362.8h1.3v1.3h-1.3zM296.4 362.1h1.3v1.3h-1.3zM332.2 334.7h1.3v1.3h-1.3zM335.4 348.4h1.3v1.3h-1.3zM308.7 351.0h1.3v1.3h-1.3zM300.7 356.3h1.3v1.3h-1.3zM346.0 330.1h1.3v1.3h-1.3zM398.2 282.2h1.3v1.3h-1.3zM304.3 356.9h1.3v1.3h-1.3zM332.1 330.3h1.3v1.3h-1.3zM289.7 370.7h1.3v1.3h-1.3zM314.4 356.8h1.3v1.3h-1.3zM406.6 275.4h1.3v1.3h-1.3zM312.9 353.8h1.3v1.3h-1.3zM298.0 358.5h1.3v1.3h-1.3zM322.4 344.9h1.3v1.3h-1.3zM337.9 340.4h1.3v1.3h-1.3zM341.5 340.8h1.3v1.3h-1.3zM320.3 342.2h1.3v1.3h-1.3zM291.6 364.6h1.3v1.3h-1.3zM395.3 288.7h1.3v1.3h-1.3zM325.9 340.9h1.3v1.3h-1.3zM384.4 302.6h1.3v1.3h-1.3zM299.5 366.7h1.3v1.3h-1.3zM389.7 288.9h1.3v1.3h-1.3zM323.8 349.7h1.3v1.3h-1.3zM353.0 320.4h1.3v1.3h-1.3zM376.7 302.9h1.3v1.3h-1.3zM338.9 336.5h1.3v1.3h-1.3zM338.6 332.5h1.3v1.3h-1.3zM319.6 355.8h1.3v1.3h-1.3zM337.1 328.6h1.3v1.3h-1.3zM352.2 321.2h1.3v1.3h-1.3zM355.8 319.7h1.3v1.3h-1.3zM325.5 346.7h1.3v1.3h-1.3zM400.3 281.4h1.3v1.3h-1.3zM398.0 286.4h1.3v1.3h-1.3zM315.1 341.8h1.3v1.3h-1.3zM371.0 307.3h1.3v1.3h-1.3zM381.8 294.2h1.3v1.3h-1.3zM399.7 287.6h1.3v1.3h-1.3zM350.4 325.0h1.3v1.3h-1.3zM314.5 350.5h1.3v1.3h-1.3zM321.8 336.2h1.3v1.3h-1.3zM326.4 352.2h1.3v1.3h-1.3zM301.4 360.3h1.3v1.3h-1.3zM360.9 312.1h1.3v1.3h-1.3zM304.5 365.7h1.3v1.3h-1.3zM406.5 273.9h1.3v1.3h-1.3zM381.2 304.9h1.3v1.3h-1.3zM378.4 301.4h1.3v1.3h-1.3zM310.9 360.6h1.3v1.3h-1.3zM296.1 361.6h1.3v1.3h-1.3zM324.3 349.0h1.3v1.3h-1.3zM366.8 317.6h1.3v1.3h-1.3zM366.1 313.3h1.3v1.3h-1.3zM325.1 341.8h1.3v1.3h-1.3zM402.7 279.7h1.3v1.3h-1.3zM339.7 344.2h1.3v1.3h-1.3zM332.2 347.9h1.3v1.3h-1.3zM319.2 358.5h1.3v1.3h-1.3zM349.6 322.6h1.3v1.3h-1.3zM335.5 342.7h1.3v1.3h-1.3zM330.0 343.9h1.3v1.3h-1.3zM397.3 288.6h1.3v1.3h-1.3zM330.0 340.0h1.3v1.3h-1.3zM368.5 309.3h1.3v1.3h-1.3zM303.1 362.2h1.3v1.3h-1.3zM323.3 348.4h1.3v1.3h-1.3zM312.5 357.1h1.3v1.3h-1.3zM303.0 355.5h1.3v1.3h-1.3zM307.2 363.1h1.3v1.3h-1.3zM339.8 343.6h1.3v1.3h-1.3zM314.5 352.1h1.3v1.3h-1.3zM340.2 342.5h1.3v1.3h-1.3zM318.7 349.8h1.3v1.3h-1.3zM291.9 364.1h1.3v1.3h-1.3zM321.4 345.5h1.3v1.3h-1.3zM328.5 346.6h1.3v1.3h-1.3zM323.3 342.2h1.3v1.3h-1.3zM393.4 285.0h1.3v1.3h-1.3zM369.2 306.6h1.3v1.3h-1.3zM321.6 357.0h1.3v1.3h-1.3zM359.9 315.5h1.3v1.3h-1.3zM335.0 325.7h1.3v1.3h-1.3zM314.6 351.9h1.3v1.3h-1.3zM378.7 298.5h1.3v1.3h-1.3zM327.4 349.8h1.3v1.3h-1.3zM293.9 361.7h1.3v1.3h-1.3zM307.5 362.6h1.3v1.3h-1.3zM339.7 332.5h1.3v1.3h-1.3zM305.2 358.2h1.3v1.3h-1.3zM339.2 327.5h1.3v1.3h-1.3zM337.6 337.4h1.3v1.3h-1.3zM291.3 370.5h1.3v1.3h-1.3zM323.0 349.6h1.3v1.3h-1.3zM291.6 366.8h1.3v1.3h-1.3zM310.9 350.1h1.3v1.3h-1.3zM370.4 304.9h1.3v1.3h-1.3zM386.7 294.2h1.3v1.3h-1.3zM339.5 343.0h1.3v1.3h-1.3zM333.3 329.4h1.3v1.3h-1.3zM351.1 318.4h1.3v1.3h-1.3zM316.9 349.5h1.3v1.3h-1.3zM291.4 372.7h1.3v1.3h-1.3zM325.4 344.6h1.3v1.3h-1.3zM320.7 337.7h1.3v1.3h-1.3zM342.1 323.2h1.3v1.3h-1.3zM311.1 349.1h1.3v1.3h-1.3zM313.5 350.3h1.3v1.3h-1.3zM324.5 348.7h1.3v1.3h-1.3zM328.9 341.2h1.3v1.3h-1.3zM300.5 355.1h1.3v1.3h-1.3zM332.0 347.0h1.3v1.3h-1.3zM346.6 331.6h1.3v1.3h-1.3zM312.2 361.4h1.3v1.3h-1.3zM311.7 356.4h1.3v1.3h-1.3zM366.9 308.1h1.3v1.3h-1.3zM322.5 342.4h1.3v1.3h-1.3zM319.0 346.8h1.3v1.3h-1.3zM318.2 349.6h1.3v1.3h-1.3zM295.4 368.6h1.3v1.3h-1.3zM341.7 323.5h1.3v1.3h-1.3zM325.5 346.4h1.3v1.3h-1.3zM336.9 334.4h1.3v1.3h-1.3zM324.8 338.6h1.3v1.3h-1.3zM345.0 337.0h1.3v1.3h-1.3zM306.2 354.3h1.3v1.3h-1.3zM317.2 350.3h1.3v1.3h-1.3zM344.1 326.0h1.3v1.3h-1.3zM292.1 368.7h1.3v1.3h-1.3zM311.3 358.3h1.3v1.3h-1.3zM374.3 298.2h1.3v1.3h-1.3zM308.9 357.7h1.3v1.3h-1.3zM349.5 319.9h1.3v1.3h-1.3zM334.6 331.0h1.3v1.3h-1.3zM324.2 351.3h1.3v1.3h-1.3zM389.8 299.8h1.3v1.3h-1.3zM323.2 335.1h1.3v1.3h-1.3zM291.9 365.5h1.3v1.3h-1.3zM300.6 366.6h1.3v1.3h-1.3zM397.4 283.9h1.3v1.3h-1.3zM296.1 362.7h1.3v1.3h-1.3zM310.2 352.1h1.3v1.3h-1.3zM324.6 352.2h1.3v1.3h-1.3zM397.7 279.4h1.3v1.3h-1.3zM338.8 345.2h1.3v1.3h-1.3zM321.6 349.1h1.3v1.3h-1.3zM380.1 303.3h1.3v1.3h-1.3zM349.9 319.6h1.3v1.3h-1.3zM366.3 312.5h1.3v1.3h-1.3zM376.6 310.1h1.3v1.3h-1.3zM308.9 353.3h1.3v1.3h-1.3zM304.7 354.7h1.3v1.3h-1.3zM302.8 365.3h1.3v1.3h-1.3zM313.1 356.4h1.3v1.3h-1.3zM340.7 339.2h1.3v1.3h-1.3zM391.3 290.7h1.3v1.3h-1.3zM315.6 352.1h1.3v1.3h-1.3zM399.0 279.8h1.3v1.3h-1.3zM324.8 335.7h1.3v1.3h-1.3zM377.9 310.9h1.3v1.3h-1.3zM355.7 320.4h1.3v1.3h-1.3zM393.2 295.3h1.3v1.3h-1.3zM347.3 334.2h1.3v1.3h-1.3zM327.9 344.8h1.3v1.3h-1.3zM372.2 314.2h1.3v1.3h-1.3zM334.5 332.5h1.3v1.3h-1.3zM403.3 278.2h1.3v1.3h-1.3zM301.1 366.8h1.3v1.3h-1.3zM332.1 348.9h1.3v1.3h-1.3zM312.8 349.1h1.3v1.3h-1.3zM340.0 341.4h1.3v1.3h-1.3zM326.3 347.1h1.3v1.3h-1.3zM356.1 321.6h1.3v1.3h-1.3zM318.3 346.0h1.3v1.3h-1.3zM316.0 340.1h1.3v1.3h-1.3zM298.4 365.3h1.3v1.3h-1.3zM322.7 351.1h1.3v1.3h-1.3zM299.3 368.8h1.3v1.3h-1.3zM365.6 311.1h1.3v1.3h-1.3zM359.5 313.9h1.3v1.3h-1.3zM361.5 320.7h1.3v1.3h-1.3zM392.3 295.7h1.3v1.3h-1.3zM308.0 350.5h1.3v1.3h-1.3zM359.8 317.5h1.3v1.3h-1.3zM380.4 305.3h1.3v1.3h-1.3zM373.5 312.3h1.3v1.3h-1.3zM323.5 336.8h1.3v1.3h-1.3zM291.2 370.0h1.3v1.3h-1.3zM296.4 365.4h1.3v1.3h-1.3zM342.3 339.2h1.3v1.3h-1.3zM299.4 368.0h1.3v1.3h-1.3zM399.3 289.2h1.3v1.3h-1.3zM382.7 307.4h1.3v1.3h-1.3zM372.0 309.6h1.3v1.3h-1.3zM337.1 334.1h1.3v1.3h-1.3zM325.4 332.7h1.3v1.3h-1.3zM335.4 347.0h1.3v1.3h-1.3zM297.8 368.2h1.3v1.3h-1.3zM343.8 321.5h1.3v1.3h-1.3zM303.8 362.9h1.3v1.3h-1.3zM388.6 291.7h1.3v1.3h-1.3zM332.0 329.3h1.3v1.3h-1.3zM319.4 350.0h1.3v1.3h-1.3zM320.0 348.7h1.3v1.3h-1.3zM394.2 294.9h1.3v1.3h-1.3zM306.1 361.4h1.3v1.3h-1.3zM320.5 349.4h1.3v1.3h-1.3zM365.1 314.1h1.3v1.3h-1.3zM332.5 339.3h1.3v1.3h-1.3zM388.6 290.9h1.3v1.3h-1.3zM301.1 360.6h1.3v1.3h-1.3zM354.1 324.5h1.3v1.3h-1.3zM291.5 361.8h1.3v1.3h-1.3zM394.5 296.6h1.3v1.3h-1.3zM333.6 328.0h1.3v1.3h-1.3zM297.6 367.1h1.3v1.3h-1.3zM369.3 309.0h1.3v1.3h-1.3zM373.0 302.3h1.3v1.3h-1.3zM316.4 348.7h1.3v1.3h-1.3zM377.9 306.6h1.3v1.3h-1.3zM361.4 323.4h1.3v1.3h-1.3zM325.8 345.8h1.3v1.3h-1.3zM311.5 358.6h1.3v1.3h-1.3zM333.5 329.4h1.3v1.3h-1.3zM321.9 356.9h1.3v1.3h-1.3zM302.1 365.2h1.3v1.3h-1.3zM396.2 280.2h1.3v1.3h-1.3zM306.5 351.0h1.3v1.3h-1.3zM328.7 337.1h1.3v1.3h-1.3zM311.7 345.5h1.3v1.3h-1.3zM391.6 289.3h1.3v1.3h-1.3zM325.8 345.1h1.3v1.3h-1.3zM377.0 300.7h1.3v1.3h-1.3zM303.5 352.1h1.3v1.3h-1.3zM390.3 297.7h1.3v1.3h-1.3zM323.3 352.6h1.3v1.3h-1.3zM326.2 352.8h1.3v1.3h-1.3zM301.5 359.2h1.3v1.3h-1.3zM291.1 366.3h1.3v1.3h-1.3zM290.4 372.2h1.3v1.3h-1.3zM304.1 356.6h1.3v1.3h-1.3zM330.8 346.2h1.3v1.3h-1.3zM387.3 293.0h1.3v1.3h-1.3zM295.5 363.5h1.3v1.3h-1.3zM370.7 308.4h1.3v1.3h-1.3zM294.1 371.3h1.3v1.3h-1.3zM326.3 335.0h1.3v1.3h-1.3zM305.9 360.6h1.3v1.3h-1.3zM365.7 311.1h1.3v1.3h-1.3zM339.0 335.7h1.3v1.3h-1.3zM324.5 337.6h1.3v1.3h-1.3zM396.4 292.8h1.3v1.3h-1.3zM308.0 351.1h1.3v1.3h-1.3zM320.7 357.5h1.3v1.3h-1.3zM297.4 359.8h1.3v1.3h-1.3zM382.0 303.6h1.3v1.3h-1.3zM348.7 324.5h1.3v1.3h-1.3zM368.4 306.4h1.3v1.3h-1.3zM386.3 289.6h1.3v1.3h-1.3zM342.5 338.4h1.3v1.3h-1.3zM388.1 298.7h1.3v1.3h-1.3zM351.4 329.6h1.3v1.3h-1.3zM401.3 279.0h1.3v1.3h-1.3zM295.8 357.2h1.3v1.3h-1.3zM345.7 323.4h1.3v1.3h-1.3zM308.7 351.6h1.3v1.3h-1.3zM301.4 357.2h1.3v1.3h-1.3zM360.7 315.9h1.3v1.3h-1.3zM292.5 363.8h1.3v1.3h-1.3zM398.2 283.5h1.3v1.3h-1.3zM303.2 355.8h1.3v1.3h-1.3zM309.1 363.2h1.3v1.3h-1.3zM391.0 286.2h1.3v1.3h-1.3zM361.6 317.6h1.3v1.3h-1.3zM328.9 334.6h1.3v1.3h-1.3zM376.3 302.5h1.3v1.3h-1.3zM314.3 346.3h1.3v1.3h-1.3zM394.9 280.5h1.3v1.3h-1.3zM335.9 339.0h1.3v1.3h-1.3zM335.7 337.6h1.3v1.3h-1.3zM330.2 342.6h1.3v1.3h-1.3zM292.8 364.8h1.3v1.3h-1.3zM377.7 305.9h1.3v1.3h-1.3zM335.8 331.5h1.3v1.3h-1.3zM318.6 351.3h1.3v1.3h-1.3zM347.9 319.3h1.3v1.3h-1.3zM357.9 318.9h1.3v1.3h-1.3zM351.8 319.2h1.3v1.3h-1.3zM300.9 358.4h1.3v1.3h-1.3zM341.6 333.3h1.3v1.3h-1.3zM365.2 308.7h1.3v1.3h-1.3zM327.3 335.8h1.3v1.3h-1.3zM367.2 315.6h1.3v1.3h-1.3zM330.3 340.0h1.3v1.3h-1.3zM345.5 332.2h1.3v1.3h-1.3zM397.8 280.9h1.3v1.3h-1.3zM328.0 335.5h1.3v1.3h-1.3zM339.0 340.0h1.3v1.3h-1.3zM401.9 278.6h1.3v1.3h-1.3zM392.9 281.7h1.3v1.3h-1.3zM304.1 362.4h1.3v1.3h-1.3zM292.8 372.0h1.3v1.3h-1.3zM301.9 361.0h1.3v1.3h-1.3zM396.4 282.2h1.3v1.3h-1.3zM341.2 326.6h1.3v1.3h-1.3zM338.4 327.3h1.3v1.3h-1.3zM330.4 342.9h1.3v1.3h-1.3zM402.7 274.4h1.3v1.3h-1.3zM324.0 353.1h1.3v1.3h-1.3zM301.9 356.9h1.3v1.3h-1.3zM349.0 319.4h1.3v1.3h-1.3zM357.0 316.1h1.3v1.3h-1.3zM313.2 347.8h1.3v1.3h-1.3zM294.9 362.3h1.3v1.3h-1.3zM305.8 351.4h1.3v1.3h-1.3zM307.1 347.5h1.3v1.3h-1.3zM315.0 355.3h1.3v1.3h-1.3zM319.7 345.4h1.3v1.3h-1.3zM392.0 296.6h1.3v1.3h-1.3zM369.8 310.0h1.3v1.3h-1.3zM305.7 353.3h1.3v1.3h-1.3zM297.3 359.0h1.3v1.3h-1.3zM385.2 290.2h1.3v1.3h-1.3zM306.3 349.4h1.3v1.3h-1.3zM340.3 344.7h1.3v1.3h-1.3zM308.7 362.6h1.3v1.3h-1.3zM375.8 301.9h1.3v1.3h-1.3zM329.3 332.9h1.3v1.3h-1.3zM352.7 320.2h1.3v1.3h-1.3zM380.0 293.5h1.3v1.3h-1.3zM401.3 281.0h1.3v1.3h-1.3zM339.2 334.0h1.3v1.3h-1.3zM398.2 289.8h1.3v1.3h-1.3zM360.0 320.5h1.3v1.3h-1.3zM325.5 349.0h1.3v1.3h-1.3zM393.1 293.4h1.3v1.3h-1.3zM329.7 351.6h1.3v1.3h-1.3zM404.8 277.0h1.3v1.3h-1.3zM309.0 351.8h1.3v1.3h-1.3zM316.1 339.9h1.3v1.3h-1.3zM371.7 306.4h1.3v1.3h-1.3zM292.1 370.6h1.3v1.3h-1.3zM359.6 320.1h1.3v1.3h-1.3zM305.5 360.0h1.3v1.3h-1.3zM337.5 331.0h1.3v1.3h-1.3zM394.0 298.8h1.3v1.3h-1.3zM344.9 337.8h1.3v1.3h-1.3zM327.4 338.9h1.3v1.3h-1.3zM350.4 319.0h1.3v1.3h-1.3zM340.5 331.4h1.3v1.3h-1.3zM338.9 325.9h1.3v1.3h-1.3zM295.2 366.9h1.3v1.3h-1.3zM385.8 296.9h1.3v1.3h-1.3zM308.6 358.1h1.3v1.3h-1.3zM376.6 310.7h1.3v1.3h-1.3zM333.7 346.2h1.3v1.3h-1.3zM316.9 351.9h1.3v1.3h-1.3zM315.6 352.5h1.3v1.3h-1.3zM324.1 354.2h1.3v1.3h-1.3zM299.2 368.7h1.3v1.3h-1.3zM377.0 307.4h1.3v1.3h-1.3zM333.5 333.8h1.3v1.3h-1.3zM334.1 343.4h1.3v1.3h-1.3zM334.1 339.6h1.3v1.3h-1.3zM368.9 314.0h1.3v1.3h-1.3zM381.4 305.0h1.3v1.3h-1.3zM323.8 347.9h1.3v1.3h-1.3zM330.5 341.3h1.3v1.3h-1.3zM336.3 342.0h1.3v1.3h-1.3zM396.9 283.4h1.3v1.3h-1.3zM316.3 359.9h1.3v1.3h-1.3zM337.3 333.1h1.3v1.3h-1.3zM372.2 306.2h1.3v1.3h-1.3zM310.8 363.0h1.3v1.3h-1.3zM296.4 358.6h1.3v1.3h-1.3zM294.4 368.0h1.3v1.3h-1.3zM326.1 350.7h1.3v1.3h-1.3zM377.3 301.1h1.3v1.3h-1.3zM367.9 309.2h1.3v1.3h-1.3zM294.8 371.1h1.3v1.3h-1.3zM373.0 310.5h1.3v1.3h-1.3zM366.6 313.0h1.3v1.3h-1.3zM317.7 338.9h1.3v1.3h-1.3zM326.3 334.2h1.3v1.3h-1.3zM315.8 355.6h1.3v1.3h-1.3zM372.0 308.5h1.3v1.3h-1.3zM293.7 363.1h1.3v1.3h-1.3zM383.0 296.0h1.3v1.3h-1.3zM318.7 347.7h1.3v1.3h-1.3zM315.3 350.3h1.3v1.3h-1.3zM380.8 303.3h1.3v1.3h-1.3zM359.9 318.8h1.3v1.3h-1.3zM362.9 316.3h1.3v1.3h-1.3zM336.5 337.6h1.3v1.3h-1.3zM323.9 346.3h1.3v1.3h-1.3zM308.3 357.1h1.3v1.3h-1.3zM380.7 298.0h1.3v1.3h-1.3zM318.2 359.1h1.3v1.3h-1.3zM392.7 287.7h1.3v1.3h-1.3zM290.5 373.1h1.3v1.3h-1.3zM316.3 351.3h1.3v1.3h-1.3zM339.2 341.6h1.3v1.3h-1.3zM405.1 278.5h1.3v1.3h-1.3zM352.7 320.8h1.3v1.3h-1.3zM386.6 289.6h1.3v1.3h-1.3zM301.9 354.8h1.3v1.3h-1.3zM296.0 364.1h1.3v1.3h-1.3zM311.3 361.1h1.3v1.3h-1.3zM313.2 348.1h1.3v1.3h-1.3zM300.0 354.4h1.3v1.3h-1.3zM301.1 364.0h1.3v1.3h-1.3zM363.2 321.1h1.3v1.3h-1.3zM307.6 352.9h1.3v1.3h-1.3zM376.7 309.5h1.3v1.3h-1.3zM316.3 350.8h1.3v1.3h-1.3zM310.1 347.0h1.3v1.3h-1.3zM361.6 312.3h1.3v1.3h-1.3zM359.0 317.6h1.3v1.3h-1.3zM358.1 320.0h1.3v1.3h-1.3zM381.3 300.8h1.3v1.3h-1.3zM388.7 296.2h1.3v1.3h-1.3zM357.9 320.9h1.3v1.3h-1.3zM292.6 371.7h1.3v1.3h-1.3zM335.0 348.7h1.3v1.3h-1.3zM331.6 350.2h1.3v1.3h-1.3zM349.5 329.5h1.3v1.3h-1.3zM381.4 298.7h1.3v1.3h-1.3zM362.9 308.8h1.3v1.3h-1.3zM303.0 357.7h1.3v1.3h-1.3zM329.8 345.2h1.3v1.3h-1.3zM357.3 315.3h1.3v1.3h-1.3zM368.7 311.6h1.3v1.3h-1.3zM358.4 323.0h1.3v1.3h-1.3zM337.8 343.1h1.3v1.3h-1.3zM340.0 335.1h1.3v1.3h-1.3zM343.9 332.5h1.3v1.3h-1.3zM337.8 342.3h1.3v1.3h-1.3zM405.8 274.2h1.3v1.3h-1.3zM331.2 331.2h1.3v1.3h-1.3zM317.5 349.1h1.3v1.3h-1.3zM340.7 331.1h1.3v1.3h-1.3zM334.7 333.4h1.3v1.3h-1.3zM327.3 349.4h1.3v1.3h-1.3zM329.6 344.6h1.3v1.3h-1.3zM362.1 315.8h1.3v1.3h-1.3zM350.0 330.1h1.3v1.3h-1.3zM376.6 303.0h1.3v1.3h-1.3zM319.8 347.1h1.3v1.3h-1.3zM339.8 332.5h1.3v1.3h-1.3zM373.7 314.1h1.3v1.3h-1.3zM396.3 284.1h1.3v1.3h-1.3zM348.7 332.0h1.3v1.3h-1.3zM323.0 340.5h1.3v1.3h-1.3zM388.2 289.7h1.3v1.3h-1.3zM302.0 360.3h1.3v1.3h-1.3zM399.8 278.5h1.3v1.3h-1.3zM329.6 347.9h1.3v1.3h-1.3zM320.1 358.0h1.3v1.3h-1.3zM302.1 358.7h1.3v1.3h-1.3zM346.7 325.7h1.3v1.3h-1.3zM330.6 339.0h1.3v1.3h-1.3zM326.0 337.0h1.3v1.3h-1.3zM318.2 350.5h1.3v1.3h-1.3zM374.5 314.2h1.3v1.3h-1.3zM357.5 323.6h1.3v1.3h-1.3zM308.3 364.4h1.3v1.3h-1.3zM327.0 342.2h1.3v1.3h-1.3zM316.8 357.6h1.3v1.3h-1.3zM323.7 341.5h1.3v1.3h-1.3zM336.4 327.8h1.3v1.3h-1.3zM336.8 342.7h1.3v1.3h-1.3zM314.4 348.3h1.3v1.3h-1.3zM303.8 363.4h1.3v1.3h-1.3zM356.2 318.3h1.3v1.3h-1.3zM311.0 362.9h1.3v1.3h-1.3zM321.0 357.4h1.3v1.3h-1.3zM378.3 300.1h1.3v1.3h-1.3zM402.8 278.9h1.3v1.3h-1.3zM298.3 358.0h1.3v1.3h-1.3zM362.0 306.3h1.3v1.3h-1.3zM302.4 353.7h1.3v1.3h-1.3zM353.2 320.5h1.3v1.3h-1.3zM328.1 344.0h1.3v1.3h-1.3zM295.4 359.9h1.3v1.3h-1.3zM298.9 366.1h1.3v1.3h-1.3zM338.7 330.6h1.3v1.3h-1.3zM345.3 340.5h1.3v1.3h-1.3zM293.6 369.1h1.3v1.3h-1.3zM335.1 326.9h1.3v1.3h-1.3zM292.3 372.3h1.3v1.3h-1.3zM378.7 306.5h1.3v1.3h-1.3zM307.4 355.9h1.3v1.3h-1.3zM320.6 346.2h1.3v1.3h-1.3zM334.7 339.7h1.3v1.3h-1.3zM354.2 317.1h1.3v1.3h-1.3zM396.4 282.0h1.3v1.3h-1.3zM324.6 338.0h1.3v1.3h-1.3zM307.1 351.3h1.3v1.3h-1.3zM305.0 362.7h1.3v1.3h-1.3zM348.8 324.1h1.3v1.3h-1.3zM305.4 358.5h1.3v1.3h-1.3zM362.4 316.9h1.3v1.3h-1.3zM398.8 277.3h1.3v1.3h-1.3zM304.8 355.0h1.3v1.3h-1.3zM327.1 336.1h1.3v1.3h-1.3zM327.6 347.4h1.3v1.3h-1.3zM334.9 333.5h1.3v1.3h-1.3zM390.6 289.5h1.3v1.3h-1.3zM307.4 361.4h1.3v1.3h-1.3zM402.6 280.1h1.3v1.3h-1.3zM353.4 327.2h1.3v1.3h-1.3zM310.7 351.1h1.3v1.3h-1.3zM374.2 306.5h1.3v1.3h-1.3zM309.4 355.0h1.3v1.3h-1.3zM321.5 357.1h1.3v1.3h-1.3zM362.6 318.6h1.3v1.3h-1.3zM299.8 363.9h1.3v1.3h-1.3zM399.6 276.8h1.3v1.3h-1.3zM368.9 314.3h1.3v1.3h-1.3zM367.9 309.8h1.3v1.3h-1.3zM311.5 351.4h1.3v1.3h-1.3zM339.8 330.0h1.3v1.3h-1.3zM333.6 345.0h1.3v1.3h-1.3zM359.5 320.7h1.3v1.3h-1.3zM361.9 316.8h1.3v1.3h-1.3zM349.8 327.4h1.3v1.3h-1.3zM319.2 352.3h1.3v1.3h-1.3zM406.6 273.9h1.3v1.3h-1.3zM290.4 372.6h1.3v1.3h-1.3zM358.9 312.2h1.3v1.3h-1.3zM328.8 336.1h1.3v1.3h-1.3zM306.7 353.4h1.3v1.3h-1.3zM331.8 340.8h1.3v1.3h-1.3zM293.1 371.8h1.3v1.3h-1.3zM290.7 373.0h1.3v1.3h-1.3zM359.5 314.0h1.3v1.3h-1.3zM332.0 337.7h1.3v1.3h-1.3zM353.1 319.8h1.3v1.3h-1.3zM337.0 328.7h1.3v1.3h-1.3zM350.4 320.4h1.3v1.3h-1.3zM290.2 373.3h1.3v1.3h-1.3zM291.6 363.6h1.3v1.3h-1.3zM337.6 330.1h1.3v1.3h-1.3zM317.9 342.1h1.3v1.3h-1.3zM327.0 345.9h1.3v1.3h-1.3zM357.3 324.7h1.3v1.3h-1.3zM320.6 353.0h1.3v1.3h-1.3zM357.6 316.7h1.3v1.3h-1.3zM332.6 328.6h1.3v1.3h-1.3zM344.2 337.4h1.3v1.3h-1.3zM293.9 363.9h1.3v1.3h-1.3zM296.5 366.6h1.3v1.3h-1.3zM321.8 339.5h1.3v1.3h-1.3zM354.4 321.8h1.3v1.3h-1.3zM336.0 341.9h1.3v1.3h-1.3zM340.7 326.8h1.3v1.3h-1.3zM343.7 325.5h1.3v1.3h-1.3zM329.6 333.2h1.3v1.3h-1.3zM314.1 355.3h1.3v1.3h-1.3zM339.4 333.8h1.3v1.3h-1.3zM329.4 348.7h1.3v1.3h-1.3zM337.0 336.7h1.3v1.3h-1.3zM312.3 348.7h1.3v1.3h-1.3zM379.6 295.4h1.3v1.3h-1.3zM321.8 338.8h1.3v1.3h-1.3zM322.3 340.0h1.3v1.3h-1.3zM299.5 356.6h1.3v1.3h-1.3zM334.5 341.4h1.3v1.3h-1.3zM343.3 320.8h1.3v1.3h-1.3zM302.0 362.6h1.3v1.3h-1.3zM355.4 321.4h1.3v1.3h-1.3zM289.9 370.2h1.3v1.3h-1.3zM295.5 362.1h1.3v1.3h-1.3zM320.9 351.1h1.3v1.3h-1.3zM372.4 310.5h1.3v1.3h-1.3zM356.8 318.8h1.3v1.3h-1.3zM358.1 313.1h1.3v1.3h-1.3zM291.1 372.9h1.3v1.3h-1.3zM400.4 285.9h1.3v1.3h-1.3zM303.0 366.3h1.3v1.3h-1.3zM297.8 358.6h1.3v1.3h-1.3zM375.2 311.3h1.3v1.3h-1.3zM321.0 349.1h1.3v1.3h-1.3zM302.1 362.5h1.3v1.3h-1.3zM336.5 345.3h1.3v1.3h-1.3zM373.8 309.2h1.3v1.3h-1.3zM290.7 367.7h1.3v1.3h-1.3zM327.7 334.5h1.3v1.3h-1.3zM328.3 338.1h1.3v1.3h-1.3zM330.8 333.5h1.3v1.3h-1.3zM402.8 279.8h1.3v1.3h-1.3zM290.6 366.3h1.3v1.3h-1.3zM322.0 343.5h1.3v1.3h-1.3zM325.8 345.6h1.3v1.3h-1.3zM351.0 327.0h1.3v1.3h-1.3zM382.1 301.8h1.3v1.3h-1.3zM333.5 336.0h1.3v1.3h-1.3zM327.3 345.1h1.3v1.3h-1.3zM394.9 289.2h1.3v1.3h-1.3zM381.2 295.2h1.3v1.3h-1.3zM379.9 305.5h1.3v1.3h-1.3zM396.6 278.8h1.3v1.3h-1.3zM322.8 346.7h1.3v1.3h-1.3zM316.6 349.1h1.3v1.3h-1.3zM404.9 280.3h1.3v1.3h-1.3zM321.7 348.3h1.3v1.3h-1.3zM330.5 347.7h1.3v1.3h-1.3zM326.3 346.5h1.3v1.3h-1.3zM290.8 372.2h1.3v1.3h-1.3zM326.2 344.5h1.3v1.3h-1.3zM311.8 351.7h1.3v1.3h-1.3zM331.2 345.2h1.3v1.3h-1.3zM388.8 299.2h1.3v1.3h-1.3zM315.2 350.8h1.3v1.3h-1.3zM318.0 352.4h1.3v1.3h-1.3zM310.1 352.8h1.3v1.3h-1.3zM301.2 362.5h1.3v1.3h-1.3zM399.7 288.2h1.3v1.3h-1.3zM386.7 299.1h1.3v1.3h-1.3zM317.0 342.9h1.3v1.3h-1.3zM293.0 366.2h1.3v1.3h-1.3zM329.1 346.8h1.3v1.3h-1.3zM349.8 330.2h1.3v1.3h-1.3zM314.0 350.3h1.3v1.3h-1.3zM295.4 370.3h1.3v1.3h-1.3zM312.8 353.5h1.3v1.3h-1.3zM318.2 351.4h1.3v1.3h-1.3zM310.1 349.8h1.3v1.3h-1.3zM321.5 357.1h1.3v1.3h-1.3zM399.0 287.8h1.3v1.3h-1.3zM379.2 306.1h1.3v1.3h-1.3zM294.3 371.3h1.3v1.3h-1.3zM331.5 331.0h1.3v1.3h-1.3zM292.5 372.1h1.3v1.3h-1.3zM353.3 319.7h1.3v1.3h-1.3zM323.5 345.1h1.3v1.3h-1.3zM406.1 274.5h1.3v1.3h-1.3zM333.9 345.8h1.3v1.3h-1.3zM392.6 292.0h1.3v1.3h-1.3zM330.5 341.2h1.3v1.3h-1.3zM334.4 328.9h1.3v1.3h-1.3zM328.5 336.9h1.3v1.3h-1.3zM305.1 351.9h1.3v1.3h-1.3zM324.7 348.2h1.3v1.3h-1.3zM291.4 365.6h1.3v1.3h-1.3zM309.1 351.2h1.3v1.3h-1.3zM340.1 325.2h1.3v1.3h-1.3zM404.2 280.3h1.3v1.3h-1.3zM305.9 365.7h1.3v1.3h-1.3zM337.3 343.3h1.3v1.3h-1.3zM328.7 339.8h1.3v1.3h-1.3zM311.9 358.2h1.3v1.3h-1.3zM395.5 283.8h1.3v1.3h-1.3zM307.5 358.4h1.3v1.3h-1.3zM326.7 347.2h1.3v1.3h-1.3zM394.9 283.1h1.3v1.3h-1.3zM342.0 339.0h1.3v1.3h-1.3zM293.9 365.0h1.3v1.3h-1.3zM329.7 348.8h1.3v1.3h-1.3zM398.1 277.4h1.3v1.3h-1.3zM296.8 358.1h1.3v1.3h-1.3zM304.4 354.2h1.3v1.3h-1.3zM314.6 355.9h1.3v1.3h-1.3zM316.9 352.7h1.3v1.3h-1.3zM341.8 343.3h1.3v1.3h-1.3zM370.0 314.6h1.3v1.3h-1.3zM292.0 362.6h1.3v1.3h-1.3zM334.1 338.5h1.3v1.3h-1.3zM325.8 354.3h1.3v1.3h-1.3zM350.3 319.6h1.3v1.3h-1.3zM318.2 343.1h1.3v1.3h-1.3zM292.2 370.9h1.3v1.3h-1.3zM311.0 350.6h1.3v1.3h-1.3zM342.0 340.3h1.3v1.3h-1.3zM315.6 353.1h1.3v1.3h-1.3zM293.0 368.0h1.3v1.3h-1.3zM377.3 309.9h1.3v1.3h-1.3zM319.6 343.3h1.3v1.3h-1.3zM406.5 275.4h1.3v1.3h-1.3zM290.2 370.4h1.3v1.3h-1.3zM364.4 319.4h1.3v1.3h-1.3zM324.7 337.2h1.3v1.3h-1.3zM299.9 360.7h1.3v1.3h-1.3zM325.1 346.1h1.3v1.3h-1.3zM302.1 359.4h1.3v1.3h-1.3zM350.0 321.9h1.3v1.3h-1.3zM347.5 328.1h1.3v1.3h-1.3zM361.9 316.0h1.3v1.3h-1.3zM316.3 354.1h1.3v1.3h-1.3zM317.0 344.2h1.3v1.3h-1.3zM325.7 336.4h1.3v1.3h-1.3zM297.8 360.9h1.3v1.3h-1.3zM317.5 338.8h1.3v1.3h-1.3zM331.9 333.0h1.3v1.3h-1.3zM338.3 332.1h1.3v1.3h-1.3zM345.6 333.7h1.3v1.3h-1.3zM362.0 311.6h1.3v1.3h-1.3zM340.5 344.6h1.3v1.3h-1.3zM402.4 278.6h1.3v1.3h-1.3zM369.6 307.7h1.3v1.3h-1.3zM300.9 365.9h1.3v1.3h-1.3zM314.1 360.5h1.3v1.3h-1.3zM334.0 346.2h1.3v1.3h-1.3zM292.8 360.0h1.3v1.3h-1.3zM327.0 346.7h1.3v1.3h-1.3zM385.5 290.5h1.3v1.3h-1.3zM318.9 357.6h1.3v1.3h-1.3zM311.7 359.6h1.3v1.3h-1.3zM294.1 363.7h1.3v1.3h-1.3zM333.9 349.4h1.3v1.3h-1.3zM298.5 366.2h1.3v1.3h-1.3zM384.7 299.7h1.3v1.3h-1.3zM297.1 365.4h1.3v1.3h-1.3zM311.9 356.9h1.3v1.3h-1.3zM345.2 337.4h1.3v1.3h-1.3zM293.2 367.4h1.3v1.3h-1.3zM324.5 350.2h1.3v1.3h-1.3zM341.3 329.6h1.3v1.3h-1.3zM318.1 344.9h1.3v1.3h-1.3zM341.2 337.8h1.3v1.3h-1.3zM292.9 371.3h1.3v1.3h-1.3zM380.9 303.4h1.3v1.3h-1.3zM377.8 303.1h1.3v1.3h-1.3zM307.2 363.9h1.3v1.3h-1.3zM357.6 320.6h1.3v1.3h-1.3zM328.2 345.0h1.3v1.3h-1.3zM322.2 345.3h1.3v1.3h-1.3zM384.6 294.5h1.3v1.3h-1.3zM295.1 365.0h1.3v1.3h-1.3zM379.3 304.3h1.3v1.3h-1.3zM328.4 344.4h1.3v1.3h-1.3zM322.0 346.9h1.3v1.3h-1.3zM390.7 287.9h1.3v1.3h-1.3zM352.8 319.6h1.3v1.3h-1.3zM327.4 349.4h1.3v1.3h-1.3zM340.3 342.9h1.3v1.3h-1.3zM307.1 357.5h1.3v1.3h-1.3zM307.4 364.8h1.3v1.3h-1.3zM314.6 341.7h1.3v1.3h-1.3zM385.8 293.0h1.3v1.3h-1.3zM328.6 350.1h1.3v1.3h-1.3zM295.0 358.8h1.3v1.3h-1.3zM296.6 361.3h1.3v1.3h-1.3zM303.2 351.6h1.3v1.3h-1.3zM323.5 343.2h1.3v1.3h-1.3zM290.7 365.6h1.3v1.3h-1.3zM345.2 324.3h1.3v1.3h-1.3zM292.0 366.0h1.3v1.3h-1.3zM373.5 304.3h1.3v1.3h-1.3zM289.9 366.8h1.3v1.3h-1.3zM328.4 336.7h1.3v1.3h-1.3zM352.2 321.8h1.3v1.3h-1.3zM387.5 290.5h1.3v1.3h-1.3zM306.7 356.5h1.3v1.3h-1.3zM386.2 302.9h1.3v1.3h-1.3zM331.7 339.2h1.3v1.3h-1.3zM325.8 345.1h1.3v1.3h-1.3zM339.2 335.7h1.3v1.3h-1.3zM396.2 280.9h1.3v1.3h-1.3zM292.9 360.3h1.3v1.3h-1.3zM330.8 334.3h1.3v1.3h-1.3zM324.2 338.3h1.3v1.3h-1.3zM326.5 342.6h1.3v1.3h-1.3zM293.4 371.7h1.3v1.3h-1.3zM367.5 314.6h1.3v1.3h-1.3zM329.6 351.1h1.3v1.3h-1.3zM316.3 344.4h1.3v1.3h-1.3zM295.3 366.2h1.3v1.3h-1.3zM349.9 321.7h1.3v1.3h-1.3zM294.5 361.8h1.3v1.3h-1.3zM318.6 354.6h1.3v1.3h-1.3zM301.3 353.3h1.3v1.3h-1.3zM299.2 368.9h1.3v1.3h-1.3zM326.2 335.2h1.3v1.3h-1.3zM315.2 349.4h1.3v1.3h-1.3zM291.9 372.5h1.3v1.3h-1.3zM352.6 318.2h1.3v1.3h-1.3zM405.7 276.7h1.3v1.3h-1.3zM316.0 340.9h1.3v1.3h-1.3zM317.6 338.7h1.3v1.3h-1.3zM351.5 320.4h1.3v1.3h-1.3zM312.3 348.1h1.3v1.3h-1.3zM340.6 336.6h1.3v1.3h-1.3zM371.6 310.4h1.3v1.3h-1.3zM301.4 355.9h1.3v1.3h-1.3zM339.5 344.0h1.3v1.3h-1.3zM327.6 335.0h1.3v1.3h-1.3zM326.3 332.5h1.3v1.3h-1.3zM322.2 353.1h1.3v1.3h-1.3zM343.6 335.1h1.3v1.3h-1.3zM330.6 334.8h1.3v1.3h-1.3zM383.7 301.3h1.3v1.3h-1.3zM378.9 299.9h1.3v1.3h-1.3zM314.7 353.0h1.3v1.3h-1.3zM318.8 339.9h1.3v1.3h-1.3zM295.6 369.6h1.3v1.3h-1.3zM296.7 370.1h1.3v1.3h-1.3zM378.7 300.3h1.3v1.3h-1.3zM348.2 329.7h1.3v1.3h-1.3zM319.9 358.1h1.3v1.3h-1.3zM305.3 361.7h1.3v1.3h-1.3zM303.4 361.6h1.3v1.3h-1.3zM312.5 349.7h1.3v1.3h-1.3zM325.8 344.9h1.3v1.3h-1.3zM389.9 296.1h1.3v1.3h-1.3zM289.8 364.2h1.3v1.3h-1.3zM299.5 365.0h1.3v1.3h-1.3zM310.3 357.5h1.3v1.3h-1.3zM298.9 356.2h1.3v1.3h-1.3zM335.2 347.5h1.3v1.3h-1.3zM292.2 366.6h1.3v1.3h-1.3zM321.8 341.4h1.3v1.3h-1.3zM312.6 349.2h1.3v1.3h-1.3zM301.5 354.9h1.3v1.3h-1.3zM368.1 312.0h1.3v1.3h-1.3zM360.3 322.3h1.3v1.3h-1.3zM296.2 367.6h1.3v1.3h-1.3zM327.8 335.3h1.3v1.3h-1.3zM316.3 359.1h1.3v1.3h-1.3zM294.9 366.2h1.3v1.3h-1.3zM335.3 326.3h1.3v1.3h-1.3zM348.0 324.1h1.3v1.3h-1.3zM388.5 293.1h1.3v1.3h-1.3zM325.9 342.7h1.3v1.3h-1.3zM400.6 275.3h1.3v1.3h-1.3zM291.4 371.7h1.3v1.3h-1.3zM405.8 274.0h1.3v1.3h-1.3zM325.9 341.7h1.3v1.3h-1.3zM308.6 348.5h1.3v1.3h-1.3zM328.3 344.9h1.3v1.3h-1.3zM290.2 371.7h1.3v1.3h-1.3zM306.0 360.7h1.3v1.3h-1.3zM298.8 363.6h1.3v1.3h-1.3zM333.6 345.5h1.3v1.3h-1.3zM334.9 336.4h1.3v1.3h-1.3zM334.5 347.3h1.3v1.3h-1.3zM302.3 366.1h1.3v1.3h-1.3zM370.5 313.7h1.3v1.3h-1.3zM337.1 336.3h1.3v1.3h-1.3zM292.2 371.4h1.3v1.3h-1.3zM393.9 289.8h1.3v1.3h-1.3zM322.3 352.8h1.3v1.3h-1.3zM298.2 363.4h1.3v1.3h-1.3zM333.4 329.8h1.3v1.3h-1.3zM325.6 339.2h1.3v1.3h-1.3zM331.9 341.4h1.3v1.3h-1.3zM364.9 317.7h1.3v1.3h-1.3zM334.2 342.4h1.3v1.3h-1.3zM391.6 290.4h1.3v1.3h-1.3zM336.5 332.3h1.3v1.3h-1.3zM323.0 345.7h1.3v1.3h-1.3zM327.8 351.7h1.3v1.3h-1.3zM305.6 352.8h1.3v1.3h-1.3zM309.2 359.3h1.3v1.3h-1.3zM293.4 359.9h1.3v1.3h-1.3zM299.7 355.5h1.3v1.3h-1.3zM355.1 322.5h1.3v1.3h-1.3zM297.2 364.2h1.3v1.3h-1.3zM387.1 301.6h1.3v1.3h-1.3zM384.4 304.9h1.3v1.3h-1.3zM304.9 354.6h1.3v1.3h-1.3zM342.5 331.1h1.3v1.3h-1.3zM386.8 291.2h1.3v1.3h-1.3zM299.2 361.2h1.3v1.3h-1.3zM405.8 278.2h1.3v1.3h-1.3zM335.6 345.7h1.3v1.3h-1.3zM308.3 347.2h1.3v1.3h-1.3zM313.7 351.1h1.3v1.3h-1.3zM388.6 290.5h1.3v1.3h-1.3zM374.3 303.0h1.3v1.3h-1.3zM307.4 362.5h1.3v1.3h-1.3zM370.1 314.6h1.3v1.3h-1.3zM327.9 335.8h1.3v1.3h-1.3zM324.3 339.0h1.3v1.3h-1.3zM316.6 344.1h1.3v1.3h-1.3zM385.0 294.4h1.3v1.3h-1.3zM319.1 340.0h1.3v1.3h-1.3zM327.8 334.8h1.3v1.3h-1.3zM338.1 324.0h1.3v1.3h-1.3zM292.4 366.8h1.3v1.3h-1.3zM335.8 334.7h1.3v1.3h-1.3zM329.4 348.4h1.3v1.3h-1.3zM301.7 352.4h1.3v1.3h-1.3zM334.9 342.2h1.3v1.3h-1.3zM314.1 344.0h1.3v1.3h-1.3zM325.5 354.7h1.3v1.3h-1.3zM354.2 324.4h1.3v1.3h-1.3zM328.5 336.9h1.3v1.3h-1.3zM392.3 285.7h1.3v1.3h-1.3zM370.5 305.6h1.3v1.3h-1.3zM382.5 300.5h1.3v1.3h-1.3zM295.8 368.0h1.3v1.3h-1.3zM324.3 333.0h1.3v1.3h-1.3zM305.1 355.1h1.3v1.3h-1.3zM366.8 308.0h1.3v1.3h-1.3zM362.5 316.5h1.3v1.3h-1.3zM402.8 278.1h1.3v1.3h-1.3zM327.8 344.2h1.3v1.3h-1.3zM295.4 369.6h1.3v1.3h-1.3zM304.6 359.1h1.3v1.3h-1.3zM378.3 301.9h1.3v1.3h-1.3zM310.5 348.3h1.3v1.3h-1.3zM299.8 358.8h1.3v1.3h-1.3zM363.1 317.6h1.3v1.3h-1.3zM345.4 321.2h1.3v1.3h-1.3zM315.2 355.9h1.3v1.3h-1.3zM343.1 337.1h1.3v1.3h-1.3zM375.8 305.7h1.3v1.3h-1.3zM309.9 363.4h1.3v1.3h-1.3zM350.1 322.0h1.3v1.3h-1.3zM290.7 366.9h1.3v1.3h-1.3zM406.4 272.5h1.3v1.3h-1.3zM306.1 363.3h1.3v1.3h-1.3zM350.0 317.5h1.3v1.3h-1.3zM310.6 363.1h1.3v1.3h-1.3zM325.7 344.1h1.3v1.3h-1.3zM390.5 296.0h1.3v1.3h-1.3zM303.8 359.6h1.3v1.3h-1.3zM299.3 362.3h1.3v1.3h-1.3zM316.6 357.0h1.3v1.3h-1.3zM310.3 361.7h1.3v1.3h-1.3zM351.1 326.3h1.3v1.3h-1.3zM400.0 287.3h1.3v1.3h-1.3zM368.4 315.7h1.3v1.3h-1.3zM348.6 324.9h1.3v1.3h-1.3zM310.2 349.0h1.3v1.3h-1.3zM394.4 281.7h1.3v1.3h-1.3zM291.0 369.4h1.3v1.3h-1.3zM391.9 284.8h1.3v1.3h-1.3zM317.7 355.0h1.3v1.3h-1.3zM393.7 288.1h1.3v1.3h-1.3zM299.6 355.0h1.3v1.3h-1.3zM332.9 331.1h1.3v1.3h-1.3zM339.6 342.5h1.3v1.3h-1.3zM333.7 335.2h1.3v1.3h-1.3zM294.1 367.1h1.3v1.3h-1.3zM319.6 347.5h1.3v1.3h-1.3zM376.0 304.3h1.3v1.3h-1.3zM299.0 362.6h1.3v1.3h-1.3zM294.6 360.3h1.3v1.3h-1.3zM345.9 321.8h1.3v1.3h-1.3zM311.9 358.8h1.3v1.3h-1.3zM291.9 371.8h1.3v1.3h-1.3zM379.0 301.3h1.3v1.3h-1.3zM372.7 306.8h1.3v1.3h-1.3zM356.7 318.3h1.3v1.3h-1.3zM388.3 294.9h1.3v1.3h-1.3zM369.3 307.0h1.3v1.3h-1.3zM398.5 282.4h1.3v1.3h-1.3zM363.8 311.2h1.3v1.3h-1.3zM326.1 348.2h1.3v1.3h-1.3zM319.5 351.5h1.3v1.3h-1.3zM385.6 298.4h1.3v1.3h-1.3zM304.3 356.3h1.3v1.3h-1.3zM400.7 281.4h1.3v1.3h-1.3zM348.2 333.1h1.3v1.3h-1.3zM309.3 354.3h1.3v1.3h-1.3zM325.3 345.7h1.3v1.3h-1.3zM405.5 278.1h1.3v1.3h-1.3zM366.9 315.1h1.3v1.3h-1.3zM342.6 329.7h1.3v1.3h-1.3zM335.5 336.4h1.3v1.3h-1.3zM313.7 348.8h1.3v1.3h-1.3zM390.4 292.8h1.3v1.3h-1.3zM353.9 316.1h1.3v1.3h-1.3zM301.6 356.3h1.3v1.3h-1.3zM338.7 329.8h1.3v1.3h-1.3zM329.4 344.3h1.3v1.3h-1.3zM397.7 280.1h1.3v1.3h-1.3zM320.6 346.2h1.3v1.3h-1.3zM319.9 348.9h1.3v1.3h-1.3zM312.8 344.0h1.3v1.3h-1.3zM306.9 363.3h1.3v1.3h-1.3zM373.8 313.6h1.3v1.3h-1.3zM372.7 308.2h1.3v1.3h-1.3zM320.1 355.5h1.3v1.3h-1.3zM291.4 366.6h1.3v1.3h-1.3zM374.4 301.9h1.3v1.3h-1.3zM333.7 346.7h1.3v1.3h-1.3zM296.4 368.6h1.3v1.3h-1.3zM318.5 338.7h1.3v1.3h-1.3zM358.7 316.9h1.3v1.3h-1.3zM362.1 317.1h1.3v1.3h-1.3zM406.0 279.7h1.3v1.3h-1.3zM333.7 344.4h1.3v1.3h-1.3zM390.3 286.1h1.3v1.3h-1.3zM374.7 308.3h1.3v1.3h-1.3zM327.0 352.5h1.3v1.3h-1.3zM317.0 349.8h1.3v1.3h-1.3zM336.5 327.7h1.3v1.3h-1.3zM342.4 325.3h1.3v1.3h-1.3zM303.2 354.6h1.3v1.3h-1.3zM298.3 358.9h1.3v1.3h-1.3zM334.5 333.4h1.3v1.3h-1.3zM350.7 328.0h1.3v1.3h-1.3zM383.5 300.5h1.3v1.3h-1.3zM294.6 362.9h1.3v1.3h-1.3zM367.0 310.0h1.3v1.3h-1.3zM380.2 301.4h1.3v1.3h-1.3zM300.0 365.8h1.3v1.3h-1.3zM321.7 347.9h1.3v1.3h-1.3zM373.4 307.7h1.3v1.3h-1.3zM385.8 304.3h1.3v1.3h-1.3zM331.9 333.6h1.3v1.3h-1.3zM304.7 363.4h1.3v1.3h-1.3zM384.8 299.0h1.3v1.3h-1.3zM293.4 363.1h1.3v1.3h-1.3zM387.5 291.2h1.3v1.3h-1.3zM291.8 369.9h1.3v1.3h-1.3zM381.6 300.5h1.3v1.3h-1.3zM336.3 341.1h1.3v1.3h-1.3zM338.0 327.4h1.3v1.3h-1.3zM402.6 278.2h1.3v1.3h-1.3zM331.8 334.8h1.3v1.3h-1.3zM305.2 356.2h1.3v1.3h-1.3zM346.8 321.6h1.3v1.3h-1.3zM301.7 362.1h1.3v1.3h-1.3zM331.8 342.3h1.3v1.3h-1.3zM323.2 335.2h1.3v1.3h-1.3zM388.1 300.1h1.3v1.3h-1.3zM301.7 359.6h1.3v1.3h-1.3zM344.9 331.1h1.3v1.3h-1.3zM363.5 315.1h1.3v1.3h-1.3zM303.2 360.6h1.3v1.3h-1.3zM393.3 288.2h1.3v1.3h-1.3zM335.6 325.6h1.3v1.3h-1.3zM298.8 360.1h1.3v1.3h-1.3zM311.4 354.9h1.3v1.3h-1.3zM301.0 363.5h1.3v1.3h-1.3zM315.1 352.7h1.3v1.3h-1.3zM307.5 357.1h1.3v1.3h-1.3zM347.4 332.9h1.3v1.3h-1.3zM341.8 327.3h1.3v1.3h-1.3zM293.8 362.1h1.3v1.3h-1.3zM295.9 369.2h1.3v1.3h-1.3zM394.9 280.3h1.3v1.3h-1.3zM367.2 316.3h1.3v1.3h-1.3zM395.6 278.9h1.3v1.3h-1.3zM297.6 367.5h1.3v1.3h-1.3zM329.1 349.9h1.3v1.3h-1.3zM334.8 347.5h1.3v1.3h-1.3zM314.8 349.5h1.3v1.3h-1.3zM361.1 319.0h1.3v1.3h-1.3zM362.4 313.9h1.3v1.3h-1.3zM357.5 312.2h1.3v1.3h-1.3zM382.6 292.3h1.3v1.3h-1.3zM337.1 344.3h1.3v1.3h-1.3zM352.7 324.1h1.3v1.3h-1.3zM337.8 346.3h1.3v1.3h-1.3zM299.6 368.0h1.3v1.3h-1.3zM377.8 303.8h1.3v1.3h-1.3zM318.0 345.0h1.3v1.3h-1.3zM333.8 341.3h1.3v1.3h-1.3zM318.5 358.9h1.3v1.3h-1.3zM338.4 346.4h1.3v1.3h-1.3zM339.7 339.0h1.3v1.3h-1.3zM313.6 347.6h1.3v1.3h-1.3zM381.6 298.6h1.3v1.3h-1.3zM342.8 330.1h1.3v1.3h-1.3zM368.0 309.1h1.3v1.3h-1.3zM329.6 345.8h1.3v1.3h-1.3zM360.4 314.2h1.3v1.3h-1.3zM320.7 351.8h1.3v1.3h-1.3zM375.5 302.3h1.3v1.3h-1.3zM290.0 371.3h1.3v1.3h-1.3zM371.4 313.2h1.3v1.3h-1.3zM344.3 328.9h1.3v1.3h-1.3zM316.7 347.8h1.3v1.3h-1.3zM378.8 305.6h1.3v1.3h-1.3zM315.4 358.8h1.3v1.3h-1.3zM324.6 339.2h1.3v1.3h-1.3zM315.2 348.1h1.3v1.3h-1.3zM293.3 363.9h1.3v1.3h-1.3zM335.1 339.9h1.3v1.3h-1.3zM356.6 319.0h1.3v1.3h-1.3zM398.4 284.8h1.3v1.3h-1.3zM306.7 356.1h1.3v1.3h-1.3zM356.4 322.1h1.3v1.3h-1.3zM343.4 336.9h1.3v1.3h-1.3zM293.6 370.4h1.3v1.3h-1.3zM299.8 356.0h1.3v1.3h-1.3zM376.3 305.9h1.3v1.3h-1.3zM376.9 309.3h1.3v1.3h-1.3zM324.2 352.1h1.3v1.3h-1.3zM290.0 367.6h1.3v1.3h-1.3zM392.9 284.3h1.3v1.3h-1.3zM327.7 350.1h1.3v1.3h-1.3zM345.3 324.2h1.3v1.3h-1.3zM304.8 366.2h1.3v1.3h-1.3zM299.7 357.2h1.3v1.3h-1.3zM303.0 365.4h1.3v1.3h-1.3zM330.4 332.8h1.3v1.3h-1.3zM374.4 301.7h1.3v1.3h-1.3zM305.3 348.9h1.3v1.3h-1.3zM299.5 364.1h1.3v1.3h-1.3zM361.2 319.8h1.3v1.3h-1.3zM326.5 342.5h1.3v1.3h-1.3zM342.8 335.1h1.3v1.3h-1.3zM371.5 305.4h1.3v1.3h-1.3zM313.7 344.6h1.3v1.3h-1.3zM383.6 297.3h1.3v1.3h-1.3zM381.0 306.8h1.3v1.3h-1.3zM386.7 296.8h1.3v1.3h-1.3zM350.4 325.5h1.3v1.3h-1.3zM342.8 333.6h1.3v1.3h-1.3zM294.1 369.7h1.3v1.3h-1.3zM401.4 277.6h1.3v1.3h-1.3zM343.8 338.2h1.3v1.3h-1.3zM301.1 354.7h1.3v1.3h-1.3zM314.8 347.8h1.3v1.3h-1.3zM356.1 317.6h1.3v1.3h-1.3zM332.4 337.8h1.3v1.3h-1.3zM336.5 333.7h1.3v1.3h-1.3zM390.6 284.7h1.3v1.3h-1.3zM318.6 356.5h1.3v1.3h-1.3zM355.5 315.7h1.3v1.3h-1.3zM355.4 323.0h1.3v1.3h-1.3zM365.0 316.1h1.3v1.3h-1.3zM332.3 342.9h1.3v1.3h-1.3zM321.7 352.0h1.3v1.3h-1.3zM336.0 342.1h1.3v1.3h-1.3zM380.2 301.6h1.3v1.3h-1.3zM294.7 359.4h1.3v1.3h-1.3zM301.1 366.2h1.3v1.3h-1.3zM366.3 313.8h1.3v1.3h-1.3zM305.7 352.0h1.3v1.3h-1.3zM377.5 303.9h1.3v1.3h-1.3zM338.9 330.9h1.3v1.3h-1.3zM371.4 305.0h1.3v1.3h-1.3zM290.2 364.7h1.3v1.3h-1.3zM307.7 352.2h1.3v1.3h-1.3zM307.8 358.4h1.3v1.3h-1.3zM366.8 313.6h1.3v1.3h-1.3zM328.5 346.2h1.3v1.3h-1.3zM347.2 330.4h1.3v1.3h-1.3zM318.4 350.8h1.3v1.3h-1.3zM309.5 353.4h1.3v1.3h-1.3zM362.4 310.5h1.3v1.3h-1.3zM336.2 340.8h1.3v1.3h-1.3zM398.1 288.6h1.3v1.3h-1.3zM300.4 357.2h1.3v1.3h-1.3zM330.7 342.9h1.3v1.3h-1.3zM385.3 304.1h1.3v1.3h-1.3zM321.0 342.0h1.3v1.3h-1.3zM301.8 361.1h1.3v1.3h-1.3zM330.2 338.4h1.3v1.3h-1.3zM306.1 355.4h1.3v1.3h-1.3zM363.2 320.3h1.3v1.3h-1.3zM295.5 365.9h1.3v1.3h-1.3zM306.8 354.1h1.3v1.3h-1.3zM314.9 359.7h1.3v1.3h-1.3zM334.0 341.7h1.3v1.3h-1.3zM315.6 358.9h1.3v1.3h-1.3zM299.4 361.8h1.3v1.3h-1.3zM301.2 360.4h1.3v1.3h-1.3zM330.0 350.2h1.3v1.3h-1.3zM316.5 346.3h1.3v1.3h-1.3zM289.7 368.3h1.3v1.3h-1.3zM366.5 311.5h1.3v1.3h-1.3zM299.4 358.2h1.3v1.3h-1.3zM387.6 291.8h1.3v1.3h-1.3zM329.3 350.3h1.3v1.3h-1.3zM368.8 313.5h1.3v1.3h-1.3zM301.6 356.9h1.3v1.3h-1.3zM293.9 369.1h1.3v1.3h-1.3zM375.3 303.9h1.3v1.3h-1.3zM302.4 362.6h1.3v1.3h-1.3zM392.9 290.6h1.3v1.3h-1.3zM305.4 350.0h1.3v1.3h-1.3zM291.3 365.1h1.3v1.3h-1.3zM336.0 339.4h1.3v1.3h-1.3zM338.9 341.5h1.3v1.3h-1.3zM301.0 362.9h1.3v1.3h-1.3zM316.9 344.7h1.3v1.3h-1.3zM320.5 347.1h1.3v1.3h-1.3zM302.0 365.5h1.3v1.3h-1.3zM297.4 355.5h1.3v1.3h-1.3zM337.3 331.4h1.3v1.3h-1.3zM323.4 352.0h1.3v1.3h-1.3zM296.3 358.9h1.3v1.3h-1.3zM296.8 367.7h1.3v1.3h-1.3zM398.9 282.6h1.3v1.3h-1.3zM306.6 362.3h1.3v1.3h-1.3zM356.5 319.4h1.3v1.3h-1.3zM312.4 345.8h1.3v1.3h-1.3zM322.0 338.2h1.3v1.3h-1.3zM328.9 335.0h1.3v1.3h-1.3zM308.6 356.7h1.3v1.3h-1.3zM361.5 317.3h1.3v1.3h-1.3zM355.3 325.8h1.3v1.3h-1.3zM347.4 322.8h1.3v1.3h-1.3zM332.4 329.6h1.3v1.3h-1.3zM320.8 347.0h1.3v1.3h-1.3zM332.6 329.9h1.3v1.3h-1.3zM322.7 344.6h1.3v1.3h-1.3zM351.0 327.7h1.3v1.3h-1.3zM340.1 330.5h1.3v1.3h-1.3zM364.8 318.1h1.3v1.3h-1.3zM293.7 365.0h1.3v1.3h-1.3zM329.5 344.5h1.3v1.3h-1.3zM347.2 326.0h1.3v1.3h-1.3zM321.4 345.5h1.3v1.3h-1.3zM323.1 352.1h1.3v1.3h-1.3zM290.5 372.1h1.3v1.3h-1.3zM347.3 327.3h1.3v1.3h-1.3zM334.5 345.2h1.3v1.3h-1.3zM307.8 361.4h1.3v1.3h-1.3zM389.7 294.4h1.3v1.3h-1.3zM359.7 317.4h1.3v1.3h-1.3zM372.6 309.8h1.3v1.3h-1.3zM375.3 309.5h1.3v1.3h-1.3zM343.9 326.0h1.3v1.3h-1.3zM395.5 286.5h1.3v1.3h-1.3zM340.8 339.0h1.3v1.3h-1.3zM324.2 347.8h1.3v1.3h-1.3zM326.8 334.2h1.3v1.3h-1.3zM322.7 341.9h1.3v1.3h-1.3zM321.4 341.6h1.3v1.3h-1.3zM342.9 326.2h1.3v1.3h-1.3zM318.5 352.2h1.3v1.3h-1.3zM306.3 359.5h1.3v1.3h-1.3zM329.5 336.0h1.3v1.3h-1.3zM348.9 330.6h1.3v1.3h-1.3zM358.9 315.9h1.3v1.3h-1.3zM333.8 332.9h1.3v1.3h-1.3zM298.1 357.5h1.3v1.3h-1.3zM303.3 353.7h1.3v1.3h-1.3zM306.7 362.5h1.3v1.3h-1.3zM297.2 358.5h1.3v1.3h-1.3zM298.8 367.8h1.3v1.3h-1.3zM338.9 325.9h1.3v1.3h-1.3zM361.1 322.1h1.3v1.3h-1.3zM300.7 368.2h1.3v1.3h-1.3zM312.6 355.0h1.3v1.3h-1.3zM362.6 315.7h1.3v1.3h-1.3zM291.8 372.2h1.3v1.3h-1.3zM341.7 335.4h1.3v1.3h-1.3zM340.1 324.4h1.3v1.3h-1.3zM366.4 316.7h1.3v1.3h-1.3zM321.5 337.5h1.3v1.3h-1.3zM356.7 320.3h1.3v1.3h-1.3zM357.6 312.9h1.3v1.3h-1.3zM406.1 279.7h1.3v1.3h-1.3zM312.4 361.2h1.3v1.3h-1.3zM360.1 321.9h1.3v1.3h-1.3zM301.4 356.0h1.3v1.3h-1.3zM357.8 321.1h1.3v1.3h-1.3zM328.8 339.0h1.3v1.3h-1.3zM322.0 352.5h1.3v1.3h-1.3zM356.2 321.4h1.3v1.3h-1.3zM381.0 300.1h1.3v1.3h-1.3zM312.8 347.3h1.3v1.3h-1.3zM291.5 368.7h1.3v1.3h-1.3zM351.4 331.9h1.3v1.3h-1.3zM321.1 355.6h1.3v1.3h-1.3zM370.0 309.4h1.3v1.3h-1.3zM323.3 345.4h1.3v1.3h-1.3zM337.3 346.8h1.3v1.3h-1.3zM390.4 299.0h1.3v1.3h-1.3zM314.0 349.7h1.3v1.3h-1.3zM303.5 366.8h1.3v1.3h-1.3zM292.3 368.7h1.3v1.3h-1.3zM372.0 306.5h1.3v1.3h-1.3zM311.7 345.0h1.3v1.3h-1.3zM319.9 356.3h1.3v1.3h-1.3zM376.2 300.1h1.3v1.3h-1.3zM292.6 371.3h1.3v1.3h-1.3zM336.6 330.3h1.3v1.3h-1.3zM378.0 301.1h1.3v1.3h-1.3zM330.8 348.3h1.3v1.3h-1.3zM378.9 296.2h1.3v1.3h-1.3zM359.8 313.6h1.3v1.3h-1.3zM328.4 335.5h1.3v1.3h-1.3zM335.3 344.8h1.3v1.3h-1.3zM300.9 358.3h1.3v1.3h-1.3zM335.9 343.9h1.3v1.3h-1.3zM313.4 345.2h1.3v1.3h-1.3zM371.0 314.5h1.3v1.3h-1.3zM399.0 291.7h1.3v1.3h-1.3zM296.7 367.1h1.3v1.3h-1.3zM306.6 350.9h1.3v1.3h-1.3zM373.1 304.8h1.3v1.3h-1.3zM300.8 363.6h1.3v1.3h-1.3zM308.4 348.1h1.3v1.3h-1.3zM336.3 330.3h1.3v1.3h-1.3zM308.6 364.2h1.3v1.3h-1.3zM347.2 322.7h1.3v1.3h-1.3zM321.3 348.6h1.3v1.3h-1.3zM338.1 340.1h1.3v1.3h-1.3zM377.6 307.1h1.3v1.3h-1.3zM299.8 355.6h1.3v1.3h-1.3zM345.0 335.7h1.3v1.3h-1.3zM334.9 327.2h1.3v1.3h-1.3zM334.0 345.7h1.3v1.3h-1.3zM364.8 316.6h1.3v1.3h-1.3zM293.6 367.0h1.3v1.3h-1.3zM359.6 311.9h1.3v1.3h-1.3zM333.0 336.7h1.3v1.3h-1.3zM326.6 335.7h1.3v1.3h-1.3zM294.3 359.9h1.3v1.3h-1.3zM344.3 325.3h1.3v1.3h-1.3zM378.4 305.9h1.3v1.3h-1.3zM297.2 364.2h1.3v1.3h-1.3zM361.2 311.8h1.3v1.3h-1.3zM315.4 346.0h1.3v1.3h-1.3zM314.3 357.5h1.3v1.3h-1.3zM313.7 352.1h1.3v1.3h-1.3zM397.9 279.1h1.3v1.3h-1.3zM330.5 351.2h1.3v1.3h-1.3zM315.4 358.3h1.3v1.3h-1.3zM381.5 299.3h1.3v1.3h-1.3zM382.0 306.6h1.3v1.3h-1.3zM322.8 346.9h1.3v1.3h-1.3zM325.7 343.5h1.3v1.3h-1.3zM337.4 341.7h1.3v1.3h-1.3zM305.2 353.2h1.3v1.3h-1.3zM358.1 315.4h1.3v1.3h-1.3zM320.5 341.2h1.3v1.3h-1.3zM359.4 312.8h1.3v1.3h-1.3zM394.1 292.1h1.3v1.3h-1.3zM309.0 361.1h1.3v1.3h-1.3zM383.8 305.9h1.3v1.3h-1.3zM304.3 363.0h1.3v1.3h-1.3zM340.9 338.7h1.3v1.3h-1.3zM318.0 353.5h1.3v1.3h-1.3zM308.3 364.4h1.3v1.3h-1.3zM316.1 344.2h1.3v1.3h-1.3zM293.8 369.2h1.3v1.3h-1.3zM323.1 350.6h1.3v1.3h-1.3zM299.6 356.1h1.3v1.3h-1.3zM371.1 314.2h1.3v1.3h-1.3zM358.1 318.3h1.3v1.3h-1.3zM312.0 359.0h1.3v1.3h-1.3zM334.8 336.2h1.3v1.3h-1.3zM350.9 316.6h1.3v1.3h-1.3zM338.1 335.8h1.3v1.3h-1.3zM320.3 342.0h1.3v1.3h-1.3zM336.0 332.9h1.3v1.3h-1.3zM305.0 364.2h1.3v1.3h-1.3zM395.6 281.7h1.3v1.3h-1.3zM352.6 321.2h1.3v1.3h-1.3zM293.4 367.0h1.3v1.3h-1.3zM334.9 328.1h1.3v1.3h-1.3zM373.6 304.3h1.3v1.3h-1.3zM316.6 358.6h1.3v1.3h-1.3zM405.0 279.2h1.3v1.3h-1.3zM356.7 315.5h1.3v1.3h-1.3zM331.6 344.9h1.3v1.3h-1.3zM317.5 345.3h1.3v1.3h-1.3zM301.2 363.4h1.3v1.3h-1.3zM384.5 303.1h1.3v1.3h-1.3zM338.2 340.3h1.3v1.3h-1.3zM325.3 337.7h1.3v1.3h-1.3zM293.5 368.7h1.3v1.3h-1.3zM382.5 296.2h1.3v1.3h-1.3zM345.4 323.1h1.3v1.3h-1.3zM326.5 335.5h1.3v1.3h-1.3zM315.5 343.7h1.3v1.3h-1.3zM304.1 362.0h1.3v1.3h-1.3zM303.2 356.9h1.3v1.3h-1.3zM328.9 338.9h1.3v1.3h-1.3zM371.1 309.2h1.3v1.3h-1.3zM299.3 364.8h1.3v1.3h-1.3zM312.0 349.1h1.3v1.3h-1.3zM382.1 295.7h1.3v1.3h-1.3zM297.8 363.0h1.3v1.3h-1.3zM292.2 366.3h1.3v1.3h-1.3zM331.9 335.8h1.3v1.3h-1.3zM372.0 311.7h1.3v1.3h-1.3zM384.7 295.3h1.3v1.3h-1.3zM329.6 333.8h1.3v1.3h-1.3zM404.8 275.1h1.3v1.3h-1.3zM335.3 331.2h1.3v1.3h-1.3zM354.9 324.8h1.3v1.3h-1.3zM378.4 296.5h1.3v1.3h-1.3zM327.1 335.0h1.3v1.3h-1.3zM311.0 354.9h1.3v1.3h-1.3zM319.8 338.2h1.3v1.3h-1.3zM319.8 354.4h1.3v1.3h-1.3zM293.4 371.7h1.3v1.3h-1.3zM292.5 372.2h1.3v1.3h-1.3zM303.9 365.8h1.3v1.3h-1.3zM327.9 349.5h1.3v1.3h-1.3zM306.7 364.8h1.3v1.3h-1.3zM296.3 367.9h1.3v1.3h-1.3zM355.4 324.5h1.3v1.3h-1.3zM407.2 277.2h1.3v1.3h-1.3zM392.1 283.3h1.3v1.3h-1.3zM336.6 346.3h1.3v1.3h-1.3zM393.8 292.1h1.3v1.3h-1.3zM306.9 362.4h1.3v1.3h-1.3zM347.5 326.5h1.3v1.3h-1.3zM293.0 370.4h1.3v1.3h-1.3zM310.0 351.4h1.3v1.3h-1.3zM337.7 327.7h1.3v1.3h-1.3zM292.1 363.9h1.3v1.3h-1.3zM373.0 304.8h1.3v1.3h-1.3zM304.3 353.1h1.3v1.3h-1.3zM376.3 311.0h1.3v1.3h-1.3zM392.1 293.4h1.3v1.3h-1.3zM360.9 312.4h1.3v1.3h-1.3zM295.5 368.9h1.3v1.3h-1.3zM301.3 355.8h1.3v1.3h-1.3zM325.2 347.9h1.3v1.3h-1.3zM362.1 312.1h1.3v1.3h-1.3zM378.2 301.7h1.3v1.3h-1.3zM304.3 349.2h1.3v1.3h-1.3zM371.6 304.9h1.3v1.3h-1.3zM362.8 308.8h1.3v1.3h-1.3zM292.6 371.8h1.3v1.3h-1.3zM392.7 291.2h1.3v1.3h-1.3zM355.6 313.3h1.3v1.3h-1.3zM303.8 366.7h1.3v1.3h-1.3zM336.9 331.6h1.3v1.3h-1.3zM402.1 284.3h1.3v1.3h-1.3zM348.4 328.2h1.3v1.3h-1.3zM312.8 349.5h1.3v1.3h-1.3zM375.7 302.2h1.3v1.3h-1.3zM295.2 363.4h1.3v1.3h-1.3zM336.7 324.4h1.3v1.3h-1.3zM394.2 280.8h1.3v1.3h-1.3zM306.5 353.5h1.3v1.3h-1.3zM303.5 364.0h1.3v1.3h-1.3zM380.9 303.2h1.3v1.3h-1.3zM306.2 359.1h1.3v1.3h-1.3zM318.4 347.5h1.3v1.3h-1.3zM302.3 363.5h1.3v1.3h-1.3zM312.8 352.2h1.3v1.3h-1.3zM395.6 281.5h1.3v1.3h-1.3zM363.7 313.4h1.3v1.3h-1.3zM316.8 357.5h1.3v1.3h-1.3zM292.1 370.1h1.3v1.3h-1.3zM311.8 350.1h1.3v1.3h-1.3zM321.3 347.2h1.3v1.3h-1.3zM350.2 324.0h1.3v1.3h-1.3zM394.5 279.8h1.3v1.3h-1.3zM367.9 310.1h1.3v1.3h-1.3zM385.5 299.2h1.3v1.3h-1.3zM315.8 341.6h1.3v1.3h-1.3zM379.9 303.1h1.3v1.3h-1.3zM292.5 367.5h1.3v1.3h-1.3zM333.1 327.9h1.3v1.3h-1.3zM314.9 358.6h1.3v1.3h-1.3zM350.5 319.0h1.3v1.3h-1.3zM291.4 364.9h1.3v1.3h-1.3zM308.7 355.1h1.3v1.3h-1.3zM368.5 306.7h1.3v1.3h-1.3zM364.5 309.5h1.3v1.3h-1.3zM326.3 349.2h1.3v1.3h-1.3zM371.4 303.9h1.3v1.3h-1.3zM329.7 338.9h1.3v1.3h-1.3zM323.8 352.0h1.3v1.3h-1.3zM301.4 355.9h1.3v1.3h-1.3zM331.1 336.2h1.3v1.3h-1.3zM324.6 352.8h1.3v1.3h-1.3zM334.1 330.1h1.3v1.3h-1.3zM323.1 339.6h1.3v1.3h-1.3zM292.2 367.8h1.3v1.3h-1.3zM350.2 325.5h1.3v1.3h-1.3zM331.0 346.3h1.3v1.3h-1.3zM313.8 348.3h1.3v1.3h-1.3zM380.6 297.5h1.3v1.3h-1.3zM405.7 279.0h1.3v1.3h-1.3zM401.6 285.2h1.3v1.3h-1.3zM392.9 292.1h1.3v1.3h-1.3zM390.3 296.6h1.3v1.3h-1.3zM379.5 305.7h1.3v1.3h-1.3zM359.7 318.8h1.3v1.3h-1.3zM321.7 349.8h1.3v1.3h-1.3zM297.5 363.4h1.3v1.3h-1.3zM300.3 358.2h1.3v1.3h-1.3zM311.9 355.0h1.3v1.3h-1.3zM291.1 363.7h1.3v1.3h-1.3zM303.1 364.9h1.3v1.3h-1.3zM321.3 347.7h1.3v1.3h-1.3zM336.6 336.4h1.3v1.3h-1.3zM307.5 348.8h1.3v1.3h-1.3zM361.1 314.8h1.3v1.3h-1.3zM387.3 292.8h1.3v1.3h-1.3zM310.3 362.1h1.3v1.3h-1.3zM338.1 346.6h1.3v1.3h-1.3zM361.9 316.7h1.3v1.3h-1.3zM292.2 361.3h1.3v1.3h-1.3zM342.8 331.1h1.3v1.3h-1.3zM297.2 355.6h1.3v1.3h-1.3zM338.0 329.2h1.3v1.3h-1.3zM393.7 286.3h1.3v1.3h-1.3zM362.9 311.6h1.3v1.3h-1.3zM309.6 350.2h1.3v1.3h-1.3zM290.4 367.7h1.3v1.3h-1.3zM304.7 362.6h1.3v1.3h-1.3zM375.8 309.4h1.3v1.3h-1.3zM317.0 356.1h1.3v1.3h-1.3zM321.8 344.8h1.3v1.3h-1.3zM295.0 365.1h1.3v1.3h-1.3zM392.7 296.2h1.3v1.3h-1.3zM356.5 316.6h1.3v1.3h-1.3zM356.3 322.5h1.3v1.3h-1.3zM404.8 275.5h1.3v1.3h-1.3zM306.0 365.6h1.3v1.3h-1.3zM310.3 355.2h1.3v1.3h-1.3zM313.2 353.2h1.3v1.3h-1.3zM393.1 291.8h1.3v1.3h-1.3zM349.3 331.1h1.3v1.3h-1.3zM323.9 350.2h1.3v1.3h-1.3zM330.0 344.0h1.3v1.3h-1.3zM401.8 285.5h1.3v1.3h-1.3zM388.6 293.1h1.3v1.3h-1.3zM328.3 336.7h1.3v1.3h-1.3zM306.2 356.8h1.3v1.3h-1.3zM362.9 313.1h1.3v1.3h-1.3zM322.9 338.5h1.3v1.3h-1.3zM294.9 364.5h1.3v1.3h-1.3zM330.4 341.9h1.3v1.3h-1.3zM344.1 322.6h1.3v1.3h-1.3zM307.5 349.9h1.3v1.3h-1.3zM406.1 274.1h1.3v1.3h-1.3zM303.9 352.0h1.3v1.3h-1.3zM398.9 286.3h1.3v1.3h-1.3zM292.6 366.8h1.3v1.3h-1.3zM290.8 370.9h1.3v1.3h-1.3zM315.5 350.6h1.3v1.3h-1.3zM313.0 351.4h1.3v1.3h-1.3zM304.3 352.6h1.3v1.3h-1.3zM355.8 323.7h1.3v1.3h-1.3zM312.1 356.8h1.3v1.3h-1.3zM380.1 302.2h1.3v1.3h-1.3zM309.3 355.9h1.3v1.3h-1.3zM343.6 324.7h1.3v1.3h-1.3zM395.4 289.1h1.3v1.3h-1.3zM333.0 332.4h1.3v1.3h-1.3zM306.0 365.6h1.3v1.3h-1.3zM360.8 321.7h1.3v1.3h-1.3zM342.3 321.6h1.3v1.3h-1.3zM309.2 353.0h1.3v1.3h-1.3zM312.0 344.3h1.3v1.3h-1.3zM339.2 341.7h1.3v1.3h-1.3zM319.8 338.9h1.3v1.3h-1.3zM402.3 278.8h1.3v1.3h-1.3zM331.2 332.6h1.3v1.3h-1.3zM317.9 347.7h1.3v1.3h-1.3zM319.4 338.4h1.3v1.3h-1.3zM371.7 313.7h1.3v1.3h-1.3zM342.2 331.8h1.3v1.3h-1.3zM340.1 343.2h1.3v1.3h-1.3zM313.2 357.6h1.3v1.3h-1.3zM333.6 345.2h1.3v1.3h-1.3zM316.4 355.2h1.3v1.3h-1.3zM301.2 355.9h1.3v1.3h-1.3zM306.4 359.9h1.3v1.3h-1.3zM293.3 367.7h1.3v1.3h-1.3zM322.5 336.0h1.3v1.3h-1.3zM392.8 282.7h1.3v1.3h-1.3zM302.3 353.6h1.3v1.3h-1.3zM359.0 317.9h1.3v1.3h-1.3zM316.9 342.0h1.3v1.3h-1.3zM375.1 304.6h1.3v1.3h-1.3zM310.1 349.7h1.3v1.3h-1.3zM303.2 367.0h1.3v1.3h-1.3zM296.7 365.6h1.3v1.3h-1.3zM312.6 359.9h1.3v1.3h-1.3zM306.4 357.5h1.3v1.3h-1.3zM331.8 348.2h1.3v1.3h-1.3zM311.1 345.2h1.3v1.3h-1.3zM343.6 326.4h1.3v1.3h-1.3zM297.4 363.5h1.3v1.3h-1.3zM314.4 355.6h1.3v1.3h-1.3zM370.6 310.0h1.3v1.3h-1.3zM393.1 281.7h1.3v1.3h-1.3zM300.7 366.4h1.3v1.3h-1.3zM364.0 311.3h1.3v1.3h-1.3zM324.8 346.8h1.3v1.3h-1.3zM336.4 327.3h1.3v1.3h-1.3zM364.0 309.3h1.3v1.3h-1.3zM298.4 369.3h1.3v1.3h-1.3zM293.1 363.0h1.3v1.3h-1.3zM355.5 320.3h1.3v1.3h-1.3zM297.8 362.5h1.3v1.3h-1.3zM404.8 276.8h1.3v1.3h-1.3zM303.2 365.9h1.3v1.3h-1.3zM303.5 359.0h1.3v1.3h-1.3zM358.5 319.6h1.3v1.3h-1.3zM346.1 335.6h1.3v1.3h-1.3zM371.3 306.7h1.3v1.3h-1.3zM329.4 330.9h1.3v1.3h-1.3zM314.7 358.6h1.3v1.3h-1.3zM308.6 347.9h1.3v1.3h-1.3zM349.0 332.4h1.3v1.3h-1.3zM301.8 357.6h1.3v1.3h-1.3zM293.1 371.9h1.3v1.3h-1.3zM380.8 302.3h1.3v1.3h-1.3zM371.9 307.3h1.3v1.3h-1.3zM381.5 306.5h1.3v1.3h-1.3zM363.2 320.9h1.3v1.3h-1.3zM329.1 332.1h1.3v1.3h-1.3zM308.2 357.3h1.3v1.3h-1.3zM328.5 338.5h1.3v1.3h-1.3zM359.2 311.8h1.3v1.3h-1.3zM311.4 358.1h1.3v1.3h-1.3zM306.8 360.9h1.3v1.3h-1.3zM336.3 337.8h1.3v1.3h-1.3zM336.8 337.5h1.3v1.3h-1.3zM321.8 341.6h1.3v1.3h-1.3zM333.6 333.6h1.3v1.3h-1.3zM322.5 346.5h1.3v1.3h-1.3zM299.6 365.6h1.3v1.3h-1.3zM379.0 297.6h1.3v1.3h-1.3zM309.9 359.6h1.3v1.3h-1.3zM343.6 340.0h1.3v1.3h-1.3zM321.1 340.3h1.3v1.3h-1.3zM375.2 299.8h1.3v1.3h-1.3zM340.3 341.7h1.3v1.3h-1.3zM315.3 350.2h1.3v1.3h-1.3zM404.2 279.3h1.3v1.3h-1.3zM350.3 328.5h1.3v1.3h-1.3zM301.1 367.5h1.3v1.3h-1.3zM366.2 314.1h1.3v1.3h-1.3zM364.6 314.9h1.3v1.3h-1.3zM338.4 335.5h1.3v1.3h-1.3zM295.6 363.0h1.3v1.3h-1.3zM312.5 361.0h1.3v1.3h-1.3zM303.2 358.0h1.3v1.3h-1.3zM336.9 338.8h1.3v1.3h-1.3zM312.7 353.3h1.3v1.3h-1.3zM348.2 327.7h1.3v1.3h-1.3zM374.5 310.0h1.3v1.3h-1.3zM375.1 312.9h1.3v1.3h-1.3zM319.6 348.4h1.3v1.3h-1.3zM325.8 344.9h1.3v1.3h-1.3zM311.6 347.0h1.3v1.3h-1.3zM363.7 311.6h1.3v1.3h-1.3zM307.5 353.7h1.3v1.3h-1.3zM304.6 357.4h1.3v1.3h-1.3zM309.5 351.6h1.3v1.3h-1.3zM318.8 343.3h1.3v1.3h-1.3zM311.9 356.9h1.3v1.3h-1.3zM298.2 360.1h1.3v1.3h-1.3zM296.2 360.7h1.3v1.3h-1.3zM390.1 299.0h1.3v1.3h-1.3zM370.5 310.5h1.3v1.3h-1.3zM307.3 364.9h1.3v1.3h-1.3zM359.3 319.5h1.3v1.3h-1.3zM344.2 335.5h1.3v1.3h-1.3zM406.5 276.7h1.3v1.3h-1.3zM355.5 313.0h1.3v1.3h-1.3zM392.7 289.6h1.3v1.3h-1.3zM297.9 365.9h1.3v1.3h-1.3zM313.0 349.9h1.3v1.3h-1.3zM318.9 341.6h1.3v1.3h-1.3zM404.1 279.9h1.3v1.3h-1.3zM327.5 344.7h1.3v1.3h-1.3zM311.0 350.9h1.3v1.3h-1.3zM368.8 307.7h1.3v1.3h-1.3zM370.7 311.5h1.3v1.3h-1.3zM390.7 286.7h1.3v1.3h-1.3zM289.9 370.4h1.3v1.3h-1.3zM304.3 363.9h1.3v1.3h-1.3zM299.6 358.4h1.3v1.3h-1.3zM366.6 308.3h1.3v1.3h-1.3zM334.1 343.6h1.3v1.3h-1.3zM304.1 366.4h1.3v1.3h-1.3zM379.2 300.7h1.3v1.3h-1.3zM324.7 350.0h1.3v1.3h-1.3zM366.0 312.6h1.3v1.3h-1.3zM293.9 371.1h1.3v1.3h-1.3zM375.4 311.6h1.3v1.3h-1.3zM319.8 341.6h1.3v1.3h-1.3zM391.6 293.3h1.3v1.3h-1.3zM316.1 355.5h1.3v1.3h-1.3zM392.6 289.0h1.3v1.3h-1.3zM361.6 309.3h1.3v1.3h-1.3zM347.3 321.3h1.3v1.3h-1.3zM374.9 307.8h1.3v1.3h-1.3zM396.2 288.6h1.3v1.3h-1.3zM319.9 348.0h1.3v1.3h-1.3zM329.2 338.2h1.3v1.3h-1.3zM396.1 286.2h1.3v1.3h-1.3zM311.6 357.5h1.3v1.3h-1.3zM353.7 315.9h1.3v1.3h-1.3zM377.6 299.0h1.3v1.3h-1.3zM315.7 355.7h1.3v1.3h-1.3zM348.8 333.2h1.3v1.3h-1.3zM343.0 339.6h1.3v1.3h-1.3zM299.3 368.4h1.3v1.3h-1.3zM314.0 360.0h1.3v1.3h-1.3zM325.7 332.5h1.3v1.3h-1.3zM343.9 322.4h1.3v1.3h-1.3zM361.7 313.4h1.3v1.3h-1.3zM310.9 343.8h1.3v1.3h-1.3zM295.5 361.6h1.3v1.3h-1.3zM337.7 335.2h1.3v1.3h-1.3zM391.6 282.3h1.3v1.3h-1.3zM326.8 344.8h1.3v1.3h-1.3zM370.2 306.0h1.3v1.3h-1.3zM298.0 364.0h1.3v1.3h-1.3zM301.7 355.4h1.3v1.3h-1.3zM329.6 340.3h1.3v1.3h-1.3zM330.5 347.7h1.3v1.3h-1.3zM318.5 343.8h1.3v1.3h-1.3zM305.0 360.9h1.3v1.3h-1.3zM368.0 307.0h1.3v1.3h-1.3zM332.7 333.9h1.3v1.3h-1.3zM312.7 359.8h1.3v1.3h-1.3zM322.4 350.8h1.3v1.3h-1.3zM301.5 367.6h1.3v1.3h-1.3zM331.0 346.3h1.3v1.3h-1.3zM380.7 294.9h1.3v1.3h-1.3zM308.3 357.6h1.3v1.3h-1.3zM293.9 364.0h1.3v1.3h-1.3zM319.7 358.3h1.3v1.3h-1.3zM316.1 351.0h1.3v1.3h-1.3zM383.0 302.8h1.3v1.3h-1.3zM338.6 334.5h1.3v1.3h-1.3zM351.8 326.8h1.3v1.3h-1.3zM370.5 311.8h1.3v1.3h-1.3zM297.7 366.7h1.3v1.3h-1.3zM331.0 341.7h1.3v1.3h-1.3zM295.8 364.9h1.3v1.3h-1.3zM363.9 316.8h1.3v1.3h-1.3zM328.3 335.2h1.3v1.3h-1.3zM337.4 339.2h1.3v1.3h-1.3zM324.6 354.6h1.3v1.3h-1.3zM290.4 372.7h1.3v1.3h-1.3zM297.6 362.8h1.3v1.3h-1.3zM384.0 301.8h1.3v1.3h-1.3zM326.6 346.6h1.3v1.3h-1.3zM371.7 305.4h1.3v1.3h-1.3zM320.4 344.7h1.3v1.3h-1.3zM317.1 357.6h1.3v1.3h-1.3zM309.9 357.1h1.3v1.3h-1.3zM397.3 287.8h1.3v1.3h-1.3zM330.2 333.2h1.3v1.3h-1.3zM371.1 311.5h1.3v1.3h-1.3zM312.4 353.9h1.3v1.3h-1.3zM321.3 354.1h1.3v1.3h-1.3zM364.3 317.3h1.3v1.3h-1.3zM305.7 349.0h1.3v1.3h-1.3zM297.5 360.3h1.3v1.3h-1.3zM291.3 369.9h1.3v1.3h-1.3zM321.7 340.7h1.3v1.3h-1.3zM359.1 315.8h1.3v1.3h-1.3zM333.1 329.3h1.3v1.3h-1.3zM384.5 302.2h1.3v1.3h-1.3zM331.2 331.7h1.3v1.3h-1.3zM369.0 312.5h1.3v1.3h-1.3zM319.2 346.8h1.3v1.3h-1.3zM299.8 365.1h1.3v1.3h-1.3zM347.7 332.8h1.3v1.3h-1.3zM401.4 287.6h1.3v1.3h-1.3zM394.2 290.0h1.3v1.3h-1.3zM352.1 321.6h1.3v1.3h-1.3zM331.4 338.8h1.3v1.3h-1.3zM375.5 302.0h1.3v1.3h-1.3zM326.7 331.2h1.3v1.3h-1.3zM333.1 334.1h1.3v1.3h-1.3zM329.4 344.9h1.3v1.3h-1.3zM309.6 356.7h1.3v1.3h-1.3zM326.2 334.5h1.3v1.3h-1.3zM353.6 321.4h1.3v1.3h-1.3zM381.7 299.0h1.3v1.3h-1.3zM311.2 344.2h1.3v1.3h-1.3zM330.3 351.7h1.3v1.3h-1.3zM332.0 344.0h1.3v1.3h-1.3zM292.1 372.2h1.3v1.3h-1.3zM337.2 345.1h1.3v1.3h-1.3zM317.4 354.8h1.3v1.3h-1.3zM344.6 329.9h1.3v1.3h-1.3zM340.6 329.4h1.3v1.3h-1.3zM349.0 316.4h1.3v1.3h-1.3zM310.3 360.4h1.3v1.3h-1.3zM395.8 287.0h1.3v1.3h-1.3zM353.6 322.9h1.3v1.3h-1.3zM290.0 367.0h1.3v1.3h-1.3zM344.1 321.4h1.3v1.3h-1.3zM327.9 333.1h1.3v1.3h-1.3zM373.9 311.2h1.3v1.3h-1.3zM291.7 372.6h1.3v1.3h-1.3zM369.1 311.3h1.3v1.3h-1.3zM323.3 339.7h1.3v1.3h-1.3zM337.0 335.8h1.3v1.3h-1.3zM301.5 364.3h1.3v1.3h-1.3zM300.3 366.1h1.3v1.3h-1.3zM340.6 333.2h1.3v1.3h-1.3zM345.5 326.8h1.3v1.3h-1.3zM326.3 349.9h1.3v1.3h-1.3zM331.7 346.3h1.3v1.3h-1.3zM347.4 320.7h1.3v1.3h-1.3zM295.9 359.8h1.3v1.3h-1.3zM404.9 279.1h1.3v1.3h-1.3zM352.0 318.1h1.3v1.3h-1.3zM322.0 344.5h1.3v1.3h-1.3zM351.5 326.7h1.3v1.3h-1.3zM295.5 366.8h1.3v1.3h-1.3zM379.3 308.3h1.3v1.3h-1.3zM297.1 367.7h1.3v1.3h-1.3zM388.7 297.0h1.3v1.3h-1.3zM320.5 351.7h1.3v1.3h-1.3zM349.6 326.2h1.3v1.3h-1.3zM344.8 330.4h1.3v1.3h-1.3zM400.4 284.6h1.3v1.3h-1.3zM330.3 350.1h1.3v1.3h-1.3zM361.7 316.7h1.3v1.3h-1.3zM390.6 286.4h1.3v1.3h-1.3zM388.7 290.4h1.3v1.3h-1.3zM319.1 349.0h1.3v1.3h-1.3zM292.6 368.1h1.3v1.3h-1.3zM370.3 311.2h1.3v1.3h-1.3zM336.8 339.9h1.3v1.3h-1.3zM345.6 337.6h1.3v1.3h-1.3zM293.2 370.5h1.3v1.3h-1.3zM359.9 315.4h1.3v1.3h-1.3zM359.4 317.6h1.3v1.3h-1.3zM296.2 366.5h1.3v1.3h-1.3zM325.9 332.6h1.3v1.3h-1.3zM386.4 289.6h1.3v1.3h-1.3zM334.8 330.6h1.3v1.3h-1.3zM389.5 288.1h1.3v1.3h-1.3zM332.2 328.7h1.3v1.3h-1.3zM398.3 280.2h1.3v1.3h-1.3zM303.7 353.6h1.3v1.3h-1.3zM327.7 338.0h1.3v1.3h-1.3zM315.2 343.8h1.3v1.3h-1.3zM398.5 287.7h1.3v1.3h-1.3zM316.2 359.7h1.3v1.3h-1.3zM289.7 373.5h1.3v1.3h-1.3zM365.5 310.6h1.3v1.3h-1.3zM320.3 341.7h1.3v1.3h-1.3zM307.2 365.0h1.3v1.3h-1.3zM392.5 294.9h1.3v1.3h-1.3zM317.9 342.9h1.3v1.3h-1.3zM299.8 355.6h1.3v1.3h-1.3zM343.8 327.5h1.3v1.3h-1.3zM311.3 345.8h1.3v1.3h-1.3zM345.2 323.8h1.3v1.3h-1.3zM322.6 354.5h1.3v1.3h-1.3zM302.4 363.2h1.3v1.3h-1.3zM373.5 309.7h1.3v1.3h-1.3zM391.6 295.8h1.3v1.3h-1.3zM344.6 339.3h1.3v1.3h-1.3zM293.6 363.1h1.3v1.3h-1.3zM322.5 337.3h1.3v1.3h-1.3zM330.1 346.2h1.3v1.3h-1.3zM324.0 340.6h1.3v1.3h-1.3zM356.2 324.1h1.3v1.3h-1.3zM397.7 282.6h1.3v1.3h-1.3zM383.5 297.3h1.3v1.3h-1.3zM322.2 356.1h1.3v1.3h-1.3zM392.4 287.3h1.3v1.3h-1.3zM310.1 355.7h1.3v1.3h-1.3zM304.3 354.0h1.3v1.3h-1.3zM362.9 314.0h1.3v1.3h-1.3zM322.2 343.6h1.3v1.3h-1.3zM333.7 349.6h1.3v1.3h-1.3zM332.7 345.5h1.3v1.3h-1.3zM311.3 361.8h1.3v1.3h-1.3zM318.7 348.6h1.3v1.3h-1.3zM302.5 359.8h1.3v1.3h-1.3zM376.9 309.1h1.3v1.3h-1.3zM373.9 309.3h1.3v1.3h-1.3zM378.2 301.5h1.3v1.3h-1.3zM365.0 317.2h1.3v1.3h-1.3zM332.8 329.4h1.3v1.3h-1.3zM304.2 362.2h1.3v1.3h-1.3zM301.9 366.9h1.3v1.3h-1.3zM335.7 341.3h1.3v1.3h-1.3zM385.6 294.2h1.3v1.3h-1.3zM377.5 299.7h1.3v1.3h-1.3zM337.7 335.1h1.3v1.3h-1.3zM396.7 280.0h1.3v1.3h-1.3zM391.2 285.4h1.3v1.3h-1.3zM343.0 321.0h1.3v1.3h-1.3zM399.7 284.7h1.3v1.3h-1.3zM351.9 325.9h1.3v1.3h-1.3zM298.0 369.3h1.3v1.3h-1.3zM355.5 316.4h1.3v1.3h-1.3zM359.8 316.3h1.3v1.3h-1.3zM317.8 341.7h1.3v1.3h-1.3zM405.6 273.3h1.3v1.3h-1.3zM334.8 345.2h1.3v1.3h-1.3zM352.2 329.5h1.3v1.3h-1.3zM317.8 339.0h1.3v1.3h-1.3zM348.2 333.0h1.3v1.3h-1.3zM371.2 312.3h1.3v1.3h-1.3zM403.6 275.2h1.3v1.3h-1.3zM309.6 350.4h1.3v1.3h-1.3zM371.5 312.0h1.3v1.3h-1.3zM347.6 335.9h1.3v1.3h-1.3zM292.8 365.7h1.3v1.3h-1.3zM296.8 358.5h1.3v1.3h-1.3zM296.0 358.6h1.3v1.3h-1.3zM374.3 302.5h1.3v1.3h-1.3zM307.8 351.9h1.3v1.3h-1.3zM331.4 344.0h1.3v1.3h-1.3zM306.5 365.3h1.3v1.3h-1.3zM322.1 353.4h1.3v1.3h-1.3zM385.0 289.8h1.3v1.3h-1.3zM338.8 345.0h1.3v1.3h-1.3zM306.5 352.6h1.3v1.3h-1.3zM381.8 301.8h1.3v1.3h-1.3zM379.0 302.6h1.3v1.3h-1.3zM361.2 312.6h1.3v1.3h-1.3zM360.4 310.8h1.3v1.3h-1.3zM343.0 336.1h1.3v1.3h-1.3zM337.7 330.1h1.3v1.3h-1.3zM335.9 335.4h1.3v1.3h-1.3zM306.2 359.4h1.3v1.3h-1.3zM295.5 369.8h1.3v1.3h-1.3zM299.1 364.6h1.3v1.3h-1.3zM297.9 369.2h1.3v1.3h-1.3zM384.6 290.5h1.3v1.3h-1.3zM382.8 306.6h1.3v1.3h-1.3zM395.6 287.2h1.3v1.3h-1.3zM391.9 298.6h1.3v1.3h-1.3zM402.4 281.7h1.3v1.3h-1.3zM309.3 358.5h1.3v1.3h-1.3zM313.9 354.0h1.3v1.3h-1.3zM359.9 313.0h1.3v1.3h-1.3zM349.9 325.5h1.3v1.3h-1.3zM330.8 350.8h1.3v1.3h-1.3zM348.2 325.9h1.3v1.3h-1.3zM348.8 334.9h1.3v1.3h-1.3zM307.4 351.6h1.3v1.3h-1.3zM388.8 295.8h1.3v1.3h-1.3zM291.8 362.7h1.3v1.3h-1.3zM324.1 348.2h1.3v1.3h-1.3zM342.5 330.7h1.3v1.3h-1.3zM333.3 348.7h1.3v1.3h-1.3zM313.1 352.7h1.3v1.3h-1.3zM377.3 305.3h1.3v1.3h-1.3zM406.1 277.1h1.3v1.3h-1.3zM373.0 303.8h1.3v1.3h-1.3zM340.2 326.0h1.3v1.3h-1.3zM397.0 283.6h1.3v1.3h-1.3zM340.5 321.2h1.3v1.3h-1.3zM296.1 364.2h1.3v1.3h-1.3zM382.7 299.2h1.3v1.3h-1.3zM395.2 291.5h1.3v1.3h-1.3zM323.3 334.7h1.3v1.3h-1.3zM394.2 290.1h1.3v1.3h-1.3zM307.3 353.9h1.3v1.3h-1.3zM296.3 370.3h1.3v1.3h-1.3zM392.1 284.6h1.3v1.3h-1.3zM311.3 354.5h1.3v1.3h-1.3zM340.0 337.0h1.3v1.3h-1.3zM374.6 300.6h1.3v1.3h-1.3zM361.8 316.5h1.3v1.3h-1.3zM307.1 354.4h1.3v1.3h-1.3zM403.5 279.9h1.3v1.3h-1.3zM302.5 353.2h1.3v1.3h-1.3zM358.2 319.1h1.3v1.3h-1.3zM305.9 352.3h1.3v1.3h-1.3zM292.5 365.1h1.3v1.3h-1.3zM371.0 315.0h1.3v1.3h-1.3zM304.9 355.0h1.3v1.3h-1.3zM325.0 354.8h1.3v1.3h-1.3zM305.2 350.5h1.3v1.3h-1.3zM359.5 320.7h1.3v1.3h-1.3zM339.1 342.4h1.3v1.3h-1.3zM331.7 331.9h1.3v1.3h-1.3zM291.4 366.3h1.3v1.3h-1.3zM348.6 330.0h1.3v1.3h-1.3zM302.6 356.2h1.3v1.3h-1.3zM339.4 334.2h1.3v1.3h-1.3zM397.3 288.4h1.3v1.3h-1.3zM367.4 308.0h1.3v1.3h-1.3zM343.1 332.6h1.3v1.3h-1.3zM328.9 351.3h1.3v1.3h-1.3zM305.4 358.3h1.3v1.3h-1.3zM323.2 336.7h1.3v1.3h-1.3zM321.3 338.4h1.3v1.3h-1.3zM342.3 328.8h1.3v1.3h-1.3zM319.4 355.8h1.3v1.3h-1.3zM381.5 294.7h1.3v1.3h-1.3zM358.9 322.4h1.3v1.3h-1.3zM397.5 279.1h1.3v1.3h-1.3zM348.7 322.1h1.3v1.3h-1.3zM338.0 332.9h1.3v1.3h-1.3zM315.5 353.3h1.3v1.3h-1.3zM405.2 275.8h1.3v1.3h-1.3zM313.4 349.5h1.3v1.3h-1.3zM309.8 360.1h1.3v1.3h-1.3zM312.8 359.2h1.3v1.3h-1.3zM339.6 329.3h1.3v1.3h-1.3zM313.8 351.4h1.3v1.3h-1.3zM399.3 279.8h1.3v1.3h-1.3zM328.0 331.9h1.3v1.3h-1.3zM331.8 334.6h1.3v1.3h-1.3zM338.3 330.1h1.3v1.3h-1.3zM374.5 303.1h1.3v1.3h-1.3zM372.9 307.2h1.3v1.3h-1.3zM356.3 324.3h1.3v1.3h-1.3zM338.7 326.0h1.3v1.3h-1.3zM305.1 364.9h1.3v1.3h-1.3zM289.9 370.3h1.3v1.3h-1.3zM346.3 325.5h1.3v1.3h-1.3zM289.9 363.5h1.3v1.3h-1.3zM384.5 307.1h1.3v1.3h-1.3zM298.4 363.3h1.3v1.3h-1.3zM383.9 298.1h1.3v1.3h-1.3zM387.9 288.8h1.3v1.3h-1.3zM326.2 346.5h1.3v1.3h-1.3zM333.3 337.0h1.3v1.3h-1.3zM310.8 356.7h1.3v1.3h-1.3zM400.7 276.8h1.3v1.3h-1.3zM341.3 323.1h1.3v1.3h-1.3zM291.0 372.6h1.3v1.3h-1.3zM296.0 367.1h1.3v1.3h-1.3zM310.5 361.4h1.3v1.3h-1.3zM306.9 346.1h1.3v1.3h-1.3zM292.9 361.0h1.3v1.3h-1.3zM297.7 363.2h1.3v1.3h-1.3zM301.2 353.0h1.3v1.3h-1.3zM291.3 367.8h1.3v1.3h-1.3zM291.9 367.6h1.3v1.3h-1.3zM316.3 351.6h1.3v1.3h-1.3zM337.7 329.4h1.3v1.3h-1.3zM308.6 361.1h1.3v1.3h-1.3zM296.9 359.2h1.3v1.3h-1.3zM379.1 307.3h1.3v1.3h-1.3zM307.9 362.4h1.3v1.3h-1.3zM323.1 342.9h1.3v1.3h-1.3zM299.1 364.5h1.3v1.3h-1.3zM340.7 323.5h1.3v1.3h-1.3zM366.8 313.1h1.3v1.3h-1.3zM312.6 346.8h1.3v1.3h-1.3zM397.6 280.1h1.3v1.3h-1.3zM301.1 359.3h1.3v1.3h-1.3zM393.0 285.8h1.3v1.3h-1.3zM360.7 318.3h1.3v1.3h-1.3zM297.7 364.3h1.3v1.3h-1.3zM318.6 358.8h1.3v1.3h-1.3zM343.2 335.9h1.3v1.3h-1.3zM316.4 348.5h1.3v1.3h-1.3zM380.4 299.0h1.3v1.3h-1.3zM299.7 358.0h1.3v1.3h-1.3zM340.0 325.0h1.3v1.3h-1.3zM297.8 362.9h1.3v1.3h-1.3zM290.7 369.7h1.3v1.3h-1.3zM291.8 371.7h1.3v1.3h-1.3zM316.5 354.5h1.3v1.3h-1.3zM406.9 273.8h1.3v1.3h-1.3zM300.8 356.4h1.3v1.3h-1.3zM325.7 344.0h1.3v1.3h-1.3zM332.1 333.5h1.3v1.3h-1.3zM326.5 332.8h1.3v1.3h-1.3zM292.5 371.3h1.3v1.3h-1.3zM364.2 308.7h1.3v1.3h-1.3zM370.3 305.0h1.3v1.3h-1.3zM363.0 317.4h1.3v1.3h-1.3zM334.0 349.4h1.3v1.3h-1.3zM394.8 293.2h1.3v1.3h-1.3zM375.7 301.0h1.3v1.3h-1.3zM300.4 364.6h1.3v1.3h-1.3zM300.3 360.3h1.3v1.3h-1.3zM306.3 360.1h1.3v1.3h-1.3zM338.0 337.2h1.3v1.3h-1.3zM365.6 318.3h1.3v1.3h-1.3zM339.4 342.8h1.3v1.3h-1.3zM304.1 363.2h1.3v1.3h-1.3zM321.0 354.6h1.3v1.3h-1.3zM351.5 323.5h1.3v1.3h-1.3zM319.0 342.7h1.3v1.3h-1.3zM392.9 288.4h1.3v1.3h-1.3zM339.0 323.9h1.3v1.3h-1.3zM334.4 349.1h1.3v1.3h-1.3zM296.4 364.2h1.3v1.3h-1.3zM326.3 337.3h1.3v1.3h-1.3zM337.2 334.6h1.3v1.3h-1.3zM322.4 349.0h1.3v1.3h-1.3zM334.9 332.3h1.3v1.3h-1.3zM300.3 360.2h1.3v1.3h-1.3zM388.5 293.9h1.3v1.3h-1.3zM371.0 305.2h1.3v1.3h-1.3zM370.8 314.2h1.3v1.3h-1.3zM332.7 333.4h1.3v1.3h-1.3zM304.2 352.8h1.3v1.3h-1.3zM342.4 319.7h1.3v1.3h-1.3zM345.6 316.1h1.3v1.3h-1.3zM354.1 326.2h1.3v1.3h-1.3zM352.7 312.6h1.3v1.3h-1.3zM333.3 321.9h1.3v1.3h-1.3zM329.6 318.4h1.3v1.3h-1.3zM346.5 303.5h1.3v1.3h-1.3zM357.3 328.6h1.3v1.3h-1.3z" fill="#083d64"/>
<path d="M336.8 339.7h1.3v1.3h-1.3zM387.4 310.0h1.3v1.3h-1.3zM377.9 321.1h1.3v1.3h-1.3zM338.2 336.5h1.3v1.3h-1.3zM354.2 330.7h1.3v1.3h-1.3zM353.4 334.6h1.3v1.3h-1.3zM352.8 336.0h1.3v1.3h-1.3zM348.3 330.7h1.3v1.3h-1.3zM371.0 323.2h1.3v1.3h-1.3zM375.1 319.5h1.3v1.3h-1.3zM348.1 333.7h1.3v1.3h-1.3zM342.6 337.5h1.3v1.3h-1.3zM367.7 326.1h1.3v1.3h-1.3zM357.4 329.4h1.3v1.3h-1.3zM383.8 312.6h1.3v1.3h-1.3zM342.8 333.4h1.3v1.3h-1.3zM360.2 330.5h1.3v1.3h-1.3zM362.4 330.4h1.3v1.3h-1.3zM360.1 326.7h1.3v1.3h-1.3zM366.7 326.9h1.3v1.3h-1.3zM360.1 325.5h1.3v1.3h-1.3zM381.7 316.2h1.3v1.3h-1.3zM368.5 327.4h1.3v1.3h-1.3zM380.9 313.5h1.3v1.3h-1.3zM366.3 325.9h1.3v1.3h-1.3zM389.5 311.7h1.3v1.3h-1.3zM349.7 332.0h1.3v1.3h-1.3zM390.4 311.0h1.3v1.3h-1.3zM337.3 339.8h1.3v1.3h-1.3zM359.0 331.3h1.3v1.3h-1.3zM367.8 323.9h1.3v1.3h-1.3zM364.0 327.3h1.3v1.3h-1.3zM355.3 329.0h1.3v1.3h-1.3zM336.9 340.9h1.3v1.3h-1.3zM334.0 343.6h1.3v1.3h-1.3zM363.8 326.1h1.3v1.3h-1.3zM370.5 320.6h1.3v1.3h-1.3zM386.9 315.8h1.3v1.3h-1.3zM378.5 316.8h1.3v1.3h-1.3zM354.5 329.4h1.3v1.3h-1.3zM363.0 322.9h1.3v1.3h-1.3zM331.1 341.2h1.3v1.3h-1.3zM344.9 338.0h1.3v1.3h-1.3zM345.3 335.6h1.3v1.3h-1.3zM363.2 323.7h1.3v1.3h-1.3zM338.6 338.0h1.3v1.3h-1.3zM344.0 337.1h1.3v1.3h-1.3zM373.1 317.7h1.3v1.3h-1.3zM358.2 332.3h1.3v1.3h-1.3zM371.4 319.9h1.3v1.3h-1.3zM364.6 323.8h1.3v1.3h-1.3zM352.6 334.8h1.3v1.3h-1.3zM375.6 319.0h1.3v1.3h-1.3zM342.5 337.1h1.3v1.3h-1.3zM361.8 330.3h1.3v1.3h-1.3zM359.3 329.9h1.3v1.3h-1.3zM361.2 326.8h1.3v1.3h-1.3zM332.8 343.0h1.3v1.3h-1.3zM339.3 341.0h1.3v1.3h-1.3zM344.2 330.0h1.3v1.3h-1.3zM365.0 330.0h1.3v1.3h-1.3zM344.4 338.7h1.3v1.3h-1.3zM371.1 320.1h1.3v1.3h-1.3zM338.1 340.5h1.3v1.3h-1.3zM376.9 317.5h1.3v1.3h-1.3zM372.6 321.8h1.3v1.3h-1.3zM332.8 341.7h1.3v1.3h-1.3zM352.9 332.4h1.3v1.3h-1.3zM351.9 336.5h1.3v1.3h-1.3zM341.4 338.6h1.3v1.3h-1.3zM377.7 316.1h1.3v1.3h-1.3zM340.5 331.6h1.3v1.3h-1.3zM365.9 327.7h1.3v1.3h-1.3zM366.4 322.9h1.3v1.3h-1.3zM364.2 326.7h1.3v1.3h-1.3zM375.4 324.5h1.3v1.3h-1.3zM341.4 334.0h1.3v1.3h-1.3zM333.6 339.4h1.3v1.3h-1.3zM341.6 336.2h1.3v1.3h-1.3zM362.8 331.0h1.3v1.3h-1.3zM336.0 338.5h1.3v1.3h-1.3zM350.6 333.3h1.3v1.3h-1.3zM366.1 322.5h1.3v1.3h-1.3zM346.7 334.9h1.3v1.3h-1.3zM351.7 329.0h1.3v1.3h-1.3zM342.0 329.5h1.3v1.3h-1.3zM357.1 333.1h1.3v1.3h-1.3zM375.6 317.2h1.3v1.3h-1.3zM363.8 322.3h1.3v1.3h-1.3zM332.1 346.8h1.3v1.3h-1.3zM357.9 330.8h1.3v1.3h-1.3zM364.3 328.3h1.3v1.3h-1.3zM370.2 324.3h1.3v1.3h-1.3zM358.2 333.3h1.3v1.3h-1.3zM371.3 326.2h1.3v1.3h-1.3zM352.4 327.5h1.3v1.3h-1.3zM360.3 331.5h1.3v1.3h-1.3zM339.8 335.7h1.3v1.3h-1.3zM345.1 329.1h1.3v1.3h-1.3zM330.7 346.3h1.3v1.3h-1.3zM339.8 333.9h1.3v1.3h-1.3zM362.0 323.3h1.3v1.3h-1.3zM336.9 340.6h1.3v1.3h-1.3zM360.8 330.1h1.3v1.3h-1.3zM358.1 328.1h1.3v1.3h-1.3zM332.0 340.7h1.3v1.3h-1.3zM349.7 331.0h1.3v1.3h-1.3zM347.2 334.1h1.3v1.3h-1.3zM371.8 320.0h1.3v1.3h-1.3zM336.1 338.0h1.3v1.3h-1.3zM348.3 331.4h1.3v1.3h-1.3zM356.9 330.9h1.3v1.3h-1.3zM373.0 323.3h1.3v1.3h-1.3zM354.1 331.1h1.3v1.3h-1.3zM368.0 326.3h1.3v1.3h-1.3zM341.1 338.2h1.3v1.3h-1.3zM357.8 325.9h1.3v1.3h-1.3zM351.1 333.9h1.3v1.3h-1.3zM371.0 321.7h1.3v1.3h-1.3zM339.2 336.3h1.3v1.3h-1.3zM370.2 323.8h1.3v1.3h-1.3zM375.0 317.2h1.3v1.3h-1.3zM367.3 323.5h1.3v1.3h-1.3zM391.1 310.0h1.3v1.3h-1.3zM343.1 337.8h1.3v1.3h-1.3zM333.6 338.5h1.3v1.3h-1.3zM352.0 330.7h1.3v1.3h-1.3zM359.6 325.8h1.3v1.3h-1.3zM342.4 332.3h1.3v1.3h-1.3zM369.4 324.7h1.3v1.3h-1.3zM336.8 337.7h1.3v1.3h-1.3zM359.1 329.6h1.3v1.3h-1.3zM379.6 321.4h1.3v1.3h-1.3zM342.1 338.2h1.3v1.3h-1.3zM362.6 324.3h1.3v1.3h-1.3zM341.6 337.2h1.3v1.3h-1.3zM339.4 332.6h1.3v1.3h-1.3zM334.5 343.1h1.3v1.3h-1.3zM377.8 322.6h1.3v1.3h-1.3zM363.1 323.9h1.3v1.3h-1.3zM373.4 318.6h1.3v1.3h-1.3zM346.4 331.4h1.3v1.3h-1.3zM356.8 328.1h1.3v1.3h-1.3zM365.0 328.7h1.3v1.3h-1.3zM363.4 329.0h1.3v1.3h-1.3zM351.4 335.1h1.3v1.3h-1.3zM376.4 319.3h1.3v1.3h-1.3zM351.9 338.1h1.3v1.3h-1.3zM375.5 317.1h1.3v1.3h-1.3zM348.5 331.2h1.3v1.3h-1.3zM351.4 327.1h1.3v1.3h-1.3zM352.4 328.1h1.3v1.3h-1.3zM334.8 344.1h1.3v1.3h-1.3zM345.3 331.4h1.3v1.3h-1.3zM354.9 325.9h1.3v1.3h-1.3zM339.5 337.5h1.3v1.3h-1.3zM347.3 336.8h1.3v1.3h-1.3zM367.1 324.9h1.3v1.3h-1.3zM332.3 340.8h1.3v1.3h-1.3zM369.0 325.5h1.3v1.3h-1.3zM342.4 334.9h1.3v1.3h-1.3zM368.1 328.2h1.3v1.3h-1.3zM353.8 331.8h1.3v1.3h-1.3zM361.4 329.7h1.3v1.3h-1.3zM352.5 329.6h1.3v1.3h-1.3zM376.9 322.7h1.3v1.3h-1.3zM354.6 327.5h1.3v1.3h-1.3zM349.1 339.5h1.3v1.3h-1.3zM356.4 327.2h1.3v1.3h-1.3zM375.7 319.1h1.3v1.3h-1.3zM336.3 336.2h1.3v1.3h-1.3zM340.7 331.6h1.3v1.3h-1.3zM378.7 319.3h1.3v1.3h-1.3zM346.5 329.8h1.3v1.3h-1.3zM374.9 320.2h1.3v1.3h-1.3zM342.9 336.8h1.3v1.3h-1.3zM365.6 330.4h1.3v1.3h-1.3zM365.6 327.7h1.3v1.3h-1.3zM329.7 342.5h1.3v1.3h-1.3zM335.8 339.6h1.3v1.3h-1.3zM342.9 338.2h1.3v1.3h-1.3zM342.8 334.6h1.3v1.3h-1.3zM336.2 338.6h1.3v1.3h-1.3zM338.1 343.0h1.3v1.3h-1.3zM340.9 340.1h1.3v1.3h-1.3zM348.1 339.3h1.3v1.3h-1.3zM374.2 318.9h1.3v1.3h-1.3zM372.6 324.9h1.3v1.3h-1.3zM354.2 332.6h1.3v1.3h-1.3zM345.3 331.4h1.3v1.3h-1.3zM387.8 312.1h1.3v1.3h-1.3zM362.5 330.4h1.3v1.3h-1.3zM344.9 338.7h1.3v1.3h-1.3zM367.1 325.5h1.3v1.3h-1.3zM355.2 329.1h1.3v1.3h-1.3zM384.0 315.9h1.3v1.3h-1.3zM368.5 323.8h1.3v1.3h-1.3zM372.8 318.4h1.3v1.3h-1.3zM360.2 328.3h1.3v1.3h-1.3zM378.7 319.8h1.3v1.3h-1.3zM368.5 327.0h1.3v1.3h-1.3zM343.5 336.7h1.3v1.3h-1.3zM389.0 313.3h1.3v1.3h-1.3zM340.7 339.3h1.3v1.3h-1.3zM388.1 315.6h1.3v1.3h-1.3zM351.3 330.9h1.3v1.3h-1.3zM360.4 332.1h1.3v1.3h-1.3zM384.8 310.2h1.3v1.3h-1.3zM336.2 336.4h1.3v1.3h-1.3zM353.1 332.7h1.3v1.3h-1.3zM341.4 334.4h1.3v1.3h-1.3zM354.8 332.5h1.3v1.3h-1.3zM377.3 318.7h1.3v1.3h-1.3zM334.4 341.0h1.3v1.3h-1.3zM371.6 325.6h1.3v1.3h-1.3zM340.2 334.6h1.3v1.3h-1.3zM338.7 331.5h1.3v1.3h-1.3zM368.6 321.4h1.3v1.3h-1.3zM365.7 326.3h1.3v1.3h-1.3zM382.5 320.2h1.3v1.3h-1.3zM353.3 334.6h1.3v1.3h-1.3zM362.1 322.5h1.3v1.3h-1.3zM376.1 322.3h1.3v1.3h-1.3zM351.4 331.0h1.3v1.3h-1.3zM332.3 343.9h1.3v1.3h-1.3zM336.5 337.7h1.3v1.3h-1.3zM367.5 325.3h1.3v1.3h-1.3zM367.9 323.1h1.3v1.3h-1.3zM343.7 331.8h1.3v1.3h-1.3zM362.0 324.2h1.3v1.3h-1.3zM355.3 330.1h1.3v1.3h-1.3zM379.9 317.7h1.3v1.3h-1.3zM367.0 325.6h1.3v1.3h-1.3zM358.6 327.2h1.3v1.3h-1.3zM347.2 329.3h1.3v1.3h-1.3zM389.2 314.3h1.3v1.3h-1.3zM356.4 329.9h1.3v1.3h-1.3zM346.7 329.2h1.3v1.3h-1.3zM374.4 322.8h1.3v1.3h-1.3zM332.6 341.9h1.3v1.3h-1.3zM376.3 322.1h1.3v1.3h-1.3zM361.0 324.7h1.3v1.3h-1.3zM361.5 325.2h1.3v1.3h-1.3zM367.1 321.3h1.3v1.3h-1.3zM379.9 318.3h1.3v1.3h-1.3zM358.2 327.2h1.3v1.3h-1.3zM368.5 324.8h1.3v1.3h-1.3zM360.4 324.6h1.3v1.3h-1.3zM356.4 330.5h1.3v1.3h-1.3zM369.1 322.5h1.3v1.3h-1.3zM388.4 311.1h1.3v1.3h-1.3zM336.6 335.4h1.3v1.3h-1.3zM334.2 339.2h1.3v1.3h-1.3zM349.0 328.9h1.3v1.3h-1.3zM333.9 337.8h1.3v1.3h-1.3zM353.2 333.6h1.3v1.3h-1.3zM351.0 333.7h1.3v1.3h-1.3zM340.1 336.2h1.3v1.3h-1.3zM359.5 322.9h1.3v1.3h-1.3zM330.6 340.4h1.3v1.3h-1.3zM378.4 319.0h1.3v1.3h-1.3zM354.9 327.4h1.3v1.3h-1.3zM380.0 322.0h1.3v1.3h-1.3zM366.7 324.9h1.3v1.3h-1.3zM352.1 331.0h1.3v1.3h-1.3zM365.3 328.6h1.3v1.3h-1.3zM374.0 321.9h1.3v1.3h-1.3zM366.8 324.3h1.3v1.3h-1.3zM357.0 324.9h1.3v1.3h-1.3zM385.6 317.9h1.3v1.3h-1.3zM355.2 334.2h1.3v1.3h-1.3zM377.3 322.7h1.3v1.3h-1.3zM332.8 339.1h1.3v1.3h-1.3zM376.0 317.3h1.3v1.3h-1.3zM338.1 337.8h1.3v1.3h-1.3zM334.3 340.9h1.3v1.3h-1.3zM362.2 326.9h1.3v1.3h-1.3zM343.0 331.5h1.3v1.3h-1.3zM333.2 341.8h1.3v1.3h-1.3zM357.3 326.1h1.3v1.3h-1.3zM351.4 329.8h1.3v1.3h-1.3zM334.7 336.8h1.3v1.3h-1.3zM368.8 325.3h1.3v1.3h-1.3zM353.7 333.7h1.3v1.3h-1.3zM364.4 326.4h1.3v1.3h-1.3zM349.1 331.7h1.3v1.3h-1.3zM365.9 329.0h1.3v1.3h-1.3zM342.5 331.9h1.3v1.3h-1.3zM344.0 338.7h1.3v1.3h-1.3zM342.2 336.7h1.3v1.3h-1.3zM340.5 333.9h1.3v1.3h-1.3zM337.7 333.9h1.3v1.3h-1.3zM347.9 329.0h1.3v1.3h-1.3zM367.1 323.3h1.3v1.3h-1.3zM380.7 315.3h1.3v1.3h-1.3zM382.4 318.2h1.3v1.3h-1.3zM354.0 330.9h1.3v1.3h-1.3zM343.4 332.4h1.3v1.3h-1.3zM365.3 322.8h1.3v1.3h-1.3zM338.7 338.9h1.3v1.3h-1.3zM364.2 329.4h1.3v1.3h-1.3zM355.4 335.2h1.3v1.3h-1.3zM347.3 334.4h1.3v1.3h-1.3zM350.2 331.9h1.3v1.3h-1.3zM368.0 323.5h1.3v1.3h-1.3zM373.6 322.4h1.3v1.3h-1.3zM355.5 330.3h1.3v1.3h-1.3zM355.4 329.7h1.3v1.3h-1.3zM355.7 329.1h1.3v1.3h-1.3zM372.1 324.6h1.3v1.3h-1.3zM352.0 329.6h1.3v1.3h-1.3zM350.9 334.6h1.3v1.3h-1.3zM352.2 334.6h1.3v1.3h-1.3zM387.2 310.8h1.3v1.3h-1.3zM339.8 333.7h1.3v1.3h-1.3zM363.5 332.3h1.3v1.3h-1.3zM369.6 324.5h1.3v1.3h-1.3zM330.7 340.3h1.3v1.3h-1.3zM336.5 339.1h1.3v1.3h-1.3zM353.7 336.4h1.3v1.3h-1.3zM336.8 338.9h1.3v1.3h-1.3zM355.1 329.8h1.3v1.3h-1.3zM359.4 332.1h1.3v1.3h-1.3zM344.6 338.5h1.3v1.3h-1.3zM377.1 319.5h1.3v1.3h-1.3zM356.5 331.1h1.3v1.3h-1.3zM372.1 320.2h1.3v1.3h-1.3zM369.6 323.2h1.3v1.3h-1.3zM342.0 338.4h1.3v1.3h-1.3zM388.3 309.1h1.3v1.3h-1.3zM341.5 338.7h1.3v1.3h-1.3zM348.9 330.0h1.3v1.3h-1.3zM377.9 321.2h1.3v1.3h-1.3zM365.1 330.7h1.3v1.3h-1.3zM370.1 327.8h1.3v1.3h-1.3zM334.6 338.0h1.3v1.3h-1.3zM342.3 336.3h1.3v1.3h-1.3zM336.7 340.0h1.3v1.3h-1.3zM349.0 328.0h1.3v1.3h-1.3zM366.4 330.1h1.3v1.3h-1.3zM390.7 307.8h1.3v1.3h-1.3zM336.0 338.2h1.3v1.3h-1.3zM367.9 319.6h1.3v1.3h-1.3zM354.4 332.9h1.3v1.3h-1.3zM349.6 330.2h1.3v1.3h-1.3zM354.7 333.3h1.3v1.3h-1.3zM348.9 334.9h1.3v1.3h-1.3zM377.6 319.9h1.3v1.3h-1.3zM337.5 335.8h1.3v1.3h-1.3zM357.6 332.0h1.3v1.3h-1.3zM356.7 328.0h1.3v1.3h-1.3zM345.5 331.2h1.3v1.3h-1.3zM333.4 341.4h1.3v1.3h-1.3zM334.1 342.0h1.3v1.3h-1.3zM368.5 322.0h1.3v1.3h-1.3zM355.9 325.7h1.3v1.3h-1.3zM344.9 331.2h1.3v1.3h-1.3zM370.0 324.8h1.3v1.3h-1.3zM371.3 323.3h1.3v1.3h-1.3zM364.3 325.3h1.3v1.3h-1.3zM349.1 334.9h1.3v1.3h-1.3zM357.8 333.3h1.3v1.3h-1.3zM345.2 334.7h1.3v1.3h-1.3zM352.5 327.3h1.3v1.3h-1.3zM357.4 334.8h1.3v1.3h-1.3zM350.6 331.8h1.3v1.3h-1.3zM329.9 340.3h1.3v1.3h-1.3zM370.4 324.6h1.3v1.3h-1.3zM334.6 340.0h1.3v1.3h-1.3zM371.8 322.3h1.3v1.3h-1.3zM345.0 333.4h1.3v1.3h-1.3zM342.6 330.8h1.3v1.3h-1.3zM334.0 340.1h1.3v1.3h-1.3zM356.7 326.4h1.3v1.3h-1.3zM366.4 326.6h1.3v1.3h-1.3zM356.4 329.9h1.3v1.3h-1.3zM358.5 332.5h1.3v1.3h-1.3zM332.7 342.5h1.3v1.3h-1.3zM350.3 334.6h1.3v1.3h-1.3zM356.1 332.7h1.3v1.3h-1.3zM372.8 320.0h1.3v1.3h-1.3zM358.1 326.3h1.3v1.3h-1.3zM373.5 319.9h1.3v1.3h-1.3zM337.8 338.8h1.3v1.3h-1.3zM358.3 331.9h1.3v1.3h-1.3zM371.4 324.9h1.3v1.3h-1.3zM358.1 326.0h1.3v1.3h-1.3zM366.3 324.7h1.3v1.3h-1.3zM346.4 339.0h1.3v1.3h-1.3zM350.9 330.4h1.3v1.3h-1.3zM362.2 328.3h1.3v1.3h-1.3zM333.6 339.0h1.3v1.3h-1.3zM371.1 322.2h1.3v1.3h-1.3zM336.6 337.8h1.3v1.3h-1.3zM377.3 318.5h1.3v1.3h-1.3zM352.7 332.4h1.3v1.3h-1.3zM366.7 329.0h1.3v1.3h-1.3zM343.4 331.3h1.3v1.3h-1.3zM341.4 334.1h1.3v1.3h-1.3zM346.9 332.0h1.3v1.3h-1.3zM377.2 318.6h1.3v1.3h-1.3zM345.4 336.4h1.3v1.3h-1.3zM367.7 324.6h1.3v1.3h-1.3zM386.8 312.8h1.3v1.3h-1.3zM375.7 321.4h1.3v1.3h-1.3zM348.7 335.4h1.3v1.3h-1.3zM339.5 339.1h1.3v1.3h-1.3zM366.2 321.6h1.3v1.3h-1.3zM375.2 324.1h1.3v1.3h-1.3zM351.3 327.7h1.3v1.3h-1.3zM344.8 333.7h1.3v1.3h-1.3zM377.0 318.3h1.3v1.3h-1.3zM379.1 322.6h1.3v1.3h-1.3zM366.3 325.3h1.3v1.3h-1.3zM343.9 335.1h1.3v1.3h-1.3zM350.6 329.4h1.3v1.3h-1.3zM345.5 333.0h1.3v1.3h-1.3zM330.2 343.6h1.3v1.3h-1.3zM363.0 331.2h1.3v1.3h-1.3zM386.9 315.2h1.3v1.3h-1.3zM338.3 337.2h1.3v1.3h-1.3zM342.2 338.1h1.3v1.3h-1.3zM358.5 325.1h1.3v1.3h-1.3zM329.5 345.7h1.3v1.3h-1.3zM342.8 333.9h1.3v1.3h-1.3zM367.3 321.3h1.3v1.3h-1.3zM342.0 334.6h1.3v1.3h-1.3zM334.0 338.7h1.3v1.3h-1.3zM338.6 338.0h1.3v1.3h-1.3zM375.3 320.7h1.3v1.3h-1.3zM336.7 344.3h1.3v1.3h-1.3zM342.6 337.1h1.3v1.3h-1.3zM369.3 320.3h1.3v1.3h-1.3zM353.7 327.1h1.3v1.3h-1.3zM342.8 335.5h1.3v1.3h-1.3zM379.2 318.4h1.3v1.3h-1.3zM357.3 332.2h1.3v1.3h-1.3zM342.4 331.8h1.3v1.3h-1.3zM352.8 331.2h1.3v1.3h-1.3zM363.7 324.6h1.3v1.3h-1.3zM342.6 338.2h1.3v1.3h-1.3zM352.7 326.6h1.3v1.3h-1.3zM367.9 325.3h1.3v1.3h-1.3zM365.4 328.0h1.3v1.3h-1.3zM362.9 323.6h1.3v1.3h-1.3zM346.2 330.0h1.3v1.3h-1.3zM339.9 337.7h1.3v1.3h-1.3zM374.1 317.9h1.3v1.3h-1.3zM364.4 330.7h1.3v1.3h-1.3zM347.6 334.6h1.3v1.3h-1.3zM371.2 320.1h1.3v1.3h-1.3zM357.6 333.1h1.3v1.3h-1.3zM352.7 330.6h1.3v1.3h-1.3zM344.9 332.7h1.3v1.3h-1.3zM354.2 327.6h1.3v1.3h-1.3zM389.0 309.7h1.3v1.3h-1.3zM383.1 313.1h1.3v1.3h-1.3zM367.2 327.7h1.3v1.3h-1.3zM346.0 337.2h1.3v1.3h-1.3zM368.9 320.6h1.3v1.3h-1.3zM385.6 312.7h1.3v1.3h-1.3zM348.5 329.0h1.3v1.3h-1.3zM363.8 325.8h1.3v1.3h-1.3zM335.6 339.6h1.3v1.3h-1.3zM368.5 324.5h1.3v1.3h-1.3zM381.1 318.5h1.3v1.3h-1.3zM362.8 324.8h1.3v1.3h-1.3zM363.6 323.1h1.3v1.3h-1.3zM347.5 335.7h1.3v1.3h-1.3zM330.6 342.5h1.3v1.3h-1.3zM370.4 328.9h1.3v1.3h-1.3zM369.8 325.8h1.3v1.3h-1.3zM350.3 331.7h1.3v1.3h-1.3zM377.2 320.6h1.3v1.3h-1.3zM350.9 334.6h1.3v1.3h-1.3zM344.8 332.3h1.3v1.3h-1.3zM385.9 315.2h1.3v1.3h-1.3zM367.1 321.2h1.3v1.3h-1.3zM348.6 336.2h1.3v1.3h-1.3zM346.1 338.6h1.3v1.3h-1.3zM379.0 319.9h1.3v1.3h-1.3zM342.7 333.0h1.3v1.3h-1.3zM356.0 333.7h1.3v1.3h-1.3zM355.5 329.7h1.3v1.3h-1.3zM341.8 339.5h1.3v1.3h-1.3zM362.6 323.0h1.3v1.3h-1.3zM364.2 328.2h1.3v1.3h-1.3zM330.8 341.8h1.3v1.3h-1.3zM380.3 318.7h1.3v1.3h-1.3zM352.3 327.1h1.3v1.3h-1.3zM373.5 319.1h1.3v1.3h-1.3zM378.4 322.2h1.3v1.3h-1.3zM366.5 325.6h1.3v1.3h-1.3zM360.6 331.0h1.3v1.3h-1.3zM352.3 334.3h1.3v1.3h-1.3zM347.1 333.0h1.3v1.3h-1.3zM355.1 331.2h1.3v1.3h-1.3zM386.4 311.1h1.3v1.3h-1.3zM384.7 314.6h1.3v1.3h-1.3zM360.1 328.7h1.3v1.3h-1.3zM367.9 329.1h1.3v1.3h-1.3zM350.7 330.1h1.3v1.3h-1.3zM390.2 306.7h1.3v1.3h-1.3zM358.0 328.8h1.3v1.3h-1.3zM379.3 320.5h1.3v1.3h-1.3zM337.3 342.3h1.3v1.3h-1.3zM336.5 336.9h1.3v1.3h-1.3zM366.0 329.0h1.3v1.3h-1.3zM354.5 330.0h1.3v1.3h-1.3zM374.7 322.6h1.3v1.3h-1.3zM339.5 331.3h1.3v1.3h-1.3zM337.3 335.6h1.3v1.3h-1.3zM361.5 330.7h1.3v1.3h-1.3zM351.8 329.1h1.3v1.3h-1.3zM374.0 321.2h1.3v1.3h-1.3zM361.1 326.5h1.3v1.3h-1.3zM366.4 329.0h1.3v1.3h-1.3zM345.9 338.3h1.3v1.3h-1.3zM346.6 336.0h1.3v1.3h-1.3zM347.7 330.7h1.3v1.3h-1.3z" fill="#c8c8c8"/>
<path d="M383.5 312.5h1.2v1.2h-1.2zM377.5 316.3h1.2v1.2h-1.2zM389.8 315.5h1.2v1.2h-1.2zM369.8 312.3h1.2v1.2h-1.2zM388.3 317.9h1.2v1.2h-1.2zM379.2 321.1h1.2v1.2h-1.2zM380.3 314.7h1.2v1.2h-1.2zM374.9 318.3h1.2v1.2h-1.2zM372.3 320.2h1.2v1.2h-1.2zM383.1 310.1h1.2v1.2h-1.2zM384.4 319.8h1.2v1.2h-1.2zM373.8 313.2h1.2v1.2h-1.2zM372.3 316.7h1.2v1.2h-1.2zM384.0 315.5h1.2v1.2h-1.2zM376.9 314.8h1.2v1.2h-1.2zM376.0 316.7h1.2v1.2h-1.2zM373.2 315.7h1.2v1.2h-1.2zM379.2 307.7h1.2v1.2h-1.2zM365.4 315.1h1.2v1.2h-1.2zM385.4 325.7h1.2v1.2h-1.2zM379.2 320.3h1.2v1.2h-1.2zM383.1 320.1h1.2v1.2h-1.2zM385.3 315.9h1.2v1.2h-1.2zM382.3 318.9h1.2v1.2h-1.2zM378.0 318.5h1.2v1.2h-1.2zM368.7 315.6h1.2v1.2h-1.2zM389.4 323.6h1.2v1.2h-1.2zM375.8 319.1h1.2v1.2h-1.2zM386.1 318.1h1.2v1.2h-1.2zM367.2 321.7h1.2v1.2h-1.2zM376.6 317.3h1.2v1.2h-1.2zM371.1 313.9h1.2v1.2h-1.2zM384.4 311.2h1.2v1.2h-1.2zM370.6 315.3h1.2v1.2h-1.2zM379.1 320.6h1.2v1.2h-1.2zM384.9 319.7h1.2v1.2h-1.2zM373.0 314.2h1.2v1.2h-1.2zM375.7 317.5h1.2v1.2h-1.2zM383.3 315.1h1.2v1.2h-1.2zM382.0 313.6h1.2v1.2h-1.2zM386.3 321.8h1.2v1.2h-1.2zM372.2 312.0h1.2v1.2h-1.2zM383.2 320.3h1.2v1.2h-1.2zM381.6 321.7h1.2v1.2h-1.2zM381.4 320.4h1.2v1.2h-1.2zM376.3 320.8h1.2v1.2h-1.2zM377.4 318.3h1.2v1.2h-1.2zM390.0 314.0h1.2v1.2h-1.2zM382.8 315.9h1.2v1.2h-1.2zM384.8 320.6h1.2v1.2h-1.2zM376.0 322.4h1.2v1.2h-1.2zM377.8 320.3h1.2v1.2h-1.2zM375.0 320.0h1.2v1.2h-1.2zM376.1 315.4h1.2v1.2h-1.2zM379.2 321.2h1.2v1.2h-1.2zM374.3 323.8h1.2v1.2h-1.2zM376.8 321.5h1.2v1.2h-1.2zM372.9 316.4h1.2v1.2h-1.2zM386.4 321.0h1.2v1.2h-1.2zM379.2 314.9h1.2v1.2h-1.2z" fill="#c8c8c8"/>
<path d="M346.3 330.5h1.2v1.2h-1.2zM340.3 333.8h1.2v1.2h-1.2zM373.3 325.2h1.2v1.2h-1.2zM382.8 318.4h1.2v1.2h-1.2zM383.8 313.3h1.2v1.2h-1.2zM385.4 317.3h1.2v1.2h-1.2zM376.7 317.6h1.2v1.2h-1.2zM346.3 336.3h1.2v1.2h-1.2zM352.3 335.1h1.2v1.2h-1.2zM357.8 326.8h1.2v1.2h-1.2zM375.1 320.4h1.2v1.2h-1.2zM356.6 327.0h1.2v1.2h-1.2zM383.0 314.3h1.2v1.2h-1.2zM367.2 323.3h1.2v1.2h-1.2zM384.5 319.1h1.2v1.2h-1.2zM342.8 333.3h1.2v1.2h-1.2zM379.1 320.1h1.2v1.2h-1.2zM351.5 331.8h1.2v1.2h-1.2zM350.7 329.7h1.2v1.2h-1.2zM340.6 339.9h1.2v1.2h-1.2zM335.9 336.7h1.2v1.2h-1.2zM363.9 326.8h1.2v1.2h-1.2zM380.4 321.9h1.2v1.2h-1.2zM379.5 320.8h1.2v1.2h-1.2zM342.1 333.4h1.2v1.2h-1.2zM370.8 326.8h1.2v1.2h-1.2zM350.7 331.9h1.2v1.2h-1.2zM343.1 333.1h1.2v1.2h-1.2zM338.4 335.6h1.2v1.2h-1.2zM335.1 339.7h1.2v1.2h-1.2zM349.1 330.8h1.2v1.2h-1.2zM384.0 312.2h1.2v1.2h-1.2zM354.5 333.7h1.2v1.2h-1.2zM372.3 321.7h1.2v1.2h-1.2zM370.1 322.4h1.2v1.2h-1.2zM362.6 326.3h1.2v1.2h-1.2zM339.9 333.5h1.2v1.2h-1.2zM376.2 325.9h1.2v1.2h-1.2zM346.1 332.3h1.2v1.2h-1.2zM371.8 319.4h1.2v1.2h-1.2zM347.1 337.4h1.2v1.2h-1.2zM377.1 322.8h1.2v1.2h-1.2zM358.7 325.4h1.2v1.2h-1.2zM384.9 317.1h1.2v1.2h-1.2zM350.5 328.8h1.2v1.2h-1.2zM371.6 322.9h1.2v1.2h-1.2zM382.3 320.6h1.2v1.2h-1.2zM367.3 320.8h1.2v1.2h-1.2zM342.5 333.6h1.2v1.2h-1.2zM386.5 309.4h1.2v1.2h-1.2z" fill="#083d64"/>
<path d="M373.4 280.9h1.3v1.3h-1.3zM377.4 282.4h1.3v1.3h-1.3zM384.4 281.4h1.3v1.3h-1.3zM388.4 280.4h1.3v1.3h-1.3zM398.4 275.4h1.3v1.3h-1.3zM371.4 317.4h1.3v1.3h-1.3zM375.4 313.4h1.3v1.3h-1.3zM392.4 321.4h1.3v1.3h-1.3z" fill="#d9691e"/>
<path d="M337.5 343.3h1.2v1.2h-1.2zM339.0 335.8h1.2v1.2h-1.2zM325.1 355.2h1.2v1.2h-1.2zM331.8 344.1h1.2v1.2h-1.2zM330.5 349.3h1.2v1.2h-1.2zM321.3 347.0h1.2v1.2h-1.2zM329.0 343.3h1.2v1.2h-1.2zM336.1 336.9h1.2v1.2h-1.2zM320.4 351.2h1.2v1.2h-1.2zM326.6 339.1h1.2v1.2h-1.2zM324.9 345.8h1.2v1.2h-1.2zM317.8 354.1h1.2v1.2h-1.2zM323.0 343.6h1.2v1.2h-1.2zM326.1 351.8h1.2v1.2h-1.2zM324.5 350.1h1.2v1.2h-1.2zM327.7 339.5h1.2v1.2h-1.2zM324.8 348.3h1.2v1.2h-1.2zM319.7 348.7h1.2v1.2h-1.2zM337.0 332.4h1.2v1.2h-1.2zM333.3 335.5h1.2v1.2h-1.2zM320.1 347.0h1.2v1.2h-1.2zM328.0 333.8h1.2v1.2h-1.2zM319.4 342.6h1.2v1.2h-1.2zM332.0 335.4h1.2v1.2h-1.2zM330.0 342.9h1.2v1.2h-1.2zM324.8 348.6h1.2v1.2h-1.2zM326.6 340.8h1.2v1.2h-1.2zM324.5 343.2h1.2v1.2h-1.2zM319.8 350.0h1.2v1.2h-1.2zM323.6 347.3h1.2v1.2h-1.2zM325.8 341.1h1.2v1.2h-1.2zM332.9 339.1h1.2v1.2h-1.2zM333.3 333.6h1.2v1.2h-1.2zM317.7 354.7h1.2v1.2h-1.2zM327.4 353.9h1.2v1.2h-1.2zM323.7 334.6h1.2v1.2h-1.2zM339.4 338.4h1.2v1.2h-1.2zM332.8 348.5h1.2v1.2h-1.2zM338.4 328.1h1.2v1.2h-1.2zM330.8 344.7h1.2v1.2h-1.2zM323.8 353.3h1.2v1.2h-1.2zM324.8 355.0h1.2v1.2h-1.2zM338.3 337.1h1.2v1.2h-1.2zM337.4 342.4h1.2v1.2h-1.2zM332.2 347.6h1.2v1.2h-1.2zM334.4 342.2h1.2v1.2h-1.2zM327.7 346.7h1.2v1.2h-1.2zM336.4 347.1h1.2v1.2h-1.2zM336.9 338.2h1.2v1.2h-1.2zM334.1 334.3h1.2v1.2h-1.2zM336.8 327.1h1.2v1.2h-1.2zM335.2 348.8h1.2v1.2h-1.2zM326.8 335.6h1.2v1.2h-1.2zM320.3 345.4h1.2v1.2h-1.2zM337.4 347.3h1.2v1.2h-1.2zM326.0 346.1h1.2v1.2h-1.2zM325.1 343.4h1.2v1.2h-1.2zM338.6 336.6h1.2v1.2h-1.2zM328.9 340.4h1.2v1.2h-1.2zM331.9 335.1h1.2v1.2h-1.2zM336.6 346.1h1.2v1.2h-1.2zM338.4 338.3h1.2v1.2h-1.2zM322.7 343.2h1.2v1.2h-1.2zM330.6 344.9h1.2v1.2h-1.2zM318.9 345.9h1.2v1.2h-1.2zM326.7 343.7h1.2v1.2h-1.2zM319.9 356.6h1.2v1.2h-1.2zM337.7 334.0h1.2v1.2h-1.2zM333.9 341.1h1.2v1.2h-1.2zM339.2 345.2h1.2v1.2h-1.2z" fill="#9fb0bf"/>
<path d="M344.7 336.3h1.2v1.2h-1.2zM368.6 314.4h1.2v1.2h-1.2zM378.7 306.7h1.2v1.2h-1.2zM373.1 310.8h1.2v1.2h-1.2zM390.3 294.0h1.2v1.2h-1.2zM376.3 307.8h1.2v1.2h-1.2zM399.4 286.8h1.2v1.2h-1.2zM397.0 285.9h1.2v1.2h-1.2zM382.9 303.7h1.2v1.2h-1.2zM382.4 302.3h1.2v1.2h-1.2zM395.2 287.5h1.2v1.2h-1.2zM349.3 326.5h1.2v1.2h-1.2zM355.3 319.7h1.2v1.2h-1.2zM348.7 328.4h1.2v1.2h-1.2zM351.5 325.7h1.2v1.2h-1.2zM366.3 313.7h1.2v1.2h-1.2zM382.5 304.0h1.2v1.2h-1.2zM393.1 292.0h1.2v1.2h-1.2zM399.2 281.8h1.2v1.2h-1.2zM348.6 331.1h1.2v1.2h-1.2zM377.1 303.8h1.2v1.2h-1.2zM378.7 302.5h1.2v1.2h-1.2zM384.9 306.4h1.2v1.2h-1.2zM384.5 298.6h1.2v1.2h-1.2zM350.4 329.4h1.2v1.2h-1.2zM348.4 328.1h1.2v1.2h-1.2zM356.7 318.7h1.2v1.2h-1.2zM371.1 312.3h1.2v1.2h-1.2zM349.5 329.7h1.2v1.2h-1.2zM371.0 314.1h1.2v1.2h-1.2zM371.5 308.2h1.2v1.2h-1.2zM364.6 314.7h1.2v1.2h-1.2zM367.2 312.9h1.2v1.2h-1.2zM397.4 285.9h1.2v1.2h-1.2zM378.2 306.7h1.2v1.2h-1.2zM357.4 317.4h1.2v1.2h-1.2zM381.0 305.0h1.2v1.2h-1.2zM391.9 292.4h1.2v1.2h-1.2zM367.9 310.6h1.2v1.2h-1.2zM377.5 306.1h1.2v1.2h-1.2zM362.0 315.3h1.2v1.2h-1.2zM392.2 289.8h1.2v1.2h-1.2zM381.5 304.9h1.2v1.2h-1.2zM387.0 301.8h1.2v1.2h-1.2zM364.5 319.7h1.2v1.2h-1.2zM371.1 311.4h1.2v1.2h-1.2zM352.4 326.9h1.2v1.2h-1.2zM374.0 309.8h1.2v1.2h-1.2zM355.0 323.0h1.2v1.2h-1.2zM355.1 324.4h1.2v1.2h-1.2zM346.0 332.4h1.2v1.2h-1.2zM366.7 316.4h1.2v1.2h-1.2zM372.1 310.1h1.2v1.2h-1.2zM351.2 332.4h1.2v1.2h-1.2zM394.9 295.1h1.2v1.2h-1.2zM391.2 301.1h1.2v1.2h-1.2zM350.4 325.8h1.2v1.2h-1.2zM383.1 307.0h1.2v1.2h-1.2zM369.1 310.7h1.2v1.2h-1.2zM382.8 302.5h1.2v1.2h-1.2zM382.1 302.3h1.2v1.2h-1.2zM394.7 288.7h1.2v1.2h-1.2zM378.2 307.1h1.2v1.2h-1.2zM356.5 323.6h1.2v1.2h-1.2zM375.8 310.7h1.2v1.2h-1.2zM374.4 310.7h1.2v1.2h-1.2zM372.9 311.1h1.2v1.2h-1.2zM382.4 298.1h1.2v1.2h-1.2zM397.5 284.7h1.2v1.2h-1.2zM399.3 282.6h1.2v1.2h-1.2zM353.8 327.1h1.2v1.2h-1.2zM385.4 306.4h1.2v1.2h-1.2zM353.7 324.9h1.2v1.2h-1.2zM363.4 317.9h1.2v1.2h-1.2zM345.3 332.2h1.2v1.2h-1.2zM350.4 326.0h1.2v1.2h-1.2zM367.4 318.1h1.2v1.2h-1.2zM390.3 294.4h1.2v1.2h-1.2zM382.9 301.3h1.2v1.2h-1.2zM377.7 307.3h1.2v1.2h-1.2zM391.5 299.2h1.2v1.2h-1.2zM379.1 309.0h1.2v1.2h-1.2zM366.0 317.2h1.2v1.2h-1.2zM367.0 319.6h1.2v1.2h-1.2zM359.0 318.4h1.2v1.2h-1.2zM389.5 296.9h1.2v1.2h-1.2zM363.4 316.9h1.2v1.2h-1.2zM364.2 313.7h1.2v1.2h-1.2zM374.6 307.2h1.2v1.2h-1.2zM347.1 334.4h1.2v1.2h-1.2zM392.9 295.2h1.2v1.2h-1.2zM379.0 300.9h1.2v1.2h-1.2zM353.2 321.9h1.2v1.2h-1.2zM367.7 314.9h1.2v1.2h-1.2zM353.5 325.2h1.2v1.2h-1.2zM363.2 317.6h1.2v1.2h-1.2zM352.3 325.0h1.2v1.2h-1.2zM348.9 326.6h1.2v1.2h-1.2zM390.5 298.7h1.2v1.2h-1.2zM383.9 298.9h1.2v1.2h-1.2zM390.6 298.8h1.2v1.2h-1.2zM351.0 324.4h1.2v1.2h-1.2zM377.5 310.4h1.2v1.2h-1.2zM377.4 310.8h1.2v1.2h-1.2zM370.9 310.5h1.2v1.2h-1.2zM379.9 305.6h1.2v1.2h-1.2zM368.9 312.5h1.2v1.2h-1.2zM359.5 318.0h1.2v1.2h-1.2zM352.2 321.6h1.2v1.2h-1.2zM344.9 333.0h1.2v1.2h-1.2zM394.3 295.4h1.2v1.2h-1.2zM374.5 309.5h1.2v1.2h-1.2zM393.2 293.8h1.2v1.2h-1.2zM381.3 305.3h1.2v1.2h-1.2zM357.8 323.3h1.2v1.2h-1.2zM373.9 313.5h1.2v1.2h-1.2zM359.8 319.9h1.2v1.2h-1.2zM394.9 289.1h1.2v1.2h-1.2zM381.8 302.0h1.2v1.2h-1.2zM359.9 324.2h1.2v1.2h-1.2zM363.7 320.8h1.2v1.2h-1.2zM399.3 284.5h1.2v1.2h-1.2zM376.2 308.2h1.2v1.2h-1.2zM389.9 303.4h1.2v1.2h-1.2zM390.8 299.3h1.2v1.2h-1.2zM360.3 319.6h1.2v1.2h-1.2zM355.7 321.1h1.2v1.2h-1.2zM386.7 297.2h1.2v1.2h-1.2zM377.1 306.1h1.2v1.2h-1.2zM369.9 315.7h1.2v1.2h-1.2zM346.6 331.9h1.2v1.2h-1.2zM348.8 328.4h1.2v1.2h-1.2zM397.4 287.3h1.2v1.2h-1.2zM354.5 326.6h1.2v1.2h-1.2zM361.9 317.1h1.2v1.2h-1.2zM397.5 288.5h1.2v1.2h-1.2zM370.9 312.6h1.2v1.2h-1.2zM363.1 316.9h1.2v1.2h-1.2zM391.1 289.1h1.2v1.2h-1.2zM391.6 302.1h1.2v1.2h-1.2zM358.2 323.4h1.2v1.2h-1.2zM372.9 311.6h1.2v1.2h-1.2zM375.6 311.1h1.2v1.2h-1.2zM352.5 324.8h1.2v1.2h-1.2zM350.4 331.3h1.2v1.2h-1.2zM359.6 317.8h1.2v1.2h-1.2zM381.1 303.8h1.2v1.2h-1.2zM369.9 317.6h1.2v1.2h-1.2zM355.4 320.5h1.2v1.2h-1.2zM390.1 299.2h1.2v1.2h-1.2zM368.2 311.4h1.2v1.2h-1.2zM362.1 319.3h1.2v1.2h-1.2zM392.9 295.8h1.2v1.2h-1.2zM378.4 302.2h1.2v1.2h-1.2zM353.9 324.4h1.2v1.2h-1.2zM344.4 328.4h1.2v1.2h-1.2zM389.0 294.2h1.2v1.2h-1.2zM367.7 315.6h1.2v1.2h-1.2zM370.6 316.0h1.2v1.2h-1.2zM377.4 311.7h1.2v1.2h-1.2z" fill="#c8c8c8"/>
<path d="M413.1 278.7h1.3v1.3h-1.3zM411.0 279.4h1.3v1.3h-1.3zM408.0 274.6h1.3v1.3h-1.3zM416.1 277.9h1.3v1.3h-1.3zM408.9 282.6h1.3v1.3h-1.3zM405.9 280.5h1.3v1.3h-1.3zM407.3 279.3h1.3v1.3h-1.3zM411.9 279.8h1.3v1.3h-1.3zM406.0 277.6h1.3v1.3h-1.3zM414.0 279.4h1.3v1.3h-1.3zM409.1 278.9h1.3v1.3h-1.3zM412.5 273.7h1.3v1.3h-1.3zM407.3 280.4h1.3v1.3h-1.3zM412.9 279.0h1.3v1.3h-1.3zM412.6 274.0h1.3v1.3h-1.3zM412.8 277.4h1.3v1.3h-1.3zM419.2 273.8h1.3v1.3h-1.3zM411.7 276.9h1.3v1.3h-1.3zM409.3 276.2h1.3v1.3h-1.3zM407.6 277.8h1.3v1.3h-1.3zM409.2 275.5h1.3v1.3h-1.3zM418.4 281.0h1.3v1.3h-1.3zM414.6 277.3h1.3v1.3h-1.3zM418.3 283.3h1.3v1.3h-1.3zM403.9 282.8h1.3v1.3h-1.3zM405.4 280.0h1.3v1.3h-1.3zM411.7 279.5h1.3v1.3h-1.3zM414.1 276.2h1.3v1.3h-1.3zM411.5 276.7h1.3v1.3h-1.3zM413.5 274.9h1.3v1.3h-1.3zM417.9 282.1h1.3v1.3h-1.3zM411.3 280.8h1.3v1.3h-1.3zM419.1 281.6h1.3v1.3h-1.3zM414.4 276.4h1.3v1.3h-1.3zM410.8 283.4h1.3v1.3h-1.3zM412.6 280.3h1.3v1.3h-1.3zM411.2 281.5h1.3v1.3h-1.3zM420.1 277.3h1.3v1.3h-1.3zM415.0 280.5h1.3v1.3h-1.3zM414.4 277.9h1.3v1.3h-1.3zM412.0 283.6h1.3v1.3h-1.3zM403.7 276.9h1.3v1.3h-1.3zM415.1 279.1h1.3v1.3h-1.3zM403.5 280.3h1.3v1.3h-1.3zM410.5 273.5h1.3v1.3h-1.3zM407.9 278.5h1.3v1.3h-1.3zM407.5 278.0h1.3v1.3h-1.3zM411.6 281.7h1.3v1.3h-1.3zM415.7 279.9h1.3v1.3h-1.3zM408.6 276.3h1.3v1.3h-1.3zM420.2 279.4h1.3v1.3h-1.3zM408.7 281.2h1.3v1.3h-1.3zM414.7 277.8h1.3v1.3h-1.3zM412.4 282.5h1.3v1.3h-1.3zM404.1 277.2h1.3v1.3h-1.3zM409.8 278.1h1.3v1.3h-1.3zM402.5 277.6h1.3v1.3h-1.3zM413.3 278.2h1.3v1.3h-1.3zM409.1 277.6h1.3v1.3h-1.3zM412.5 278.0h1.3v1.3h-1.3zM419.9 281.0h1.3v1.3h-1.3zM410.8 278.9h1.3v1.3h-1.3zM403.4 278.1h1.3v1.3h-1.3zM416.5 277.6h1.3v1.3h-1.3zM419.6 279.5h1.3v1.3h-1.3zM408.1 277.6h1.3v1.3h-1.3zM415.0 279.0h1.3v1.3h-1.3zM408.1 278.5h1.3v1.3h-1.3zM410.5 272.7h1.3v1.3h-1.3zM419.2 278.3h1.3v1.3h-1.3zM411.5 273.6h1.3v1.3h-1.3zM405.9 280.3h1.3v1.3h-1.3zM415.4 279.9h1.3v1.3h-1.3zM415.3 277.3h1.3v1.3h-1.3zM408.7 279.1h1.3v1.3h-1.3zM411.8 275.3h1.3v1.3h-1.3zM411.1 278.2h1.3v1.3h-1.3zM413.6 275.2h1.3v1.3h-1.3zM411.0 275.0h1.3v1.3h-1.3zM416.6 277.0h1.3v1.3h-1.3zM413.2 278.0h1.3v1.3h-1.3zM416.3 277.2h1.3v1.3h-1.3zM410.0 281.4h1.3v1.3h-1.3zM409.8 278.5h1.3v1.3h-1.3zM406.3 277.9h1.3v1.3h-1.3zM413.5 276.0h1.3v1.3h-1.3zM415.9 276.9h1.3v1.3h-1.3zM402.4 277.6h1.3v1.3h-1.3zM412.9 282.1h1.3v1.3h-1.3zM415.2 277.0h1.3v1.3h-1.3zM411.4 280.9h1.3v1.3h-1.3zM416.9 277.1h1.3v1.3h-1.3zM417.0 281.8h1.3v1.3h-1.3zM410.0 279.4h1.3v1.3h-1.3zM405.7 276.1h1.3v1.3h-1.3zM411.8 278.4h1.3v1.3h-1.3zM411.7 275.9h1.3v1.3h-1.3zM416.4 279.9h1.3v1.3h-1.3zM410.8 279.8h1.3v1.3h-1.3zM402.8 277.6h1.3v1.3h-1.3zM408.4 278.2h1.3v1.3h-1.3zM411.8 281.5h1.3v1.3h-1.3zM410.3 275.2h1.3v1.3h-1.3zM411.3 276.5h1.3v1.3h-1.3zM416.6 283.1h1.3v1.3h-1.3zM415.3 277.1h1.3v1.3h-1.3zM415.6 275.8h1.3v1.3h-1.3zM413.4 278.4h1.3v1.3h-1.3zM400.4 278.8h1.3v1.3h-1.3zM418.2 276.2h1.3v1.3h-1.3zM423.0 274.2h1.3v1.3h-1.3zM410.6 278.9h1.3v1.3h-1.3zM409.9 281.6h1.3v1.3h-1.3zM418.4 277.1h1.3v1.3h-1.3zM405.0 278.6h1.3v1.3h-1.3zM408.6 280.5h1.3v1.3h-1.3zM411.7 280.1h1.3v1.3h-1.3zM412.3 283.0h1.3v1.3h-1.3zM409.8 275.4h1.3v1.3h-1.3zM407.2 276.1h1.3v1.3h-1.3zM419.9 278.8h1.3v1.3h-1.3zM406.2 276.5h1.3v1.3h-1.3zM406.8 277.1h1.3v1.3h-1.3zM415.5 280.5h1.3v1.3h-1.3zM414.0 276.7h1.3v1.3h-1.3zM415.1 277.4h1.3v1.3h-1.3zM413.4 279.0h1.3v1.3h-1.3zM421.6 275.3h1.3v1.3h-1.3zM411.1 279.6h1.3v1.3h-1.3zM419.1 281.8h1.3v1.3h-1.3zM410.6 275.4h1.3v1.3h-1.3zM414.6 276.7h1.3v1.3h-1.3zM409.3 280.3h1.3v1.3h-1.3zM412.1 281.9h1.3v1.3h-1.3zM412.4 282.4h1.3v1.3h-1.3zM414.6 276.4h1.3v1.3h-1.3zM412.8 279.8h1.3v1.3h-1.3zM413.0 277.4h1.3v1.3h-1.3zM410.2 278.1h1.3v1.3h-1.3zM410.8 279.7h1.3v1.3h-1.3zM410.0 278.4h1.3v1.3h-1.3zM416.3 278.3h1.3v1.3h-1.3zM408.9 280.1h1.3v1.3h-1.3zM407.3 284.4h1.3v1.3h-1.3zM414.6 276.4h1.3v1.3h-1.3zM410.5 280.3h1.3v1.3h-1.3zM414.5 276.6h1.3v1.3h-1.3zM410.3 277.7h1.3v1.3h-1.3zM414.4 274.4h1.3v1.3h-1.3zM411.7 282.3h1.3v1.3h-1.3zM413.7 280.0h1.3v1.3h-1.3zM415.7 276.3h1.3v1.3h-1.3zM406.4 279.9h1.3v1.3h-1.3zM413.4 282.7h1.3v1.3h-1.3zM406.5 283.2h1.3v1.3h-1.3zM407.9 282.8h1.3v1.3h-1.3zM414.0 279.1h1.3v1.3h-1.3zM407.2 278.8h1.3v1.3h-1.3zM414.8 280.9h1.3v1.3h-1.3zM409.1 280.1h1.3v1.3h-1.3zM414.7 276.7h1.3v1.3h-1.3zM405.3 284.4h1.3v1.3h-1.3zM417.4 279.1h1.3v1.3h-1.3zM410.4 282.8h1.3v1.3h-1.3zM414.0 272.5h1.3v1.3h-1.3zM412.2 275.7h1.3v1.3h-1.3zM415.7 275.5h1.3v1.3h-1.3zM412.9 279.8h1.3v1.3h-1.3zM401.5 281.8h1.3v1.3h-1.3zM410.0 278.3h1.3v1.3h-1.3zM408.7 277.0h1.3v1.3h-1.3zM413.7 280.9h1.3v1.3h-1.3zM411.1 276.6h1.3v1.3h-1.3zM409.1 278.7h1.3v1.3h-1.3zM410.3 278.8h1.3v1.3h-1.3zM412.0 271.5h1.3v1.3h-1.3zM420.0 280.0h1.3v1.3h-1.3zM417.8 280.4h1.3v1.3h-1.3zM406.4 279.2h1.3v1.3h-1.3zM413.2 278.2h1.3v1.3h-1.3zM409.4 279.8h1.3v1.3h-1.3zM409.5 280.8h1.3v1.3h-1.3zM408.6 275.2h1.3v1.3h-1.3zM409.2 278.2h1.3v1.3h-1.3zM405.6 274.0h1.3v1.3h-1.3zM412.0 277.7h1.3v1.3h-1.3zM412.8 280.6h1.3v1.3h-1.3zM409.4 279.7h1.3v1.3h-1.3zM412.3 281.6h1.3v1.3h-1.3zM408.8 274.5h1.3v1.3h-1.3zM403.5 280.9h1.3v1.3h-1.3zM409.7 279.5h1.3v1.3h-1.3zM409.5 278.6h1.3v1.3h-1.3zM415.0 278.1h1.3v1.3h-1.3zM410.2 279.0h1.3v1.3h-1.3zM416.6 278.8h1.3v1.3h-1.3zM407.6 278.0h1.3v1.3h-1.3zM408.2 278.1h1.3v1.3h-1.3zM408.0 276.9h1.3v1.3h-1.3zM411.2 277.9h1.3v1.3h-1.3z" fill="#c8c8c8"/>
<path d="M408.5 303.5h1.3v1.3h-1.3zM404.1 292.3h1.3v1.3h-1.3zM414.5 297.5h1.3v1.3h-1.3zM419.4 309.8h1.3v1.3h-1.3zM416.0 298.4h1.3v1.3h-1.3zM416.0 299.1h1.3v1.3h-1.3zM406.4 306.8h1.3v1.3h-1.3zM413.9 300.2h1.3v1.3h-1.3zM409.9 302.4h1.3v1.3h-1.3zM407.9 304.5h1.3v1.3h-1.3zM409.4 299.8h1.3v1.3h-1.3zM407.5 295.3h1.3v1.3h-1.3zM406.9 295.9h1.3v1.3h-1.3zM410.3 302.7h1.3v1.3h-1.3zM407.9 302.5h1.3v1.3h-1.3zM408.2 297.9h1.3v1.3h-1.3zM409.9 305.3h1.3v1.3h-1.3zM414.4 297.6h1.3v1.3h-1.3zM409.3 296.6h1.3v1.3h-1.3zM412.8 296.5h1.3v1.3h-1.3zM408.5 297.4h1.3v1.3h-1.3zM410.3 302.2h1.3v1.3h-1.3zM413.6 305.1h1.3v1.3h-1.3zM407.2 296.1h1.3v1.3h-1.3zM413.6 307.8h1.3v1.3h-1.3zM409.7 314.2h1.3v1.3h-1.3zM403.8 301.9h1.3v1.3h-1.3zM414.3 293.1h1.3v1.3h-1.3zM404.7 310.4h1.3v1.3h-1.3zM408.0 301.3h1.3v1.3h-1.3zM407.1 308.0h1.3v1.3h-1.3zM408.1 302.7h1.3v1.3h-1.3zM402.9 301.6h1.3v1.3h-1.3zM411.1 302.6h1.3v1.3h-1.3zM404.2 305.0h1.3v1.3h-1.3zM405.6 301.7h1.3v1.3h-1.3zM409.0 299.2h1.3v1.3h-1.3zM412.7 311.5h1.3v1.3h-1.3zM408.6 298.2h1.3v1.3h-1.3zM402.6 295.4h1.3v1.3h-1.3zM405.2 293.3h1.3v1.3h-1.3zM406.0 295.8h1.3v1.3h-1.3zM415.4 304.9h1.3v1.3h-1.3zM402.1 301.5h1.3v1.3h-1.3zM410.2 300.1h1.3v1.3h-1.3zM407.8 302.1h1.3v1.3h-1.3zM411.9 311.3h1.3v1.3h-1.3zM404.5 298.7h1.3v1.3h-1.3zM403.7 307.0h1.3v1.3h-1.3zM408.9 291.5h1.3v1.3h-1.3zM408.8 305.9h1.3v1.3h-1.3zM401.1 292.7h1.3v1.3h-1.3zM416.4 308.3h1.3v1.3h-1.3zM408.8 303.3h1.3v1.3h-1.3zM400.8 296.1h1.3v1.3h-1.3zM402.6 302.8h1.3v1.3h-1.3zM413.4 309.6h1.3v1.3h-1.3zM410.5 294.8h1.3v1.3h-1.3zM410.1 300.0h1.3v1.3h-1.3zM409.5 308.0h1.3v1.3h-1.3zM410.7 301.3h1.3v1.3h-1.3zM408.4 296.4h1.3v1.3h-1.3zM418.4 303.1h1.3v1.3h-1.3zM421.1 297.8h1.3v1.3h-1.3zM412.5 302.7h1.3v1.3h-1.3zM410.2 305.4h1.3v1.3h-1.3zM414.7 302.6h1.3v1.3h-1.3zM405.4 292.1h1.3v1.3h-1.3zM407.7 304.5h1.3v1.3h-1.3zM411.3 297.1h1.3v1.3h-1.3zM400.5 304.4h1.3v1.3h-1.3zM408.5 307.0h1.3v1.3h-1.3zM412.6 308.7h1.3v1.3h-1.3zM411.8 305.3h1.3v1.3h-1.3zM412.7 303.8h1.3v1.3h-1.3zM409.1 303.8h1.3v1.3h-1.3zM411.0 301.6h1.3v1.3h-1.3zM408.1 295.1h1.3v1.3h-1.3zM410.1 303.3h1.3v1.3h-1.3zM402.0 297.5h1.3v1.3h-1.3zM401.8 295.5h1.3v1.3h-1.3zM406.4 310.3h1.3v1.3h-1.3zM404.0 294.2h1.3v1.3h-1.3zM411.1 307.0h1.3v1.3h-1.3zM410.0 301.3h1.3v1.3h-1.3zM411.8 307.7h1.3v1.3h-1.3zM407.6 304.2h1.3v1.3h-1.3zM411.8 297.8h1.3v1.3h-1.3zM411.4 303.1h1.3v1.3h-1.3zM407.3 295.9h1.3v1.3h-1.3zM410.7 299.8h1.3v1.3h-1.3zM408.1 301.6h1.3v1.3h-1.3zM410.2 299.4h1.3v1.3h-1.3zM400.8 301.9h1.3v1.3h-1.3zM397.8 290.5h1.3v1.3h-1.3zM407.6 304.0h1.3v1.3h-1.3zM411.5 305.3h1.3v1.3h-1.3zM406.2 316.4h1.3v1.3h-1.3zM411.2 306.5h1.3v1.3h-1.3zM400.9 304.2h1.3v1.3h-1.3zM417.0 310.7h1.3v1.3h-1.3zM400.1 309.3h1.3v1.3h-1.3zM401.1 314.4h1.3v1.3h-1.3zM413.0 301.2h1.3v1.3h-1.3zM411.0 300.9h1.3v1.3h-1.3zM414.1 296.1h1.3v1.3h-1.3zM410.0 304.8h1.3v1.3h-1.3zM411.8 308.3h1.3v1.3h-1.3zM418.6 306.4h1.3v1.3h-1.3zM403.3 301.7h1.3v1.3h-1.3zM401.5 299.8h1.3v1.3h-1.3zM406.7 300.7h1.3v1.3h-1.3zM403.5 301.1h1.3v1.3h-1.3zM414.0 312.7h1.3v1.3h-1.3zM411.8 310.2h1.3v1.3h-1.3zM411.9 294.2h1.3v1.3h-1.3zM405.6 311.6h1.3v1.3h-1.3zM411.2 302.3h1.3v1.3h-1.3zM413.9 303.2h1.3v1.3h-1.3zM409.5 307.9h1.3v1.3h-1.3zM410.4 293.6h1.3v1.3h-1.3zM412.0 299.2h1.3v1.3h-1.3zM406.1 297.0h1.3v1.3h-1.3zM408.1 306.8h1.3v1.3h-1.3zM405.5 307.1h1.3v1.3h-1.3zM414.0 308.2h1.3v1.3h-1.3zM403.1 297.2h1.3v1.3h-1.3zM404.9 310.8h1.3v1.3h-1.3zM409.8 292.6h1.3v1.3h-1.3zM411.0 305.5h1.3v1.3h-1.3zM403.8 307.4h1.3v1.3h-1.3zM409.4 295.1h1.3v1.3h-1.3zM402.0 309.8h1.3v1.3h-1.3zM405.2 295.2h1.3v1.3h-1.3zM408.2 315.3h1.3v1.3h-1.3zM403.3 296.7h1.3v1.3h-1.3zM417.3 310.4h1.3v1.3h-1.3zM418.3 304.4h1.3v1.3h-1.3zM415.3 309.1h1.3v1.3h-1.3zM412.3 295.8h1.3v1.3h-1.3zM417.4 304.2h1.3v1.3h-1.3zM410.1 293.7h1.3v1.3h-1.3zM413.4 304.7h1.3v1.3h-1.3zM410.7 300.1h1.3v1.3h-1.3zM406.7 302.7h1.3v1.3h-1.3zM408.2 299.7h1.3v1.3h-1.3zM400.5 294.3h1.3v1.3h-1.3zM408.1 301.5h1.3v1.3h-1.3zM400.2 306.6h1.3v1.3h-1.3zM413.9 302.7h1.3v1.3h-1.3zM406.1 306.5h1.3v1.3h-1.3zM407.4 289.0h1.3v1.3h-1.3zM411.4 297.2h1.3v1.3h-1.3zM410.3 297.5h1.3v1.3h-1.3zM409.3 293.5h1.3v1.3h-1.3zM411.7 309.1h1.3v1.3h-1.3zM410.4 298.3h1.3v1.3h-1.3zM409.3 294.1h1.3v1.3h-1.3zM410.0 301.5h1.3v1.3h-1.3zM414.7 302.1h1.3v1.3h-1.3zM412.3 294.1h1.3v1.3h-1.3zM405.3 299.2h1.3v1.3h-1.3zM416.6 303.4h1.3v1.3h-1.3zM405.0 298.7h1.3v1.3h-1.3zM398.8 307.5h1.3v1.3h-1.3zM416.2 300.3h1.3v1.3h-1.3zM413.2 299.3h1.3v1.3h-1.3zM408.1 311.0h1.3v1.3h-1.3zM408.2 301.7h1.3v1.3h-1.3zM412.7 309.5h1.3v1.3h-1.3zM402.9 302.3h1.3v1.3h-1.3zM409.8 303.1h1.3v1.3h-1.3zM405.5 299.3h1.3v1.3h-1.3zM407.1 311.6h1.3v1.3h-1.3zM412.5 298.9h1.3v1.3h-1.3zM403.7 300.7h1.3v1.3h-1.3zM410.2 309.7h1.3v1.3h-1.3zM413.1 311.9h1.3v1.3h-1.3zM408.4 300.1h1.3v1.3h-1.3zM409.9 303.1h1.3v1.3h-1.3zM402.9 303.3h1.3v1.3h-1.3zM418.9 305.4h1.3v1.3h-1.3zM410.8 307.4h1.3v1.3h-1.3zM405.1 293.8h1.3v1.3h-1.3zM403.8 307.8h1.3v1.3h-1.3zM412.5 304.7h1.3v1.3h-1.3zM409.2 300.2h1.3v1.3h-1.3zM405.6 298.7h1.3v1.3h-1.3zM410.5 296.4h1.3v1.3h-1.3zM401.2 300.1h1.3v1.3h-1.3zM406.3 298.3h1.3v1.3h-1.3zM411.0 302.9h1.3v1.3h-1.3zM408.9 300.1h1.3v1.3h-1.3zM409.6 299.0h1.3v1.3h-1.3zM405.7 303.9h1.3v1.3h-1.3zM403.5 297.0h1.3v1.3h-1.3zM415.6 301.8h1.3v1.3h-1.3zM404.9 299.3h1.3v1.3h-1.3zM414.3 307.1h1.3v1.3h-1.3zM396.3 302.0h1.3v1.3h-1.3zM399.2 304.6h1.3v1.3h-1.3zM411.3 295.6h1.3v1.3h-1.3zM408.2 301.6h1.3v1.3h-1.3zM405.1 298.2h1.3v1.3h-1.3zM407.7 304.5h1.3v1.3h-1.3zM405.0 304.2h1.3v1.3h-1.3zM404.1 304.3h1.3v1.3h-1.3zM405.8 305.2h1.3v1.3h-1.3zM418.8 295.0h1.3v1.3h-1.3zM410.9 307.7h1.3v1.3h-1.3zM411.3 309.5h1.3v1.3h-1.3zM410.8 294.3h1.3v1.3h-1.3zM409.5 305.9h1.3v1.3h-1.3zM414.4 311.1h1.3v1.3h-1.3zM404.1 312.4h1.3v1.3h-1.3zM427.6 301.8h1.3v1.3h-1.3zM404.2 296.6h1.3v1.3h-1.3zM411.1 311.0h1.3v1.3h-1.3zM402.3 303.1h1.3v1.3h-1.3zM416.7 298.8h1.3v1.3h-1.3zM409.9 298.9h1.3v1.3h-1.3zM409.2 297.6h1.3v1.3h-1.3zM409.6 306.9h1.3v1.3h-1.3zM410.0 300.1h1.3v1.3h-1.3zM405.8 311.0h1.3v1.3h-1.3zM418.9 311.2h1.3v1.3h-1.3zM406.5 301.9h1.3v1.3h-1.3zM410.1 302.9h1.3v1.3h-1.3zM406.5 299.8h1.3v1.3h-1.3zM408.3 298.0h1.3v1.3h-1.3zM410.9 308.3h1.3v1.3h-1.3zM404.4 299.4h1.3v1.3h-1.3zM403.7 307.6h1.3v1.3h-1.3zM418.6 295.4h1.3v1.3h-1.3zM409.8 297.7h1.3v1.3h-1.3zM413.3 295.7h1.3v1.3h-1.3zM410.5 310.3h1.3v1.3h-1.3zM414.7 302.8h1.3v1.3h-1.3zM410.6 300.3h1.3v1.3h-1.3zM411.2 312.3h1.3v1.3h-1.3zM413.8 312.2h1.3v1.3h-1.3zM408.9 310.7h1.3v1.3h-1.3zM404.5 295.2h1.3v1.3h-1.3zM417.6 296.9h1.3v1.3h-1.3zM401.7 296.2h1.3v1.3h-1.3zM413.6 302.8h1.3v1.3h-1.3zM409.1 307.9h1.3v1.3h-1.3zM403.5 301.5h1.3v1.3h-1.3zM398.8 294.8h1.3v1.3h-1.3zM405.2 304.9h1.3v1.3h-1.3zM409.2 296.8h1.3v1.3h-1.3zM408.6 301.7h1.3v1.3h-1.3zM405.1 298.9h1.3v1.3h-1.3zM409.7 293.4h1.3v1.3h-1.3zM410.5 297.2h1.3v1.3h-1.3zM416.6 295.7h1.3v1.3h-1.3zM406.8 303.3h1.3v1.3h-1.3zM410.2 316.7h1.3v1.3h-1.3zM405.1 299.2h1.3v1.3h-1.3zM410.3 302.4h1.3v1.3h-1.3zM418.8 297.8h1.3v1.3h-1.3zM412.7 316.2h1.3v1.3h-1.3zM416.5 298.8h1.3v1.3h-1.3zM413.1 304.2h1.3v1.3h-1.3zM407.7 307.1h1.3v1.3h-1.3zM408.6 289.1h1.3v1.3h-1.3zM410.0 297.3h1.3v1.3h-1.3zM410.1 305.0h1.3v1.3h-1.3zM416.0 303.5h1.3v1.3h-1.3zM405.5 296.5h1.3v1.3h-1.3zM406.4 303.7h1.3v1.3h-1.3zM415.8 309.7h1.3v1.3h-1.3zM399.0 309.8h1.3v1.3h-1.3zM408.4 297.0h1.3v1.3h-1.3zM410.2 304.1h1.3v1.3h-1.3zM407.6 301.3h1.3v1.3h-1.3zM408.6 293.6h1.3v1.3h-1.3zM414.3 288.5h1.3v1.3h-1.3zM410.5 300.0h1.3v1.3h-1.3zM416.6 301.0h1.3v1.3h-1.3zM414.7 304.9h1.3v1.3h-1.3zM405.4 298.1h1.3v1.3h-1.3zM407.2 302.4h1.3v1.3h-1.3zM407.4 291.7h1.3v1.3h-1.3zM410.9 297.0h1.3v1.3h-1.3zM409.9 303.2h1.3v1.3h-1.3zM404.8 305.1h1.3v1.3h-1.3zM407.4 298.2h1.3v1.3h-1.3zM412.3 300.3h1.3v1.3h-1.3zM409.6 304.8h1.3v1.3h-1.3zM400.1 302.4h1.3v1.3h-1.3zM410.4 301.0h1.3v1.3h-1.3zM406.5 302.7h1.3v1.3h-1.3zM405.2 303.3h1.3v1.3h-1.3zM401.6 301.4h1.3v1.3h-1.3zM407.0 300.7h1.3v1.3h-1.3zM404.1 304.5h1.3v1.3h-1.3zM415.9 292.8h1.3v1.3h-1.3zM415.3 299.6h1.3v1.3h-1.3zM405.4 306.2h1.3v1.3h-1.3zM403.2 301.6h1.3v1.3h-1.3zM410.7 301.4h1.3v1.3h-1.3zM418.5 299.5h1.3v1.3h-1.3zM411.0 293.6h1.3v1.3h-1.3zM418.6 297.2h1.3v1.3h-1.3zM401.3 306.0h1.3v1.3h-1.3zM409.1 301.3h1.3v1.3h-1.3zM404.0 304.8h1.3v1.3h-1.3zM405.5 299.6h1.3v1.3h-1.3zM409.6 298.8h1.3v1.3h-1.3zM407.1 301.1h1.3v1.3h-1.3zM409.5 296.9h1.3v1.3h-1.3zM407.2 304.9h1.3v1.3h-1.3zM402.0 297.3h1.3v1.3h-1.3zM405.1 300.9h1.3v1.3h-1.3zM406.1 298.0h1.3v1.3h-1.3zM417.0 299.7h1.3v1.3h-1.3zM412.9 296.2h1.3v1.3h-1.3zM408.8 306.7h1.3v1.3h-1.3zM411.1 300.9h1.3v1.3h-1.3zM409.1 297.9h1.3v1.3h-1.3zM414.1 309.6h1.3v1.3h-1.3zM413.6 306.0h1.3v1.3h-1.3zM412.4 302.5h1.3v1.3h-1.3zM403.3 307.9h1.3v1.3h-1.3zM398.3 297.3h1.3v1.3h-1.3zM408.4 308.9h1.3v1.3h-1.3zM406.7 308.2h1.3v1.3h-1.3zM409.9 305.5h1.3v1.3h-1.3zM413.7 303.7h1.3v1.3h-1.3zM420.5 305.2h1.3v1.3h-1.3zM408.3 306.0h1.3v1.3h-1.3zM418.0 305.1h1.3v1.3h-1.3zM405.4 302.9h1.3v1.3h-1.3zM406.1 302.2h1.3v1.3h-1.3zM402.3 295.4h1.3v1.3h-1.3zM413.5 312.4h1.3v1.3h-1.3zM413.8 299.0h1.3v1.3h-1.3zM405.4 310.4h1.3v1.3h-1.3zM418.1 305.8h1.3v1.3h-1.3zM401.3 303.7h1.3v1.3h-1.3zM411.0 300.2h1.3v1.3h-1.3zM406.6 311.7h1.3v1.3h-1.3zM412.0 303.2h1.3v1.3h-1.3zM407.0 299.8h1.3v1.3h-1.3zM411.3 310.7h1.3v1.3h-1.3zM410.6 304.1h1.3v1.3h-1.3zM412.3 293.6h1.3v1.3h-1.3zM407.9 305.7h1.3v1.3h-1.3zM408.5 295.9h1.3v1.3h-1.3zM410.6 306.2h1.3v1.3h-1.3zM409.5 299.1h1.3v1.3h-1.3zM413.8 301.2h1.3v1.3h-1.3zM416.8 303.4h1.3v1.3h-1.3zM409.5 301.1h1.3v1.3h-1.3zM410.8 302.3h1.3v1.3h-1.3zM411.7 299.0h1.3v1.3h-1.3zM414.4 307.1h1.3v1.3h-1.3zM407.9 296.0h1.3v1.3h-1.3zM410.9 305.7h1.3v1.3h-1.3zM402.6 308.3h1.3v1.3h-1.3zM419.3 306.7h1.3v1.3h-1.3zM416.9 299.4h1.3v1.3h-1.3zM413.3 291.3h1.3v1.3h-1.3zM405.5 309.4h1.3v1.3h-1.3zM406.2 298.6h1.3v1.3h-1.3zM414.7 299.9h1.3v1.3h-1.3zM407.1 298.0h1.3v1.3h-1.3zM412.3 298.1h1.3v1.3h-1.3zM400.2 302.1h1.3v1.3h-1.3zM405.8 304.5h1.3v1.3h-1.3zM421.1 311.7h1.3v1.3h-1.3zM405.6 293.0h1.3v1.3h-1.3zM410.4 304.3h1.3v1.3h-1.3zM406.4 306.7h1.3v1.3h-1.3zM413.4 304.8h1.3v1.3h-1.3zM420.3 302.7h1.3v1.3h-1.3zM410.0 301.1h1.3v1.3h-1.3zM405.3 297.5h1.3v1.3h-1.3zM411.3 301.3h1.3v1.3h-1.3zM401.2 304.2h1.3v1.3h-1.3zM410.0 305.7h1.3v1.3h-1.3zM406.0 303.0h1.3v1.3h-1.3zM405.7 305.4h1.3v1.3h-1.3zM411.5 301.5h1.3v1.3h-1.3zM408.5 303.1h1.3v1.3h-1.3zM402.6 305.8h1.3v1.3h-1.3zM409.6 298.3h1.3v1.3h-1.3zM403.8 293.0h1.3v1.3h-1.3zM412.9 311.2h1.3v1.3h-1.3zM412.4 301.8h1.3v1.3h-1.3zM406.6 301.5h1.3v1.3h-1.3zM408.5 304.7h1.3v1.3h-1.3zM409.5 303.0h1.3v1.3h-1.3zM405.2 301.1h1.3v1.3h-1.3zM413.2 308.8h1.3v1.3h-1.3zM405.7 299.3h1.3v1.3h-1.3zM404.9 306.8h1.3v1.3h-1.3zM411.2 301.6h1.3v1.3h-1.3zM417.7 312.2h1.3v1.3h-1.3zM401.1 301.9h1.3v1.3h-1.3zM415.9 297.1h1.3v1.3h-1.3zM403.4 295.0h1.3v1.3h-1.3zM409.3 307.5h1.3v1.3h-1.3zM414.4 303.1h1.3v1.3h-1.3zM421.0 298.3h1.3v1.3h-1.3zM416.3 303.4h1.3v1.3h-1.3zM400.9 300.5h1.3v1.3h-1.3zM407.7 303.4h1.3v1.3h-1.3zM419.9 300.4h1.3v1.3h-1.3zM412.5 301.9h1.3v1.3h-1.3zM408.5 307.2h1.3v1.3h-1.3zM414.2 299.5h1.3v1.3h-1.3zM411.7 301.8h1.3v1.3h-1.3zM408.3 303.8h1.3v1.3h-1.3zM412.2 301.5h1.3v1.3h-1.3zM411.2 294.6h1.3v1.3h-1.3zM414.0 295.6h1.3v1.3h-1.3zM406.5 308.3h1.3v1.3h-1.3zM411.8 301.8h1.3v1.3h-1.3zM406.1 296.8h1.3v1.3h-1.3zM397.7 301.6h1.3v1.3h-1.3zM408.0 295.1h1.3v1.3h-1.3zM413.8 301.9h1.3v1.3h-1.3zM406.4 288.8h1.3v1.3h-1.3zM409.2 293.7h1.3v1.3h-1.3zM399.2 319.8h1.3v1.3h-1.3zM402.8 304.4h1.3v1.3h-1.3zM420.5 307.4h1.3v1.3h-1.3zM399.6 310.5h1.3v1.3h-1.3zM410.9 289.8h1.3v1.3h-1.3zM405.8 305.7h1.3v1.3h-1.3zM408.3 305.3h1.3v1.3h-1.3zM412.5 291.1h1.3v1.3h-1.3zM408.6 293.7h1.3v1.3h-1.3zM402.9 302.8h1.3v1.3h-1.3zM404.3 301.2h1.3v1.3h-1.3zM403.6 305.2h1.3v1.3h-1.3zM419.9 295.8h1.3v1.3h-1.3zM402.9 306.1h1.3v1.3h-1.3zM412.5 315.1h1.3v1.3h-1.3zM409.1 310.9h1.3v1.3h-1.3zM425.8 309.3h1.3v1.3h-1.3zM404.3 299.4h1.3v1.3h-1.3zM407.6 293.6h1.3v1.3h-1.3zM404.9 302.0h1.3v1.3h-1.3zM409.8 316.5h1.3v1.3h-1.3zM405.7 291.7h1.3v1.3h-1.3zM409.9 315.5h1.3v1.3h-1.3zM411.1 300.3h1.3v1.3h-1.3zM407.3 320.5h1.3v1.3h-1.3zM405.6 300.6h1.3v1.3h-1.3zM399.8 305.0h1.3v1.3h-1.3zM412.2 302.5h1.3v1.3h-1.3zM405.9 307.4h1.3v1.3h-1.3zM408.1 294.8h1.3v1.3h-1.3zM415.9 308.2h1.3v1.3h-1.3zM420.2 318.8h1.3v1.3h-1.3zM417.7 304.7h1.3v1.3h-1.3zM418.8 297.2h1.3v1.3h-1.3zM407.5 302.7h1.3v1.3h-1.3zM398.2 295.0h1.3v1.3h-1.3zM397.6 313.4h1.3v1.3h-1.3zM406.5 311.0h1.3v1.3h-1.3zM412.0 311.3h1.3v1.3h-1.3zM419.2 306.2h1.3v1.3h-1.3zM414.7 303.4h1.3v1.3h-1.3zM403.7 309.9h1.3v1.3h-1.3zM404.9 302.1h1.3v1.3h-1.3zM405.1 307.2h1.3v1.3h-1.3zM407.3 295.2h1.3v1.3h-1.3zM404.9 314.2h1.3v1.3h-1.3zM405.5 302.0h1.3v1.3h-1.3zM410.9 307.1h1.3v1.3h-1.3zM403.7 307.0h1.3v1.3h-1.3zM407.7 296.5h1.3v1.3h-1.3zM395.9 301.7h1.3v1.3h-1.3zM404.0 296.7h1.3v1.3h-1.3zM406.8 303.8h1.3v1.3h-1.3zM396.7 304.1h1.3v1.3h-1.3zM400.7 308.0h1.3v1.3h-1.3zM400.2 314.0h1.3v1.3h-1.3zM422.7 304.9h1.3v1.3h-1.3zM407.7 300.2h1.3v1.3h-1.3zM416.7 307.9h1.3v1.3h-1.3zM422.7 300.0h1.3v1.3h-1.3zM405.1 303.2h1.3v1.3h-1.3zM404.2 317.0h1.3v1.3h-1.3zM407.2 307.9h1.3v1.3h-1.3zM405.0 296.9h1.3v1.3h-1.3zM412.1 289.4h1.3v1.3h-1.3zM404.4 305.8h1.3v1.3h-1.3zM412.9 288.2h1.3v1.3h-1.3zM401.5 307.0h1.3v1.3h-1.3zM406.3 294.6h1.3v1.3h-1.3zM409.8 310.4h1.3v1.3h-1.3zM398.5 300.4h1.3v1.3h-1.3zM407.8 294.4h1.3v1.3h-1.3zM407.2 303.3h1.3v1.3h-1.3zM423.1 306.1h1.3v1.3h-1.3zM414.2 304.7h1.3v1.3h-1.3zM397.5 290.1h1.3v1.3h-1.3zM412.0 309.7h1.3v1.3h-1.3zM422.5 298.7h1.3v1.3h-1.3zM404.4 309.9h1.3v1.3h-1.3zM414.4 308.4h1.3v1.3h-1.3zM407.5 291.8h1.3v1.3h-1.3zM399.7 302.7h1.3v1.3h-1.3zM422.1 297.9h1.3v1.3h-1.3zM393.1 302.6h1.3v1.3h-1.3zM411.4 302.9h1.3v1.3h-1.3zM399.7 293.8h1.3v1.3h-1.3zM408.9 304.9h1.3v1.3h-1.3zM411.6 297.7h1.3v1.3h-1.3zM413.0 301.5h1.3v1.3h-1.3zM410.4 306.4h1.3v1.3h-1.3zM408.1 306.6h1.3v1.3h-1.3zM411.4 300.9h1.3v1.3h-1.3zM401.7 298.6h1.3v1.3h-1.3zM408.4 318.3h1.3v1.3h-1.3zM411.5 313.0h1.3v1.3h-1.3zM403.1 308.6h1.3v1.3h-1.3zM406.1 294.8h1.3v1.3h-1.3zM420.3 303.2h1.3v1.3h-1.3zM412.9 287.1h1.3v1.3h-1.3zM407.3 310.6h1.3v1.3h-1.3zM410.6 309.8h1.3v1.3h-1.3zM414.2 291.8h1.3v1.3h-1.3zM406.0 293.4h1.3v1.3h-1.3zM413.6 297.3h1.3v1.3h-1.3zM418.8 310.2h1.3v1.3h-1.3zM422.4 297.0h1.3v1.3h-1.3zM419.4 298.3h1.3v1.3h-1.3zM407.3 298.6h1.3v1.3h-1.3zM413.9 302.8h1.3v1.3h-1.3zM408.7 307.0h1.3v1.3h-1.3zM417.2 299.5h1.3v1.3h-1.3zM410.5 287.2h1.3v1.3h-1.3zM413.8 305.6h1.3v1.3h-1.3zM408.5 294.0h1.3v1.3h-1.3zM412.3 296.1h1.3v1.3h-1.3zM404.1 297.0h1.3v1.3h-1.3zM420.9 296.7h1.3v1.3h-1.3zM397.6 295.5h1.3v1.3h-1.3zM412.5 306.4h1.3v1.3h-1.3zM406.9 320.3h1.3v1.3h-1.3zM398.8 297.2h1.3v1.3h-1.3zM415.5 301.4h1.3v1.3h-1.3zM406.5 302.9h1.3v1.3h-1.3zM400.0 304.2h1.3v1.3h-1.3zM399.0 291.3h1.3v1.3h-1.3zM411.8 305.2h1.3v1.3h-1.3zM400.6 312.0h1.3v1.3h-1.3zM416.3 303.1h1.3v1.3h-1.3zM402.7 296.7h1.3v1.3h-1.3zM410.7 305.5h1.3v1.3h-1.3zM404.9 285.1h1.3v1.3h-1.3zM412.4 310.8h1.3v1.3h-1.3zM411.3 317.1h1.3v1.3h-1.3zM406.5 312.1h1.3v1.3h-1.3zM405.5 301.6h1.3v1.3h-1.3zM409.2 294.5h1.3v1.3h-1.3zM408.5 286.0h1.3v1.3h-1.3zM404.2 299.4h1.3v1.3h-1.3zM403.1 305.0h1.3v1.3h-1.3zM403.9 302.8h1.3v1.3h-1.3zM407.9 306.6h1.3v1.3h-1.3zM407.5 306.0h1.3v1.3h-1.3zM407.7 306.1h1.3v1.3h-1.3zM420.0 301.3h1.3v1.3h-1.3zM407.4 295.3h1.3v1.3h-1.3zM412.7 302.3h1.3v1.3h-1.3zM400.2 312.2h1.3v1.3h-1.3zM404.7 304.5h1.3v1.3h-1.3zM407.2 320.3h1.3v1.3h-1.3zM396.4 306.4h1.3v1.3h-1.3zM407.0 315.3h1.3v1.3h-1.3zM407.9 307.9h1.3v1.3h-1.3zM420.1 308.0h1.3v1.3h-1.3zM422.4 292.4h1.3v1.3h-1.3zM396.1 302.1h1.3v1.3h-1.3zM406.8 287.2h1.3v1.3h-1.3zM413.1 301.3h1.3v1.3h-1.3zM403.8 312.8h1.3v1.3h-1.3zM419.7 297.1h1.3v1.3h-1.3zM418.9 288.9h1.3v1.3h-1.3zM408.9 308.0h1.3v1.3h-1.3zM414.0 310.5h1.3v1.3h-1.3zM408.9 307.2h1.3v1.3h-1.3zM409.8 296.7h1.3v1.3h-1.3zM406.8 294.4h1.3v1.3h-1.3zM417.0 308.8h1.3v1.3h-1.3zM411.7 287.7h1.3v1.3h-1.3zM404.3 293.4h1.3v1.3h-1.3zM410.2 295.6h1.3v1.3h-1.3zM407.0 314.3h1.3v1.3h-1.3zM406.2 300.2h1.3v1.3h-1.3zM410.1 311.4h1.3v1.3h-1.3zM411.6 296.3h1.3v1.3h-1.3zM398.2 289.6h1.3v1.3h-1.3zM393.4 322.5h1.3v1.3h-1.3zM405.0 309.9h1.3v1.3h-1.3zM413.8 313.7h1.3v1.3h-1.3zM409.9 307.5h1.3v1.3h-1.3zM392.5 326.0h1.3v1.3h-1.3zM421.1 307.5h1.3v1.3h-1.3zM416.7 300.4h1.3v1.3h-1.3zM412.0 316.8h1.3v1.3h-1.3zM417.4 299.9h1.3v1.3h-1.3zM407.4 307.4h1.3v1.3h-1.3zM404.0 299.8h1.3v1.3h-1.3zM412.6 295.6h1.3v1.3h-1.3zM411.2 303.8h1.3v1.3h-1.3zM409.4 299.9h1.3v1.3h-1.3zM405.5 295.8h1.3v1.3h-1.3zM418.4 295.7h1.3v1.3h-1.3zM414.5 294.1h1.3v1.3h-1.3zM419.5 299.5h1.3v1.3h-1.3zM415.2 292.0h1.3v1.3h-1.3zM396.8 301.3h1.3v1.3h-1.3zM404.6 302.0h1.3v1.3h-1.3zM405.4 309.0h1.3v1.3h-1.3zM412.3 319.4h1.3v1.3h-1.3zM404.5 298.2h1.3v1.3h-1.3zM405.4 313.7h1.3v1.3h-1.3zM414.5 305.1h1.3v1.3h-1.3zM407.3 299.0h1.3v1.3h-1.3zM404.8 312.5h1.3v1.3h-1.3zM409.9 295.2h1.3v1.3h-1.3zM406.8 311.6h1.3v1.3h-1.3zM412.6 316.4h1.3v1.3h-1.3zM413.8 303.4h1.3v1.3h-1.3zM410.8 295.9h1.3v1.3h-1.3zM415.1 307.8h1.3v1.3h-1.3zM402.8 303.8h1.3v1.3h-1.3zM415.6 313.6h1.3v1.3h-1.3zM401.2 299.6h1.3v1.3h-1.3zM404.2 304.6h1.3v1.3h-1.3zM414.9 301.5h1.3v1.3h-1.3zM407.1 311.3h1.3v1.3h-1.3zM409.1 294.7h1.3v1.3h-1.3zM407.6 296.2h1.3v1.3h-1.3zM413.9 303.6h1.3v1.3h-1.3zM410.4 303.7h1.3v1.3h-1.3zM421.1 300.1h1.3v1.3h-1.3zM405.9 295.6h1.3v1.3h-1.3zM423.5 306.8h1.3v1.3h-1.3zM404.1 300.9h1.3v1.3h-1.3zM402.4 307.3h1.3v1.3h-1.3zM415.8 303.0h1.3v1.3h-1.3zM407.9 298.5h1.3v1.3h-1.3zM409.8 303.9h1.3v1.3h-1.3zM407.0 298.2h1.3v1.3h-1.3zM408.2 312.9h1.3v1.3h-1.3zM406.8 304.4h1.3v1.3h-1.3zM411.2 299.4h1.3v1.3h-1.3zM407.7 310.8h1.3v1.3h-1.3zM409.1 296.0h1.3v1.3h-1.3zM403.0 296.3h1.3v1.3h-1.3zM415.5 296.3h1.3v1.3h-1.3zM413.6 285.3h1.3v1.3h-1.3zM410.5 286.6h1.3v1.3h-1.3zM409.2 288.9h1.3v1.3h-1.3zM406.2 287.0h1.3v1.3h-1.3zM409.1 285.3h1.3v1.3h-1.3zM422.8 283.7h1.3v1.3h-1.3zM413.2 288.0h1.3v1.3h-1.3zM411.1 286.5h1.3v1.3h-1.3zM401.8 289.8h1.3v1.3h-1.3zM417.8 279.8h1.3v1.3h-1.3zM410.2 283.6h1.3v1.3h-1.3zM413.1 287.1h1.3v1.3h-1.3zM403.6 287.4h1.3v1.3h-1.3zM418.0 287.4h1.3v1.3h-1.3zM421.3 286.9h1.3v1.3h-1.3zM401.6 288.4h1.3v1.3h-1.3zM396.3 289.1h1.3v1.3h-1.3zM404.9 290.2h1.3v1.3h-1.3zM416.2 289.5h1.3v1.3h-1.3zM408.9 285.4h1.3v1.3h-1.3zM409.6 287.4h1.3v1.3h-1.3zM413.6 288.0h1.3v1.3h-1.3zM417.5 285.1h1.3v1.3h-1.3zM404.5 286.4h1.3v1.3h-1.3zM403.1 287.3h1.3v1.3h-1.3zM412.7 290.9h1.3v1.3h-1.3zM399.7 289.0h1.3v1.3h-1.3zM414.9 288.8h1.3v1.3h-1.3zM406.9 285.8h1.3v1.3h-1.3zM397.3 285.6h1.3v1.3h-1.3zM416.5 285.4h1.3v1.3h-1.3zM405.8 287.7h1.3v1.3h-1.3zM412.0 280.7h1.3v1.3h-1.3zM413.8 289.5h1.3v1.3h-1.3zM410.2 283.3h1.3v1.3h-1.3zM411.1 286.5h1.3v1.3h-1.3zM412.8 287.0h1.3v1.3h-1.3zM401.1 288.2h1.3v1.3h-1.3zM416.8 284.7h1.3v1.3h-1.3zM404.0 286.7h1.3v1.3h-1.3zM407.5 287.4h1.3v1.3h-1.3zM404.5 281.6h1.3v1.3h-1.3zM408.3 285.4h1.3v1.3h-1.3zM406.8 288.0h1.3v1.3h-1.3zM410.8 282.4h1.3v1.3h-1.3zM405.1 283.0h1.3v1.3h-1.3zM418.5 288.2h1.3v1.3h-1.3zM398.0 285.2h1.3v1.3h-1.3zM410.2 292.0h1.3v1.3h-1.3zM405.8 286.6h1.3v1.3h-1.3zM416.1 287.6h1.3v1.3h-1.3zM402.4 283.4h1.3v1.3h-1.3zM406.5 289.1h1.3v1.3h-1.3zM416.7 287.5h1.3v1.3h-1.3zM417.1 284.1h1.3v1.3h-1.3zM407.9 285.2h1.3v1.3h-1.3zM415.1 281.6h1.3v1.3h-1.3zM408.1 287.5h1.3v1.3h-1.3zM410.3 286.7h1.3v1.3h-1.3zM409.8 284.0h1.3v1.3h-1.3zM413.3 306.2h1.3v1.3h-1.3zM400.3 304.7h1.3v1.3h-1.3zM403.5 312.1h1.3v1.3h-1.3zM394.7 320.8h1.3v1.3h-1.3zM386.0 316.5h1.3v1.3h-1.3zM407.6 317.0h1.3v1.3h-1.3zM418.6 316.2h1.3v1.3h-1.3zM408.3 319.7h1.3v1.3h-1.3zM407.6 308.3h1.3v1.3h-1.3zM402.5 316.8h1.3v1.3h-1.3zM406.1 315.4h1.3v1.3h-1.3zM406.3 306.9h1.3v1.3h-1.3zM404.5 319.3h1.3v1.3h-1.3zM403.4 320.9h1.3v1.3h-1.3zM407.7 309.7h1.3v1.3h-1.3zM409.9 325.2h1.3v1.3h-1.3zM407.8 311.4h1.3v1.3h-1.3zM396.1 322.3h1.3v1.3h-1.3zM415.2 315.7h1.3v1.3h-1.3zM409.6 315.2h1.3v1.3h-1.3zM408.7 318.7h1.3v1.3h-1.3zM409.4 319.4h1.3v1.3h-1.3zM412.0 315.5h1.3v1.3h-1.3zM402.2 317.1h1.3v1.3h-1.3zM399.6 320.2h1.3v1.3h-1.3zM408.4 315.1h1.3v1.3h-1.3zM404.7 309.3h1.3v1.3h-1.3zM416.8 312.7h1.3v1.3h-1.3zM408.0 316.3h1.3v1.3h-1.3zM406.3 314.8h1.3v1.3h-1.3zM389.3 317.2h1.3v1.3h-1.3zM401.9 315.5h1.3v1.3h-1.3zM407.7 322.6h1.3v1.3h-1.3zM407.0 314.1h1.3v1.3h-1.3zM395.6 310.6h1.3v1.3h-1.3zM393.2 319.6h1.3v1.3h-1.3zM410.5 322.1h1.3v1.3h-1.3zM405.7 318.6h1.3v1.3h-1.3zM404.8 308.5h1.3v1.3h-1.3zM392.3 321.5h1.3v1.3h-1.3zM351.9 315.8h1.3v1.3h-1.3zM299.6 306.0h1.3v1.3h-1.3zM348.8 298.0h1.3v1.3h-1.3zM303.6 300.1h1.3v1.3h-1.3zM288.2 298.4h1.3v1.3h-1.3zM367.2 317.3h1.3v1.3h-1.3zM299.0 308.2h1.3v1.3h-1.3zM369.4 297.4h1.3v1.3h-1.3z" fill="#d9691e"/>
<rect x="269.7" y="262.8" width="173.30" height="123.60" fill="none" stroke="#8c8c8c" stroke-width="0.7"/>
<line x1="269.7" y1="368.3" x2="271.7" y2="368.3" stroke="#8c8c8c" stroke-width="0.7"/>
<line x1="443.0" y1="368.3" x2="441.0" y2="368.3" stroke="#8c8c8c" stroke-width="0.7"/>
<text x="265.9" y="372.60" text-anchor="end" font-size="12" font-family="Liberation Sans, sans-serif" fill="#262626">30</text>
<line x1="269.7" y1="338.3" x2="271.7" y2="338.3" stroke="#8c8c8c" stroke-width="0.7"/>
<line x1="443.0" y1="338.3" x2="441.0" y2="338.3" stroke="#8c8c8c" stroke-width="0.7"/>
<text x="265.9" y="342.60" text-anchor="end" font-size="12" font-family="Liberation Sans, sans-serif" fill="#262626">40</text>
<line x1="269.7" y1="308.4" x2="271.7" y2="308.4" stroke="#8c8c8c" stroke-width="0.7"/>
<line x1="443.0" y1="308.4" x2="441.0" y2="308.4" stroke="#8c8c8c" stroke-width="0.7"/>
<text x="265.9" y="312.70" text-anchor="end" font-size="12" font-family="Liberation Sans, sans-serif" fill="#262626">50</text>
<line x1="269.7" y1="278.3" x2="271.7" y2="278.3" stroke="#8c8c8c" stroke-width="0.7"/>
<line x1="443.0" y1="278.3" x2="441.0" y2="278.3" stroke="#8c8c8c" stroke-width="0.7"/>
<text x="265.9" y="282.60" text-anchor="end" font-size="12" font-family="Liberation Sans, sans-serif" fill="#262626">60</text>
<line x1="315.2" y1="386.4" x2="315.2" y2="384.4" stroke="#8c8c8c" stroke-width="0.7"/>
<line x1="315.2" y1="262.8" x2="315.2" y2="264.8" stroke="#8c8c8c" stroke-width="0.7"/>
<text x="315.2" y="402.3" text-anchor="middle" font-size="12" font-family="Liberation Sans, sans-serif" fill="#262626">40</text>
<line x1="358.7" y1="386.4" x2="358.7" y2="384.4" stroke="#8c8c8c" stroke-width="0.7"/>
<line x1="358.7" y1="262.8" x2="358.7" y2="264.8" stroke="#8c8c8c" stroke-width="0.7"/>
<text x="358.7" y="402.3" text-anchor="middle" font-size="12" font-family="Liberation Sans, sans-serif" fill="#262626">60</text>
<line x1="402.2" y1="386.4" x2="402.2" y2="384.4" stroke="#8c8c8c" stroke-width="0.7"/>
<line x1="402.2" y1="262.8" x2="402.2" y2="264.8" stroke="#8c8c8c" stroke-width="0.7"/>
<text x="402.2" y="402.3" text-anchor="middle" font-size="12" font-family="Liberation Sans, sans-serif" fill="#262626">80</text>
<text transform="translate(235.0,324.0) rotate(-90)" text-anchor="middle" font-size="13" font-family="Liberation Sans, sans-serif" fill="#262626" textLength="117.7" lengthAdjust="spacingAndGlyphs">Return Temperature</text>
<text transform="translate(250.5,322.1) rotate(-90)" text-anchor="middle" font-size="13" font-family="Liberation Sans, sans-serif" fill="#262626" textLength="27.8" lengthAdjust="spacingAndGlyphs">in °C</text>
<text x="280.3" y="417.9" text-anchor="start" font-size="13" font-family="Liberation Sans, sans-serif" fill="#262626" textLength="151.6" lengthAdjust="spacingAndGlyphs">Supply Temperature in °C</text>
<text x="365.5" y="366.4" text-anchor="middle" font-size="12" font-family="Liberation Sans, sans-serif" fill="#111">Robust linear</text>
<text x="366.6" y="380.3" text-anchor="middle" font-size="12" font-family="Liberation Sans, sans-serif" fill="#111">correlation of temperatures</text>
<line x1="384.6" y1="351.5" x2="374.64" y2="340.85" stroke="#222" stroke-width="0.8"/>
<path d="M370.20 336.10L376.81 339.51L373.96 340.12L373.15 342.92Z" fill="#111"/>
<path d="M501.50 387.2V380.20H506.20V387.2M506.20 387.2V345.30H510.90V387.2M510.90 387.2V286.10H515.60V387.2M515.60 387.2V307.40H520.30V387.2M520.30 387.2V330.60H525.00V387.2M525.00 387.2V342.70H529.70V387.2M529.70 387.2V352.10H534.40V387.2M534.40 387.2V355.00H539.10V387.2M539.10 387.2V355.50H543.80V387.2M543.80 387.2V358.40H548.50V387.2M548.50 387.2V362.20H553.20V387.2M553.20 387.2V364.40H557.90V387.2M557.90 387.2V362.20H562.60V387.2M562.60 387.2V361.30H567.30V387.2M567.30 387.2V365.40H572.00V387.2M572.00 387.2V369.50H576.70V387.2M576.70 387.2V371.20H581.40V387.2M581.40 387.2V373.40H586.10V387.2M586.10 387.2V374.20H590.80V387.2M590.80 387.2V375.40H595.50V387.2M595.50 387.2V375.40H600.20V387.2M600.20 387.2V373.20H604.90V387.2M604.90 387.2V365.50H609.60V387.2M609.60 387.2V357.00H614.30V387.2M614.30 387.2V357.20H619.00V387.2M619.00 387.2V374.20H623.70V387.2M623.70 387.2V380.00H628.40V387.2M628.40 387.2V381.00H633.10V387.2M633.10 387.2V382.30H637.80V387.2M637.80 387.2V381.00H642.50V387.2M642.50 387.2V380.00H647.20V387.2M647.20 387.2V376.30H651.90V387.2M651.90 387.2V379.20H656.60V387.2M656.60 387.2V386.20H661.30V387.2" fill="#fff" stroke="#555555" stroke-width="0.75"/>
<rect x="493.7" y="262.5" width="175.50" height="124.70" fill="none" stroke="#8c8c8c" stroke-width="0.7"/>
<line x1="493.7" y1="387.2" x2="495.7" y2="387.2" stroke="#8c8c8c" stroke-width="0.7"/>
<line x1="669.2" y1="387.2" x2="667.2" y2="387.2" stroke="#8c8c8c" stroke-width="0.7"/>
<text x="489.6" y="391.50" text-anchor="end" font-size="12" font-family="Liberation Sans, sans-serif" fill="#262626">0</text>
<line x1="493.7" y1="345.6" x2="495.7" y2="345.6" stroke="#8c8c8c" stroke-width="0.7"/>
<line x1="669.2" y1="345.6" x2="667.2" y2="345.6" stroke="#8c8c8c" stroke-width="0.7"/>
<text x="489.6" y="349.90" text-anchor="end" font-size="12" font-family="Liberation Sans, sans-serif" fill="#262626">0.05</text>
<line x1="493.7" y1="304.1" x2="495.7" y2="304.1" stroke="#8c8c8c" stroke-width="0.7"/>
<line x1="669.2" y1="304.1" x2="667.2" y2="304.1" stroke="#8c8c8c" stroke-width="0.7"/>
<text x="489.6" y="308.40" text-anchor="end" font-size="12" font-family="Liberation Sans, sans-serif" fill="#262626">0.1</text>
<line x1="493.7" y1="262.5" x2="495.7" y2="262.5" stroke="#8c8c8c" stroke-width="0.7"/>
<line x1="669.2" y1="262.5" x2="667.2" y2="262.5" stroke="#8c8c8c" stroke-width="0.7"/>
<text x="489.6" y="266.80" text-anchor="end" font-size="12" font-family="Liberation Sans, sans-serif" fill="#262626">0.15</text>
<line x1="511.3" y1="387.2" x2="511.3" y2="385.2" stroke="#8c8c8c" stroke-width="0.7"/>
<line x1="511.3" y1="262.5" x2="511.3" y2="264.5" stroke="#8c8c8c" stroke-width="0.7"/>
<text x="511.3" y="402.3" text-anchor="middle" font-size="12" font-family="Liberation Sans, sans-serif" fill="#262626">30</text>
<line x1="558.0" y1="387.2" x2="558.0" y2="385.2" stroke="#8c8c8c" stroke-width="0.7"/>
<line x1="558.0" y1="262.5" x2="558.0" y2="264.5" stroke="#8c8c8c" stroke-width="0.7"/>
<text x="558.0" y="402.3" text-anchor="middle" font-size="12" font-family="Liberation Sans, sans-serif" fill="#262626">40</text>
<line x1="604.8" y1="387.2" x2="604.8" y2="385.2" stroke="#8c8c8c" stroke-width="0.7"/>
<line x1="604.8" y1="262.5" x2="604.8" y2="264.5" stroke="#8c8c8c" stroke-width="0.7"/>
<text x="604.8" y="402.3" text-anchor="middle" font-size="12" font-family="Liberation Sans, sans-serif" fill="#262626">50</text>
<line x1="651.5" y1="387.2" x2="651.5" y2="385.2" stroke="#8c8c8c" stroke-width="0.7"/>
<line x1="651.5" y1="262.5" x2="651.5" y2="264.5" stroke="#8c8c8c" stroke-width="0.7"/>
<text x="651.5" y="402.3" text-anchor="middle" font-size="12" font-family="Liberation Sans, sans-serif" fill="#262626">60</text>
<text transform="translate(461.2,324.6) rotate(-90)" text-anchor="middle" font-size="13" font-family="Liberation Sans, sans-serif" fill="#262626" textLength="61.0" lengthAdjust="spacingAndGlyphs">Probability</text>
<text x="506.0" y="418.5" text-anchor="start" font-size="13" font-family="Liberation Sans, sans-serif" fill="#262626" textLength="150.6" lengthAdjust="spacingAndGlyphs">Return Temperature in °C</text>
<text x="180.8" y="336.6" text-anchor="middle" font-size="12" font-family="Liberation Sans, sans-serif" fill="#111">Increase of</text>
<text x="178.6" y="351.9" text-anchor="middle" font-size="12" font-family="Liberation Sans, sans-serif" fill="#111">temperatures</text>
<text x="179.2" y="367.9" text-anchor="middle" font-size="12" font-family="Liberation Sans, sans-serif" fill="#111">for higher</text>
<text x="180.9" y="383.1" text-anchor="middle" font-size="12" font-family="Liberation Sans, sans-serif" fill="#111">volume flows</text>
<line x1="204.5" y1="315.6" x2="129.73" y2="220.40" stroke="#222" stroke-width="0.8"/>
<path d="M125.10 214.50L132.20 219.09L129.11 219.61L127.88 222.49Z" fill="#111"/>
<line x1="149.9" y1="335.7" x2="139.68" y2="324.31" stroke="#222" stroke-width="0.8"/>
<path d="M135.00 319.10L141.94 322.94L139.01 323.57L138.07 326.42Z" fill="#111"/>
<text x="246.6" y="40.7" text-anchor="start" font-size="12" font-family="Liberation Sans, sans-serif" fill="#111" textLength="255.3" lengthAdjust="spacingAndGlyphs" font-weight="bold">Targets of prediction for exemplary building:</text>
<text x="247.0" y="67.3" text-anchor="start" font-size="12" font-family="Liberation Sans, sans-serif" fill="#111">Histograms: frequency of occurences</text>
<text x="247.0" y="98.2" text-anchor="start" font-size="12" font-family="Liberation Sans, sans-serif" fill="#111">Scatterplots: interdependencies of targets</text>
<text x="462.4" y="151.1" text-anchor="start" font-size="12" font-family="Liberation Sans, sans-serif" fill="#111">Operational modes:</text>
<circle cx="450.2" cy="167.8" r="2.2" fill="#083d64"/>
<text x="461.0" y="172.1" text-anchor="start" font-size="12" font-family="Liberation Sans, sans-serif" fill="#111">Non-stationary cooling down of substation</text>
<circle cx="450.5" cy="193.9" r="2.2" fill="#d9691e"/>
<text x="461.4" y="192.0" text-anchor="start" font-size="12" font-family="Liberation Sans, sans-serif" fill="#111">Restarting and replacement of cooled</text>
<text x="461.4" y="206.2" text-anchor="start" font-size="12" font-family="Liberation Sans, sans-serif" fill="#111">down heat carrier</text>
<circle cx="450.5" cy="221.4" r="2.2" fill="#c8c8c8"/>
<text x="461.4" y="225.8" text-anchor="start" font-size="12" font-family="Liberation Sans, sans-serif" fill="#111">Stationary heat supply</text>
</svg></body></html>
